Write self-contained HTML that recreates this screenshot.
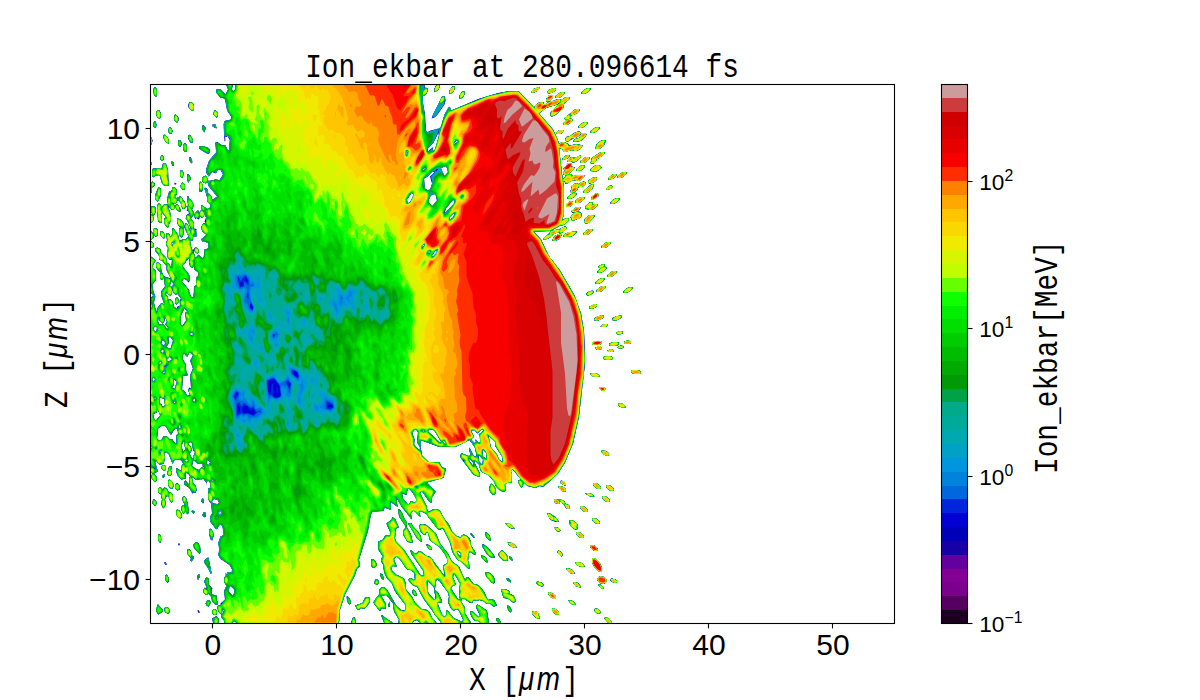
<!DOCTYPE html>
<html><head><meta charset="utf-8"><title>Ion_ekbar at 280.096614 fs</title>
<style>
html,body{margin:0;padding:0;background:#fff;overflow:hidden;}
svg{display:block;}
.tl{font-family:"Liberation Sans",sans-serif;font-size:30.0px;fill:#000;}
.tl2{font-family:"Liberation Sans",sans-serif;font-size:22.6px;fill:#000;}
.mono{font-family:"Liberation Mono",monospace;font-size:27.8px;fill:#000;}
.it{font-family:"Liberation Sans",sans-serif;font-style:italic;}
</style></head>
<body>
<svg width="1200" height="700" viewBox="0 0 1200 700">
<defs><clipPath id="ax"><rect x="150.0" y="84.0" width="745.0" height="540.0"/></clipPath></defs>
<g clip-path="url(#ax)">
<g transform="scale(0.5)" fill-rule="evenodd">
<path fill="#0000d5" d="M452 169l14 0-2 10 3 3 3-3 0-10 372 0 1 2 6-2 0 6 6 1 1 5-4 8-7 4 1 14 4 20 2 34 3 3 6-3 18-4 3-4 7-24 10-16 2 8 4-1 52-22 40-12 22-4 18 0 32 34 1-5 9-7 8 0 0 4 6 0 3-3-4-2 0-4 7-9 6 0 1 3-9 10 2 1 16-6 8 2 8-6 8 0 1 3-12 10-2 4 2 4-17 15-8 4-3-3 2-8 10-8 3-7-20 6-17 13 28 32 13 29 4-4 6 0 8 4 0 4 16-4 13 3-11 11-12-2-16 4-2-6-7-1 7 59 2 2 5-7-6-2 0-4 4-4-4-2 1-2 10-11 6 0-1 7 8 2-11 13 4 0 2 4 25-1-11 11-14-2-12 8-3-1-1-5-3 3 2 8 0 56-4 10 13-3 1 5-9 9-10 2-18 10-33 1 14 16 16 34 22 28 28 48 14 38 6 36 2 64-10 72-2 34-12 54-16 38-14 22-29 27-8-2-8 4-16-4-8-8-1 9-3 2-7-10 0-4 6-2-17-21-3 3 2 24-11 1-3 3 2 12-3 3-8-2-9-9-4-10-11-13-15-7-4-14-7-7-3 1 12 24-1 7-12-4-25-33-2-6 3-5 14 6 5-1-4-10 1-6 9 18 5 0-3-18-11-15-28 14-6 0-26 0-38-14-1 7 4 24 13 13 22 0 5 11 7 1 1 3-5 17-33 9 18 18-8 12-1 11-5-3-13-19-4 0-1 3 14 26 0 8 3 3 10-6 12 2 9 17 10 12 6 14 9 9 8 2 6-6 11 7 4 8 0 8 10 16-3 3-8-6-3 1-2 16 4 16-3 1-16-16-7-3-10-16-4-18-14-28-7 3-4-2-22-30-12-6-3 3 3 9-12-12-4 0-3 5 1 12-9-14-10-10-11-20 2 19-14-10 0 16-12-5-2 7-22 2-3 5-6 34-18 56 2 14-6 4-4 14-20 38-10 30-2 26-206 0-3-3-3 3-18 0 0-4-6-6 0-6-6-6-2-10 3-3 4 0 0-3 9-8-2-18 4-6 0-6-4-4 0-6 0-4 5-4-2-2 0-4 2 4 2-4 8 0 1-6-5-9-18-12-4-7 1-12-1-14 4-12 5-2 0-14-3-7-4 0-6 9-13-16 0-10 4-6-2-20-4-4-2-10 0-16 6-2-2-10-3-3-3 1-1 10 0-8-6-7-16 2-4-6-3 3 2 8 6 6 1 8-2 7-6-1 0 4-5-12-12-8 0-6 3-2 6 7 1-1 0-12 2-2-4-6-5-1 1 11-9 2-7-6-4-10 1-7 9 5 0-8 4-6-2-4-3-3-12 0-4 8-7-19-5-5-5 3 2 10-3 11-8 2-6-8-3 1 6 20-8 4 5 6 1 8-5 3-7-9 2-8-3-3 0-10 3-1-3-5 0-28 3-5-3-5 0-84 3 1-3-3 0-188 3-1-2-20 4-4-5-7 0-72 11 9-6 8 0 8 6 4 0 18-6 8 0 4 0 10 5 12-3 12 5 19 1-7 6-8 3-3 4 3 1-2-6-16 0-8 8-10-2-16-1-1-4 4-3-3 0-12-8-10 0-8 3-3 7 5 0 10 5 13 15 5-9-16-1-10-7-9-7-3 0-8-8-10 0-4 5-2 7 4 0 6 10 10 2 10 9 10 1-16-5 1-5-7 2-18-4-4 2-10-2-14 5-1 4 7 3-4 0-12 3-1 9 13 3 13 8-4 4 2 4-6 3 1-9-20-3 4 2 6-2 8-3 3-5-5 0-14 2-2-6-8 1-11 11 7 3 10 2-7 5 3 5 14 1-6-6-14-5-6 4-9 5 1-3-2 1-4-5-2 2-2-2-6-4 5-5-1-2-10-5-8-6 9-9-1 5 1 2 4 6-4 7 11-1 5-6-2-4-8-6 6-9-7 6 20 0 10-4 4-1 8-4-1-5-7 0-10 4-2-7-9-3 5 2 14-5 1-3-5-2-30 3-4 5 2 1 11 1-7 5-5 7 1-2-12 4-14 6-2 1-7 4 0 4 5 1 10-4 4 3 3 8-4 8 11 4 10 3-2-2-18 4 0 0 4 8 8 1 8-3 6 5 9 6-7 2 0 0 5 7-7-1-9 12 8 5-3 0-6-6-6 0-10-5-17 2-1 5 4 0 6 6 6 3 9 9-7-18-22 0-6-5 2-7-4 0-8 7-4 6 11 14-3 8 1 7-11-5-9-6 0-2 5-2 2-6-3-8 9-5-8 0-6 6-18 14-16-1-20 4-1 8 6 8 1 3 8 3 2 1-2 2-18-5-9-2 2-3-1 1 8-2 2-2-34 2-7 13-3 0-6-8-12-4-22-3-3-6-1-9-10 1-6 8-1 10 10 5-9zM813 300l-1 9 1 1 3-7zM823 386l-9 13 1 7 5-1 6-12 0-6zM829 860l-5 5 5 14-1 10 11 12 1-6-6-10 2-20-3-5zM849 336l-3 3 1 2 5-4zM877 265l-10 20-11 12-1 7 10-9 2 0-2 2 2 5 3-3 8-26zM891 332l-9 5 7 15 7-7-2-10zM905 400l-13 17-3 10 19-20 2-6zM913 280l-5 7 1 2 7-6zM963 858l-8 9-6-7-7 1 6 12-6 6 7 7 3-1-1-7 6 8 3-1 0-12-3-4 11-8zM977 871l5 24 12 14 4 10 7 5-1-11-14-22 0-8zM939 916l-1 5 9 11-1-7zM915 1102l-1 3 7 9 1-7zM445 1218l-1 9 1 1 3-7zM461 1172l-3 3 0 8 7 8 3-4 0-8zM307 755l-3 4 5 5 1-7zM311 652l-3 3 0 6 5 3 1-9zM315 818l-1 7-8 4 3 11 4 0 7-9zM317 635l-1 8 3 6 4-1 2-1-6-6zM325 680l-3 7 7 6 1-8zM329 632l0 11-4 4 10 12 1-4-6-6 4-6zM343 562l-3 9 5 4 1-10zM345 484l-1 3 1 4 5-6zM379 516l-13 13 0 6 10 10 4 8 0 8-3 4-6-7-4 0-3 5 15 18-1 4 4 8 5 3 1-23 4-2 0-16 4-4 0-6-7-6-2-7-2 4-5-3-2-6zM387 430l-5 7 6 8 0 12 5 1-1 11 2 2-1 2-7 0-1 9-5-1 2 12 3 8 6-7 7 7-3 7-6-6-2 1 4 13 6-7 8 7 3-3 1-14 7-2 0-12-13-4 0-4 4-1 5-7-7-6-3-8 5-9 5 1-3-4 3-8-3-5-6 6-4-6 0 7-2 2-4-3-2 3zM423 958l-1 3 3 1 1-1zM427 998l-3 5 1 3 10 2 3-3-3-5zM439 1022l-1 7 3 1 1-7zM815 978l-2 12-9-3 2 10 9 11 4 0 2-6 4 0 4 4 3-3 0-6-4-8-9-11zM833 972l-1 3 3 1 1-3zM847 488l-3 3 1 5 5-7zM865 342l-10 11-7 4 2 20 5 3 5-1 4-12-4-14 9-8zM869 388l-7 3-4 8 0 6 7 7 9-11-2-10zM887 880l-1 3 5 6 1-4zM907 426l-7 7-1 7 7-5 4-8zM957 910l1 13 7 7 1-11zM965 898l1 15 7 5-1-13zM309 794l-1 5 3 1 1-5zM321 722l-3 3 1 5 5-5zM323 697l-1 8 5 1 1-5zM345 580l-1 9-3 3-8-8-1 5 4 4 1 8 4-3 5 5 2 10 5 5 2-5 5-2-1-8 3-6-7-9-4 2-3-3zM369 616l-7 15 0 18 3 3 7-11-2-14 4-4zM379 704l-4 9-6-5-3 1 0 10 6 10 0 14 4 6-1 2-9 0-2 28 6 4 5 9 5-3-4-10 3-4 3 2-2-26 6-14-6-16 6-10zM381 664l-1 5 5 3 1-5zM387 796l-1 7 5 1-1-7zM415 919l-1 8 3 3 3-5zM849 860l-5 1 3 3 3-1zM859 500l-3 3 1 5 3-3zM873 498l-9 13 1 3 9-9zM329 740l-3 5 1 3 3-1zM337 674l1 13-4 4 0 4 7 3 5-17-5-7zM347 758l0 13-3 4 5 3 5-15zM367 881l-3 8 0 8 3 6 4-4zM375 916l-5 5 3 3 3-1zM381 884l-5 3 6 6 2 8-3 4-3 0 7 13 5-13-4-4-2-14zM857 860l-1 3 25 23 1-3-12-20-3-3zM329 792l-2 6-7-3 0 12 4 2 1 5 5-3zM339 714l-5 5 1 5 9-5zM347 802l-1 3 5 2 1-4zM359 848l-1 7 1 2 3-2zM387 920l-3 11 5 5 10 4 4-6 4 2 1-1-3-2 0-5-10 0zM323 852l-7 5-2 20 3 3 6 0 4-8 6 0 6 6 6 0 3 7 5 3-1-17 4-4-2-10-4 0-7 12-2 0-10-17zM321 900l-3 3 1 3 3-3zM872 171l8-2 0 4-5 9-6 2-1-5zM904 173l5-1 1 5-5 9-6 2-1-5zM308 175l3-1 3 5-1 15-5-3-2-10zM1067 178l12-4 1 3-13 9-5-1zM1104 177l7-1 1 5-15 7-3-5zM1172 177l9-1 1 3-11 9-8 0-1-3zM924 183l5-1 1 5-5 9-6 2-1-5zM1120 185l9-1 1 3-11 9-8 0-1-3zM884 193l6 0 1 8-2 8-14 20-6 6-6 2zM378 205l5-1 5 5 0 10-3 3-7-5-2-6zM1150 219l9-1 1 3-7 7-11 3-2 6 5 1 1 3-7 7-12 2-1-3 6-6-4-4zM314 221l5 0 3 6 0 8-3 3-7-7zM428 221l3-1 5 7 0 6-3 3-6-7zM350 229l6 4 2 6-3 6-6-4-1-10zM308 243l4 0 1 8-2 5-5-3zM1166 245l9-1 1 3-11 9-8 0-1-3zM425 249l6 0 2 8-8-4zM405 251l2-1 5 5-3 10-5-6zM338 255l3-1 4 7-2 7-4 0-3-5zM1190 255l9-1 1 3-11 9-8 0-1-3zM1118 261l9-1 1 3-7 5-8 0-1-3zM1147 266l12-4 4 6 8-2 3 3-9 11-10 4-9-1 3-5 11-3-1-5-24 14-5-3 0-4 5-5 6 0zM328 269l10 10-1 9-9-9zM379 269l7 10-1 7-4-1-5-8 0-6zM301 273l4 8-2 8-2 1zM356 281l6 0 2 8-3 5-5-3zM1202 281l10 0-4 10-9 7-8 0 1-9zM368 287l3-1 3 5-1 13-4 0-3-5zM398 293l17 1 5 5 0 6-3 3-6-2-13-9zM1200 305l9-1 1 3-16 12-7 9-4 0-3-3 4-4-2-4zM322 311l3-1 3 3 0 6-3 3-5-3zM1132 311l8 0-3 5-12 4-1-3zM1151 316l11-5 0 4-11 9-6 2-2-4-9 1 7-9zM378 315l3-1 3 5 1 6-2 2-5-6zM1170 315l9-1 1 3-11 9-8 0-1-3zM301 323l3 4-3 6zM342 323l6 2-1 7-3-1zM326 327l6 0 4 12 1 33-8 0-5-5-5-17-6 0-6 5-3-2 0-14 3-3 16 2zM1162 331l7-1 1 5-9 7-8 0-1-3zM1190 331l9-1 5 5-11 9-12-2-1-3zM360 341l5 0 3 6-3 9-5-3zM1244 345l9-1 1 3-11 9-8 0-1-3zM374 349l3-1 5 7-5 11-3-5zM1224 349l10 0-5 7-12 4-1-3zM1186 355l7-1 1 5-5 5-10 4-3-3 0-4zM305 363l5 4 0 4-6 4 0 10-3 1 1-21zM400 363l6 6 0 12-3 3-5-1 0-16zM1166 363l5 1 1 3-7 7-8 0-3 7-6 4 5 1 1 3-11 9-8 0-1-3 10-8-4-4 4-6-2-4 9-7 6 2zM349 365l4 2-1 2-3 0zM364 365l6 4-1 11-4 0-5-7zM1182 369l6 0-2 8-11 9-8 0-1-3zM1217 372l9 1-5 5-9 1zM316 375l6 2 0 14-7 13-5-7 0-6zM1184 393l11-7 3 3-2 4-11 7-3-3zM1152 399l17-5 1 3-11 9-8 0zM1230 397l9-1 1 3-11 9-8 0-1-3zM1140 403l6 0 0 6-7 5-6 0-1-5zM1179 405l6-1 0 6 10-2 1 3-11 9-14-2-1-5zM302 413l7 0 3 4-1 8-5 8 2 6-5 7-2-2 0-14 3-1zM1152 415l10 0-3 5-7 3 5-1 7 5-2 8-17 7-3-3 2-2-4-2 10-10-5 1-3-3zM1178 431l11-1 1 3-13 13-6 1-3-2 2-8zM1119 458l12-6 3 5-12 10 1 4-4 7-8 4-7-1 5-9 11-5-3-3-10 4-12 10-9 1 17-17zM306 459l7-3 3 3-1 12-4 3-2-3-3 6-5 3 0-20 6 8zM1176 459l9-1 1 3-11 9-8 0-1-3zM320 463l5-1 3 3 2 6-1 6-7-4zM1129 468l24-6 1 3-11 9-17-1zM301 483l2-1 5 5 0 6-3 3-4 0zM1212 485l9-1 1 3-11 9-8 0-1-3zM1196 533l13-5-1 5 5 1 1 3-11 9-8 0-1-3 6-6zM1224 543l9-1 1 3-11 9-8 0-1-3zM1200 557l9-1 1 3-11 9-8 0-1-3zM1202 573l9-1 1 3-11 9-8 0-1-3zM1256 575l9-1 1 3-11 9-8 0-1-3zM1185 581l3 2-3 5-10 4-3-3 3-5zM352 595l3 0 4 6-6 9-3-5zM1178 613l15-5 1 5-9 5-6 0zM1191 634l16-3 1 4-13 7-6-1-1-4zM1227 634l16-3 1 4-13 7-6-1-1-4zM1206 649l9-1 1 3-3 3-13-1zM1232 665l13-3 1 5-11 3zM1248 683l13-1 1 5-13 1zM1184 685l19-3 1 5-5 3-14 0zM1218 687l19-3 1 5-5 3-14 0zM1241 691l6 1 1 3-7 3-7-3zM1190 695l11-3 3 5-3 3-8-1zM1214 701l11-3 3 5-11 1zM1208 713l15-1 3 5-3 3-14 0-3-3zM1262 741l15-1 5 3 0 4-15 1-5-3zM1180 747l13-1 7 7-13 1zM1198 775l9-1 5 5-7 3zM1236 807l11 1 5 7-13-1zM1204 901l9 1 5 5 0 4-9-1-7-7zM324 931l5-1 3 3 0 6-3 3-7-5zM338 933l6 0-2 8 2 6-3 5-4 0-3-5zM324 953l5-5 1 3-3 5zM338 959l8 6 1 8-2 5-4 0-5-7 0-10zM1122 961l10 6-1 5-9-5-2-4zM352 967l3-1 5 5 0 8-5 2-5-4zM982 967l10 10 0 10-3 3-4 0-7-9 0-6zM1186 967l7-1 9 7 0 4-7 1-9-7zM1212 971l7-1 9 7 0 4-7 1-9-7zM1116 973l11 1 5 5 0 4-9-1zM318 975l3-1 4 4 4-3 4 1 6 9 2-1 5 5 0 14-3 3-5-7-1-7-5 1-2 6 2 10-5 8-5-8 2-10-2-10-6-4zM1170 987l11-1 8 7-8 1zM366 993l3-1 3 3 4 12 2 18-3 4-4-5-4 4-5-9 2-8 6 0-6-12zM1204 993l7-1 9 7 0 4-7 1-9-7zM404 997l3 0 0 10-5-4zM306 999l3-1 5 7-3 7-7-5zM1108 999l17 1 5 3 1 5 4 0 5 5 0 4-5 1-4-2-3-7-9-7 1 5-7 1-5-5zM1160 1013l7-1 9 7 0 4-7 1-9-7zM354 1019l5 2 5 8 0 6-3 3-9-9 0-8zM796 1019l3-1 5 7 4 12 6 8 0 10 8 14 3 17-10-2-9-15 0-8 4-4 0-6-12-18zM384 1021l6 2-3 5-4-5zM407 1025l4 0 1 8-3 2-5-4zM1094 1027l5-1 12 8 7 9-7 1-10-4zM784 1035l6 2 8 18-6 2-2 20 2 6 16 16 33 51 7 1-2-10-24-34-1-7 10 8 6-6 4 0 12 10 8 2 28 38-3-21 8-4 0-10-4-8-11-15-19-13-4-16-3-1-1 5-3 1-7-5-4-14 3-3 6 0 6 2 19 17 8 20 16 20 8 16 14 10 10 24 3 3 1-5 5-1 10 14 10 2 11 13 6 14 3 3 6-2 6 2 5 11-7 3-6-6-8 0-6-6-8-2-6 2-6-2-2 6-4 0-12-8-6 0-1 5 8 12 0 12 12 18-60 0-34-46-14-26-7-1-9-9-1-4 2-3 4 0 4 4 3-1-2-14-7-5-6 0-15-21-5-5-4 0-3 5 6 14-9-1-3 3 2 6 9 9 15 7 4 10 0 12 12 14 6 12 13 13 12 2 5 5 6 14 8 6-34 0-7-5-6 2-1 3-30 0 2-6-10-16-2-16-13-17-11 1 10 16 0 8-1 3-8-2-1 5-3 1-13-17 12-16 0-10 7-5 4 0 5 5 19 33 8 8 9 1 0-12-20-26-6-16-10-10-6-12-2-16-4-6 0-6 4-4-10-14 0-16 9-3 6-10 9 1 0-8-7-16 10-7zM855 1162l1 23 11 13 4 0-3-23zM873 1158l-3 21 6 6 8 16-1 5-7-1 0 4 8 20 5 5 3-3 0-10 3-1 12 16 18 8 1-5-8-18-5-3-6 4-5-5-6-12 2-12-2-8-16-22zM907 1148l-1 7 6 14-7 3-3 5 15 23 3-3-2-6 2-24-10-18zM1184 1037l7-1 9 7 0 4-7 1-9-7zM1138 1041l7-1 11 9-2 4 2 4-3 3-6-2-7-7zM816 1047l7-1 3 7 10 10 6 10 1 11-9-7zM1010 1047l11 1 9 9-5 1-8-4zM1109 1055l6-1 7 7-5 3-7-5zM421 1057l7 10-3 14-4-2-3-10 0-10zM970 1065l3-1 7 7 1 11-9-7zM1152 1065l7-1 9 7 0 4-7 1-9-7zM940 1067l3-1 7 9-3 1zM316 1069l3-1 3 3 1 8-2 7-5-5zM386 1089l9-5 5 7 2 12-3 5-11-11zM1015 1085l10 1 9 9-11-1zM356 1087l4 0-1 4-2 0zM852 1089l3-1 6 4 3 7-5 1zM964 1089l3-1 9 7 14 18-1 3-6 0-9-7-10-16zM1180 1091l7-1 9 7 0 4-7 1-9-7zM374 1099l5-1 3 3 2 10 3 2 1 4-5 6-3-2 2-4-8-10zM996 1107l9-7 11 13-1 9-8 0-9-9zM1116 1101l5 1 5 7-3 5-8-9zM962 1111l7 1 5 5 1 9-11-9zM1018 1113l6 2 1 7-7-5zM408 1121l9-6 6 32-2 0-3-8-10-14zM1184 1117l5-1 11 11 4 8-1 9-4 0-11-11-4-8zM742 1119l5-1 7 9 0 4-5 5-4 0-3-5zM328 1125l3-1 3 5-3 1zM1150 1125l11-1 9 9-11 1zM1132 1137l5-1 8 4 5 7-11-1zM970 1145l7-1 9 7 4 8 0 6-3 3-15-15zM760 1147l6 2 1 11-5-3zM332 1149l6 8 0 6-3 3-5-7zM396 1149l3 0 1 2-3 9-3-3zM1198 1153l11 1 5 9-5 5-10-2-5-7zM412 1155l6 2 0 12 7 8-3 4 2 8 9 2 2 19-4 0-7-7-2-10-5-5-6 2-5-7 3-8 5 2-6-14zM1012 1157l5-1 5 5 0 4-7-3zM1222 1157l7 1 6 5-2 3-6 0-7-5zM750 1159l5-1 3 5-3 7-7-3zM1074 1163l11 3 3 5-3 3-10-4-3-5zM1146 1165l7-1 7 5 2 6-11-3zM1196 1169l5-1 7 9-5 1zM827 1179l5 4 1 9-7-3-2-6zM1002 1179l9-1 8 4-1 5 10 4 4 12-5 3-10-8-10-2zM1096 1185l9 1 7 7 0 4-9-1-7-7zM693 1193l2-1 5 5 2 10-3 2-5-6zM730 1195l10 0 0 10-11 13-8-2-2 4-4 0-5-9 15-5zM414 1201l5-1 3 5-5 9-6-7zM1136 1201l7-1 9 9-7 1zM776 1213l4-10-1 11zM315 1209l2 0 3 6 6 4 0 4-9 6-5-6zM955 1209l19 12 4 24-18 0-3-3-8 0-5-7-4-8 1-5 4 0 12 12 3-3-8-16zM1014 1211l6 2 4 8-3 4-5-4zM330 1215l5-1 3 3 2 6-3 5-7-3-2-6zM1104 1217l7 1 7 7 0 4-5 1-6-4zM1190 1217l7 1 5 7-3 3-6-2-5-5zM426 1219l5-1 3 3-1 9-6 0-3-3zM395 1221l2-1 3 5-3 1zM1064 1223l11 1 5 13-9-1-7-9zM762 1231l3-1 8 8 13 7-18 0zM424 1237l9-5 5 5 0 8-12 0zM706 1235l4 0 2 10-10 0zM1210 1235l7 1 7 9-8 0-8-8zM992 1237l5-1 5 9-6 0-4-4z"/>
<path fill="#0025dd" d="M453 169l12 0-2 10 4 4 3-4 1-10 370 0 2 3 6-3 0 8 6 0 1 4-4 8-7 4 0 14 4 20 2 34 4 4 24-8 4-4 6-24 8-14 4 0 0 6 4-1 52-22 40-12 22-4 18 0 32 34 1-5 9-7 8 0 0 4 6 0 4-5 12-1 6-4 8 2 8-6 8 0 1 3-12 10-2 4 2 4-17 15-8 3-3-2 2-8 10-8 8-10-1-1-6 6-22 6-13 11 28 32 13 29 4-4 6 0 8 4 0 4 16-4 13 3-11 11-12-2-16 4-2-6-7-1 7 59 2 2 6-7-6-2-1-4 5-4-5-2 11-13 6 0-1 7 8 2-12 12 1 1 4 0 2 4 25-1-11 11-14-2-12 8-2-1-2-5-3 3 2 8 0 56-4 10 3 1 4-4 6 0 1 5-9 8-10 3-18 10-34 1 15 16 16 34 22 28 28 48 14 38 6 36 2 64-12 106-12 54-16 38-14 22-29 26-8-1-8 4-16-4-8-8-1 9-3 2-2-1-5-11 1-3 5-1-17-21-3 3 1 24-10 1-3 3 2 12-3 2-8-1-9-9-4-10-11-13-15-7-4-14-7-7-3 1 12 24-1 6-12-4-18-24 0-3-7-5-2-6 3-4 14 5 5-1-3-10 0-6 9 18 6 0-4-18-11-15-28 14-6 0-26 0-38-14-1 7 4 24 13 13 22 1 5 10 7 2 0 2-4 16-33 10 17 18-7 12-1 10-5-2-13-19-4 0-1 3 17 37 10-6 12 2 9 17 10 12 6 14 9 9 8 3 6-6 11 6 4 8 0 8 10 16-3 3-8-6-3 1-2 16 4 16-3 1-16-16-4 0-11-15-6-22-14-28-7 2-4-1-22-30-12-6-3 3 3 9-12-12-4 0-3 5 1 12-9-14-10-10-11-20-1 4 3 14-14-10 0 16-12-4-2 6-22 2-4 6-6 34-17 56 1 14-5 4-5 14-19 38-10 30-2 26-206 0-3-3-3 3-18 0 0-4-5-6 0-6-6-6-2-10 2-3 4 1 9-12-1-18 4-10-4-6 0-10 6-10 9 0 1-6-6-10-18-12-4-6 2-12-2-14 4-12 6-2 0-14-2-6-4-2-4 2-2 6-4 0-10-14 0-10 4-6-2-20-7-10 1-20 5-2-3-12-4-2-2 5-6-8-16 1-4-5-3 3 2 10 5 4 2 10-2 4-8-2-6-10-8-4 0-6 2-2 6 7 2-1-1-12 3-2-5-6-5-2 0 12-8 2-6-6-4-10 0-7 8 6 1-1 1-8 4-6-3-4-3-3-12 0-4 7-7-18-5-5-5 3 2 10-3 10-8 2-6-7-3 1 5 20-8 4 6 6 1 8-5 3-7-9 3-8-4-3 0-10 4-1-4-5 0-28 3-5-3-5 0-83 3 0-3-3 0-187 3-2-2-18 5-6-6-7 0-71 10 8-5 10 0 6 5 4 1 20-6 6-1 4 1 10 4 12-3 12 6 20 2-8 6-8 4-3 2 4 1-3-6-22 8-12-1-16-2-2-4 5-3-3 1-12-8-10-1-8 3-3 6 5 1 10 5 14 14 6 1-2-7-14-2-12-8-9-7-3 0-8-8-10 1-4 4-2 7 4 0 6 10 10 2 10 9 10 1-16-5 0-4-6 1-18-4-4 2-10-1-14 4 0 4 6 3-4 1-12 2 0 9 12 3 13 8-4 4 2 4-5 3 0-9-20 1-8 3-1 8 17 1-2-5-18-5-6 1-6 7-2-2-6-3-2-1-8 2-2-1-18 2 0 0 4 9 8 1 8-3 6 5 10 6-8 2 0 0 5 7-7-1-9 12 8 6-3 0-6-6-6-1-10-5-16 2-1 4 3 0 6 7 6 3 10 10-8-18-22 0-6-10 1-3-9 7-6 6 12 14-4 8 2 8-12-6-10-6 0-2 6-8-2-8 10-4-14 6-18 14-16-2-20 4 0 8 6 8 0 4 10 2 1 2-3 1-22-5-6-6 2-1-24 1-7 14-3 0-6-8-12-4-22-4-4-6 0-8-10 0-6 8 0 10 10 6-10zM473 784l-2 3 2 4 3-4zM485 564l-6 2 2 7 4-2zM489 811l-5 8 3 7 10 0 10 4 3-3-3-11-6 6-6-9zM491 554l0 5 4 7 0-6zM501 607l-1 8 5 4 0-8zM549 759l-14 2 0 20 4 6 2-1 2-17 4-3 0 26 4 3 8-1 2-5-3-18zM577 765l0 6 2 3 2-5zM587 743l2 8 6 4 0-9-4-4zM655 809l0 7 10-2 0-4zM813 300l-1 9 1 2 3-8zM823 386l-9 13 1 8 5-2 6-12 0-6zM829 860l-5 5 5 14-1 10 11 12 2-6-6-10 1-20-3-5zM851 335l-6 4 2 2 5-4zM877 264l-10 21-12 12 0 7 10-8 2 7 3-4 8-26zM891 331l-10 6 8 15 7-7-1-10zM905 400l-14 17-3 8 1 2 19-20 2-6zM913 280l-5 7 1 2 7-6zM963 858l-8 9-6-7-7 1 6 12-6 6 7 7 3-1-1-6 6 7 3-1 0-12-2-4 10-8zM977 870l-1 3 6 22 12 14 4 10 7 6-1-12-14-22 0-8zM939 916l-1 5 9 12-1-8zM915 1102l-1 3 7 10 1-8zM445 1218l-1 9 1 1 3-7zM461 1171l-4 4 0 8 8 8 3-4 1-8zM307 755l-3 4 5 5 1-7zM311 652l-3 3 0 6 5 3 1-9zM315 818l-2 7-4 0-3 4 3 11 4 0 8-9zM329 632l0 9-2 5-7-3-3-8-1 8 3 6 8 0 8 10 1-4-5-6 3-6zM343 561l-4 10 6 4 2-10zM345 484l-1 3 1 4 5-6zM379 515l-7 6-1 4-5 4 0 4 13 20 0 8-2 2-6-5-4 0-3 5 12 14 6 16 5 3 2-23 3-2 1-16 4-4 0-6-8-6-2-8-2 4-4-2zM387 429l-6 8 7 8 0 12 4 4 1 10 0 2-4-2-3 2-1 8-5 0 2 12 9 23 6-6 8 7 4-4 0-14 8-2 0-12-12-2-2-4 10-10-8-6-3-8 5-9 5 1 1-12-4-6-6 6-4-6 0 6-8 1zM423 957l-1 4 3 1 2-1zM427 997l-3 6 1 4 10 2 4-4-4-6zM441 1020l-4 3 2 8 4-2zM475 810l-2 17 2 4 5-10-1-8zM815 978l-2 12-8-4-1 1 2 10 9 11 4 0 2-6 4 0 4 4 3-3 0-6-8-14-5-5zM833 972l-1 3 3 1 1-3zM847 488l-3 3 1 6 5-8zM865 341l-10 12-7 4 1 20 6 4 6-2 4-12-4-14 8-8zM869 387l-8 4-4 8 0 6 8 7 9-11-2-10zM873 337l-2 2 2 4 3-4zM887 880l-1 3 5 6 1-4zM907 426l-7 7-1 8 7-6 4-8zM957 909l1 14 7 7 1-11zM965 898l1 15 7 6-1-14zM309 794l-1 5 3 1 1-5zM313 894l-3 3 1 1 3-1zM321 722l-3 3 1 6 5-6zM325 679l-3 8 7 6 1-8zM333 728l-5 5 1 2 7-6zM345 579l-4 13-8-8-1 5 3 4 2 8 4-3 4 5 3 10 5 5 8-7-1-8 2-6-7-10-4 2-3-2zM369 616l-7 15 0 18 3 3 7-11-1-16 4 0zM379 704l-4 9-6-6-4 2 1 10 5 10 1 14 3 6 0 2-9 0-2 28 5 4 6 9 5-3-4-10 7-2-2-26 5-14-5-16 5-10zM381 664l-1 5 5 3 1-5zM387 795l-2 8 6 1 2-3zM415 918l-2 9 4 3 4-5zM849 860l-6 1 4 3 3-1zM859 500l-3 3 1 5 3-3zM873 498l-9 13 1 4 9-10zM323 697l-1 8 5 1 1-5zM329 739l-4 6 2 3 3-1zM341 674l-6 1 2 12-3 4 0 4 7 3 5-17zM347 758l1 11-4 6 5 3 5-15zM367 881l-3 8 0 8 3 6 4-4zM375 915l-6 6 4 3 3-1zM381 884l-5 3 5 6 2 8-2 4-3 0 7 14 5-14-5-10-1-8zM857 860l-1 3 25 23 1-3-12-20-3-3zM329 791l-2 6-6-4-1 2 0 12 3 2 2 5 5-3zM339 713l-5 6 1 6 9-6zM347 802l-1 3 5 2 1-4zM359 847l-2 8 2 2 4-2zM387 919l-3 12 5 5 8 5 6-7 4 3 2-2-4-8-10 0zM323 852l-7 5-2 20 3 3 6 0 4-7 6-1 6 6 6 1 3 6 5 3 0-17 4-4-2-10-4-1-10 13-10-17zM349 841l-1 6 1 2 1-4zM321 900l-3 3 1 4 3-4zM872 171l7-2 1 4-5 9-6 1-1-4zM905 173l4 0 1 4-5 9-6 1-1-4zM308 175l3 0 3 4-1 14-4-2-2-10zM1067 178l12-4 1 3-13 9-5-1zM1097 180l14-4 1 5-15 7-3-3zM1173 177l8-1 0 3-10 8-8 1 1-5zM925 183l4 0 1 4-5 9-6 1-1-4zM1120 185l9-1 1 3-11 9-8 0-1-3zM1098 191l7-1 1 5-7 7-6 2-1-5zM885 193l4 0 2 8-2 7-16 23-8 5 0-5zM379 205l4-1 5 5 0 10-3 3-7-5-1-6zM1150 219l9-1 1 3-7 6-11 4-3 6 6 1 1 3-11 9-8 0-1-3 7-6-5-4zM314 221l5 0 3 6-1 8-2 3-7-7zM429 221l2 0 5 6 0 6-3 2-6-6zM351 229l5 4 1 6-2 6-6-4-1-10zM309 243l2 0 2 8-2 4-5-2zM1166 245l9-1 1 3-11 9-8 0-1-3zM425 249l6 0 2 8-7-4zM405 251l6 4-2 10-4-6zM338 255l3-1 4 7-2 7-4-1-2-4zM1191 255l8-1 0 3-10 8-8 1 1-5zM1118 261l9-1 1 3-7 5-8 0-1-3zM1147 267l12-5 3 5-7 7-12 3-8 6-5-2 0-4 5-5 6 0zM1164 267l7-1 2 3-8 11-10 4-9-1 3-4 10-3zM328 269l10 10-1 9-9-9-2-6zM376 271l5 0 4 8 0 7-4-1-3-4zM301 273l4 8-2 8-2 1zM357 281l4 0 2 6-2 6-4-2zM1203 281l9 0-4 10-9 7-8 0 2-9zM368 287l3 0 3 4-1 12-4 0-2-4zM399 293l16 2 4 4 0 6-2 2-6-2-12-8zM1200 305l9-1 1 3-17 12-4 7-6 2-3-3 4-4-1-4zM322 311l5 2 1 6-3 3-4-3zM1132 311l7 0-2 5-12 4-1-3zM1151 316l11-5 0 4-11 9-6 1-2-3-9 1 7-9zM379 315l2 0 2 4 0 8-4-6zM1170 315l9-1 1 3-11 9-8 0-1-3zM301 323l3 4-3 6 0-2zM343 323l4 2 0 6-2 0zM326 327l5 0 5 12 1 32-8 1-5-5-5-17-6 0-6 4-2-1 0-14 2-2 16 1zM1162 331l7-1 0 5-8 7-8 0-1-3zM1190 331l9-1 4 5-10 8-12-1-1-3zM361 341l4 0 2 6-2 9-5-3zM1244 345l9-1 1 3-11 9-8 0-1-3zM375 349l2 0 4 6-4 10-2-4zM1225 349l9 0-5 7-12 3-1-2zM1186 355l7-1 1 5-5 5-10 3-3-2 1-4zM305 363l5 4 0 4-6 4-1 10-2 1 1-21zM401 363l5 8-1 10-4 2-2 0-1-10zM1167 363l5 4-7 7-8 0-3 7-6 4 6 2-2 4-9 6-8 1 1-5 9-6-5-4 4-6-2-4 9-7 6 2zM365 365l5 4-1 11-4 0-4-7zM1182 369l6 0-4 10-9 7-8 0 1-5zM1222 371l4 2-5 5-9 1 5-7zM317 375l5 2 0 14-7 12-5-6 0-6zM344 375l5-1 4 5 0 10-3 4 3 4 8-4 8 10 3 10-3 5-4-1-3-10-7-8-4 9-9-1 5 2 2 3 6-4 6 11 0 4-6-1-4-9-6 7-8-9-1 2 5 14 1 12-7 16-6-8 0-10 3-2-7-10-3 6 1 14-4 0-3-4-2-30 3-4 5 2 1 12 1-8 5-5 7 1-1-12 4-14 5-2zM1184 393l11-7 3 3-2 4-11 7-3-3zM1152 399l17-5 1 3-11 9-8 0zM1231 397l8-1 0 3-10 8-8 1 1-5zM1140 403l6 0 0 6-7 5-6 0-1-5zM1179 405l6-1 0 6 10-2 1 3-11 9-14-2-1-5zM303 413l6 0 3 4-2 12-4 2 1 8-4 6-2-1 0-14 4-1zM1152 415l10 0-10 8 5 0 7 4-2 8-17 7-3-3 2-2-3-2 9-10-8-2zM1178 431l11-1 0 3-12 13-6 1-3-2 2-8zM354 437l7 1 7 9 1 8-3 4 1 8-4 8-5-4 1-14 2-2-6-8zM1119 458l12-6 3 5-13 10 2 4-4 7-8 4-7-1 5-8 12-6-4-3-10 4-12 10-9 1 17-17zM308 457l7 2 0 12-4 2-2-3-3 7-5 3 0-19 6 7-1-9zM1176 459l9-1 1 3-11 9-8 0-1-3zM321 463l4 0 4 6 1 6-3 3-7-9zM1129 468l24-6 0 3-10 8-17 0zM301 483l6 4 1 6-3 3-4 0zM1212 485l9-1 1 3-11 9-8 0-1-3zM388 501l5-6 5 6-3 7zM1197 533l12-5-1 5 5 1 0 3-10 8-8 1 0-3 6-6zM1224 543l9-1 1 3-11 9-8 0-1-3zM1201 557l8-1 0 3-10 8-8 1 1-5zM1202 573l9-1 1 3-11 9-8 0-1-3zM1257 575l8-1 0 3-10 8-8 1 1-5zM1172 587l13-6 3 4-13 6zM353 595l2 0 3 6-5 8-3-4zM1179 613l14-5 1 5-9 5-6 0zM1191 635l16-4 1 4-13 7-6-1-1-4zM1227 635l15-4 2 4-13 6-6-1zM1206 649l9-1 1 3-5 3-10-1zM1232 665l13-3 1 5-11 3zM1248 683l13-1 1 5-13 1zM1184 685l19-3 1 5-5 3-14 0zM1218 687l19-2 1 4-5 3-14-1zM1241 691l6 1 1 3-7 3-6-3zM1191 695l10-3 3 5-3 3-8-1zM1215 701l10-3 3 5-11 1zM1208 713l15 0 3 4-3 3-14-1-3-2zM1262 741l15 0 4 2 1 4-15 0-4-2zM1180 747l13-1 7 7-13 1zM553 785l0-12 3 4-1 10zM1198 775l9-1 5 5-7 3zM1236 807l11 1 4 7-12-2zM1204 901l9 1 5 5 0 4-9-1-7-7zM324 931l5-1 3 3 0 6-3 3-6-5zM339 933l4 0-1 8 2 6-3 5-4 0-3-5zM327 949l2 0 0 4-4 2zM339 959l7 6 1 8-2 4-4 0-5-6 0-10zM1123 961l9 6-1 5-9-5-2-4zM352 967l3-1 5 5-1 8-4 2-5-4zM983 967l9 10 0 10-3 2-4 0-6-8-1-6zM1186 967l7-1 8 7 1 4-7 1-8-7zM1212 971l7-1 8 7 1 4-7 1-8-7zM1117 973l10 1 5 5-1 4-8-1zM318 975l3-1 4 5 4-4 4 2 5 8 3-1 4 5 1 14-3 2-6-13-5 1-2 6 1 10-4 8-4-8 1-10-2-10-6-4zM1170 987l11-1 8 7-8 0zM366 993l6 2 3 12 3 18-3 4-4-6-4 5-4-9 1-8 6 0-5-12zM1204 993l7-1 8 7 1 4-7 1-8-7zM405 997l2 2 0 7-2 1-2-6zM307 999l2 0 5 6-3 7-6-5zM1108 999l17 1 6 8 4 0 5 5 0 4-9-2-3-6-9-7 1 5-7 1-5-5zM1160 1013l7-1 8 7 1 4-7 1-8-7zM355 1019l4 2 5 8-3 9-9-9 0-8zM797 1019l2 0 5 6 4 12 6 8 0 10 8 14 3 16-10-1-9-15 0-8 4-4 0-6-12-18zM385 1021l4 2-2 4-4-4zM407 1025l4 0 0 8-2 1-4-3zM1094 1027l5 0 12 7 7 9-17-4zM784 1035l6 2 7 18-6 2-1 20 2 6 16 16 33 51 7 1-2-10-24-34-1-7 10 8 6-5 4-1 12 10 8 2 28 39 1-4-4-18 8-4 0-10-4-8-11-15-19-13-4-16-3-1-4 6-7-5-4-14 3-3 6 0 6 2 19 17 8 20 16 20 8 16 14 10 10 24 3 4 1-6 5 0 10 13 10 2 11 13 6 14 3 3 6-2 6 3 4 10-6 2-6-5-8 0-6-6-8-2-6 2-6-2-2 5-4 1-12-8-6 0-1 5 8 12 0 12 12 18-60 0-34-46-14-26-7-1-9-9-1-4 2-3 4 0 4 4 3-1-2-14-7-5-6 0-15-21-5-5-4 0-3 5 5 14-8-1-3 3 2 6 9 9 15 7 4 10 0 12 12 14 6 12 13 13 12 2 11 19 7 6-22-2-11 2-7-5-6 2-1 3-29 0 1-6-10-16-2-16-13-17-11 1 9 16 1 8-3 3-6-2-2 5-2 0-12-16 11-16 1-10 6-5 4 1 5 4 19 33 12 10 5-1 0-12-20-26-6-16-10-10-5-12-3-16-3-6 0-6 3-4-9-14 0-16 8-3 6-9 9 0 0-8-7-16 11-8zM855 1161l1 24 11 13 4 0 1-5-4-10 1-8zM873 1158l-4 21 7 6 8 16-1 4-7 0 0 4 8 20 5 5 3-3 1-10 2 0 12 15 18 8 1-5-8-18-5-3-6 4-5-5-6-12 2-12-2-8-16-22zM907 1147l-1 8 6 14-7 3-3 5 15 23 3-3-2-6 2-24-10-18zM1184 1037l7-1 8 7 1 4-7 1-8-7zM1138 1041l7-1 11 9-2 4 2 4-3 3-13-9zM817 1047l6 0 3 6 10 10 6 10 1 10-9-6zM1011 1047l10 1 8 9-4 1-8-4zM1109 1055l6-1 6 7-2 3-6-2zM421 1057l7 12-5 12-5-14 0-8zM971 1065l9 6 1 10-9-6zM1152 1065l7-1 8 7 1 4-7 1-8-7zM941 1067l2 0 6 8-2 0zM316 1069l5 2 0 15-5-5zM387 1089l8-4 4 6 2 12-2 4-10-10zM1015 1085l10 1 9 9-11-1zM852 1089l9 3 2 7-4 1zM965 1089l10 6 11 12 3 9-6 0-9-7-9-16zM1180 1091l7-1 8 7 1 4-7 1-8-7zM375 1099l4-1 2 3 3 10 3 2 0 4-4 6-2-2 1-4-8-10zM996 1107l9-7 11 13-1 8-8 1-9-9zM1116 1101l5 2 5 6-3 4-8-8zM962 1111l7 1 5 5 1 8-11-8zM1019 1113l5 2 1 6-7-4zM409 1121l8-6 6 32-2 0-2-8-10-14zM1184 1117l5-1 11 11 4 8-1 9-4 0-11-11-4-8zM743 1119l4 0 6 8 0 4-4 4-4 0-2-4zM329 1125l2 0 2 4-2 0zM1150 1125l11-1 9 9-11 0zM1132 1137l5-1 8 4 5 7-11-1zM971 1145l6-1 9 7 3 8-2 8-15-14zM761 1147l4 2 2 10-4-2zM333 1149l5 8-3 8-5-6 0-8zM395 1151l4-2 0 6-4 4zM1199 1153l10 1 5 9-5 4-10-1-5-7zM413 1155l4 2 1 12 5 8 1 12 9 2 2 18-4 0-6-6-3-10-5-6-6 3-5-7 3-7 4 2 1-1-5-14zM1013 1157l4 0 4 4 0 4zM1223 1157l10 3 1 5-11-2-3-4zM751 1159l4 0 3 4-3 7-6-3zM1075 1163l10 3 3 5-3 2-10-4-3-4zM1146 1165l7-1 6 5 2 6-10-3zM1197 1169l4 0 7 8-5 1zM827 1179l7 8-1 5-4 0-5-7zM1002 1179l9-1 8 4-1 5 9 4 5 12-5 3-10-8-10-3zM1096 1185l9 1 7 7 0 4-9-1-6-7zM694 1193l5 4 2 6-2 6-5-6zM731 1195l8 0 0 10-10 13-8-2-2 3-4 1-4-9 14-5zM415 1201l4 0 2 4-4 8-6-6zM1137 1201l6-1 9 9-7 1zM779 1203l1 10-3 0 0-4zM315 1209l10 10 0 4-8 6-4-6zM955 1209l19 12 4 24-18 0-3-3-8-1-5-6-4-8 1-4 4-1 12 12 3-3-8-16zM1015 1211l4 2 4 8-2 4-4-4zM330 1215l5-1 3 3 1 6-2 4-6-2-3-6zM1104 1217l7 1 7 7 0 4-5 1-6-4zM1190 1217l7 1 5 7-3 3-6-2-5-5zM426 1219l5-1 2 3 0 8-6 1-2-3zM395 1221l2 0 2 4-2 0zM1064 1223l11 1 5 13-9-2-7-8zM763 1231l2 0 8 7 12 7-17 0zM431 1233l6 4 1 8-12 0-1-8 2 1zM706 1235l3 0 3 10-10 0zM1210 1235l7 1 7 9-8 0-7-8zM993 1237l4 0 5 8-6 0-3-4z"/>
<path fill="#0067dd" d="M453 169l12 0-2 10 4 4 4-4 0-10 370 0 2 3 5-3 0 8 7 0 1 2-5 10-6 4 6 68 4 4 20-8 3 2-11 26-12 12 0 8 10-9 2 7 3-4 11-38-4-4 6-4 6-24 10-15 2 7 4-1 70-28 44-10 18 0 32 34 1-5 9-6 8-1 0 4 6 0 4-5 12-1 6-4 8 2 8-5 8-1 1 3-12 10-2 4 1 4-16 15-8 3-3-2 2-8 10-8 8-10-1-1-6 5-22 7-13 11 28 32 13 29 4-4 6 0 8 5 0 3 16-4 13 3-11 10-12-1-16 4-2-6-7-1 7 59 2 2 6-7-6-2-1-4 5-4-5-2 11-13 6 0-1 7 8 2-12 12 1 1 4 0 2 4 25-1-11 11-14-2-12 8-4-6-3 3 2 8 0 56-4 10 3 1 4-4 6 0 1 5-9 8-10 3-18 10-34 1 15 16 16 34 22 28 28 48 14 38 6 36 2 64-12 106-12 54-16 38-14 22-29 26-8-1-8 3-16-3-8-8-1 9-3 2-2-1-5-11 6-4-17-21-3 3 1 24-10 1-3 3 2 12-3 2-8-1-9-9-4-10-11-13-15-7-4-14-7-7-3 1 12 24-1 6-12-4-18-24 0-4-6-4-2-6 2-4 14 5 5-1-3-10 0-6 9 18 6 0-4-18-11-16-28 15-6 0-26 0-38-14-1 7 4 24 13 13 22 1 5 10 7 2 0 2-4 16-34 10 18 18-7 12-1 10-4-2-14-19-4 0-1 3 17 37 10-5 12 2 9 16 10 12 6 14 9 9 8 3 6-6 10 6 4 8 1 8 10 16-3 2-8-5-3 1-2 16 3 16-2 0-16-15-4 0-11-15-6-22-14-28-7 2-4-1-22-30-12-6-3 3 3 8-12-11-4 0-3 5 1 12-9-14-9-10-12-20-1 4 3 14-14-10 0 16-12-4-2 6-22 2-4 6-6 34-17 56 1 14-5 4-5 14-19 38-10 30-2 26-205 0-4-3-4 3-17 0 0-4-5-6 0-6-6-6-2-10 2-3 4 1 10-12-2-16 4-12-4-6 0-10 6-10 9 0 1-6-6-10-18-12-4-6 2-12-2-14 4-11 6-3 0-14-2-6-4-2-4 2-2 6-4 0-10-14 0-10 4-6-2-20-7-10 1-20 5-2-2-12-5-2-2 4-6-8-16 2-4-5-3 3 2 10 5 4 2 10-2 4-8-2-6-10-8-4 0-6 2-2 6 8 2-2 0-12 2-2-4-6-6-2 0 12-8 2-6-6-4-10 0-7 8 6 1-1 1-8 4-6-2-4-4-4-12 1-4 7-7-18-5-5-5 3 2 10-3 10-8 2-6-7-4 1 6 20-8 4 6 6 0 8-4 3-6-9 2-8-4-3 0-10 4-1-4-5 0-28 3-5-3-5 0-83 4 0-4-4 0-186 3-2-1-18 4-6-6-7 0-71 10 8-5 10 0 6 5 4 0 20-6 6 0 4 1 10 4 12-3 12 6 20 2-8 7-10 6 2 0-6-5-12 0-8 7-10-1-16-2-2-4 4-3-2 1-12-8-10-1-8 3-3 6 5 1 10 5 14 14 6 1-2-7-14-2-12-8-9-6-3-1-8-8-10 1-4 4-2 6 4 1 6 10 10 2 10 9 10 1-16-5 0-4-6 1-18-3-4 1-10-1-14 4 0 4 6 3-4 1-12 2 0 8 12 4 14 8-4 4 1 4-5 3 0-9-20 1-8 3-1 8 17 1-2-5-18-5-6 1-6 7-2-6-14 3-4-2-18 2 0 0 4 9 8 1 8-3 6 5 10 6-8 2 5 7-7-1-8 12 8 6-4 0-6-6-6-1-10-5-16 2-1 4 3 0 6 7 6 3 10 10-8-18-22 0-6-10 1-3-9 7-6 6 12 14-4 8 2 8-12-6-10-6 0-2 6-8-2-8 9-4-7 0-6 6-18 14-16-2-20 4 0 8 6 8 0 4 10 2 1 2-3 1-22-5-6-6 1-1-23 1-6 14-4 0-6-8-12-4-22-4-4-6 0-8-10 0-6 8 0 10 10 6-10zM473 782l-6 11 4 7 7-11-1-4zM491 550l-10 12-4-9-2 1 4 21 8-2 2-10 8 8 0-11zM501 604l-2 11 6 6 2-8zM545 756l-11 5 1 22 4 8 4-1 6 6 10-1 3-4-2-20-11-14zM547 668l-2 3 2 4 4-6zM575 760l-3 5 7 16 3-14zM585 739l-2 2 1 6 11 10 3-4-3-9zM653 802l0 15 8 2 6-4-2-7zM813 300l-1 9 1 2 3-8zM823 385l-9 14 1 8 5-2 6-12 0-6zM829 860l-5 5 5 14-1 10 11 12 2-6-6-10 1-20-3-5zM851 335l-6 4 2 2 6-4zM865 341l-8 10-10 6 2 20 6 4 6-2 4-12-3-14 8-10zM873 337l-2 4 2 2 4-4zM891 331l-10 6 8 16 8-8-2-10zM905 399l-14 18-4 8 2 3 19-21 2-6zM913 280l-5 7 1 2 7-6zM963 858l-8 9-6-7-7 1 6 12-6 6 7 7 3-1-1-6 6 7 3-1 0-12-2-4 10-8zM977 870l-1 3 6 22 12 14 4 10 7 6-1-12-14-22 0-8zM939 916l-1 5 9 12-1-8zM915 1102l-1 3 7 10 1-8zM445 1217l-1 10 1 2 4-8zM461 1171l-4 4 0 8 8 9 3-5 1-8zM307 755l-3 4 5 5 1-7zM311 652l-3 3 0 6 5 3 1-9zM315 818l-2 7-4 0-3 4 3 11 4 0 8-9zM329 632l-2 14-7-3-3-8-1 8 3 6 8 0 8 10 1-4-5-6 3-6zM343 561l-4 10 6 4 2-10zM345 484l-1 3 1 4 1-4 4-2zM379 515l-7 6-1 4-5 4 0 4 13 20 0 8-2 1-6-4-4 0-4 5 12 14 6 16 6 3 2-23 3-2 1-16 4-4 0-6-8-6-2-8-2 4-4-2zM387 429l-6 8 7 8-1 12 5 4 1 10 0 2-4-2-3 2-1 8-5 0 2 12 9 24 6-7 8 7 4-4 0-14 8-2 0-12-12-2-2-4 10-10-8-6-2-8 4-9 5 1 1-12-4-6-4 6-6-6 0 6-8 1zM423 957l-1 4 3 1 2-1zM427 997l-4 8 2 2 10 2 4-4-4-6zM441 1020l-4 3 2 8 4-2zM473 807l0 26 10-7 4 3 6-2 14 5 10-9 4 2 1-2-3-2-6 3-6-10-6 2-14-11-4 9-4-9zM495 585l-2 9 4 4 0-10zM815 978l-2 11-8-3-1 1 2 10 9 11 4 0 2-5 4 0 4 3 3-3 0-6-8-14-5-5zM833 972l-1 3 3 1 1-3zM847 488l-3 3 1 6 5-8zM869 387l-8 4-4 8 0 6 8 7 10-11-3-10zM887 880l-1 3 5 6 1-4zM907 426l-7 7-1 8 7-6 4-8zM957 909l-2 4 3 10 7 7 1-11zM965 898l1 15 7 6-1-14zM309 794l-1 5 3 1 1-5zM307 934l-1 1 3 4 2-2zM313 894l-3 3 1 1 3-1zM321 722l-3 3 1 6 5-6zM325 679l-3 8 7 6 2-8zM333 728l-5 5 1 2 7-6zM335 675l2 12-4 4 0 4 8 3 6-17-6-7zM345 579l-4 13-8-8-1 5 3 4 2 9 4-4 4 5 2 10 6 6 8-8-1-8 3-6-8-10-4 2-3-2zM369 615l-7 16-1 18 4 3 8-11-2-16 5 0zM379 704l-4 9-6-6-4 2 0 10 6 10 0 14 4 6-1 2-9 0-1 28 5 4 6 9 5-3-4-10 7-2-2-26 5-14-5-16 6-10zM381 664l-2 5 6 4 2-6zM387 795l-2 8 6 1 2-3zM415 918l-2 9 4 4 4-6zM849 860l-6 1 4 3 3-1zM859 500l-3 3 1 5 3-3zM873 498l-9 13 1 4 9-10zM323 697l-1 8 5 2 1-6zM329 739l-4 6 2 3 3-1zM339 713l-5 6 1 6 10-6zM347 757l1 12-5 6 6 4 5-16zM367 881l-3 8 0 8 3 6 4-4zM375 915l-6 6 4 3 3-1zM381 883l-6 4 8 12-2 6-4 0 8 14 5-14-5-10 0-8zM857 860l-1 3 25 23 1-3-12-20-3-3zM329 791l-2 6-6-4-1 2 0 12 3 2 2 5 5-3zM347 802l-1 3 5 2 1-4zM387 919l-3 12 5 5 8 5 6-7 4 3 2-2-4-8-10 0zM323 852l-7 5-2 20 3 3 6 0 4-7 6-1 6 6 6 1 2 6 6 3 0-17 4-4-2-10-4-1-10 13-10-18zM349 841l-1 6 1 2 2-4zM359 847l-2 8 2 2 4-2zM321 900l-3 3 1 4 3-4zM873 171l6-2 1 4-5 8-6 2-1-4zM905 173l4 0 1 4-5 9-6 1-1-4zM308 175l3 0 2 4 0 14-4-2-2-10zM1067 178l12-4 1 3-13 9-5-1zM1097 180l14-4 1 5-15 6-3-2zM1173 177l8-1 0 3-10 8-8 1 1-5zM925 183l4 0 1 4-5 8-6 2-1-4zM1121 185l8-1 1 3-11 8-8 1-1-3zM1098 191l7-1 1 5-7 7-6 1-1-4zM885 193l4 0 0 14-16 24-8 5 2-9zM379 205l4-1 4 5 1 10-3 3-7-5-1-6zM1150 219l9-1 1 3-7 6-11 4-3 6 6 1 1 3-11 9-8 0-1-3 7-6-5-4zM314 221l5 0 3 6-1 8-2 3-6-7zM429 221l2 0 5 6 0 6-3 2-6-6zM351 229l5 4 1 6-2 6-7-6 0-8zM309 243l2 0 2 8-2 4-4-2zM1167 245l8-1 0 3-10 8-8 1 1-5zM425 249l6 0 2 8-7-4zM405 251l6 4-2 10-4-6zM338 255l3-1 4 7-2 7-4-1-2-4zM1191 255l8-1 0 3-10 8-8 1 1-5zM1118 261l9-1 1 3-7 5-8 0-1-3zM1147 267l12-5 3 5-7 7-12 3-8 6-5-2 0-4 5-4 6-1zM1164 267l7-1 2 3-8 10-10 5-9-1 3-4 10-3zM328 269l10 10-1 9-9-9-2-6zM377 271l4 0 4 8 0 6-4 0-3-4zM301 273l4 8-4 8zM357 281l4 0 2 6-2 6-4-2zM1203 281l9 0-4 10-9 7-8 0 2-9zM369 287l2 0 2 4 0 12-4 0-2-4zM399 293l16 2 4 4 0 6-2 2-6-2-12-8zM1200 305l9-1 1 3-17 12-4 7-6 2-2-3 3-4-1-4zM322 311l5 2-2 9-4-3zM1132 311l7 0-2 5-12 4-1-3zM1151 316l11-5 0 4-11 9-6 1-2-3-9 1 7-8zM379 315l2 0 2 4 0 7-4-5zM1170 315l9-1 1 3-11 9-8 0-1-3zM301 323l3 4-3 5 0-1zM343 323l4 2 0 6-2 0zM326 327l5 0 5 12 1 32-8 0-4-4-6-17-14 3 0-14 2-2 16 1zM1162 331l7-1 0 5-8 7-8 0-1-3zM1191 331l8-1 4 5-10 8-12-1 1-5zM361 341l4 1 2 5-2 8-5-2zM1244 345l9-1 1 3-11 9-8 0-1-3zM375 349l2 0 4 6-4 9-2-3zM1225 349l9 0-5 7-12 3-1-2zM1187 355l6-1 1 5-5 5-10 3-3-2 1-4zM305 363l4 4 0 4-5 4-1 10-2 1 1-21zM401 363l5 8-1 10-4 2-2 0-1-10zM1167 363l5 4-7 7-8 0-3 7-6 4 6 2-2 4-9 6-8 1 1-5 9-6-5-4 4-6-2-4 9-7 6 2zM365 365l5 4-1 10-4 1-4-7zM1182 369l6 0-4 10-9 6-8 1 1-5zM1222 371l4 2-5 5-9 1 5-7zM317 375l4 2 1 14-7 12-5-6 0-6zM345 375l4-1 4 5 0 10-3 4 3 4 8-4 8 10 3 10-3 5-4-1-3-10-7-8-4 9-4-2-5 1 5 2 2 3 6-3 6 10 0 4-6-2-4-8-6 7-8-9-1 2 5 14 1 12-7 16-6-8 0-10 3-2-7-10-3 6 1 14-4 0-3-4-2-30 3-4 5 2 1 12 2-8 4-4 7 0-1-12 4-14 5-2zM1192 387l6 2-2 4-11 7-3-3 2-4zM1152 399l17-5 1 3-11 9-8 0zM1231 397l8-1 0 3-10 8-8 1 1-5zM1140 403l6 0 0 6-7 5-6 0-1-5zM1179 405l6-1 0 6 8-2 3 3-11 9-14-2-1-5zM303 413l6 0 3 4-2 12-4 2 1 8-4 6-2-1 0-14 4-1zM1152 415l10 0-10 8 5 0 6 4-1 8-17 7-3-3 2-2-3-2 9-10-8-2zM1178 431l11-1 0 3-12 13-6 1-3-2 2-8zM354 437l7 2 6 8 2 8-3 4 1 8-4 8-4-4 0-14 2-2-6-8zM1121 458l10-5 3 4-13 10 2 4-4 7-8 4-7-1 5-8 12-6-4-3-10 4-12 10-9 1 17-17zM308 457l7 2 0 12-4 2-2-3-4 7-4 3 0-19 6 8-1-10zM1176 459l9-1 1 3-11 9-8 0-1-3zM321 463l4 0 4 6 1 6-3 3-7-9zM1129 468l24-5 0 2-10 8-17 0zM301 483l6 4 1 6-3 3-4-1zM1212 485l9-1 1 3-11 9-8 0-1-3zM388 501l5-6 5 6-3 7zM1197 533l12-5-1 5 5 1 0 3-10 8-8 1 0-3 6-6zM1224 543l9-1 1 3-11 9-8 0-1-3zM1201 557l8-1 0 3-10 8-8 1 1-5zM1202 573l9-1 1 3-11 9-8 0-1-3zM1257 575l8-1 0 3-10 8-8 1 1-5zM1173 587l12-6 3 4-13 6zM353 595l5 6-5 8-3-4zM1179 613l14-5 1 5-9 5-6-1zM1191 635l16-4 1 4-13 7-6-1zM1227 635l15-4 1 4-12 6-6-1zM1206 649l9-1 1 3-5 3-10-1zM1232 665l13-3 0 5-10 3zM1249 683l12-1 1 5-13 1zM1184 685l19-3 1 5-5 3-14 0zM1218 687l19-2 1 4-5 3-14-1zM1241 691l6 1 0 3-6 3-6-3zM1191 695l10-3 3 5-3 2-8 0zM1215 701l10-3 3 5-11 1zM1208 713l15 0 3 4-3 3-14-1-3-2zM1262 741l15 0 4 2 1 4-15 0-4-2zM1180 747l13-1 7 7-13 1zM1198 775l9-1 5 5-7 3zM1236 807l11 1 4 7-12-2zM1204 901l9 2 5 4 0 4-9-1-7-7zM324 931l5-1 3 3 0 6-3 3-6-5zM339 933l4 0-1 8 2 6-3 5-4 0-2-5zM327 949l2 0 0 4-4 2zM339 959l7 6 1 8-2 4-4 0-4-6-1-10zM1123 961l9 6-1 5-9-5-2-4zM353 967l7 4-1 8-4 2-5-4zM983 967l9 10-1 10-2 2-4 0-6-8 0-6zM1186 967l7-1 8 7 1 4-7 1-8-7zM1212 971l7-1 8 7 1 4-7 1-8-7zM1117 973l10 1 5 5-1 4-8-1zM318 975l3-1 4 5 4-4 4 2 5 8 3-1 4 5 1 14-3 2-6-13-6 1-1 6 1 10-4 8-4-8 1-10-2-10-6-4zM1170 987l11 0 8 6-8 0zM366 993l6 2 3 12 2 18-2 3-4-5-4 5-4-9 1-8 6 0-5-12zM1204 993l7-1 8 7 1 4-7 1-8-7zM405 997l2 2 0 7-2 0-2-5zM307 999l2 0 4 6-2 7-6-5zM1108 999l17 1 6 8 4 0 5 5 0 4-9-2-3-6-9-8 1 6-7 1-5-5zM1160 1013l7-1 8 7 1 4-7 1-8-7zM355 1019l4 2 4 8-2 9-9-9 0-8zM797 1019l2 0 4 6 5 12 5 8 1 10 8 14 3 16-10-1-8-15 0-8 3-4 0-6-11-18zM385 1021l4 2-2 4-4-4zM407 1025l4 0 0 8-2 1-4-3zM1094 1027l5 0 12 7 6 9-16-4zM785 1035l4 2 8 18-6 2-1 20 2 6 15 16 34 51 7 1-2-10-23-34-2-7 10 8 6-5 4 0 12 9 8 2 28 39 1-4-4-18 8-4 0-10-4-8-11-15-19-13-4-16-3-1-4 6-7-5-4-14 9-3 6 2 19 17 8 20 16 20 8 16 14 10 10 24 3 4 1-6 5 0 10 13 10 2 11 13 6 14 3 3 6-2 6 3 4 10-6 2-6-5-8-1-6-5-8-2-6 2-6-2-2 5-4 1-12-8-6 0-1 5 8 12 0 12 11 18-59 0-34-46-14-26-7-2-8-8-2-4 2-2 4 0 4 3 3-1-2-14-7-5-6-1-15-20-5-5-4 0-3 5 5 14-8-1-3 3 2 6 9 9 14 7 4 10 1 12 11 14 7 12 13 13 12 3 11 18 7 6-22-2-11 2-7-5-6 2-1 3-29 0 1-6-9-16-3-16-13-17-11 1 9 16 1 8-3 3-6-2-2 5-2 0-12-16 11-16 1-10 6-5 4 1 4 4 20 33 12 10 5-1 0-12-19-26-7-16-9-10-6-12-3-16-3-6 0-6 3-4-9-14 0-16 8-3 6-9 9 0 0-8-7-16 11-8zM855 1161l1 24 11 13 4 0 1-5-3-10 0-8zM873 1158l-4 21 6 6 8 16 0 4-7 0 0 4 8 20 5 5 3-3 1-10 2 0 12 15 18 8 1-5-8-18-5-3-6 3-5-4-5-12 1-12-2-8-16-22zM907 1147l-1 8 5 14-6 3-3 5 15 23 3-3-2-6 2-24-10-18zM1184 1037l7-1 8 7 1 4-7 1-8-7zM1139 1041l6 0 11 8-3 4 2 4-2 3-13-9zM817 1047l6 0 3 6 10 10 6 10 1 10-9-6zM1011 1047l10 1 8 9-4 1-8-4zM1109 1055l6-1 6 7-2 3-6-2zM419 1059l2-2 2 2 4 8 0 6-4 8-4-12zM971 1065l8 6 2 10-8-6zM1152 1065l7-1 8 7 1 4-7 1-8-7zM941 1067l2 0 6 8-2 0zM317 1069l4 2 0 14-5-4zM391 1085l4 0 4 6 2 12-2 4-10-10-2-8zM1015 1085l10 1 9 9-11-1zM852 1089l9 3 2 7-4 1zM965 1089l10 6 10 12 4 8-6 0-8-6-10-16zM1180 1091l7-1 8 7 1 4-7 1-8-7zM375 1099l6 2 3 10 3 2 0 4-4 6-2-2 2-4-8-10zM997 1107l8-6 11 12-1 8-8 0-8-8zM1117 1101l4 2 4 6-2 4-8-8zM963 1111l6 2 4 4 2 8-11-8zM1019 1113l4 2 2 6-7-4zM409 1121l8-6 6 32-2 0-2-8-10-14zM1184 1117l5-1 11 11 4 8-1 9-4 0-11-11-4-8zM743 1119l4 0 6 8 0 4-4 4-4 0-2-4zM329 1125l2 0 2 4-2 0zM1150 1125l11 0 9 8-11 0zM1133 1137l4-1 8 4 5 7-11-1zM971 1145l6 0 8 6 4 8-2 8-14-14zM761 1147l4 2 2 10-4-2zM333 1149l4 8-2 8-5-6 1-8zM397 1149l2 0 0 6-4 4zM1199 1153l10 1 5 9-5 4-10-1-5-7zM413 1155l4 2 1 12 4 8 1 12 10 2 2 18-4 0-6-6-2-10-6-6-6 3-5-7 3-7 4 3 2-2-6-14zM1013 1157l4 0 4 4 0 4zM1223 1157l10 3 1 5-11-2-3-4zM751 1159l4 0 2 4-2 6-6-2zM1075 1163l10 3 3 5-3 2-10-4-3-4zM1146 1165l7-1 6 5 2 6-10-3zM1197 1169l4 0 7 8-5 1zM827 1179l6 8 0 5-4-1-4-6zM1002 1179l9-1 8 5-1 4 9 4 4 12-4 2-10-7-10-3zM1096 1185l9 1 7 7 0 4-9-1-6-7zM694 1193l5 4 2 6-2 6-4-6zM731 1195l8 0 0 10-10 12-8-1-2 3-4 0-4-8 14-5zM415 1201l4 0 2 4-4 8-6-6zM1137 1201l10 2 5 6-7 1zM779 1203l1 10-3 0 0-4zM315 1209l10 10 0 4-8 6-4-6zM955 1209l18 12 5 24-18 0-3-3-8-1-5-6-3-12 4 0 12 11 3-3-7-16zM1015 1211l4 2 4 8-2 4-4-4zM330 1215l5-1 3 3 1 6-2 4-6-2-2-6zM1104 1217l7 1 7 7 0 4-5 1-6-5zM1190 1217l7 1 5 7-3 3-6-2-5-5zM426 1219l5 0 2 2 0 8-6 1-2-3zM1065 1223l10 1 5 13-9-2-7-8zM763 1231l2 0 8 7 12 7-17 0zM431 1233l6 4 1 8-11 0-2-8 2 1zM706 1235l3 0 3 10-9 0zM1210 1235l7 1 7 9-8 0-7-8zM993 1237l4 0 5 8-6 0-3-4z"/>
<path fill="#0082dd" d="M453 169l12 0-2 10 4 4 4-4 0-10 370 0 2 3 4-3 1 8 7 0 1 2-5 10-6 4 6 68 4 4 15-6 7 0-10 26-12 12 0 8 10-8 2 6 3-4 8-26 1-16 4-4 6-24 10-15 2 7 4-1 70-27 44-10 18 0 32 33 1-5 9-6 8 0 0 3 6 0 8-6 8 0 6-4 8 2 8-5 8-1 0 3-11 10-2 4 1 4-16 15-8 3-3-2 2-8 10-8 8-10-1-1-6 5-22 7-13 11 28 32 13 29 4-4 6 0 8 5 0 3 16-4 13 3-11 10-12-1-16 4-2-6-7-1 7 59 2 2 6-7-6-2-1-4 5-4-5-2 11-13 6 0-1 7 7 2-11 12 1 1 4 0 2 4 25-1-11 11-14-2-12 7-4-5-3 3 2 8 0 56-4 10 3 1 4-3 6-1 1 5-9 8-10 3-18 10-34 1 15 16 16 34 22 28 28 48 14 38 6 36 2 64-12 106-12 54-16 38-14 22-29 26-8-1-8 3-16-4-8-7-2 9-2 2-2-2-5-10 6-4-17-21-3 3 1 24-10 1-3 3 2 12-3 2-8-2-9-8-4-10-11-13-15-7-4-14-7-7-3 1 11 24 0 6-12-4-18-24 0-4-6-4-2-6 2-4 14 5 5-1-3-10 0-6 9 18 6 0-4-18-11-16-28 14-6 1-26-1-38-13 0 18-6-13 1-20-3-6-4 0-6 6 6 14-1 10 9 12 4-2 3 12 13 13 22 1 5 10 7 2-4 18-34 10 18 18-7 12-1 10-4-2-14-19-5 1 13 28 1 8 5 3 8-5 12 2 9 16 9 12 7 14 9 9 8 3 6-6 10 6 4 8 1 8 9 14 0 4-10-5-3 1-2 16 4 14-3 2-16-15-4 0-10-15-7-22-14-28-1-1-6 3-4-2-22-30-12-5-3 3 3 8-12-11-4 0-3 5 1 12-18-24-12-20-1 4 3 14-14-10 0 16-12-4-2 6-22 2-4 6-6 34-17 56 1 14-5 4-5 14-19 38-10 30-2 26-205 0-4-4-4 4-17 0 1-4-6-6 0-6-6-6-2-10 2-3 4 1 10-12-2-16 4-12-4-6 0-10 7-10 8 0 1-6-6-10-18-12-4-6 2-12-2-14 4-11 6-3 0-14-2-6-4-2-4 2-2 6-4 0-10-14 0-10 4-6-2-20-4-4-3-10 1-16 5-2-2-12-5-2-2 4-6-8-16 2-4-5-3 3 2 10 5 4 2 10-2 4-8-2-6-10-8-4 0-6 2-2 6 8 2-2 0-12 2-2-4-6-6-2 0 12-8 2-6-6-4-10 0-7 8 6 1-1 1-8 4-6-2-4-4-4-12 1-4 7-7-18-5-5-5 3 2 10-3 10-8 2-6-7-4 1 6 20-8 4 6 6 0 8-4 2-6-8 2-8-4-3 0-9 4-2-4-5 0-28 4-5-4-6 0-82 4 0-4-4 0-186 4-2-2-18 4-6-6-7 0-71 10 8-6 10 1 6 5 4 0 20-6 6 0 4 0 10 5 12-3 12 6 20 2-8 7-10 6 2 1-6-6-12 0-6 8-12-2-16-2-2-4 4-2-2 0-12-8-10-1-8 3-2 6 4 0 10 6 14 14 6 1-2-7-14-2-12-8-9-6-3-1-8-7-10 0-4 4-2 6 4 1 6 10 10 2 10 9 10 2-16-2-2-4 2-4-6 1-18-3-4 2-10-2-14 4 0 4 6 3-4 1-12 2 0 8 12 4 14 8-4 4 1 4-5 3 0-9-20 2-8 2 0 8 16 2-6-11-20 1-6 7-2-6-14 3-4-2-18 10 12 1 8-2 6 5 10 6-8 2 6 7-8-1-8 12 8 6-4 0-6-6-6-1-10-5-16 6 2 0 6 6 6 4 10 10-8-18-22 0-6-10 0-3-8 7-6 6 12 14-4 8 2 8-12-6-10-6 0-2 6-8-2-8 9-4-7 0-6 6-18 14-16-1-20 11 6 8 0 6 11 2-3 1-22-5-6-6 1-1-23 1-6 14-4 0-6-8-12-4-22-4-4-6 0-8-10 0-6 8 0 10 10 6-10zM471 781l-6 12 5 10 3 32 2 1 6-7 6 3 6-3 6 7 16-4 8-5 0-10-12 1-4-15-2 0 2 6-6 4-12-11-12-1 2-16zM489 549l-4 4-8-2-4 2 2 14 4 11 12-5 3 4 1 4-7 20 8 8 3 10 6 4 3-8-8-16-2-18 3-10-2-12-6-9zM505 567l-4 4 4 2 2-2zM554 665l-10 4 3 8 8-7zM585 737l-4 2 2 10 10 8 4 1 2-5-3-10zM651 799l-2 16 4 4 8 2 7-6-1-7-2-4zM683 593l-2 2 2 3 2-3zM813 300l-1 9 1 2 3-8zM823 385l-10 14 2 8 5-2 6-12 1-6zM851 334l-6 5 2 3 6-5zM873 337l-26 20 2 20 6 4 4 0 4-6 2-12-3-10 9-11 5-1 1-2zM891 331l-10 6 8 16 8-10-2-8zM913 280l-5 7 1 2 8-6zM963 858l-8 8-6-6-7 1 6 12-6 6 7 8 4-2-2-6 6 7 3-1 0-12-2-4 10-8zM977 870l-1 3 6 22 12 14 4 10 7 6-1-12-13-22-1-8zM939 916l-1 5 9 12 0-8zM833 972l-2 3 4 1 1-3zM915 1102l-1 3 7 10 1-8zM445 1217l-1 10 1 2 4-8zM461 1171l-4 4 0 8 8 9 4-5 0-8zM307 755l-3 4 5 6 2-8zM311 652l-4 3 1 6 5 3 2-9zM315 817l-2 8-4 0-3 4 3 11 4 1 8-10zM329 631l-2 15-7-3-3-8-2 8 4 6 8 0 8 10 2-4-6-6 3-6zM343 561l-4 10 6 4 2-10zM345 484l-1 3 1 5 1-5 4-2zM379 515l-7 6-1 4-5 4-1 4 14 20 0 8-2 1-6-5-4 0-4 6 12 14 6 16 6 4 2-24 3-2 1-16 4-4 0-6-8-6-2-8-2 4-4-2zM387 429l-6 8 6 8 0 12 5 4 1 10-2 2-4-2-2 10-5 0 2 12 9 24 6-7 8 7 4-4 0-14 8-2 0-12-12-2-2-4 10-10-8-6-2-8 4-8 4 2 1-2 1-12-4-6-4 6-6-6-1 6-7 1zM423 957l-2 4 6 2 0-2zM441 1020l-4 3 2 8 4-2zM545 755l-12 6 4 38 4-5 12 4 10-5-2-16 2-6 10 1 2 11 4 4 2-2 2-18-6-10-18 11-10-12zM815 978l-2 11-8-4-2 2 3 10 9 11 4 0 2-5 4 0 4 3 3-3 0-6-8-14-5-5zM847 488l-3 3 1 6 5-8zM869 387l-8 4-4 8 0 6 8 8 10-12-2-10zM887 880l-2 3 6 6 1-4zM909 399l-6 2-12 16-4 8 2 3 20-21 1-4zM957 909l-2 4 3 10 7 7 1-11zM965 898l1 15 7 6-1-14zM309 793l-1 6 3 2 2-6zM307 933l-2 2 4 4 2-2zM313 893l-3 4 1 1 3-1zM321 722l-4 3 2 6 5-6zM325 679l-3 8 7 6 2-8zM335 675l2 12-4 4 0 4 8 4 6-18-6-7zM345 579l-4 13-8-9-2 6 4 4 2 9 2-3 5 2 3 12 6 6 8-8 2-14-8-10-4 2-3-2zM369 615l-8 16 0 18 4 4 8-12-2-16 5 0zM379 703l-4 10-6-6-4 2 0 10 6 10 0 14 4 6-1 2-9 0-2 28 6 4 6 10 5-4-3-10 6-2-2-26 6-14-6-16 6-10zM381 663l-2 6 6 4 2-6zM387 795l-2 8 6 1 2-3zM415 918l-2 9 4 4 4-6zM427 997l-4 8 2 2 10 2 4-4-4-6zM849 859l-6 2 4 3 3-1zM859 500l-3 3 1 6 3-4zM873 498l-9 13 1 4 9-10zM907 426l-7 7-1 8 7-6 4-8zM323 697l-2 8 6 2 2-6zM333 728l-5 5 1 2 8-6zM339 713l-5 6 1 6 10-6zM347 757l0 12-4 6 6 4 6-16zM367 881l-4 8 0 8 4 7 4-5zM375 915l-6 6 4 4 4-2zM381 883l-6 4 8 12-2 6-4 0 8 14 5-14-5-10 0-8zM857 859l-1 4 25 23 2-3-13-20-3-3zM329 739l-4 6 2 4 4-2zM347 802l-2 3 6 2 2-4zM365 916l-2 1 4 4 2-2zM387 919l-4 12 6 6 8 4 6-6 4 2 2-2-4-8-10 0zM329 791l-2 6-6-4-2 2 1 12 3 2 2 6 5-4zM349 841l-1 6 1 2 2-4zM359 847l-2 8 2 2 4-2zM323 851l-8 6-1 20 3 4 6-1 4-7 6 0 6 6 6 0 2 6 6 4 0-18 4-4-2-10-4-2-10 14-10-18zM321 900l-3 3 1 4 3-4zM873 171l6-2 1 4-5 8-6 2zM905 173l4 0 1 4-5 8-6 2-1-4zM309 175l2 0 2 4 0 14-4-2-2-10zM1067 178l12-4 1 3-13 9-5-1zM1097 180l14-4 0 5-14 6-3-2zM1173 177l8 0 0 2-10 8-8 0 1-4zM925 183l4 0 0 4-4 8-6 2 0-4zM1121 185l8-1 0 3-10 8-8 1 1-5zM1098 191l7-1 1 5-7 7-6 1-1-4zM885 193l4 0-1 16-16 22-7 5 2-9zM379 205l4-1 4 5 1 10-3 3-6-5-2-6zM1151 219l8-1 0 3-6 6-12 4-2 6 6 1 1 3-11 9-8 0-1-3 7-6-4-4zM314 221l5 0 2 6 0 8-2 3-6-7zM429 221l2 0 5 6-1 6-2 2-6-6zM351 229l4 4 2 6-2 6-7-6 1-8zM309 243l2 0 2 8-2 4-4-2zM1167 245l8 0 0 2-10 8-8 0 1-4zM426 249l5 0 2 7-7-3zM405 251l6 4-2 9-4-5zM338 255l3-1 4 7-2 7-4-1-2-4zM1191 255l8 0 0 2-10 8-8 0 1-4zM1118 261l9-1 1 3-7 5-8 0-1-3zM1157 263l5 4-7 7-12 3-8 6-5-2 1-4 4-4 6-1 6-5zM1164 267l7-1 2 3-8 10-10 5-8-1 2-4 10-3zM329 269l8 10 0 8-6-4-4-8zM377 271l4 0 4 8 0 6-4 0-2-4zM301 273l4 8-4 8zM357 281l4 0 2 6-2 6-4-2zM1203 281l8 0-3 10-9 7-8 0 2-9zM369 287l2 0 2 4 0 12-4 0-2-4zM399 293l16 2 4 4 0 6-2 2-6-2-12-8zM1201 305l8-1 0 3-16 12-4 7-6 2-2-3 3-4-1-4zM322 311l5 2-2 9-4-3zM1132 311l7 0-2 4-12 5-1-3zM1151 316l11-5 0 4-11 9-6 1-2-3-9 1 7-8zM379 315l4 4 0 7-4-5zM1171 315l8-1 0 3-10 8-8 1 0-3zM301 323l2 4-2 5 0-1zM343 323l4 2 0 6-2 0zM327 327l4 0 4 12 2 32-8 0-4-4-6-17-14 3 0-14 2-2 16 1zM1163 331l6-1 0 5-8 6-8 1-1-3zM1191 331l8 0 4 4-10 8-12-2 1-4zM361 341l4 1 2 5-2 8-4-2zM1245 345l8-1 0 3-10 8-8 1 0-3zM375 349l6 6-4 9-2-3zM1225 349l9 0-5 7-12 3-1-2zM1187 355l6-1 1 5-9 7-8 0 0-5zM305 363l4 4 0 4-5 4-1 10-2 1 2-21zM401 363l5 8-1 10-4 2-2 0-1-10zM1167 363l4 4-6 7-8 0-3 7-6 4 5 2-1 4-9 6-8 0 1-4 9-6-5-4 4-6-2-4 9-6 6 2zM365 365l5 4-1 10-4 1-4-7zM1183 369l5 0-4 10-9 6-8 1 1-5zM1223 371l3 2-5 5-9 1 5-7zM317 375l4 2 1 14-7 12-5-6 0-6zM345 375l4-1 5 7-1 8-4 4 4 4 8-4 2 1 9 19-3 4-4 0-3-10-7-8-4 9-4-2-5 1 5 2 2 4 6-4 6 10 0 4-6-2-4-8-6 7-8-9-1 2 5 14 1 12-7 16-6-8 0-10 3-2-7-10-3 6 1 14-4 0-3-4-1-30 2-4 5 2 1 12 2-8 4-4 7 0-1-12 4-14 5-2zM1192 387l6 2-2 4-11 7-3-3 2-4zM1152 399l17-5 0 3-10 8-8 1zM1231 397l8 0 0 2-10 8-8 0 1-4zM1140 403l6 0 0 6-7 5-6 0-1-5zM1179 405l6-1 0 6 8-2 2 3-10 8-14-1 0-5zM303 413l6 0 3 4-2 12-4 2 1 8-4 6-2-1 0-14 4-1zM1152 415l10 0-10 8 5 0 6 4-1 8-17 7-2-3 1-2-3-2 9-10-8-2zM1178 431l11 0 0 2-12 13-6 1-3-2 2-8zM355 437l6 2 6 8 2 8-3 4 1 8-4 8-4-4 0-14 2-2-6-8zM1121 458l10-5 3 4-13 10 2 4-4 7-8 4-6-1 4-8 12-6-4-3-10 4-8 8-13 3 17-17zM308 457l7 2 0 12-4 2-2-3-4 7-4 3 0-19 6 8-1-10zM1177 459l8-1 0 3-10 8-8 1 0-3zM321 463l4 0 4 6 1 6-3 2-6-8zM1129 468l24-5 0 2-10 8-17 0zM301 483l6 4-2 9-4-1zM1213 485l8-1 0 3-10 8-8 1 0-3zM391 495l2 0 5 6-3 6-7-6zM1197 533l12-5-1 5 5 2 0 2-10 8-8 0 6-8zM1225 543l8-1 0 3-10 8-8 1 0-3zM1201 557l8 0 0 2-10 8-8 0 1-4zM1203 573l8-1 0 3-10 8-8 1 0-3zM1257 575l8 0 0 2-10 8-8 0 1-4zM1173 587l12-6 2 4-12 6zM353 595l5 6-5 8-3-6zM1179 613l14-5 0 5-8 5-6-1zM1191 635l15-4 2 4-13 6-6 0zM1227 635l15-4 1 4-12 6-6-1zM1206 649l9-1 1 3-5 3-10-1zM1232 665l13-2 0 4-10 3zM1249 683l12-1 0 5-12 1zM1184 685l19-3 1 5-5 3-14 0zM1219 687l18-2 0 4-4 2-14 0zM1241 691l6 2 0 2-6 3-6-3zM1191 695l10-3 3 5-3 2-8 0zM1215 701l10-3 3 5-11 1zM1209 713l14 0 3 4-3 2-14 0-3-2zM1262 741l15 0 4 2 1 4-15 0-4-2zM1180 747l13-1 7 7-13 1zM1198 775l9-1 5 5-7 3zM1236 807l11 1 4 7-12-2zM1204 901l9 2 5 4 0 4-9-1-6-7zM324 931l5-1 3 3 0 6-3 2-6-4zM339 933l4 0-1 8 2 6-3 4-4 0-2-4zM327 949l2 0 0 4-4 2zM339 959l7 6 1 8-2 4-4 0-4-6-1-10zM1123 961l9 6-1 5-9-5-2-4zM353 967l6 4 0 8-4 2-4-4zM983 967l8 10 0 10-2 2-4 0-6-8 0-6zM1186 967l7-1 8 7 1 4-7 1-8-7zM1212 971l7-1 8 7 1 4-7 1-8-7zM1117 973l10 1 5 5-1 4-8-1zM318 975l7 4 4-4 4 2 5 8 3 0 4 4 1 14-3 2-6-14-6 2-1 6 1 10-4 7-4-7 1-10-2-10-5-4zM1171 987l10 0 8 6-8 0zM366 993l6 2 3 12 2 18-2 3-4-5-4 5-4-9 1-8 7 0-6-12zM1204 993l7-1 8 7 1 4-7 1-8-7zM405 997l2 4-2 5-2-5zM307 999l2 0 4 6-2 6-6-4zM1108 999l17 1 6 8 4 0 5 5 0 4-9-2-3-6-9-8 1 6-7 1-5-5zM1160 1013l7-1 8 7 1 4-7 1-8-7zM355 1019l4 2 4 8-2 8-9-8 1-8zM797 1019l2 0 4 6 5 12 5 8 1 10 7 14 4 16-10-2-8-14 0-8 3-4 0-6-11-18zM385 1021l4 2-2 4-4-4zM407 1025l4 1 0 7-2 1-4-3zM1095 1027l4 0 12 7 6 9-16-4zM785 1035l4 2 8 18-6 2-1 20 2 6 15 16 34 51 7 1-2-10-23-34-2-6 10 7 6-5 4 0 12 9 8 3 28 38 1-4-3-18 7-4 0-10-4-8-11-15-19-13-4-16-3-1-4 6-6-5-4-14 6-3 8 3 18 16 9 20 15 20 9 16 13 10 11 24 3 4 2-6 4 0 10 13 10 3 10 12 7 14 3 3 6-1 6 2 4 10-6 2-6-5-8-1-6-5-8-2-6 2-6-2-2 5-4 0-12-7-6 0-1 5 7 12 1 12 11 18-59 0-33-46-15-26-7-2-8-8-2-4 2-2 4 0 4 3 3-1-2-14-7-5-6-1-15-20-5-5-4 0-3 5 5 14-8-1-3 3 2 6 9 9 14 7 4 10 1 12 11 14 7 12 13 13 12 3 11 18 7 6-22-2-11 2-7-5-6 2-1 3-29 0 1-6-9-16-2-16-14-17-12 1 10 16 0 8-2 2-6-1-2 5-2 0-12-16 12-16 0-10 6-4 4 0 4 4 20 33 12 10 5-1 0-12-19-26-7-16-9-10-6-12-3-16-3-6 0-6 3-4-9-14 0-16 8-3 6-9 9 0 0-8-7-16 11-8zM855 1161l1 24 11 13 4 0 1-5-3-10 0-8zM873 1158l-4 21 6 6 8 16 0 4-7 0 0 4 8 20 5 5 3-3 1-10 2 0 12 15 18 8 1-5-8-18-5-3-6 3-4-4-6-12 1-12-2-8-16-22zM907 1147l-1 8 5 14-6 3-3 5 15 23 3-3-2-6 2-24-10-18zM1184 1037l7-1 8 7 1 4-7 1-8-7zM1139 1041l6 0 10 8-2 4 2 4-2 2-12-8zM817 1047l6 0 3 6 9 10 6 10 2 10-8-6zM1011 1047l10 2 8 8-12-3zM1110 1055l5 0 6 6-2 3-6-2zM419 1059l4 0 4 8 0 6-4 8-4-12zM971 1065l8 6 2 10-8-6zM1152 1065l7-1 8 7 1 4-7 1-8-7zM941 1067l2 0 6 8-2 0zM317 1069l4 2 0 14-4-4zM391 1085l4 0 4 6 2 12-2 4-10-10-2-8zM1015 1085l10 1 9 9-11-1zM853 1089l8 4 2 6-4 0zM965 1089l10 6 10 12 4 8-6 0-8-6-10-16zM1180 1091l7-1 8 7 1 4-7 1-8-7zM375 1099l6 2 3 10 3 2 0 4-4 5-2-1 2-4-8-10zM997 1107l8-6 10 12 0 8-8 0-8-8zM1117 1101l4 2 4 6-2 4-8-8zM963 1111l6 2 4 4 2 8-10-8zM1019 1113l4 2 2 6-6-4zM415 1115l2 1 6 30-2 1-2-8-10-14 0-4zM1184 1117l5-1 11 11 4 8-1 9-4 0-11-11-4-8zM743 1119l4 0 6 8 0 4-4 4-4 0-2-4zM329 1125l2 0 2 4-2 0zM1150 1125l11 0 8 8-10 0zM1133 1137l4-1 8 4 5 7-11-1zM971 1145l6 0 8 6 4 8-2 8-14-14zM761 1147l4 2 2 10-4-2zM333 1149l4 8-2 8-4-6 0-8zM397 1149l2 0 0 6-4 4zM1199 1153l10 1 5 9-7 5-8-2-5-7zM413 1155l4 2 0 12 5 8 1 12 10 2 2 18-4 0-6-6-2-10-6-6-6 3-5-7 3-7 4 3 2-2-6-14zM1013 1157l4 0 4 4 0 4zM1223 1157l10 3 1 5-11-2-3-4zM751 1159l4 0 2 4-2 6-6-2zM1075 1163l10 3 3 5-3 2-10-4-3-4zM1146 1165l7 0 6 4 2 6-10-3zM1197 1169l4 0 7 8-5 1zM1002 1179l9 0 8 4-2 4 10 4 4 12-4 2-10-7-10-3zM825 1181l2-2 4 4 2 8-6-2zM1096 1185l9 2 7 6 0 4-9-2-6-6zM694 1193l5 4 2 6-2 6-4-6zM731 1195l8 0 0 10-10 12-8-1-2 3-4 0-4-8 14-5zM415 1201l4 0 2 4-4 8-6-6zM1137 1201l10 2 5 6-7 1zM779 1203l0 10-2 0 0-4zM955 1209l18 12 4 24-17 0-3-3-8-1-4-6-4-12 4 0 12 11 3-3-7-16zM313 1223l4-14 2 6 6 4 0 4-8 6zM1015 1211l4 2 4 8-2 4-4-4zM330 1215l5-1 2 3 2 6-2 4-6-2-2-6zM1104 1217l7 1 7 7 0 4-5 1-6-5zM1191 1217l6 1 5 7-3 3-6-2-5-5zM426 1219l7 2 0 8-6 0-2-2zM1065 1223l10 1 5 13-9-2-7-8zM763 1231l2 0 8 7 12 7-17 0zM431 1233l6 4 0 8-10 0-2-8 2 1zM707 1235l2 0 3 10-9 0zM1210 1235l7 1 7 9-8 0-7-8zM993 1237l4 0 5 8-6 0-3-4z"/>
<path fill="#0095dd" d="M453 169l12 0-2 10 4 4 4-4 0-10 370 0 2 4 4-3 1 7 7 0 0 2-4 10-7 4 7 68 4 4 22-6-10 25-12 13-2 4 2 4 10-7 2 5 3-4 8-26 1-16 4-4 6-23 6-13 4-3 2 7 4-1 70-27 44-10 18 0 32 33 1-5 9-6 8 0 0 3 6 0 8-5 8-1 6-4 8 2 8-5 8 0-1 4-10 8-2 4 1 4-16 15-8 3-3-2 2-8 10-8 9-10-2-1-6 5-22 7-13 11 27 32 10 20 1 6 3 3 4-3 6-1 8 5 0 3 16-4 12 3-4 7-8 4-10-2-16 4-2-6-7-1 7 60 2 1 6-7-6-2-1-4 5-4-5-2 11-13 6 0-1 7 7 2-11 12 1 1 4 0 2 4 25-1-11 10-14-1-12 7-4-5-3 3 2 8 0 56-4 10 3 1 4-3 6-1 0 5-8 8-10 3-18 9-34 2 14 16 17 34 21 28 28 48 14 38 6 36 2 64-12 106-12 54-16 38-14 22-28 26-8-1-8 3-16-4-8-7-2 9-4 0-4-12 5-2-17-21-3 3 1 24-10 1-3 3 1 12-2 2-8-2-8-8-5-10-11-13-14-7-4-14-8-7-4 1 12 24 0 6-12-4-18-24 0-4-6-4-2-6 2-4 14 6 5-2-3-10 0-5 9 17 6 0-4-18-11-16-28 14-6 1-26-1-38-13 0 16-6-11 2-20-4-6-4 0-6 6 6 14-2 10 10 12 4-1 3 11 13 13 22 1 5 10 7 2-4 18-34 10 18 18-7 12-1 10-4-2-14-20-5 2 13 28 1 8 5 3 8-5 12 2 25 42 9 9 8 3 6-6 10 6 4 8 1 8 9 14 0 4-10-5-3 1-2 16 4 12-1 4-2 0-16-15-4 0-10-15-7-22-13-28-2-1-6 3-4-2-22-30-12-5-3 3 3 8-12-11-4 0-3 5 1 11-18-23-12-20-2 4 4 14-14-10 0 16-12-5-2 7-22 2-4 6-6 34-18 56 2 14-6 4-4 14-20 38-9 30-2 26-205 0-4-4-4 4-16 0 0-4-6-6 0-6-6-6-2-10 2-3 4 1 10-12-2-16 4-12-4-6 0-10 7-10 8 0 1-6-6-10-18-12-4-6 2-12-2-13 4-12 6-3 0-14-2-6-4-2-4 2-2 6-4 0-10-14 0-10 4-6-2-20-4-4-3-12 1-14 5-2-1-12-6-2-2 3-6-7-16 2-4-6-3 4 2 10 5 4 2 10-2 4-8-2-6-10-8-4 0-6 2-2 6 8 2-2 0-12 2-2-4-6-6-2-2 4 2 8-8 2-6-6-4-10 0-6 8 6 1-2 1-8 4-6-2-4-4-4-12 0-4 8-6-18-6-6-5 4 2 10-3 10-8 2-6-8-4 2 6 20-8 4 6 6 0 8-4 2-6-8 2-8-4-3 0-9 4-2-4-6 0-26 4-6-4-6 0-82 4 0-4-4 0-186 4-2-2-18 4-6-6-8 0-70 10 8-6 10 1 6 5 4 0 20-6 6 0 4 0 10 5 12-3 12 6 20 2-8 8-10 4 3 2-3-6-20 0-4 8-10-2-18 12 4 1-2-7-14-2-12-8-10-6-2-1-8-7-10 0-4 4-2 6 4 0 6 10 10 3 10 9 10 2-16-2-2-4 2-4-6 1-18-3-4 2-10-2-14 4 0 4 6 3-4 1-12 2 0 8 12 4 14 8-4 4 1 4-5 3 0-8-20 1-8 2 0 8 17 2-7-11-20 1-6 8-2-7-14 3-4-2-18 10 12 1 8-3 6 6 10 6-7 2 5 7-8-1-8 12 8 6-4 0-6-6-6 0-10-6-16 6 2 0 6 6 6 4 10 10-8-18-22 0-8 14-4 8 2 6-6 2-8-6-8-6 0-3 6-7-2-8 9-4-7 0-6 6-18 14-16-1-20 11 6 7 0 3 8 4 3 1-1 2-24-5-6-6 0-1-22 1-6 14-4 0-6-8-12-4-22-4-4-6 0-8-10 0-6 8 0 10 10 6-10zM489 546l-4 4-14 1-2 4 4 16 6 9 10-4 3 3-5 24 11 18 7 3 3-9-7-18-1-16 2-6 6-2 1-4-4-6-4 3-1-11zM555 662l-10 3-2 4 0 6 4 4 8-4 3-6zM573 624l2 5 2-1 0-3zM605 762l-5 7 2 10-6 22 3 6 0-16 7-10 1-10zM631 810l-2 5 4 7 4-7zM653 795l-4 1-2 14-6 1-1 4 21 9 8-7-1-8-3-9-6 0zM669 602l-3 5 7 18 2 1-2-17zM679 588l0 21 4 3 4-15-2-5zM699 582l-3 9-4 4 5 9 2-1-2-9 6-1 1-4-1-5zM813 300l-1 9 1 2 3-8zM823 385l-10 14 2 8 5-2 6-12 1-6zM851 334l-6 5 2 3 6-5zM875 337l-6 4-4 0-8 10-10 6 2 20 6 4 4 0 4-6 2-10-2-12 14-14zM891 331l-10 6 8 16 8-10-2-8zM913 279l-6 8 2 2 8-6zM925 391l-4 2 2 2 4-2zM963 858l-8 8-6-6-7 1 6 12-7 6 8 8 4-2-2-6 6 8 4-2-1-12-2-4 10-8zM977 870l-1 3 6 22 11 14 5 10 7 6-1-12-13-22-1-8zM937 917l3 8 7 8 2-2-4-10-6-6zM833 971l-2 4 4 1 2-3zM915 1102l-1 3 7 10 1-8zM445 1217l-2 10 2 2 4-8zM461 1171l-4 4 0 8 8 9 4-5 0-8zM307 755l-4 4 6 6 2-8zM311 651l-4 4 1 6 5 3 2-9zM315 817l-2 8-4 0-4 4 4 12 4 0 8-10zM329 631l-2 14-6-2-4-8-2 8 4 7 8-1 8 10 2-4-6-6 3-6zM343 561l-4 10 6 4 2-4 0-6zM345 484l-2 3 2 5 2-5 3-2zM379 515l-8 6 0 4-6 4 0 4 14 20 0 8-12-4-4 6 12 14 6 16 6 4 2-24 3-2 1-16 4-4 0-6-8-6-2-8-2 4-4-2zM387 429l-6 8 6 8 0 12 5 4 1 10-2 2-4-2-2 10-5 0 1 12 10 24 6-7 8 7 4-4 0-14 8-2 0-12-12-2-2-4 10-10-8-6-2-8 4-8 4 2 1-2 1-12-4-6-4 6-6-6-1 6-7 1zM423 957l-2 4 7 2-1-2zM441 1020l-4 3 2 8 4-2zM471 779l-8 12 5 14 2 26 3 6 4 1 5-7 5 4 6-4 6 12 4-7 12 0 12-11-2-8-4-3-8 3-2-2-2-12-6-6 0 12-4 0-12-16 2-10-6 4-4-5zM503 674l-2 3 2 6 1-4zM505 658l-1 3 3 7 1-5zM547 752l-15 7 1 20 4 25 6-9 10 5 11-5-1-21 4 4 5-1 1 14 4 3 5-5 2-22-9-15-4 8-12 6zM551 688l-1 3 3 1 1-3zM577 634l-2 7 2 3 2-5zM815 978l-2 11-8-4-2 2 2 10 10 11 4 0 2-5 4 0 4 3 3-3 0-6-7-14-6-6zM847 488l-3 3 1 6 5-8zM861 383l-2 2 2 3 3-3zM869 387l-8 4-4 8 0 6 8 8 10-12-2-10zM887 880l-2 3 6 6 1-4zM909 399l-6 2-12 16-4 8 2 3 20-21 2-4zM957 909l-2 4 3 10 7 7 1-11zM965 898l-1 9 1 6 8 6-1-14zM309 793l-1 6 3 2 2-6zM307 933l-2 2 4 4 2-2zM313 893l-4 4 2 2 4-2zM321 721l-4 4 2 6 5-6zM325 679l-3 8 7 6 2-8zM335 675l2 12-4 4 0 4 8 4 6-18-6-8zM345 579l-4 12-8-8-2 6 4 4 2 9 2-3 5 2 3 12 6 6 8-8 2-14-8-10-4 2-2-2zM369 615l-8 16 0 18 4 4 8-12-2-16 5 0zM379 703l-4 9-2 1-4-6-4 2 0 10 6 10 0 14 4 6-10 2-2 28 6 4 6 10 5-4-3-10 6-2-2-26 6-14-6-16 6-10zM381 663l-2 6 6 4 2-6zM387 795l-2 8 6 1 2-3zM415 918l-2 9 4 4 4-6zM427 997l-4 8 2 2 10 2 4-4-4-6zM487 838l-2 5 4 2 2-2zM575 842l-1 3 1 4 2-2zM579 736l4 16 14 10 4-9-5-12-11-5zM849 859l-6 2 4 4 4-2zM859 500l-4 3 2 6 4-4zM873 498l-10 13 2 4 9-10zM907 425l-7 8-1 8 8-6 4-8zM323 697l-2 8 6 2 2-6zM333 728l-5 5 1 3 8-7zM339 713l-6 6 2 6 10-6zM347 757l0 12-4 6 6 4 6-16zM367 881l-4 8 0 8 4 7 4-5zM375 915l-6 6 4 4 4-2zM381 883l-6 4 8 12-2 6-4 0 8 14 5-14-5-10 0-8zM857 859l-2 4 26 23 2-3-13-20-3-4zM329 739l-4 6 2 4 4-2zM347 801l-2 4 6 2 2-4zM357 830l0 3 2 3 2-5zM365 916l-2 1 4 4 2-2zM387 919l-4 12 6 6 8 4 6-6 4 2 2-2-4-8-10 0zM329 791l-2 6-6-4-2 2 0 12 6 8 6-4zM349 841l-1 6 1 2 2-4zM359 847l-2 8 2 2 4-2zM323 851l-8 6-2 20 4 4 6 0 4-8 6 0 6 6 6 0 2 6 6 4 0-18 4-4-2-10-4-2-10 14-10-18zM321 899l-4 4 2 4 3-4zM873 171l6-2 0 4-4 8-6 2zM905 173l4 0 1 4-5 8-6 2-1-4zM309 175l2 0 2 4 0 14-4-2-2-10zM1067 178l12-4 1 3-13 9-5-1zM1097 180l14-4 0 5-14 6-3-2zM1173 177l8 0 0 2-10 8-8 0 1-4zM925 183l4 0 0 4-4 8-6 2 0-4zM1121 185l8 0 0 2-10 8-8 0 1-4zM1098 191l7-1 1 5-7 7-6 1-1-4zM885 193l4 0 0 2-2 14-15 22-7 4zM379 205l4 0 4 4 1 10-3 2-6-4-2-6zM1151 219l8-1 0 3-6 6-12 4-2 6 6 1 0 3-10 8-8 1 0-3 6-6-4-4zM314 221l4 0 3 6 0 8-2 2-6-6zM429 221l7 6-3 8-6-6zM351 229l4 4 2 6-4 6-4-6 0-8zM309 243l2 0 2 8-2 4-4-2zM1167 245l8 0 0 2-10 8-8 0 1-4zM426 249l5 1 2 6-6-3zM406 251l5 4-2 9-4-5zM339 255l2 0 4 6-2 6-4 0-2-4zM1191 255l8 0 0 2-10 8-8 0 1-4zM1118 261l9-1 1 3-7 5-8 0-1-3zM1157 263l5 4-7 7-12 3-8 6-5-2 1-4 4-4 6-1 6-5zM1164 267l7-1 2 3-8 10-10 4-8 0 2-4 10-3zM329 269l8 10 0 8-6-4-4-8zM377 271l4 0 4 8 0 6-4 0-2-4zM301 273l4 8-4 8zM357 281l4 0 2 6-2 6-4-2zM1203 281l8 0-3 10-9 7-8-1 2-8zM369 287l4 4 0 12-4 0-2-4zM399 293l16 2 4 4 0 6-4 2-14-8zM1201 305l8-1 0 3-16 12-4 7-6 1-2-2 3-4-1-4zM323 311l4 2-2 8-4-2zM1132 311l7 0-2 4-12 5-1-3zM1151 316l10-5 1 4-11 8-6 2-2-3-9 1 7-8zM379 315l4 4 0 7-4-5zM1171 315l8-1 0 3-10 8-8 1 1-5zM301 323l2 4-2 5 0-1zM343 323l4 2 0 6-2 0zM327 327l4 0 4 12 2 32-8 0-4-4-6-17-14 3 0-14 2-2 16 2zM1163 331l6 0 0 4-8 6-8 1-1-3zM1191 331l8 0 4 4-10 8-12-2 1-4zM361 341l4 1 2 5-2 8-4-2zM1245 345l8-1 0 3-10 8-8 1 1-5zM375 349l6 6 0 4-4 5-2-3zM1225 349l8 0-4 6-12 4 0-2zM407 353l6 0 4 10-6 4-4-2-3-6zM1187 355l6 0 1 4-9 7-8 0 0-5zM401 363l5 10-1 8-4 2-2 0-1-10zM1167 363l4 2-1 4-5 4-8 1-4 7-6 4 6 2-1 4-9 6-8 0 1-4 9-6-4-4 3-6-2-4 9-6 6 2zM303 365l4 0 2 6-6 4 0 10-2 1zM365 365l4 4 0 10-4 0-4-6zM1183 369l5 0-4 10-9 6-8 0 1-4zM1223 371l2 2-4 5-9 1 5-6zM317 375l4 2 1 14-7 12-4-6 0-6zM345 375l4 0 4 6 0 8-4 4 4 4 8-4 2 1 9 19-3 4-4 0-3-10-7-8-4 8-4-1-5 1 5 2 2 4 6-4 6 10 0 4-6-2-4-8-6 7-8-9-2 2 6 14 1 12-7 16-6-8 0-10 4-2-8-10-3 6 1 14-4 0-2-4-2-30 2-4 4 2 2 12 2-8 4-4 6 2 1-2-1-12 4-14 5-2zM1192 387l6 2-2 4-11 7-3-3 2-4zM1161 395l8-1 0 3-10 8-8 1 1-7zM1231 397l8 0 0 2-10 8-8 0 1-4zM1140 403l6 0 0 6-7 5-6 0-1-5zM1179 405l6 0 0 5 8-2 2 3-10 8-14-2 0-4zM303 413l6 0 2 4-2 12-3 2 1 8-4 6-2-1 0-14 4-1zM1152 415l10 0-10 8 5 0 6 4-1 8-17 7-2-3 1-2-3-2 9-10-8-2zM1178 431l11 0 0 2-12 13-6 1-3-2 2-8zM355 437l6 2 6 8 1 8-2 4 1 8-4 8-4-4 0-14 2-2-6-8zM1121 458l10-5 3 4-13 10 2 4-4 7-8 4-6-1 4-8 12-6-4-3-10 4-8 8-12 3 16-17zM309 457l6 2 0 12-4 2-2-3-4 7-4 3 0-19 6 8-1-10zM1177 459l8-1 0 3-10 8-8 1 1-5zM321 463l4 0 4 6 0 6-2 2-6-8zM1133 466l20-3 0 2-10 8-17 0zM301 483l6 4-2 8-4 0zM1213 485l8-1 0 3-10 8-8 1 1-5zM391 495l2 0 4 6-2 6-7-6zM315 525l6 4 2 16 6 10-4 4-4-2 0-12-8-10-1-8zM1203 529l6-1-1 5 5 2 0 2-10 8-8 0 6-8-4-4zM1225 543l8-1 0 3-10 8-8 1 1-5zM1201 557l8 0 0 2-10 8-8 0 1-4zM1203 573l8-1 0 3-10 8-8 1 1-5zM1257 575l8 0 0 2-10 8-8 0 1-4zM1173 587l12-6 2 4-12 6zM353 595l5 6-5 8-3-6zM1179 613l14-5 0 5-8 5-6-1zM1191 635l15-4 1 4-12 6-6-1zM1227 635l15-4 1 4-12 6-6-1zM1206 649l9-1 1 3-5 3-10-1zM1232 665l13-2 0 4-10 2zM1249 683l12-1 0 5-12 1zM1184 685l19-3 1 5-5 3-14 0zM1219 687l18-2 0 4-4 2-14 0zM1191 695l10-3 3 5-3 2-8 0zM1235 695l8-4 4 4-8 2zM1215 701l10-3 2 5-10 1zM1209 713l14 0 3 4-3 2-14 0-3-2zM1262 741l15 0 4 2 1 4-15 0-4-2zM1181 747l12-1 6 7-12 1zM1198 775l9-1 5 5-7 3zM481 797l2-8 4 6-2 5zM1236 807l11 1 4 7-12-2zM1204 901l9 2 5 4 0 4-9-1-6-7zM324 931l5-1 3 3 0 6-3 2-6-4zM339 933l4 0-1 8 1 6-2 4-4 0-2-4zM327 949l2 0 0 4-4 2zM339 959l6 6 2 6-2 6-4 0-4-6 0-10zM1123 961l9 6-1 4-9-4-2-4zM353 967l6 4 0 8-4 1-4-3zM983 967l8 10 0 10-2 2-4 0-6-8 0-6zM1186 967l7-1 8 7 1 4-7 1-8-7zM1212 971l7-1 8 7 1 4-7 1-8-7zM1117 973l10 1 5 5-1 4-8-1zM319 975l6 4 4-3 4 1 5 8 3 0 4 4 0 14-2 2-6-14-6 2-1 6 1 10-4 7-4-7 2-10-3-10-5-4zM1171 987l10 0 8 6-8 0zM367 993l5 2 3 12 2 18-2 3-4-5-4 4-4-8 2-8 6 0-6-12zM1204 993l7-1 8 7 1 4-7 1-8-7zM405 997l2 4-2 5-2-5zM307 999l2 0 4 6-2 6-6-4zM1108 999l17 1 6 8 4 1 4 4 1 4-9-2-3-6-9-8 1 6-7 0-5-4zM1160 1013l7-1 8 7 1 4-7 1-8-7zM355 1019l4 2 4 8-2 8-8-8 0-8zM797 1019l2 0 4 6 4 12 6 8 0 10 8 14 4 16-10-2-8-14 0-8 3-4 1-6-12-18zM385 1021l4 2-2 4-4-4zM408 1025l3 2-2 7-4-3zM1095 1027l4 0 12 8 6 8-16-4zM785 1035l4 2 8 18-6 2-1 20 2 6 15 16 34 51 7 1-2-10-23-34-2-6 10 7 6-5 4 0 12 9 8 3 28 38 1-4-3-18 7-4 0-10-4-8-11-15-18-13-5-16-3-1-4 6-6-5-4-14 6-3 8 3 18 16 9 20 15 20 9 16 13 10 11 24 3 4 2-6 4 0 10 13 10 3 10 12 7 14 3 3 6-1 6 2 4 10-6 2-6-5-8-1-6-5-8-2-6 2-6-2-2 5-4 0-12-7-6 0-1 5 7 12 1 12 11 18-59 0-33-46-15-26-7-2-8-8-2-4 2-2 4 0 4 3 3-1-2-14-7-5-6-1-15-20-5-5-4 0-3 5 5 14-8-1-3 3 2 6 9 9 14 7 4 10 1 12 11 14 7 12 13 13 12 3 11 18 7 6-22-2-11 2-7-5-6 2-1 3-29 0 1-6-9-16-2-16-14-17-12 1 10 16 0 8-2 2-6-2-2 6-2 0-12-16 12-16 0-10 6-4 4 0 4 4 20 34 12 9 5-1 0-12-19-26-7-16-9-10-6-12-2-16-4-6 0-6 3-4-9-14 0-16 8-2 6-10 9 0 1-8-8-16 12-8zM855 1161l1 24 11 13 4 0 1-5-3-10 0-8zM873 1158l-4 21 6 6 8 16 0 4-7 0 0 4 8 20 5 5 3-3 1-10 2 0 12 15 18 8 1-5-8-18-5-3-6 3-4-4-6-12 1-12-2-8-15-22zM907 1147l-1 8 5 14-6 3-3 5 15 23 4-3-3-6 2-24-10-18zM1184 1037l7 0 8 6 1 4-7 0-8-6zM1139 1041l6 0 10 8-2 4 2 4-2 2-12-8zM817 1047l6 0 3 6 9 10 6 10 2 10-8-6zM1011 1047l10 2 8 8-12-3zM1110 1055l5 0 6 6-2 2-6-2zM419 1059l4 0 4 8 0 6-4 7-4-11zM971 1065l8 6 2 10-8-6zM1152 1065l7-1 8 7 1 4-7 1-8-7zM941 1067l2 0 6 8-6-4zM317 1069l4 2 0 14-4-4zM391 1085l4 0 4 6 2 12-2 4-10-10-2-8zM1015 1085l10 2 8 8-10-2zM853 1089l8 4 2 6-4 0zM965 1089l10 6 14 20-6 0-8-6-10-16zM1180 1091l7-1 8 7 1 4-7 1-8-7zM375 1099l6 2 3 10 3 2-4 9-2-1 2-4-8-10zM997 1107l8-6 10 12 0 8-8 0-8-8zM1117 1101l8 8-2 4-8-8zM963 1111l6 2 4 4 2 8-10-8zM1019 1113l4 2 2 6-6-4zM415 1115l2 1 6 30-2 0-2-7-10-14 0-4zM1184 1117l5-1 11 11 4 8-1 9-4 0-11-11-4-8zM743 1119l4 0 6 8 0 4-4 4-4 0-2-4zM1151 1125l10 0 8 8-10 0zM1133 1137l4-1 8 4 4 7-10-1zM971 1145l6 0 8 6 4 8-2 8-14-14zM761 1147l4 2 2 10-4-2zM333 1149l4 8-2 8-4-6 0-8zM395 1151l4-1 0 5-4 4zM1199 1153l10 1 5 9-7 5-8-2-5-7zM413 1155l4 2 0 12 5 8 1 12 10 2 2 18-4 0-6-6-2-10-6-6-6 2-4-6 2-7 4 3 2-2-6-14zM1013 1157l4 0 4 4 0 4zM1223 1157l10 3 1 5-11-2-3-4zM751 1159l4 0 2 4-2 6-6-2zM1075 1163l10 4 3 4-3 2-10-4-2-4zM1146 1165l7 0 6 4 2 6-10-3zM1197 1169l4 0 7 8-5 1zM1003 1179l8 0 8 4-2 4 10 4 4 12-4 2-10-7-10-3zM825 1181l2-2 4 4 2 8-6-2zM1096 1185l9 2 7 6 0 4-9-2-6-6zM694 1193l5 4 2 6-2 6-4-6zM731 1195l8 0 0 10-10 12-8-1-2 3-4 0-4-8 14-5zM415 1201l4 0 2 4-4 8-4-2-1-4zM1137 1201l10 2 5 6-7 0zM779 1203l0 10-2 0 0-4zM315 1211l2-2 2 6 6 4 0 4-8 5-4-5zM953 1211l2-2 4 2 14 10 4 24-17 0-3-3-8-1-8-14 0-4 4 0 12 11 3-3zM1015 1211l4 2 4 8-2 4-4-4zM331 1215l6 2 2 6-2 4-6-2-2-6zM1104 1217l7 1 7 7 0 4-5 1-6-5zM1191 1217l6 1 4 7-2 2-6-1-4-5zM426 1219l7 2 0 8-6 0-2-2zM1065 1223l10 1 5 13-9-2-7-8zM763 1231l2 0 8 8 12 6-16 0zM431 1233l6 4 0 8-10 0-2-8 2 1zM707 1235l2 0 3 10-9 0zM1210 1235l7 1 7 9-8 0-7-8zM993 1237l4 0 4 8-4 0-4-4z"/>
<path fill="#00a0c7" d="M453 169l12 0-2 10 4 4 4-4 0-10 370 0 2 4 4-2 0 6 8 0 0 2-4 10-7 4 7 68 4 4 17-6 5 2-10 23-12 13-2 4 2 4 10-6 2 4 4-4 7-26 2-16 17-42 3 0 1 6 4 0 70-28 44-10 18 0 32 34 1-6 9-6 8 0 0 3 6 0 8-5 8-1 6-4 8 2 8-5 8 0-1 4-10 8-2 10-15 12-8 4-3-2 3-8 9-8 9-10-2-1-6 5-22 7-14 11 28 32 10 20 1 6 3 3 4-3 6-1 8 5 0 3 16-4 12 3-4 7-8 4-10-2-16 4-2-6-7-1 7 60 2 1 6-7-6-2-1-4 5-4-5-2 11-13 6 0-1 7 7 2-11 12 1 1 4 1 2 3 25-1-11 10-14-1-12 7-4-5-3 3 2 8 0 56-4 10 3 1 4-3 6-1 0 5-8 8-10 2-18 10-34 2 14 16 17 34 21 28 28 48 14 38 6 36 2 64-12 106-12 54-16 38-14 22-28 26-8-2-8 4-16-4-8-7-2 9-4 0-4-12 5-2-17-21-3 3 1 24-10 1-3 3 1 12-2 2-8-2-8-8-5-10-11-13-14-7-4-14-8-8-4 2 12 24 0 6-12-4-18-24 1-4-7-4-2-6 2-4 14 6 6-2-4-10 0-4 8 16 7 0-4-18-11-16-28 14-6 1-26-1-38-14 0 17-6-11 2-20-4-6-4 0-6 6 5 14-1 10 10 12 4-1 2 11 14 13 22 1 4 10 8 2-4 18-34 10 18 18-8 12 0 10-4-2-14-20-6 2 14 28 0 8 6 3 8-5 12 2 25 42 9 9 8 3 6-6 10 6 4 8 1 8 9 14 0 4-10-6-3 2-2 16 3 12 0 4-2 0-16-15-4-1-10-14-7-22-13-28-2-1-6 3-4-2-22-30-12-6-4 4 4 8-12-12-4 1-4 5 2 11-18-23-12-21-2 5 4 14-14-10 0 16-12-5-2 7-22 2-4 6-6 34-18 56 2 14-6 4-4 14-20 38-9 30-3 26-204 0-4-4-4 4-16 0 0-4-6-6 0-6-6-6-2-10 2-3 4 1 10-12-2-16 4-12-4-6 0-10 7-10 8 0 1-6-6-10-18-12-4-7 2-11-2-13 4-11 6-4-2-20-6-2-4 8-4 0-10-14 0-10 4-6-2-19 12 1 4-4-4-6-6-2-8 8-4-8 0-19 5-3-1-12 7 0-5-6-2 6-6-2-2 3-6-7-16 2-4-6-3 4 2 10 5 4 1 10-1 4-8-2-8-12-6-2 0-6 2-1 6 7 2-2 0-12 2-2-4-6-6-2-2 4 2 8-8 1-6-5-4-10 0-6 8 6 2-2 0-8 4-6-2-4-4-4-12 0-4 8-6-18-6-6-5 4 2 10-3 10-8 2-6-8-4 2 6 20-8 4 6 6 0 8-4 2-6-8 2-8-4-4 0-8 4-2-4-6 0-26 4-6-4-6 0-82 4 0-4-4 0-186 4-2-2-18 4-6-6-8 2-12-2-58 10 8-6 10 0 6 6 4 0 20-6 6 0 4 0 10 5 12-3 12 6 20 2-8 8-10 5 2 1-6-6-12 0-6 8-12-2-18 12 4 2-2-8-14-2-12-8-10-6-2-1-8-7-10 0-4 4-2 6 4 0 6 10 10 3 10 9 10 2-16-2-2-4 2-4-6 1-18-3-4 2-10-2-14 4 0 4 7 4-5 0-12 2 0 8 12 4 14 8-4 4 1 4-5 4 0-9-20 1-8 2 0 8 17 2-7-11-20 1-6 8-2-7-14 3-4-2-18 10 12 1 8-3 6 6 10 6-7 2 5 8-8-2-8 12 8 6-4 0-6-6-6 0-10-6-16 6 2 0 6 6 6 4 10 10-8-18-22 0-7 2-3 4 2 9-4 7 2 6-6 2-8-6-8-6 0-3 6-7-2-8 8-4-12 6-18 14-16-1-20 11 6 7 0 3 8 4 4 2-2 1-24-5-6-6 0-1-22 1-6 14-4 0-6-8-12-4-22-4-4-5 0-9-10 1-6 7 0 10 10 6-10zM477 532l0 5 5 2 0-6zM487 542l-4 6-16 2-1 25 5 4 4-2 6 7 4-5 5 0-4 24 9 20 10 3 4-9-7-20 0-18 11-5 6 2 2-7-4-16-2 6 2 8-6 1-10-16zM537 626l0 5 4 4 2-4zM553 657l-9 8-3 8 3 6 5 4 2 12 6-4 0-5-5-3 8-14zM573 620l-3 5 4 8-1 10 6 6-1-18 3-6zM609 639l-2 2 2 5 2-3zM623 754l-2 7 6 4 1-6zM641 595l-2 2 2 4 4-4zM649 787l-3 2-1 16-8 5-8-4-3 11 7 7 8-4 4 5 4-3 8 0 6 4 7-9-3-17-10-4zM673 575l3 30-1 2-8-9-5 9 6 6 5 17 4-3 0-14 6 2 4-8 4 5 3-1-4-8 1-3 5 7 7 2 2 8 4 2 0-6-4-6 1-16 1-4 5-2-1-4-14-2-2 8-6 7-8-9-4-10zM733 609l-2 4 0 3 3-3zM813 300l-2 9 2 2 4-8zM823 385l-10 14 2 8 5-2 6-12 1-6zM851 334l-6 5 2 3 6-5zM873 337l-26 20 2 20 6 4 4 0 4-6 3-10-2-12 14-14zM891 331l-10 6 8 16 8-10-2-8zM913 279l-6 8 2 2 8-6zM925 391l-4 2 2 2 4-2zM963 858l-8 8-6-6-7 1 5 12-6 6 8 8 4-2-2-6 6 8 4-2-1-12-2-4 10-8zM977 870l-1 3 6 22 11 14 5 10 7 6 1-6-2-6-13-22 0-8zM937 917l2 8 8 8 2-2-4-10-6-6zM831 973l2 4 4-2-2-4zM915 1102l-1 3 7 10 1-8zM445 1217l-2 10 2 2 4-8zM461 1171l-4 4 0 8 8 9 4-5 0-8zM307 755l-4 4 6 6 2-8zM311 651l-4 4 0 6 6 4 2-10zM315 817l-2 8-4 0-4 4 4 12 4 0 8-10zM329 631l-2 14-6-2-4-9-2 9 4 7 8-1 8 10 2-4-6-6 3-6zM343 561l-4 10 6 5 3-5-1-6zM345 483l-2 4 2 5 2-5 3-2zM379 515l-8 6 0 4-6 4 0 4 12 16 2 12-12-4-4 6 12 14 6 16 6 4 2-24 4-2 0-16 4-4 0-6-8-7-2-7-2 4-4-2zM387 429l-6 8 6 8 0 12 4 4 2 10-2 2-4-2-2 10-5 0 1 12 10 24 6-7 8 7 4-4 0-13 8-3 0-12-11-2-3-4 10-10-8-7-2-7 4-8 4 2 2-2 0-12-4-6-4 6-6-6-1 6-7 1zM439 1021l-2 8 4 2 2-10zM455 575l0 4 4 2-1-4zM461 588l-1 5 3 6 0-6zM473 777l-8 6-3 6 10 48 3 4 6 0 2-7-2 7 6 5 8-2 6 1 4-7 10 4 10-13 6-2-6-12-11-4-3-8-10-11-2 13-4-3-5-9 0-12-7 1zM503 655l-5 8-1 12 8 13 1-15 4-8-3-9zM519 593l-1 6 3 3 3-3zM549 749l-18 10 2 38 5 26 0-14 5-12 10 6 6-5 6 2 2-16 10 13 6-6 3-24-8-16-5-1-4 10-12 3zM577 733l5 20 9 6 7 10 1 8-4 14 0 12 4 8 5-6-1-16 8-14 2-11-6-4-12-21zM625 789l-1 6 1 2 2-6zM641 784l-2 5 2 4 3-4zM815 977l-2 12-8-4-2 2 2 10 10 12 4-1 2-5 4 0 4 3 4-3 0-6-8-14-6-6zM847 487l-3 4 1 6 5-8zM861 383l-1 4 3 2-4 4-2 12 8 8 10-12 0-4-4-8-2-2-4 2zM887 879l-2 4 6 6 2-4zM909 399l-6 2-12 16-4 8 2 3 20-21 2-4zM957 909l-2 4 2 10 8 7 2-11zM965 898l-1 9 1 6 8 6-1-14zM309 793l-1 6 3 2 2-6zM307 933l-2 2 4 4 2-2zM313 893l-4 4 2 2 4-2zM321 721l-4 4 2 6 5-6zM325 679l-4 8 8 6 2-8zM335 674l2 13-4 4 0 4 8 4 6-18-6-8zM345 579l-4 12-8-8-2 6 4 4 2 9 4-3 4 4 2 10 8 5 6-7 2-14-8-10-4 2-2-2zM369 615l-8 16 0 18 4 4 8-12-2-16 5 0zM379 703l-4 9-2 1-4-6-4 2 0 10 6 10 0 14 4 6-10 2-2 28 6 4 6 10 5-4-3-10 6-2-2-26 6-14-6-16 6-10zM381 663l-2 6 6 4 2-6zM387 795l-2 8 6 2 2-4zM415 918l-2 9 4 4 4-6zM473 866l0 5 4 5 1-5zM481 885l-4 4 4 5 1-5zM509 718l0 12 4 5 1-12zM521 693l-2 5 4 1 1-4zM575 839l-2 6 4 10 1-10zM577 819l0 4 2 3 0-6zM849 859l-6 2 4 4 4-2zM859 499l-4 4 0 4 2 2 4-4zM873 498l-10 13 2 4 9-10zM909 425l-9 8-2 4 1 4 8-6 4-8zM323 696l-2 9 6 2 2-6zM333 728l-5 5 1 3 8-7zM339 713l-6 6 2 6 10-6zM347 757l0 12-4 6 6 4 6-16zM367 881l-4 8 0 8 4 7 5-5zM375 915l-6 6 4 4 4-2zM381 883l-6 4 8 12-2 6-4 0 8 14 6-14-6-10 0-8zM857 859l-2 4 26 24 2-4-12-20-4-4zM329 739l-4 6 2 4 4-2zM345 801l0 4 6 3 0-7zM361 831l-5 0 3 5zM365 916l-2 1 4 4 2-2zM387 919l-4 12 6 6 8 4 6-6 4 2 2-2-4-8-10 0zM859 879l0 2 2 3 2-5zM329 791l-2 6-6-4-2 2 0 12 6 8 6-4zM349 841l-2 6 2 2 2-4zM359 847l-2 8 2 2 4-2zM323 851l-8 6-2 20 4 4 6 0 4-8 6 0 6 6 6 0 2 6 6 4 2-8-2-10 4-4-2-10-4-2-10 13-10-17zM321 899l-4 4 2 4 3-4zM873 171l6-2 0 4-4 8-6 2zM905 173l4 0 0 4-4 8-6 2 0-4zM309 175l2 0 2 4 0 14-4-2-2-10zM1067 178l12-4 1 3-9 7-9 1zM1097 181l14-5 0 5-14 6-3-2zM1173 177l8 0 0 2-10 8-8 0 2-4zM925 183l4 0 0 4-4 8-6 2 0-4zM1121 185l8 0 0 2-10 8-8 0 1-4zM1098 191l7-1 1 5-7 7-6 1-1-4zM885 193l4 2-2 14-20 25 0-6zM379 205l4 0 4 4 0 10-2 2-6-4zM1151 219l8 0 0 2-6 6-12 4-2 6 6 1 0 3-10 8-8 1 0-3 6-6-4-4zM315 221l3 0 3 6-2 10-6-6zM429 221l6 6-2 8-6-7zM351 229l4 4 2 6-4 6-4-6 0-8zM309 243l2 0 2 8-2 4-4-2zM1167 245l8 0 0 2-10 8-8 0 1-4zM426 249l5 1 2 6-6-3zM406 251l5 4-2 9-4-5zM339 255l4 2 2 6-2 4-4 0-2-4zM1191 255l8 0 0 2-10 8-8 0 2-4zM1118 261l9-1 1 3-7 5-8 0-1-3zM1158 263l4 4-7 7-12 3-8 6-5-2 1-4 4-4 6-1 6-5zM1164 267l7-1 2 3-8 10-10 4-8 0 2-4 10-3zM329 269l8 10 0 8-6-4-4-8zM377 271l4 0 4 8 0 6-4 0-2-4zM301 273l3 8-3 8zM357 281l4 0 2 6-2 6-4-2zM1203 281l8 0-3 10-9 7-8-1 2-8zM369 287l4 4 0 12-4 0-2-4zM399 293l16 2 4 4 0 6-4 2-14-8zM1201 305l8 0 0 2-16 12-4 7-6 1-2-2 3-4-1-4zM323 311l4 2-2 8-4-2zM1133 311l6 0-2 4-12 4 0-2zM1151 316l10-5 0 4-10 8-6 2-2-3-8 1 6-8zM379 315l4 4 0 7-4-5zM1171 315l8 0 0 2-10 8-8 0 1-4zM301 323l2 4-2 5 0-1zM343 323l4 2 0 6-2 0zM327 327l4 0 4 12 2 32-8 0-4-4-6-17-14 3 0-14 2-2 16 2zM1163 331l6 0 0 4-8 6-8 0 0-2zM1191 331l8 0 4 4-10 8-12-2 1-4zM361 341l4 1 2 5-2 8-4-2zM1245 345l8 0 0 2-10 8-8 0 1-4zM375 349l6 6 0 4-4 5-2-3zM1225 349l8 0-4 6-12 4zM407 353l6 0 4 10-6 3-4-1-2-6zM1187 355l6 0 1 4-9 7-8 0 0-5zM401 363l5 10-1 8-4 2-2 0-1-12zM1167 363l4 2-1 4-5 4-8 0-4 8-6 4 6 2-2 4-8 6-8 0 2-4 8-6-4-4 3-6-2-4 9-6 6 2zM303 365l4 0 2 6-6 4 0 10-2 0zM365 365l4 4 0 10-4 0-4-6zM1183 369l4 0-3 10-9 6-8 0 1-4zM1223 371l2 2-4 5-9 1 5-6zM317 375l4 2 0 14-6 12-4-6 0-6zM345 375l4 0 4 6 0 8-4 4 4 4 8-4 2 1 9 19-3 4-4 0-3-10-7-9-4 9-4-2-6 2 6 2 2 4 6-4 6 10 0 4-6-2-4-8-6 7-8-9-2 2 6 14 1 12-7 16-6-8 0-10 4-2-8-10-3 6 1 14-4 0-2-4-2-30 3-4 3 2 2 12 2-8 4-4 6 2 2-2-2-12 4-14 5-2zM1192 387l6 2-2 4-11 7-3-3 2-4zM1161 395l8 0 0 2-10 8-8 0 1-6zM1231 397l8 0 0 2-10 8-8 0 2-4zM1140 403l5 0 1 6-7 5-6 0-1-5zM1179 405l6 0 0 5 8-2 2 3-10 8-14-2 0-4zM303 413l6 0 2 4-2 12-3 2 1 8-4 6-2-1 0-13 4-2zM1153 415l9 0-10 8 5 0 6 4-1 8-17 6-2-2 1-2-3-2 9-10-7-2zM1178 431l11 0 0 2-12 13-6 1-3-2 2-8zM355 437l6 2 6 8 1 8-3 4 2 8-4 8-4-4 0-14 2-2-6-8zM1129 453l5 4-13 10 2 4-4 7-8 4-6-1 4-8 12-6-4-3-10 4-8 8-12 3 16-17 18-4zM309 457l6 2 0 11-4 3-2-3-4 7-4 2 0-18 6 8 0-10zM1177 459l8 0 0 2-10 8-8 0 1-4zM321 463l4 0 4 6 0 6-2 2-6-8zM1133 466l20-3 0 2-10 8-16 0zM301 483l6 4-2 8-4 0zM1213 485l8 0 0 2-10 8-8 0 1-4zM391 495l2 0 4 6-2 6-7-6zM315 525l6 4 1 16 5 8-2 6-4-2 0-12-8-10 0-8zM1203 529l6 0-1 4 5 2 0 2-10 8-8 0 6-8-4-4zM1225 543l8 0 0 2-10 8-8 0 1-4zM1201 557l8 0 0 2-10 8-8 0 2-4zM1203 573l8 0 0 2-10 8-8 0 1-4zM1257 575l8 0 0 2-10 8-8 0 2-4zM1173 587l12-6 2 4-12 6zM353 595l5 6-5 8-3-6zM1179 613l14-5 0 5-8 4-6 0zM1191 635l15-4 1 4-12 6-6-1zM1227 635l15-4 1 4-12 6-6-1zM1206 649l9-1 1 3-5 3-10-1zM1233 665l12-2 0 4-10 2zM1249 683l12-1 0 5-12 1zM1184 685l19-2 1 4-5 3-14-1zM1219 687l18-2 0 4-4 2-14 0zM1191 695l10-3 3 5-3 2-7 0zM1235 695l8-4 4 4-8 2zM1215 701l10-3 2 5-10 1zM1209 713l14 0 3 4-3 2-14 0-2-2zM1263 741l14 0 4 2 0 4-14 0-4-2zM1181 747l12 0 6 6-12 0zM1198 775l9-1 5 5-7 3zM1237 807l10 1 4 7-12-2zM490 835l3-2 1 4-3 1zM1205 901l8 2 5 4 0 4-9-1-6-7zM325 931l4 0 2 2 0 6-2 2-6-4zM339 933l4 0-1 8 1 4-4 7-4-5zM327 949l2 0 0 4-4 2zM339 959l6 6 0 12-4 0-4-6 0-10zM1123 961l9 6-1 4-9-4-2-4zM353 967l6 4 0 8-4 1-4-3zM1186 967l7-1 8 7 1 4-7 1-8-7zM981 969l4 0 6 8 0 10-2 2-4 0-6-8zM1212 971l7 0 8 6 1 4-7 0-8-6zM1117 973l10 1 5 5-1 4-8-1zM319 975l6 4 4-3 4 1 5 8 3 0 4 4 0 14-2 2-6-14-6 2-2 6 2 10-4 7-4-7 2-10-2-10-6-4zM1171 987l10 0 8 6-8 0zM367 993l4 2 4 12 2 16-2 5-4-5-4 4-4-8 2-8 4 2 2-2-6-12zM1204 993l7 0 8 6 1 4-7 0-8-6zM405 997l2 4-2 5-2-5zM307 999l6 6-2 6-6-4zM1108 999l17 1 6 8 4 1 4 4 1 4-9-2-2-6-10-8 1 6-7 0-5-4zM1160 1013l7-1 8 7 1 4-7 1-8-7zM797 1019l6 6 4 12 6 8 0 10 8 14 4 16-10-2-8-14 0-8 4-4 0-6-12-18zM353 1021l2-2 6 6 2 8-2 4-6-4zM385 1021l4 2-2 4-3-4zM408 1025l3 2-2 7-4-3zM1095 1027l4 0 12 8 6 8-16-4zM785 1035l4 2 8 18-6 2-2 20 2 6 16 16 34 52 4 2 3-2-1-10-24-34-2-6 10 7 6-5 4 0 12 9 8 3 28 38 2-4-4-18 7-4 0-10-4-8-11-16-18-12-5-16-3-1-4 5-6-4-4-14 6-2 8 2 18 16 8 20 16 20 9 16 13 10 10 24 4 4 2-6 4 0 10 13 10 3 10 12 6 14 4 3 6-1 6 2 4 10-6 2-6-6-8 0-6-5-8-3-6 2-6-1-2 5-4 0-12-8-6 0-2 6 8 12 0 12 12 18-59 0-33-46-14-26-8-2-8-8 0-6 4 0 4 4 4-2-2-14-8-6-6 0-14-20-6-6-4 0-4 6 6 14-8-2-4 4 2 6 10 10 14 6 4 10 0 12 12 14 6 12 14 14 12 2 10 18 8 6-22-2-10 2-8-6-6 2-2 4-28 0 2-6-10-16-2-16-14-18-12 2 10 16 0 8-2 2-6-2-2 6-2 0-12-16 12-16 0-10 6-4 4 0 4 4 20 34 12 10 5-2 1-12-20-26-6-16-10-10-6-12-2-16-4-6 0-6 4-4-10-14 0-16 8-2 6-10 10 0 0-8-8-16 12-8zM873 1158l-4 19-12-16-4 2 4 26 10 10 6-2-4-14 0-6 14 24 0 4-7 0-1 4 8 20 6 5 4-3 0-10 2 0 12 16 18 8 2-6-8-18-6-3-6 3-4-4-6-12 2-12-2-8-16-22zM907 1147l-2 8 6 14-6 2-4 6 16 23 4-3-2-6 2-24-11-18zM1184 1037l7 0 6 4 3 6-7 0-6-4zM1139 1041l6 0 10 8-2 4 2 4-2 2-12-8zM817 1047l6 0 2 6 10 10 6 10 2 10-8-6zM1011 1047l10 2 8 8-12-4zM1110 1055l5 0 6 6-2 2-6-2zM419 1059l4 0 4 8 0 6-4 7-4-11zM971 1065l8 6 2 10-8-6zM1152 1065l7-1 8 7 1 4-7 1-8-7zM941 1067l2 0 6 8-6-4zM317 1069l4 2 0 14-4-4zM391 1085l4 0 4 6 2 12-2 4-10-10-2-8zM1015 1085l10 2 8 8-10-2-6-4zM853 1089l8 4 2 6-4 0zM965 1089l10 6 14 20-6 0-8-6-10-16zM1180 1091l7-1 8 7 1 4-7 1-8-7zM375 1099l6 2 2 10 4 3-4 8-2-1 2-4-8-10zM997 1107l8-6 10 12 0 8-8 0-8-8zM1117 1101l8 8-2 4-8-9zM963 1111l10 6 2 8-10-8zM1019 1113l4 2 2 6-6-4zM409 1121l6-6 2 2 6 29-2 0-12-21zM1184 1117l5-1 11 11 4 8-1 9-4 0-11-11-4-8zM743 1119l4 0 6 8 0 4-4 4-4 0-2-4zM1151 1125l10 0 8 8-10 0zM1133 1137l12 4 4 6-10-1zM971 1145l6 0 8 6 4 8-2 8-14-14zM761 1147l4 2 2 10-4-2zM333 1149l4 8-2 8-4-6 0-8zM397 1149l2 4-2 6-2-6zM1199 1153l10 1 5 9-7 5-8-2-5-7zM413 1155l4 2 0 12 5 8 1 12 10 3 2 17-4 0-6-6-2-10-6-6-6 2-4-6 2-7 4 3 2-2-6-14zM1013 1157l4 0 4 4 0 4zM1223 1157l10 4 1 4-11-2-3-4zM751 1159l4 0 2 4-2 6-6-2zM1075 1163l10 4 2 4-2 2-10-4-2-4zM1146 1165l7 0 6 4 2 6-10-3zM1197 1169l4 0 7 8-5 1zM1003 1179l8 0 8 4-2 4 10 4 4 12-4 2-10-8-10-2zM825 1181l2-2 4 4 2 8-6-2zM1096 1185l9 2 7 6 0 4-9-2-6-6zM694 1193l5 4 2 6-2 6-4-6zM731 1195l8 0 0 10-10 12-8-2-2 4-4 0-4-8 14-4zM415 1201l4 0 2 4-4 8-4-2-1-4zM1137 1201l10 2 4 6-6 0zM779 1203l0 10-2 0 0-4zM315 1211l2-1 2 5 6 4 0 4-8 5-4-5zM953 1211l6 0 14 10 4 24-16 0-4-3-8-1-8-14 0-4 4 0 12 11 4-3zM1015 1211l4 2 4 8-2 3-4-3zM331 1215l6 2 2 6-2 4-6-2-2-6zM1104 1217l7 1 7 7 0 4-5 0-6-4zM1191 1217l6 2 4 6-2 2-6-1-4-5zM427 1219l6 2 0 8-6 0-2-2zM1065 1223l10 1 4 13-8-2-7-8zM763 1231l10 8 12 6-16 0zM431 1233l6 4 0 8-10 0-2-6zM707 1235l2 0 2 10-8 0zM1211 1235l6 2 7 8-8 0-7-8zM993 1237l4 0 4 8-4 0-4-4z"/>
<path fill="#00a8af" d="M453 169l12 0-2 10 4 4 4-4 0-10 370 0 2 4 5 0-5 12 2 1 3-7 3-2 4 2-4 10-7 4 7 68 4 4 20-6 1 2-9 22-11 12-3 6 2 4 8-5 4 3 4-4 8-26 1-16 17-42 3 0 1 7 4-1 70-28 44-10 18 0 32 34 1-6 9-6 8 0 0 3 6 0 8-5 8-1 6-3 8 1 8-5 8 0-1 4-10 8-2 10-15 12-8 4-2-2 2-8 9-8 9-10-2-1-6 5-22 7-14 11 28 32 10 20 1 6 3 3 4-3 6-1 8 5 0 3 16-4 12 3-4 7-8 4-10-2-16 4-2-6-8-1 8 60 2 1 6-7-6-2 0-4 4-4-5-2 11-13 6 0-1 7 7 2-11 12 1 1 4 1 2 4 24-2-10 10-14-1-12 7-4-5-4 3 2 8 0 56-3 10 3 1 4-3 6 0 0 4-8 8-10 2-18 10-34 2 14 16 17 34 21 28 28 48 14 38 6 36 2 64-12 106-12 54-16 38-14 22-28 26-8-2-8 4-16-4-8-8-2 10-4 0-4-12 6-2-18-21-3 3 1 24-10 1-4 3 2 12-2 2-8-2-8-8-4-10-12-13-14-7-4-14-8-8-4 2 12 24 0 6-12-4-18-24 1-4-7-4-2-6 2-4 18 6 0-12 8 14 6-2-4-18-12-16-28 14-6 1-26-1-38-14 0 16-6-10 2-20-4-6-4 0-6 6 5 14-1 10 10 12 4 0 2 10 14 14 22 0 4 10 8 2-4 18-34 10 18 18-8 12 0 10-4-2-14-20-6 2 14 28 0 8 6 4 8-6 12 2 24 42 10 10 8 2 6-6 10 6 4 8 0 8 10 14 0 4-10-6-4 2-2 16 4 12 0 4-2 0-16-16-4 0-10-14-6-22-14-28-12 0-22-30-12-6-4 4 4 8-12-12-4 0-4 6 2 11-18-23-12-21-2 5 4 14-14-10 0 16-12-5-2 7-22 2-4 6-6 34-18 56 2 14-6 4-4 14-20 38-10 30-2 26-204 0-4-4-4 4-16 0 0-4-6-6 0-6-6-6-2-10 2-3 4 1 10-12-2-16 4-12-4-6 0-10 8-10 8 0 0-6-4-8-20-15-4-7 2-10-2-12 4-12 6-4-2-20-6-2-4 7-4 1-10-15 0-8 4-7-2-18 6-2 6 2 4-4-4-6-6-2-8 8-4-8 0-19 6-3-2-12 7 0-5-6-2 6-6-2-2 2-6-6-16 2-4-6-4 4 10 22-2 6-7-2-9-12-6-2 2-7 6 7 2-2 0-12 2-2-4-6-6-2-2 4 2 8-8 1-6-5-4-10 0-6 8 6 2-2 0-8 4-6-2-4-4-4-12 0-4 8-6-18-6-6-5 4 1 10-2 10-8 2-6-8-4 2 6 20-8 4 6 7 0 7-4 2-6-8 2-8-4-4 0-8 4-2-4-6 0-26 4-6-4-6 0-82 4 0-4-4 0-186 4-2-2-18 4-6-6-8 2-12-2-58 10 8-6 10 0 6 6 4 0 20-6 6 0 4 0 10 5 12-3 12 6 20 2-8 8-10 5 2 1-6-6-12 0-6 8-12-2-17 4-1 8 4 2-2-8-14-2-12-8-10-6-2 0-8-8-10 0-4 4-2 6 4 0 6 10 10 2 10 10 11 2-17-2-2-4 2-4-6 2-18-4-4 2-10-2-14 4 0 4 7 4-5 0-12 2 0 8 12 4 14 8-4 4 2 4-6 4 0-9-20 1-8 2 0 8 18 2-8-11-20 1-6 8-2-7-14 3-4-2-18 10 12 1 8-3 6 6 10 6-7 2 5 8-8-2-8 12 8 6-4 0-6-6-6 0-10-6-16 6 2 0 6 6 6 4 10 10-8-17-22-1-7 2-3 4 2 10-4 6 2 6-6 2-8-4-7-8-1-3 6-7-2-8 8-4-12 6-17 14-17-2-14 2-6 10 6 7 0 5 10 4 0 2-24-6-6-6-1 0-23 0-4 12-2 2-8-8-12-4-22-4-4-5 0-9-10 1-6 7 0 10 10 6-10zM477 528l-3 3 2 8 7 3 1 3-15 2-6-10 2 32-4 7-8-4-1 5 6 8 1 10 4 8 2-4-2-20 12 1 10 7 0 14 8 23 12 4 4-4 1-7-7-20 2-17 3 1 1 8 6 4 3 12 7 2 2-4-5-12 3-8-4-6 2-8-3-12 3-14-2-4-4 8-4-2 1 18-3 2-8-16-8-1-13-17zM537 621l-1 8 5 12 5-8zM551 655l-8 10-3 10 1 8 6 2 4 13 7-5-1-14 5-10-5-12zM559 643l-1 4 3 8 6 2-2-8zM571 612l-3 11 5 10-1 10 5 12-1 8 5 3-1-33 3-8-4-8-2 1zM609 637l-8 4 0 4 2 5 6 2 3-9zM615 584l-3 7 3 4 2-6zM627 654l-2 3 2 3 2-3zM631 745l2 13-4 0-6-7-4 8 4 8 12 7 2-25zM639 593l-2 6 4 5 6-11zM671 573l0 18 4 5 0 5-2 0-2-6-4-3-8 11 2 9 6 4 6 22 9-19 5-5 8 1 6-4 3 8 5 4 1-8-3-22 2-4 6-2-4-9-12-3-10 16-8-8-3-10zM723 568l-1 3 3 2 0-4zM729 591l2 5 2-1 0-4zM765 627l-3 4 1 6 5-6zM813 299l-2 10 2 2 4-8zM823 385l-10 14 2 8 5-2 7-12 0-6zM851 334l-6 5 2 3 6-5zM873 336l-26 21 2 20 6 4 4 0 4-6 3-10-1-12 13-14zM885 333l-5 6 9 14 8-8 0-4-6-10zM913 279l-6 8 2 3 8-7zM925 390l-4 3 2 3 4-3zM963 858l-8 8-6-7-8 2 6 12-6 6 8 8 4-2-2-6 6 8 4-2 0-12-3-4 11-8zM977 870l-2 3 7 22 11 14 5 10 7 6 1-6-1-6-14-22 0-8zM937 917l2 8 8 8 2-2-4-10-6-6zM831 973l2 4 4-2-2-4zM915 1102l-2 3 8 10 2-8zM445 1217l-2 10 2 2 4-8zM461 1171l-4 12 8 9 4-5 0-8-4-6zM307 754l-4 5 6 6 2-8zM311 651l-4 4 0 6 6 4 2-10zM315 817l-2 8-4 0-4 4 4 12 4 0 8-10zM329 631l-2 14-6-2-4-9-2 9 4 7 8-1 8 11 2-5-6-6 4-6zM343 561l-4 10 6 5 3-5-1-6zM345 483l-2 4 2 5 2-5 3-2zM379 515l-8 6 0 4-6 4 0 4 10 12 4 8 0 7-2 2-10-5-4 6 12 14 6 16 6 4 2-23 4-3 0-16 4-4 0-6-8-7-2-7-2 4-4-2zM409 426l-4 9-6-6-2 7-6 0-4-7-6 6 6 10 0 12 4 4 2 10-2 2-4-2-2 10-6 0 5 20 7 16 6-7 8 7 4-4 0-13 8-3 0-12-11-2-3-4 10-10-8-7-2-5 2-8 8-2 0-12zM439 1021l-2 8 4 2 2-10zM471 690l-2 5 4 3 1-5zM477 722l0 3 4 3 1-3zM491 658l-5 5-7 2 2 4 6 1 5-3 2-4zM505 649l-10 14 0 14 12 17 3-3-3-14 4-12zM521 691l-5 6 3 7 8-3-2-7zM547 711l-4 8 6 4 1-4zM615 677l-1 4 5 3 0-5zM617 647l-2 4 4 4 2-2zM627 782l-5 11 3 7 6-13zM641 781l-3 4-1 6 8 8-8 9-8-5-2 1-2 15 8 7 6-3 6 7 12-6 6 6 8-13-3-18-11-6-8-10-4 1zM733 603l-5 12 3 6 4-3 1-5zM815 977l-2 12-8-4-2 2 2 10 10 12 4 0 2-6 4 0 4 4 4-4 0-6-8-14-6-6zM843 861l4 4 4-2-2-4zM847 487l-4 4 2 6 5-8zM861 383l-2 2 3 4-5 10 0 6 8 8 10-12 0-4-4-8-6-1zM887 879l-2 4 6 7 2-5zM909 398l-6 3-12 16-4 8 2 3 20-21 2-4zM957 909l-2 4 2 10 8 7 2-11zM965 898l-2 9 2 6 8 6 1-6-2-8zM309 793l-1 6 3 2 2-6zM313 893l-4 4 2 2 4-2zM321 721l-4 4 2 6 6-6zM325 679l-4 8 8 7 2-9zM335 674l2 13-4 4 0 4 8 4 6-18-6-8zM345 579l-4 12-8-8-2 6 4 4 2 9 4-3 4 4 2 10 8 5 6-7 2-14-8-10-4 2-2-2zM369 615l-4 4-4 12 0 18 4 4 8-12-2-15 5-1zM379 703l-4 9-2 1-4-6-4 2 0 10 6 10 0 14 3 6-9 2-2 28 6 4 6 10 6-4-4-10 6-2-2-26 6-14-6-14 6-12zM381 663l-2 6 6 4 2-6zM387 795l-2 8 6 2 2-4zM415 917l-2 10 4 4 4-6zM487 750l-1 5 3 3 2-4zM507 717l0 16 8 6 2-4-1-14-5-5zM575 730l3 15-6 4-5 10-12 1-2-8 2-1 4 4 2-2-4-8-10 3-4 4-12 1 1 44 3 12-2 15-36-40-3 1 4 10-1 5-2 0-4-9 2-8-4-6-4 3-10-6-10 7-4 10 6 22 2 22 6 8 12 5 10-1 10 11 2-9-4-4 0-5 4 2 2 4 6-1 8-13 6 0 2-6 9-1-2-14 3-12 10 6 8-6 4 6 4-13 8 11 7-8 0-18 3-8-2-11 5 1 8 14-5 18 2 16 4 6 4-2 6 3 1-7-6-10 1-8 6-6 4-14 0-20-2-4-2 1 0 11-2 1-12-19zM633 843l-1 4 1 3 2-5zM859 499l-5 8 3 2 4-4zM873 497l-10 14 2 4 9-10 1-6zM909 425l-10 8-1 4 1 4 8-6 4-8zM307 933l-2 2 4 4 2-2zM323 696l-2 9 6 2 2-6zM339 713l-6 6 2 8-7 6 1 4 8-8-2-4 10-6zM347 757l0 12-4 6 6 4 6-16zM367 880l-4 9 0 8 4 7 5-5zM375 915l-6 6 4 4 4-2zM381 883l-6 4 8 12-2 5-4 1 8 14-2 12 6 6 10 4 4-6 4 2 2-2-4-8-10 0-4-6-6-2 6-14-6-10 0-8zM471 853l2 28 3 12 5 5 2-2 2-25-6-2zM575 837l-2 11 4 9 3-4-3-14zM577 811l-2 10 4 9 2-6zM857 859l-2 4 26 24 2-4-12-20-4-4zM329 739l-4 6 2 4 4-2zM345 801l0 4 6 3 2-5zM361 831l-5 0 3 5zM365 915l-2 2 4 4 2-2zM859 878l0 3 2 3 2-5zM329 791l-2 6-6-4-2 2 0 12 6 8 6-4zM349 841l-2 6 2 2 2-4zM359 847l-2 8 2 3 4-3zM323 851l-8 6-2 20 4 4 6 0 5-8 5 0 6 6 6 0 2 6 6 4 2-8-2-10 4-4-2-10-4-2-10 13-10-17zM321 899l-4 4 2 4 3-4zM873 171l6-2 0 4-4 8-6 2zM905 173l4 0 0 4-4 8-6 2 0-4zM309 175l4 4 0 14-4-2-2-10zM1067 178l12-3 1 2-9 7-8 1zM1097 181l14-5 0 5-14 6-3-2zM1173 177l8 0 0 2-10 8-8 0 2-4zM925 183l4 0 0 4-4 8-6 2 0-4zM1121 185l8 0 0 2-10 8-8 0 1-4zM1098 191l7-1 0 5-6 7-6 1-1-4zM885 193l4 2-2 13-8 13-4 2-4 8-4 3 0-5 12-20 0-6zM379 205l4 0 4 4 0 10-2 2-6-4zM1151 219l8 0 0 2-6 6-12 4-2 6 6 2 0 2-10 8-8 0 0-2 6-6-4-4zM315 221l3 0 3 6-2 10-6-6zM429 221l6 6-2 8-6-7zM351 229l4 4 2 6-4 6-4-6 0-8zM309 243l2 0 2 8-2 4-4-2zM1167 245l8 0 0 2-10 8-8 0 2-4zM427 249l4 1 2 5-6-2zM405 259l2-8 4 4-2 9zM339 255l4 2 2 6-2 4-4 0-2-5zM1191 255l8 0 0 2-10 8-8 0 2-4zM1118 261l9-1 1 3-7 5-8 0-1-3zM1158 263l4 4-7 7-12 3-8 6-5-2 1-4 4-4 6-1 6-5zM1164 267l7-1 2 3-8 10-10 4-8 0 2-4 10-3zM329 269l8 10 0 8-6-4-4-8zM377 271l4 0 4 8 0 6-6-4zM301 273l3 8-3 8zM357 281l4 0 2 6-2 6-4-2zM1203 281l8 0-3 10-9 6-8 0 2-8zM369 287l4 4 0 12-4 0-2-4zM400 293l15 2 4 4 0 6-4 2-14-8zM1201 305l8 0 0 2-16 12-4 7-6 1-2-2 3-4-1-4zM323 311l4 2-2 8-4-2zM1133 311l6 0-2 4-12 4 0-2zM1151 316l10-5 0 4-10 8-6 2-2-3-8 1 6-8zM379 315l4 4 0 7-4-5zM1171 315l8 0 0 2-10 8-8 0 1-4zM301 323l2 4-2 5 0-1zM343 323l4 2 0 6-2 0zM327 327l4 0 4 12 2 32-8 0-4-4-6-18-14 4 0-14 10-2 8 2zM1163 331l6 0 0 4-8 6-8 0 0-2zM1191 331l8 0 4 4-10 8-12-2 2-4zM361 341l4 1 2 5-2 8-4-2zM1245 345l8 0 0 2-10 8-8 0 1-4zM376 349l5 6 0 4-4 5-2-3zM1225 349l8 0-4 6-12 4zM407 353l6 0 2 4 1 6-5 3-6-3zM1187 355l6 0 1 4-9 7-8 0 0-5zM401 363l4 10 0 8-4 2-2-1 0-11zM1167 363l4 2-1 4-5 4-8 0-4 8-6 4 6 2-2 4-8 6-8 0 2-4 8-6-4-4 4-6-2-4 8-6 6 2zM303 365l4 0 2 6-6 4 0 10-2 0zM365 365l4 4 0 10-4 0-4-6zM1183 369l4 0-3 10-9 6-8 0 1-4zM1223 371l2 2-4 5-9 1 5-6zM317 375l4 2 0 14-4 4 0 6-2 2-4-6 0-6zM345 375l4 0 4 6 0 8-4 4 4 4 8-4 2 2 9 18-3 4-4 0-3-10-7-9-4 9-4-2-6 2 6 2 2 4 6-4 6 14-6-2-4-8-6 6-8-8-2 2 6 14 1 12-7 16-6-8 0-10 4-2-8-10-3 6 1 14-4 0-2-4-2-30 3-4 3 2 2 12 2-8 4-4 6 2 2-2-2-12 4-14 6-2zM1192 387l6 2-2 4-11 7-2-3 1-4zM1161 395l8 0 0 2-10 8-8 0 1-6zM1231 397l8 0 0 2-10 8-8 0 2-4zM1140 403l5 0 1 6-7 5-6 0-1-5zM1179 405l6 0 0 5 8-2 2 3-10 8-14-2 0-4zM303 413l6 0 2 4-2 12-4 2 2 8-4 6-2-2 0-12 4-2zM1153 415l8 0-9 8 5 0 6 4-2 8-16 6-2-2 1-2-3-2 10-10-8-2zM1178 431l11 0 0 2-12 12-8 1 2-9zM355 437l6 2 6 8 1 8-3 4 2 8-4 8-4-4 0-14 2-2-6-8zM1129 453l4 4-12 10 1 4-3 6-8 5-6-1 4-8 12-6-4-3-10 4-8 8-12 3 16-17 18-4zM309 457l6 2 0 11-2 3-4-3-4 7-4 2 0-18 6 8 0-10zM1177 459l8 0 0 2-10 8-8 0 1-4zM321 463l4 0 4 6 0 6-2 2-6-8zM1133 466l20-3 0 2-10 8-16 0zM301 483l6 4-2 8-4 0zM1213 485l8 0 0 2-10 8-8 0 1-4zM391 495l6 6-2 6-6-6zM315 525l6 4 2 14-2 2 6 8-2 6-4-2 0-12-8-10 0-8zM1203 529l6 0-2 4 6 2 0 2-10 8-8 0 6-8-4-4zM1225 543l8 0 0 2-10 8-8 0 1-4zM1201 557l8 0 0 2-10 8-8 0 2-4zM1203 573l8 0 0 2-10 8-8 0 1-4zM1257 575l8 0 0 2-10 8-8 0 2-4zM1173 587l12-5 2 3-12 6zM353 595l5 6-5 8-3-6zM1179 613l14-4 0 4-8 4-6 0zM1191 635l15-4 1 4-12 6-6-1zM1227 635l15-4 1 4-12 6-6-1zM1206 649l9 0 0 2-4 3-10-1zM1233 665l12-2 0 4-10 2zM1255 681l6 1 0 5-12 1 0-5zM1184 685l19-2 1 4-5 3-14-1zM1219 687l18-2 0 4-4 2-14 0zM1191 695l10-3 3 5-3 2-7 0zM1235 695l8-4 4 4-8 2zM1215 701l10-2 2 4-10 1zM1209 713l14 0 2 4-2 2-14 0-2-2zM1263 741l14 0 4 2 0 4-14 0-4-2zM1181 747l12 0 6 6-12 0zM1198 775l9 0 5 4-7 2zM1237 807l10 1 4 7-12-2zM1205 901l8 2 4 4 0 4-8-1-6-7zM325 931l6 2-2 8-6-4zM339 933l4 0-2 8 2 4-4 6-4-4zM327 949l2 4-4 2 0-4zM339 959l6 6 0 12-4 0-4-6 0-10zM1121 963l2-2 4 1 5 5-1 4-6-2zM353 967l6 4 0 8-4 1-4-3zM1186 967l7 0 8 6 1 4-7 0-8-6zM981 969l4 0 6 8 0 10-2 2-4 0-6-8zM1212 971l7 0 6 4 3 6-7 0-6-4zM1117 973l10 1 5 5-1 4-8-1zM319 975l6 4 4-3 4 1 5 8 3 0 4 4 0 14-2 2-6-14-6 2-2 6 2 10-4 7-4-7 2-10-2-10-6-4zM1171 987l10 0 7 6-7 0zM367 993l4 2 4 12 2 16-2 5-4-5-4 4-4-8 2-8 4 2 2-2-6-12zM1204 993l7 0 6 4 3 6-7 0-6-4zM307 999l6 6-2 6-6-4zM403 999l4 0-1 6-3-3zM1108 999l17 1 6 8 4 1 4 4 1 4-9-2-2-6-10-8 1 6-7 0-5-4zM1160 1013l7 0 8 6 1 4-7 0-8-6zM797 1019l6 6 10 20 0 10 8 14 4 16-10-2-8-14 0-8 4-4 0-6-12-18zM353 1021l2-2 6 6 2 8-2 4-6-4zM385 1021l4 2-2 4-2-1zM409 1025l2 2-2 7-4-3zM1095 1027l4 0 12 8 6 8-16-4zM785 1035l4 2 8 18-6 2-2 20 2 6 16 16 34 52 4 2 4-2-2-10-24-34-2-6 10 8 6-6 4 0 12 10 8 2 28 38 2-4-4-18 8-4 0-10-4-8-12-16-18-12-4-16-4-1-4 5-6-4-4-14 6-2 8 2 18 16 8 20 16 20 8 16 14 10 10 24 4 4 2-6 4 0 10 14 10 2 10 12 6 14 4 4 6-2 6 2 4 10-6 2-6-6-8 0-6-6-8-2-6 2-6-2-2 6-4 0-12-8-6 0-2 6 8 12 0 12 12 18-58 0-34-46-14-26-8-2-8-8 0-6 4 0 4 4 4-2-2-14-8-6-6 0-14-20-6-6-4 0-4 6 6 14-8-2-4 4 2 6 10 10 14 6 4 10 0 12 12 14 6 12 14 14 12 2 10 18 8 6-18 0-4-2-2 2-8 0-8-6-6 2-2 4-28 0 2-6-10-16-2-16-14-18-12 2 10 16 0 8-2 2-6-2-2 6-2 0-12-16 12-16 0-10 6-4 4 0 4 4 20 34 12 10 6-2 0-12-20-26-6-16-10-10-6-12-2-16-4-8 4-8-10-14 0-16 8-2 6-10 10 0 0-8-7-16 11-8zM873 1157l-4 19-12-15-4 2 4 26 10 10 4 0 2-6-4-10 0-5 14 23 0 4-8 0 0 4 8 20 6 6 4-4 0-10 2 0 12 16 18 8 2-6-8-18-6-4-6 4-4-4-6-12 2-12-2-8-16-22zM907 1147l-2 8 6 14-6 2-4 6 16 24 4-4-2-6 2-24-10-18zM1185 1037l6 0 6 4 2 6-6 0-6-4zM1139 1041l6 0 10 8-2 10-12-8zM817 1047l6 0 2 6 10 10 6 10 2 10-8-6zM1011 1047l10 2 8 8-12-4zM1110 1055l5 0 6 6-2 2-6-2zM419 1059l4 0 4 8 0 6-4 7-4-11zM971 1065l8 6 2 10-8-6zM1152 1065l7 0 8 6 1 4-7 0-8-6zM941 1067l4 2 3 6-7-6zM317 1069l4 2 0 14-4-4zM391 1085l4 0 4 6 2 12-2 4-10-10-2-8zM1016 1085l9 2 8 8-10-2-6-4zM853 1089l8 4 2 6-4 0zM965 1089l10 6 14 20-6 0-8-6-10-16zM1180 1091l7-1 8 7 1 4-7 1-8-7zM375 1099l6 2 2 10 4 3-4 8-2-1 1-6-7-8zM1003 1101l4 2 8 10 0 8-8 0-8-8-2-6zM1117 1101l8 8-2 4-7-6-1-4zM963 1111l10 6 2 8-10-8zM1019 1113l4 2 2 6-6-4zM409 1121l8-3 6 26-2 2-12-21zM1184 1117l5 0 10 10 5 8-1 9-4-1-10-10-5-8zM743 1119l4 0 6 8 0 4-4 4-4 0-2-4zM1151 1125l10 0 8 8-10 0zM1133 1137l12 4 4 6-10-1zM971 1145l6 0 8 6 4 8-2 8-14-14zM761 1147l4 2 2 10-4-2zM333 1149l4 8-2 8-4-6 0-8zM395 1151l4-1-2 9-2-1zM1199 1153l10 2 5 8-7 5-8-3-5-6zM413 1155l4 2 0 12 5 8 1 12 10 3 2 17-4 0-6-6-2-10-6-6-6 2-4-6 2-7 4 3 2-2-6-14zM1013 1157l4 0 4 4 0 4zM1223 1157l10 4 1 4-11-2-2-4zM751 1159l4 0 2 4-2 6-6-2zM1075 1163l10 4 2 4-2 2-10-4-2-4zM1146 1165l7 0 6 4 2 6-10-3zM1197 1169l4 0 6 8-4 0zM1003 1179l8 0 8 4-2 4 10 4 4 12-4 2-10-8-10-2zM825 1181l2-1 4 3 2 8-6-2zM1096 1185l9 2 7 6 0 4-9-2-6-6zM694 1193l7 10-2 5-4-5zM731 1195l8 0 0 10-10 12-8-2-2 4-4 0-4-8 14-4zM415 1201l4 0 2 4-4 8-4-2-1-4zM1137 1201l10 2 4 6-6 0zM779 1203l0 10-2 0 0-4zM315 1211l2-1 8 9 0 4-8 5-4-5zM953 1211l6 0 8 8 6 2 4 24-16 0-4-4-8 0-8-14 0-4 4 0 12 12 4-4zM1015 1211l4 2 4 8-2 3-4-3zM331 1215l6 2 2 6-2 4-6-2-2-6zM1105 1217l6 1 7 7 0 4-5 0-6-4zM1191 1217l6 2 4 6-2 2-6-2-4-4zM427 1219l6 2 0 8-6 0-2-2zM1065 1223l10 1 4 13-8-2-7-8zM764 1231l9 8 12 6-16 0zM431 1233l6 4 0 8-10 0-2-6zM707 1235l2 0 2 10-8 0zM1211 1235l6 2 7 8-8 0-7-8zM993 1237l4 0 4 8-4 0-4-4z"/>
<path fill="#00aa9b" d="M453 169l12 0-2 10 4 4 4-4 0-10 370 0 2 5 4-1-5 14 7 41 1 33 5 5 20-5-6 10-2 12-12 12-2 6 2 4 8-4 4 2 4-4 14-57 12-27 3 0 1 7 74-29 44-10 18 0 32 34 2-6 8-6 8 0 0 4 6-1 8-5 8-1 6-3 8 2 8-6 8 0-2 4-9 8-2 10-15 12-8 4-2-2 2-8 9-8 9-10-2-1-6 5-22 7-14 11 28 32 10 20 0 6 4 3 4-3 6 0 8 4 0 3 16-3 12 2-4 6-8 5-10-2-16 4-2-6-8-1 8 60 2 2 6-8-6-2 0-4 4-4-5-2 11-13 6 0-1 7 7 2-11 12 1 2 4 0 2 4 24-2-10 10-14-1-12 7-4-5-4 3 2 8 0 56-4 10 4 1 4-3 6 0 0 4-8 8-10 2-18 10-34 2 14 16 16 34 22 28 28 48 14 38 6 36 2 62-12 108-12 54-16 38-14 22-28 26-8-2-8 4-16-4-8-8-2 10-4 0-4-12 6-2-18-21-4 3 2 24-10 0-4 4 2 12-2 2-8-2-8-8-4-10-12-14-14-6-4-14-8-8-4 2 12 24 0 6-12-4-18-24 1-4-7-4-2-6 2-4 18 6 2-4-2-2 0-5 8 13 6-2-4-18-12-16-28 14-6 0-26 0-38-14-2 6 2 10-6-10 2-20-4-6-4 0-6 6 5 14-1 10 10 12 4 0 2 10 14 14 22 0 4 10 8 3-4 17-34 10 17 18-7 12 0 10-4-2-14-20-6 2 14 28 0 8 6 4 8-6 12 2 24 42 10 10 8 2 6-6 10 6 4 8 0 8 10 14 0 4-10-6-4 2-2 16 4 12 0 4-2 0-16-16-4 0-10-14-6-22-14-28-12 0-22-30-12-6-4 4 4 8-12-12-4 0-4 6 2 11-18-23-12-21-2 5 4 14-14-11-2 5 2 12-12-5-2 7-22 2-4 6-6 34-18 56 2 14-6 4-4 14-20 38-10 30-2 26-204 0-4-4-4 4-16 0 0-4-6-8 6-12-4-4-2 2 0 10-6-6-2-10 6-2 10-12-2-16 4-12-4-6 0-10 8-10 8 0 0-6-6-10-18-13-4-7 2-10-2-12 5-12 5-6-2-18-6-2-4 7-3 1-11-16 0-7 4-7-1-18 11 0 4-4-4-6-6-2-8 7-4-7 0-18 6-4-2-11 8-1-6-6-2 5-6-1-2 2-6-6-16 2-4-6-2 1-2 3 3 10 5 5 1 7-1 6-7-2-9-12-6-2 2-7 6 7 2-2 0-12 2-2-4-6-6-3-2 5 2 7-8 2-6-5-4-10 0-6 8 6 2-2 0-8 4-6-2-4-4-4-12 0-4 8-6-18-6-6-6 4 2 8-2 12-8 2-6-8-4 2 6 20-8 4 6 7 0 7-4 2-6-8 2-8-4-4 0-8 4-2-4-6 0-26 4-6-4-6 0-82 4 0-4-4 0-186 4-2-2-18 4-6-6-8 2-12-2-4 0-54 10 8-6 10 0 6 6 4 0 20-6 6 0 4 0 10 4 12-2 12 6 20 2-8 8-10 5 2-5-24 8-12-2-17 4-1 8 4 2-2-8-14-2-12-8-10-6-2 0-8-8-10 0-4 4-1 6 3 0 6 10 10 2 10 6 4 4 7 2-17-2-2-4 2-4-6 2-18-4-4 2-10-2-14 4 0 4 7 4-5 0-12 2 0 8 12 4 14 8-4 4 2 2-4 6-2-9-20 1-8 2 0 8 18 2-8-11-20 1-6 8-2-7-14 3-4-2-17 10 11 1 8-3 6 6 10 6-6 2 4 8-8-2-8 12 8 6-4 0-6-6-6 0-10-5-16 4 2 1 6 6 6 4 11 10-9-17-22-1-6 2-3 22-2 4-5 1-10-3-5-8-1-4 6-6-2-8 8-4-12 6-17 14-17-2-16 2-4 10 6 6 0 6 11 4-1 2-24-4-5-8-3 0-22 1-4 13-4 0-6-8-13-4-21-4-4-5 0-9-10 1-6 6 0 11 10 6-10zM475 525l-3 20-3-1-4-10-4 3-2 8 5 16-1 8-4 3-8-3-1 2 1 8 5 8 1 18 12 3-4-25 2-2 8 1 8 9 8 34 12 7 6-4 2-7 0-8-6-14 2-5 10 15 6 2 4 5 2 1 5-6-7-18 0-12-4-6 3-6-4-10 5-3 1-5-3 0-1-12-5-4-2 8-10-6-4 8-8 1-14-19zM535 567l0 6 6 2 0-5zM551 545l-4 5-4-2-2 3 6 10 7-10zM569 609l-4 10 7 16-3 11-10-6-3 1 2 12-9-2-10 20 0 12 2 3 5 1 3 12 4 3 7-11-1-14 5-6 0-10 7 0 10 7 2-1-1-32 4-4-3-19-6 1zM589 680l-6 6 0 5 8-6zM599 568l-3 7 3 3 5-5zM607 635l-8 6 0 10-6-10 0 13 4 2 8-3 4 3 4-4 6 6 4-1 14 13 0-12-6 1-4-7-4-1-4-6-4 0-4-8zM615 580l-7 17 3 6 7-10zM633 559l-2 4 4 3 1-3zM639 590l-3 9 5 8 9-14-3-3zM667 569l2 15-2 3-3-10-5 0-1 6 4 8-6 12 7 22 4 2 4 12 4 2 2-6 10-8 2-11 10-1 10 13 2-23 6-14-3-12-15-7-8 13-4 2-5-6-3-10zM723 566l-2 5 4 6 3-6zM735 589l-6-2-2 4 3 10-4 18 3 6 6-1 4 3zM745 589l0 6 6 6-2-9zM763 581l-3 2 3 3 2-3zM765 624l-5 7 3 9 8-9zM813 299l-2 10 2 2 4-8zM823 385l-10 14 2 8 6-2 6-12 0-6zM843 861l4 4 4-2-2-4zM851 334l-6 5 2 3 6-5zM885 333l-6 4-6-1-10 6-16 15 0 10 4 12 6 2 4-2 5-14-1-10 14-15 10 13 8-8-4-12zM913 279l-6 8 2 3 8-7zM925 390l-4 3 2 3 4-3zM963 857l-8 9-6-7-8 2 6 12-6 6 8 8 2 0 2-5 4 5 4-2-3-16 11-8zM977 870l-2 3 6 22 12 14 4 10 8 6 2-6-2-6-14-22 0-8zM937 916l2 9 8 8 2-2-4-10-6-6zM831 973l2 4 4-2-2-4zM915 1101l-2 4 8 10 2-8zM459 1172l-2 11 8 10 4-6 0-8-4-6zM307 754l-4 5 6 6 2-8zM311 651l-4 4 0 6 6 4 2-10zM315 817l-2 8-4 0-4 4 4 12 4 0 8-10zM329 631l-2 14-6-2-4-9-2 9 4 7 8-1 8 11 2-5-6-6 4-6zM343 561l-4 10 6 6 3-6zM345 483l-2 4 2 5 2-5 4-2zM351 553l-2 4 2 2 2-4zM379 515l-8 6 0 4-6 4 0 4 10 12 4 8 0 7-2 2-10-5-4 6 12 14 6 16 6 4 2-23 4-3 0-15 4-5 0-6-8-7-2-7-2 4-4-2zM409 425l-4 10-6-6-2 6-6 1-4-7-6 6 6 10 0 12 4 4 1 10-5 0-2 9-6 1 5 20 7 16 6-7 8 7 4-4 0-12 8-4 0-12-10-2-4-4 10-10-10-12 2-8 8-2 0-12zM441 1019l-4 10 4 2 3-8zM453 599l-2 16 2 4 4-14zM469 689l-2 4 4 7 6 5 6-1 0-3-6-5-3-7zM501 645l-6 12-4-2-8 6-9-4 1 8 12 9 6-1 0 8 8 7 4 9 6-1 7 9 7 1 6 10 4 2 1-5-7-8-4-16-8 0-4 4-4-10 3-22-7-17zM537 617l-3 12 3 10 4 5 4-1 4 5 5-7-1-4zM543 708l-3 19 5-3 6 2-2-14-2-4zM575 709l-5 14 6 20-9 13-3-1-1-6-6-7-6 1-8 8-8 1-6-8-3 1 4 14 0 38 4 12-3 10-38-40-4-10-4 9-10-8-12 10-3 7 0 8 6 18 3 24 6 8 10 5 10-2 14 13 2-10 10-3 4-13 6 1 6-6 4 8 3-1 1-13 4 1 0-2-4 0-3-6 1-15 2-1 4 7 4 0 8-7 6 9 2-11 2-2 3 12 1 24-3 12 3 13 4 0 2-5-2-12 4-14-4-22 2-4 6-2-2-22 6-11 6 7-6 18 1 12 5 11 8 0 4 10 3-17-6-8 0-8 3-3 4 1 3-16 3-5 2 0 2 5-2 26 3 22 7 7 8-2 6 8 12-8 8 12 2-13 5-6-3-21-12-7-8-11-10-3-1-28-6-8-2-8-5-3 2 15-8 5-6-8-6 5-4-1-6-9-22-10-1-4 3-10zM605 671l-1 8 7 13 2-7 6 2 2-6-8-10zM611 659l0 7 2 1 0-4zM675 834l-3 5 1 3 2-1zM815 977l-2 12-8-4-2 2 2 10 10 12 4 0 2-6 4 0 4 4 4-4 0-6-8-14-6-6zM847 487l-4 4 2 6 5-8zM861 383l-4 22 8 8 10-12 0-4-4-8-6-1zM887 879l-2 4 6 7 2-5zM909 398l-6 3-12 16-4 8 2 4 20-22 2-4zM957 909l-2 4 2 10 8 8 2-12zM965 897l-2 10 2 6 8 6 2-6-2-8zM309 793l-2 6 4 2 2-6zM313 893l-4 4 2 2 4-2zM321 721l-4 4 2 6 6-6zM325 679l-4 8 8 7 2-9zM335 674l2 13-4 4 0 4 8 4 6-18-6-8zM345 578l-4 13-8-8-2 6 4 4 2 10 4-4 4 4 2 10 8 6 6-8 2-14-8-10-4 2-2-2zM369 615l-4 4-4 12 0 18 4 4 8-12-2-15 5-1zM379 703l-4 9-2 0-4-5-4 2 0 10 6 10 0 14 3 6-9 2-2 28 6 4 6 10 6-4-4-10 6-2-2-26 6-14-5-14 5-12zM381 663l-2 6 6 4 2-6zM387 795l-2 8 6 2 2-4zM387 521l-2 2 2 5 2-3zM415 917l-2 10 4 4 4-6zM473 717l-2 2 2 6 10 8 2-10zM505 701l-1 2 3 8-6 27-6-6-9 1-2 4 1 8-3 6 5 10 4 0 3-4-6-12 5-7 10 6 6-7 11 6-3-22-4-7-5-3zM525 767l-2 2 2 5 3-3zM469 851l5 40 3 6 6 3 3-31-1-3-6 0-4-12-4-5zM515 860l0 3 4 3-2-5zM589 852l0 4 4 0 0-4zM603 843l4 10 4 0 0-7zM631 838l-1 9 3 5 7-11zM859 499l-5 8 3 2 4-4 0-4zM873 497l-10 14 2 4 10-10 0-6zM909 425l-10 8-2 4 2 4 8-6 4-8zM307 933l-2 2 4 4 2-2zM323 696l-2 9 6 2 2-6zM339 713l-6 6 2 8-8 6 2 6-4 6 2 4 4-2-2-10 8-8-2-4 10-6zM347 757l0 12-4 6 6 4 6-16zM367 880l-4 9 0 8 4 7 5-5zM375 915l-6 6 4 4 4-2zM381 883l-6 4 6 6 2 6-2 5-4 1 8 15-2 11 14 11 6-7 4 2 2-2-4-8-10 0-9-8 1-8 4-2 0-4-4-4-2-14zM857 859l-2 4 26 24 2-4-12-20-4-4zM329 791l-2 6-6-4-2 2 0 12 6 8 6-4zM345 800l0 5 6 3 2-5zM361 831l-5 0 3 5zM365 915l-2 2 4 4 2-2zM863 879l-5 0 3 5zM323 851l-8 6-2 20 4 4 6 0 5-8 5 0 6 6 5 0 3 6 6 4 2-8-2-10 4-4-2-10-4-2-10 13-10-17zM349 841l-2 6 2 2 2-4zM359 847l-2 8 2 3 4-3zM321 899l-4 6 4 2 2-6zM873 171l6-2 0 4-4 8-6 2zM905 173l4 0 0 4-4 8-6 2 0-4zM309 175l4 4 0 14-4-2-2-10zM1067 178l12-3 0 2-8 7-8 1zM851 177l4 0 0 4-4 8-6 2-2-4zM1097 181l14-4 0 4-14 6-2-2zM1173 177l8 0 0 2-10 8-8 0 2-4zM925 183l4 0 0 4-4 8-6 2 0-4zM1121 185l8 0 0 2-10 8-8 0 2-4zM1098 191l7-1 0 5-6 7-6 1-1-4zM886 193l3 0 0 8-7 14-5 5 2-17zM379 205l4 0 4 4 0 10-2 2-6-4zM1151 219l8 0 0 2-6 6-12 4-2 6 6 2 0 2-10 8-8 0 6-8-4-4zM315 221l3 0 3 6-2 10-6-6zM429 221l6 6-2 8-6-7zM871 225l1 4-5 4 0-3zM351 229l4 4 2 6-4 6-4-6 0-8zM309 243l2 0 0 12-4-2zM1167 245l8 0 0 2-10 8-8 0 2-4zM428 249l3 2 2 4-6-2zM405 259l2-8 4 5-2 7zM339 255l4 2 2 6-2 4-4 0-2-5zM1191 255l8 0 0 2-10 8-8 0 2-4zM1119 261l8 0 0 2-6 4-8 0 0-2zM1158 263l3 4-6 7-12 3-8 6-4-2 0-4 4-4 6-1 6-5zM1164 267l7-1 2 3-8 10-10 4-8 0 2-4 10-3zM327 271l2-2 6 6 2 12-6-4zM377 271l4 0 4 8 0 6-6-4zM301 273l3 8-3 8zM357 281l4 0 2 6-3 6-3-2zM1203 281l8 0-4 10-8 6-8 0 2-8zM369 287l4 4 0 12-4 0-2-4zM400 293l15 2 4 5-1 5-3 1-14-7zM1201 305l8 0 0 2-16 12-4 7-6 1-2-2 3-4-1-4zM323 311l4 2-2 8-4-3zM1133 311l6 0-2 4-12 4 0-2zM1151 316l10-5 0 4-10 8-6 2-2-3-8 1 6-8zM379 315l4 4 0 7-4-5zM1171 315l8 0 0 2-10 8-8 0 1-4zM301 323l2 4-2 5 0-1zM343 323l4 2 0 6-4-4zM327 327l4 0 4 12 2 32-8 0-4-4-6-18-14 4 0-14 10-2 8 2zM1163 331l6 0 0 4-8 6-8 0 0-2zM1191 331l8 0 4 4-10 8-12-2 2-4zM361 341l4 1 2 5-2 8-4-2zM1245 345l8 0 0 2-10 8-8 0 1-4zM376 349l5 8-4 6-2-4zM1225 349l8 0-4 6-12 4zM407 353l6 0 2 4 1 6-5 3-6-3zM1187 355l6 0 0 4-8 6-8 1 0-5zM401 363l4 10-1 8-3 2-2-1 0-11zM1167 363l4 2-1 4-5 4-8 0-4 8-6 4 6 2-2 4-8 6-8 0 2-4 8-6-4-4 4-6-2-4 1-2 7-4 6 2zM303 365l4 0 2 6-6 4 0 10-2 0zM365 365l4 4 0 10-4 0-4-6zM1183 369l4 0-4 10-8 6-8 0 2-4zM1223 371l2 2-4 4-9 2 5-6zM317 375l4 2 0 14-4 4-2 8-4-6 0-6zM345 375l4 0 4 6 0 8-4 4 4 4 8-4 2 2 8 18-2 4-4 0-2-10-8-9-4 9-4-2-6 2 6 2 2 4 6-4 6 14-6-2-4-8-6 6-8-8-2 2 6 14 0 12-6 16-6-8 0-10 4-2-8-10-4 6 2 14-4 0-2-4-2-30 3-4 3 2 2 12 2-8 4-4 6 2 2-2-2-12 4-14 6-2zM1192 387l5 2-1 4-11 7-2-3 1-4zM1161 395l8 0 0 2-10 8-8 0 2-6zM1231 397l8 0 0 2-10 8-8 0 2-4zM1141 403l4 0 0 6-6 5-6-1-1-4zM1180 405l5 0 0 5 8-2 2 3-10 8-14-2 0-4zM303 413l6 1 2 3-2 12-4 2 2 8-4 6-2-2 0-12 4-2-2-4zM1153 415l8 0-9 8 11 4-2 8-16 6-2-2 1-2-3-2 10-10-8-2zM1179 431l10 0 0 2-12 12-8 0 2-8zM355 437l6 2 6 8 1 8-3 4 2 8-4 8-4-4 0-14 2-2-6-8zM1129 453l4 4-12 10 1 4-3 6-8 4-6 0 4-8 12-6-4-3-10 4-8 7-12 4 16-17 18-4zM309 457l6 2 0 11-2 3-4-3-4 7-4 2 0-18 6 8 0-10zM1177 459l8 0 0 2-10 8-8 0 1-4zM322 463l3 0 4 6-2 8-6-8zM1133 466l20-3 0 2-10 8-16 0zM301 483l6 4-2 8-4 0zM1213 485l8 0 0 2-10 8-8 0 1-4zM391 495l6 6-2 6-6-6zM315 525l6 4 2 14-2 2-8-10 0-8zM1203 529l6 0-2 4 6 2 0 2-10 8-8 0 6-8-4-4zM1225 543l8 0 0 2-10 8-8 0 1-4zM321 547l2-1 2 3 0 10-4-2zM507 555l2-9 2 3 0 13zM1201 557l8 0 0 2-10 8-8 0 2-4zM1203 573l8 0 0 2-10 8-8 0 1-4zM1257 575l8 0 0 2-10 8-8 0 2-4zM1173 587l12-5 2 3-12 6zM353 595l5 6-5 8-2-6zM1179 613l14-4 0 4-8 4-6 0zM1191 635l15-4 1 4-12 6-6-1zM1227 635l15-4 1 4-12 6-6-1zM569 649l4 2 0 5-2-1zM1207 649l8 0 0 2-4 3-10-1zM1233 665l12-2 0 4-10 2zM1255 681l6 1 0 5-12 0 0-4zM1185 685l18-2 0 4-4 2-14 0zM1219 687l18-2 0 4-4 2-14 0zM1191 695l10-2 3 4-10 2zM1235 695l8-3 4 3-8 2zM1215 701l10-2 2 4-10 1zM1209 713l14 0 2 4-2 2-14 0-2-2zM1263 741l14 0 4 2 0 4-14 0-4-2zM1181 747l12 0 6 6-12 0zM1199 775l8 0 5 4-7 2zM633 779l2-2 3 2-3 5zM630 797l5-7 5 9-3 7zM1237 807l10 2 4 6-12-2zM1205 901l8 2 4 4 0 4-8-1-6-7zM325 931l6 2-2 8-6-4zM339 933l4 0-2 8 2 4-4 6-4-4zM327 949l2 2-2 4-2-2zM339 959l6 6 0 12-4 0-4-6 0-10zM1121 963l6-1 5 5-1 4-6-2zM353 967l6 4 0 8-4 1-4-3zM1187 967l6 0 8 6 0 4-6 0-8-6zM981 969l4 0 6 8 0 10-2 2-4 0-6-8zM1213 971l6 0 6 4 2 6-6 0-6-4zM1117 973l10 1 4 5 0 4-8-2zM319 975l6 4 4-3 4 1 5 8 3 0 4 4 0 14-2 2-6-14-6 2-2 6 2 9-4 8-4-7 2-10-2-10-6-4zM1171 987l10 0 7 6-7 0zM367 993l4 2 4 12 2 16-2 5-4-5-4 4-4-8 2-8 4 2 2-2-6-13zM1205 993l6 0 6 4 2 6-6 0-6-4zM307 999l6 6-2 6-6-4zM403 999l4 0-2 6-2-3zM1108 999l17 2 6 7 4 1 4 4 0 4-8-2-2-6-10-8 0 6-6 0-4-4zM1161 1013l6 0 8 6 0 4-6 0-8-6zM797 1019l6 6 10 20 0 10 8 14 4 16-10-2-8-14 0-8 4-4 0-6-12-18zM353 1021l2-2 6 6 2 8-2 4-6-4zM385 1021l4 2-2 4-2-1zM406 1031l3-6 2 2-2 6zM1095 1027l4 0 12 8 6 8-16-4zM785 1035l4 2 8 18-6 2-2 20 2 6 16 16 34 52 4 2 4-2-2-10-24-34-2-6 10 8 6-6 4 0 12 10 8 2 28 38 2-4-4-18 8-4 0-10-4-8-12-16-18-12-4-16-4-2-4 6-6-4-4-14 6-2 8 2 18 16 8 20 16 20 8 16 14 10 10 24 4 4 2-6 4 0 10 14 10 2 10 12 6 14 4 4 6-2 6 2 4 10-6 2-6-6-8 0-6-6-8-2-6 2-6-2-2 6-4 0-12-8-6 0-2 6 8 12 0 12 12 18-58 0-34-46-14-26-8-2-8-8 0-6 4 0 4 4 4-2-2-14-8-6-6 0-14-20-6-6-4 0-4 6 6 14-8-2-4 4 2 6 10 10 14 6 4 10 0 12 12 14 6 12 14 14 12 2 10 18 8 6-18 0-4-2-2 2-8 0-8-6-6 2-2 4-28 0 2-6-10-16-2-16-14-18-12 2 10 16 0 8-2 2-6-2-4 6-12-16 12-16 0-10 4-4 4 0 6 4 18 32 10 10 4 2 6-2 0-12-20-26-6-16-10-10-6-12-2-16-4-8 4-8-10-14 0-16 8-2 6-10 10 0 0-8-7-16 11-8zM873 1157l-4 19-12-15-4 2 4 26 10 10 4 0 2-6-2-2-2-8 0-4 6 6 8 16 0 4-8 0 0 4 8 20 6 6 4-4 0-10 2 0 12 16 18 8 2-6-8-18-6-4-6 4-4-4-6-12 2-12-2-8-16-22zM907 1147l-2 8 6 14-6 2-4 6 16 24 4-4-2-6 2-24-10-18zM1185 1037l6 0 6 4 2 6-6 0-6-4zM1139 1041l6 0 10 8-2 10-12-8zM817 1047l6 0 2 6 10 10 6 10 2 10-8-6zM1011 1047l10 2 8 8-12-4zM1110 1055l5 0 6 6-2 2-6-2zM419 1059l4 0 4 9 0 5-4 6-4-10zM972 1065l7 6 2 10-8-6zM1153 1065l6 0 8 6 0 4-6 0-8-6zM942 1067l3 2 2 6-6-6zM317 1069l4 2 0 14-4-4zM391 1085l4 0 4 6 2 12-2 4-10-10-2-8zM1016 1085l9 2 8 8-10-2-6-4zM853 1089l8 4 2 6-4 0zM965 1089l10 6 14 20-6 0-8-6-10-16zM1180 1091l7-1 8 7 1 4-7 1-8-7zM375 1099l4 0 4 6 0 6 4 4-2 6-4 0 2-6-8-8zM1003 1101l4 2 8 10 0 8-8 0-8-8-2-6zM1117 1101l8 8-2 4-7-6-1-4zM963 1111l10 6 2 8-10-8zM1019 1113l4 2 2 6-6-4zM415 1117l8 28-2 1-12-22zM1184 1117l5 0 10 10 5 8-1 9-4-1-10-10-5-8zM743 1119l4 0 6 8 0 4-4 4-4 0-2-4zM1151 1125l10 0 8 8-10 0zM1133 1137l12 4 4 6-10-2zM971 1145l6 0 8 6 4 8-2 8-14-14zM761 1147l6 6 0 6-4-2zM331 1151l2-2 2 2 2 6-2 8-4-6zM395 1151l4-1-2 8-2-1zM1199 1153l10 2 4 8-6 4-8-2-5-6zM411 1157l4-2 2 2 0 12 4 6 2 14 10 3 2 17-4 0-6-6-2-10-6-6-6 2-4-6 2-7 4 3 2-2-6-14zM1013 1157l4 0 4 7-6-3zM1223 1157l10 4 0 4-10-2-2-4zM751 1159l4 0 2 4-2 6-6-2zM1075 1163l10 4 2 4-2 2-10-4-2-4zM1146 1165l7 0 6 4 2 6-10-4zM1197 1169l4 0 6 8-4 0zM1003 1179l8 0 8 4-2 4 10 4 4 12-4 2-10-8-10-2zM825 1181l2-1 4 3 2 8-6-2zM1097 1185l8 2 6 6 1 4-9-2-6-6zM695 1193l6 10-2 5-4-5zM731 1195l8 0 0 10-10 12-8-2-2 4-4 0-4-8 14-4zM415 1201l4 0 2 4-4 8-4-2-1-4zM1137 1201l10 2 4 6-6 0zM779 1205l0 8-2 0 0-4zM315 1211l2-1 8 9 0 4-8 5-4-5zM953 1211l6 0 8 8 6 2 4 24-16 0-4-4-8 0-8-14 0-4 4 0 12 12 4-4zM1016 1211l7 10-2 3-4-3zM331 1215l6 2 2 6-2 4-6-2-2-6zM1105 1217l6 1 7 7 0 4-5 0-6-4zM1191 1217l6 2 4 6-2 2-6-2-4-4zM427 1219l6 2 0 8-6 0-2-2zM1065 1223l10 1 4 13-8-2-7-8zM431 1233l6 4 0 8-10 0-1-6zM769 1245l-4-14 8 8 12 6zM707 1235l2 0 2 10-8 0zM1211 1235l6 2 7 8-7 0-8-8zM993 1237l4 0 4 8-4 0-4-4z"/>
<path fill="#00aa8b" d="M453 169l12 0-2 10 4 4 4-4 0-10 370 0 4 8-3 10 4 34 3 7 1 33 5 5 18-5-5 10-3 14-10 10-2 8 4 2 6-4 4 2 4-4 14-56 13-28 3 7 74-29 44-10 18 0 32 34 2-6 8-6 8 0 0 4 6-1 8-5 8-1 6-3 8 2 8-6 8 0-2 4-9 8-2 10-19 14-6 0 2-8 10-8 8-10-2-1-6 5-22 7-14 11 28 32 10 20 0 6 4 3 4-3 6 0 8 4 0 3 16-3 12 2-4 6-8 4-10-1-16 3-2-5-6-3-2 2 8 60 2 2 6-8-6-2 0-4 4-4-5-2 11-12 6-1-1 7 7 2-11 12 1 2 4 0 2 4 24-2-10 10-14-1-12 7-4-5-4 3 2 8 0 56-4 10 4 1 4-3 6 0 0 4-8 8-10 2-18 10-34 2 14 16 16 34 22 28 28 48 14 38 6 36 2 62-12 108-12 54-16 38-14 22-28 26-8-2-8 4-16-4-8-8-2 10-4 0-4-12 6-2-18-22-4 4 2 24-10 0-4 4 2 12-2 2-8-2-8-8-4-10-12-14-14-6-4-14-8-8-4 2 12 24 0 6-12-4-18-24 1-4-5-2-4-6 4-6 4 4 12 2 2-4-2-2 0-5 8 13 6-2-4-18-8-12 8 4 2-5 7 5 1-14-3-4 11-8-4-4-10 9-6-7-6 0-2 4 6 10-6 6 2 4-6-5-8 7-22 8-28 0-38-14-2 6 2 9-6-9 2-20-4-6-4 0-6 6 5 14-1 10 10 12 4 1 2 9 14 14 22 0 4 10 8 3-4 17-34 10 1 4 16 14-7 12 0 9-4-1-14-20-6 2 14 28 0 8 4 4 10-6 12 2 24 42 10 10 8 2 6-6 10 6 4 8 0 8 10 14 0 4-10-6-4 2-2 16 4 12 0 4-2 0-16-16-4 0-10-14-6-22-14-28-12 0-22-30-12-6-4 4 4 8-12-12-4 0-4 6 2 10-18-22-12-21-2 5 4 13-14-10-2 5 2 11-12-4-2 7-22 2-3 4-7 35-18 57 2 14-6 4-4 14-20 38-10 30-2 26-204 0-4-4-4 4-16 0 0-4-6-8 6-12-4-4-2 2 0 10-6-7-2-9 6-2 10-12-2-16 4-12-4-6 0-10 8-10 6 2 2-6-5-12-19-13-3-7 2-10-2-12 4-12 6-6-3-18-6-3-7 9-11-16 0-6 4-8-1-18 11 0 4-4-3-6-7-3-8 8-4-7 0-18 6-4-2-11 4-1 4 2 0-2-6-6-2 5-6-2-2 2-6-5-5 2-5-3-6 3-4-6-2 1-2 3 3 10 5 5 1 7-1 6-7-2-9-12-6-3 2-6 6 7 2-2 0-12 2-2-4-6-6-3-2 5 2 7-8 2-6-5-4-10 0-6 8 6 2-2 0-8 4-6-2-4-4-4-12 0-4 7-6-17-6-6-6 4 2 8-2 12-8 2-6-8-4 2 6 20-8 4 6 7 0 7-4 2-6-8 2-8-4-4 0-8 4-2-4-6 0-26 4-6-4-6 0-82 4 0-4-4 0-186 4-2-2-18 4-6-6-8 2-12-2-4 0-54 10 8-6 10 0 6 6 4 0 20-6 6 0 4 4 22-2 12 6 21 2-9 8-10 4 3 2-1-6-24 8-12-2-16 3-2 9 5 2-3-8-14-2-12-8-10-6-2 0-8-8-10 0-4 4-1 6 3 0 6 10 10 2 10 6 4 4 7 2-17-2-2-4 2-4-6 2-18-4-4 2-10-2-14 4 0 4 7 4-5 0-12 2 0 8 12 4 14 8-4 4 2 2-4 6-2-9-20 1-8 2 0 8 18 2-8-11-20 1-6 8-2-6-14 2-4-2-17 10 11 1 8-3 6 6 10 6-6 2 4 8-8-2-8 12 8 5-2 1-8-6-6-2-17 2-1 6 6 4 11 10-9-17-22 0-6 7-4 16-1 4-5 2-10-4-5-6-1-6 6-6-2-8 7-4-11 6-16 14-18 0-20 10 6 6 0 8 13 3-3 1-24-4-5-8-3 0-24 12-4 2-8-8-14-3-18-19-16 2-6 5 0 11 10 6-10zM475 509l-2 2 2 10-5 12-9 0-4 10 6 22-4 4-8-2-2 2 0 10 5 8-5 28 4 14 8-20 10 1-4-25 8 0 7 6 4 24 7 17 6-1 4 6-5 4-1 9-6 2-6 7-10-5-3 5 3 10 9 6 13 18 3 0 0 10 5 8-1 14-5 8-10-4-4-11-8-4-7 1 1 13 6 4 3 9-1 10 3 10-3 8-6-4-4 8-4 0-7 16 1 10 8 22 3 22-3 11-6-1-1 4 7 7 6 29 8 9 4-5 2-22 5-24 5 0 10 13 8 4 4 8 4 1-1-12-7-10 1-4 3 0 9 14 5 0 3-8-1-5-10 5-2-2 3-18 7 1 4-4 4 6 4-1 1-8 5-2 3-4-4-8 4-2 2-6 5-4 10 12 1 34 5 10 8-8 4 6 4 0 2-4-2-8-8 5-5-7 4-18-3-18 2-4 8 1 6 10 8 2 5 21-3 3-4-2-2 3 6 14 7-2-1-14 4-10 4 9 4-4 2 2 1 9 5 7 6-4 4-10 8 2 2-9 4-4 6 12 4 0 8 5 4-11-6-10-3-30-13-7-8-10-9-3-2-8 5-6-1-8-9-12-2-8-8-10-2 4 4 14-6 3-8-4-4 3-22-14-8-3 1-17-5-2-4 12 4 24-4 1-10-5-8 1-10 9-2-3-4 4-8-13 0-12 0 12-4 2 0-8-12-22-1-8 7 6 8 2 14 24 6-5 6 2 2-5-4-20 6-1 7-15-1-13 5 1-3 8 2 4 4 3 3-3-6-14 1-8 4-1 12 5 1-2 3-20-2-11 5 5-1 12 6 6 3 0 5-6 4 2 1 8-5 5-2 7 8 20 6-8 9-4-8-16 1-9 6 1 14 18 6-6-1-10-5-8-6 0-4-13-4 5-14-13-12 7-2-2-10-14 0-10 3-6-1-3-12 4-10-10 0 13-8-1-6 5-2-4 2-6 4 1 4-9-6-4-6 0-4 6 2 20-2 2-2-2-10-22 2-6-5-18 3-2 10 6 4 8 6 0 0-24 5-10-1-6-6-6-2 4-8 4 0 8 5 4 1 10-10-8-6 4-2-4 3-14-5-13-8-5-4 6-6-5-4 9-8 3-8-8zM599 565l-8 5-3 5 3 4 8 2 6-3 2-5zM615 573l-5 2-6 20 7 14 8-14-2-20zM629 556l2 10 6 2-1-9zM661 564l-6 13 5 16-6 4-3 12-3-6 4-12-5-4-8 1-6-7 2 20 7 10 2 8 7 2 8-3 4 13 10 12 15-14 3-11 8 2 8 9 4 1 2-20 6 0-2-29 4-4 7 6-2 10 2 10-8 26 9 2 6-5 6 5 1-8-3-8-2-22 2-3 12 15 2-6-2-13-6-1-8-7-4 2-5-13-5-3-4 7-6 4-16-5-4 10-6 3-4-3-4-11zM761 579l-2 4 4 6 4-6zM773 611l-2 12-6-2-6 6 2 18 8-9 6-1 3-4-1-11zM813 299l-2 10 2 2 4-8zM823 385l-10 14 2 9 6-3 6-12 0-6zM843 860l4 5 4-2-2-4zM851 333l-6 6 2 4 6-6zM885 332l-6 4-8 0-24 21-1 10 5 12 6 2 4-2 6-14-1-10 11-11 2-2 4 3 6 8 8-8-4-13zM913 279l-6 8 2 3 8-7zM925 390l-4 3 2 3 4-3zM977 870l-2 3 6 22 12 14 4 10 8 6 2-6-2-6-14-22 0-8zM937 916l2 9 8 9 2-3-4-10-6-6zM957 909l-2 4 2 10 8 8 2-12zM965 897l-2 10 2 6 8 6 2-6-2-8zM831 972l2 5 4-2-2-4zM915 1101l-2 4 8 10 2-8zM459 1172l-2 11 8 10 4-6 0-8-4-6zM433 1032l-2 3 2 2 2-2zM307 754l-4 5 6 6 2-8zM311 651l-4 4 0 6 6 4 2-10zM315 817l-2 8-4 0-4 4 4 12 4 0 8-10zM329 631l-2 14-6-2-4-9-2 9 4 7 8-1 8 11 2-5-5-6 3-6zM343 561l-4 10 6 6 3-6zM345 483l-2 4 2 5 2-5 4-2zM351 552l0 7-4 2 2 2 4-6zM379 515l-8 6 0 4-6 4 0 4 10 12 4 15-2 1-10-4-4 6 12 14 6 16 6 4 2-23 4-3 0-14 4-6 0-6-8-8-2-7-2 5-4-3zM409 424l-4 11-6-6-2 6-6 1-4-7-6 6 6 10 0 12 4 4 1 10-5 0-2 9-6 1 5 20 7 16 6-6 6 6 4-2 2-14 6-2 2-4 0-10-10-2-3-4 9-10-10-12 2-8 8-2 0-10zM441 1019l-4 4 2 8 5-2 0-8zM475 686l-10 3 1 6 11 16 2-1 6-4 1-5zM471 736l-1 3 3 3 0-5zM461 893l0 4 2 3 2-7zM587 678l-8 11 0 6 4 5 4-10 6-3-1-8zM595 689l0 6 4 4 0-6zM601 722l-3 5 3 4 1-4zM653 771l-1 4 3 0 1-4zM749 612l-2 5 1 14 5 8 0-20zM815 977l-2 12-8-4-2 2 2 10 10 12 4 0 2-6 4 0 4 4 4-4 0-6-8-14-6-6zM847 487l-4 4 2 6 6-8zM861 383l-5 20 9 10 10-12 0-4-4-8zM887 879l-2 4 6 7 2-5zM909 398l-6 3-12 16-4 8 2 4 20-22 2-4zM309 793l-2 6 4 2 2-6zM313 893l-4 4 2 2 4-2zM321 721l-4 4 2 7 6-7zM323 674l-2 3 4 2-4 8 8 7 2-9zM335 674l2 12-4 9 8 4 6-18-6-8zM345 577l-4 14-8-8-2 6 4 4 2 10 4-4 4 4 2 10 8 6 6-8 2-14-7-10-5 2-4-4zM369 615l-4 4-4 12 0 18 4 4 8-14-2-13 5-1zM379 703l-4 8-6-4-4 2 0 10 6 10 3 20-9 2-2 28 12 14 6-4-4-10 6-2-2-25 6-15-5-14 5-12zM381 663l-2 6 6 4 2-6zM387 795l-2 8 6 2 2-4zM387 521l-2 2 2 5 2-3zM415 917l-2 10 4 4 3-2 1-4zM463 739l-2 6 4 4 2-8zM587 714l0 5 2 3 0-5zM859 499l-5 8 3 2 4-4 1-4zM873 497l-10 14 2 4 10-10 0-6zM909 424l-10 9-2 4 2 4 8-6 4-8zM307 933l-2 2 4 4 2-2zM323 696l-2 9 6 2 2-6zM339 712l-4 5-3-2 2 12-7 6 2 6-4 6 2 4 4-2-2-10 8-8-1-4 9-6zM347 757l0 12-4 6 6 4 6-16zM357 735l-2 4 4 2 0-4zM367 880l-4 9 0 8 4 7 5-5zM381 883l-6 4 6 6 2 6-2 5-4-1 8 17-2 11 14 11 6-7 4 3 2-3-4-8-9 0-10-8 1-8 4-2 0-4-4-5-2-13zM857 859l-2 4 26 24 2-4-12-20-4-4zM329 791l-2 6-6-4-2 2 0 12 6 8 6-4zM339 754l-1 3 1 5 1-5zM345 800l0 5 6 3 2-5zM361 831l-5 0 3 6zM363 915l2 4 8 6 4-2-2-8-6 6zM863 879l-5 0 3 6zM321 853l-6 4-2 20 4 4 6 0 5-8 5 0 6 6 5 0 9 10 2-8-2-9 4-5-2-10-4-2-10 12-10-16zM347 835l-2 4 4 2 0 8 2-6zM359 847l-2 8 2 3 4-3zM321 899l-4 6 4 3 2-7zM873 171l6-2 0 4-4 8-6 2zM905 173l4 0 0 4-4 8-6 2 0-4zM309 175l4 4 0 14-4-2-2-10zM1067 179l12-4 0 2-8 7-8 1zM852 177l3 0 0 4-4 8-6 2-1-4zM1097 181l14-4 0 4-14 6-2-2zM1173 177l8 0 0 2-10 8-8 0 2-4zM926 183l3 0 0 4-4 8-6 2 0-4zM1121 185l8 0 0 2-10 8-8 0 2-4zM1099 191l6-1 0 5-6 7-6 1-1-4zM886 193l3 1-1 7-9 15 2-7-2-6zM379 205l4 0 4 4 0 10-2 2-6-4zM1151 219l8 0 0 2-6 6-12 4-2 6 6 2 0 2-10 8-8 0 6-8-4-4zM315 221l3 0 3 6-2 10-6-6zM429 221l6 6-2 8-6-7zM349 231l2-2 4 4 1 6-3 6-4-5zM309 243l2 0 1 8-3 4-2-4zM1167 245l8 0 0 2-10 8-8 0 2-4zM426 251l3-2 3 6-2 0zM405 259l2-7 4 4-2 7zM339 255l4 2 2 6-2 4-4 0-2-5zM1191 255l8 0 0 2-10 8-8 0 2-4zM1119 261l8 0 0 2-6 4-8 0 0-2zM1158 263l3 4-6 6-12 3-8 7-4-2 0-4 4-4 6 0 6-6zM1165 267l6 0 2 2-8 10-10 4-8 0 2-4 10-3zM327 271l2-2 6 6 2 12-6-4zM377 271l4 0 4 8 0 6-6-4zM301 273l3 8-3 8zM357 281l4 0 2 6-3 6-3-2zM1203 281l8 0-4 10-8 6-8 0 2-8zM369 287l4 4 0 12-4 0-2-4zM400 293l10 0 5 3 4 5-1 4-6 0-10-6-3-3zM1201 305l8 0 0 2-16 12-4 6-6 2-2-2 4-4 0-6zM323 311l4 2-2 8-4-3zM1133 311l6 0-2 4-12 4 0-2zM1151 316l10-5 0 4-10 8-6 2-2-3-8 1 6-8zM379 315l4 4 0 7-4-5zM1171 315l8 0 0 2-10 8-8 0 2-4zM344 323l3 2 0 6-4-4zM327 327l4 1 4 11 2 32-8 0-4-4-6-18-14 4 0-14 4-2 2 2 4-2 8 2zM1163 331l6 0 0 4-8 6-8 0 2-4zM1191 331l8 0 4 4-10 8-12-2 2-4zM362 341l3 1 2 5-2 8-4-2zM1245 345l8 0 0 2-10 8-8 0 2-4zM377 349l4 8-4 6-2-4zM1225 349l8 0-4 6-12 4zM407 353l6 0 2 4 1 6-3 2-6 0-2-3zM1187 355l6 0 0 4-8 6-8 0 0-4zM303 365l4 0 2 6-6 4 0 10-2 0zM365 365l4 4 0 10-6-2-2-6zM399 381l2-18 4 6 0 10-4 4zM1157 369l10-6 4 4-6 6-10 2-2 6-6 4 6 2-4 6-6 4-8 0 2-4 8-6-4-4 4-6-2-4 8-6zM1183 369l4 0-4 10-8 6-8 0 2-4zM1223 371l2 2-4 4-8 2 4-6zM318 375l3 2 0 14-4 4-2 8-4-6 0-6zM345 375l4 0 4 6 0 8-4 4 4 4 8-4 2 2 8 18-2 4-4 0-2-10-8-10-4 10-4-2-6 2 6 2 2 4 6-4 6 13-6-1-4-8-6 6-8-8-2 2 5 14 1 12-6 16-6-8 0-10 4-2-8-10-4 6 2 14-3 0-3-4-2-30 3-4 3 2 2 12 2-8 4-4 6 2 2-2-2-12 4-13 6-3zM410 377l4 2-1 5-3-5zM1192 387l5 2-1 4-11 7-2-3 1-4zM1161 395l8 0 0 2-10 8-8 0 2-6zM1231 397l8 0 0 2-10 8-8 0 2-4zM1141 403l4 0 0 6-6 4-6 0-1-4zM1180 405l5 0 0 5 8-2 2 3-10 8-14-2 0-4zM304 413l5 1 2 3-2 12-4 2 2 8-4 6-2-2 0-12 4-2-2-6zM1153 415l8 0-9 8 11 4-2 8-16 6-2-2 1-2-3-2 10-10-8-2zM1179 431l10 0 0 2-12 12-8 0 2-8zM355 437l6 2 6 8 1 8-3 4 2 8-4 7-4-3 0-14 2-2-6-9zM1129 453l4 4-12 10 1 4-3 6-8 4-6 0 4-8 12-6-4-3-10 4-8 7-12 4 16-17 18-4zM309 457l6 2 0 10-2 4-4-3-4 7-4 2 0-17 6 7 0-10zM1177 459l8 0 0 2-10 8-8 0 2-4zM322 463l3 0 4 6-2 8-6-8zM1133 466l20-3 0 2-10 8-16 0zM301 483l6 4-2 8-4 0zM1213 485l8 0 0 2-10 8-8 0 2-4zM391 495l6 6-2 6-6-6zM315 525l6 4 2 14-2 2-8-10 0-8zM1203 529l6 0-2 4 6 2 0 2-10 8-8 0 6-8-4-4zM1225 543l8 0 0 2-10 8-8 0 2-4zM321 547l2-1 2 3 0 10-4-2zM1201 557l8 0 0 2-10 8-8 0 2-4zM1203 573l8 0 0 2-10 8-8 0 2-4zM1257 575l8 0 0 2-10 8-8 0 2-4zM1173 587l12-5 2 3-12 6zM351 597l2-2 4 4 0 6-4 4-2-2zM511 607l7 8 3 13 2-11 6 4 4-5-1 13 3 10 11 10 0 8-8 10 0 16 3 6 4 0 2 8-8 14-8-6-6-25-4 7-6-6 1-20-5-5-7-19 7-6 2-18zM525 664l-2 5 4 4 2-4zM1179 613l14-4 0 4-8 4-6 0zM552 627l3-1 4 6 4-6 2 0 5 9-1 5-12-3zM1191 635l15-4 1 4-12 6-6-1zM1227 635l15-4 1 4-12 6-6-1zM1207 649l8 0 0 2-4 2-10 0zM1233 665l12-2 0 4-10 2zM1255 681l6 2 0 4-12 0 0-4zM1185 685l18-2 0 4-4 2-14 0zM1219 687l18-2 0 4-4 2-14 0zM1191 695l10-2 2 4-9 2zM1235 695l8-3 4 3-8 2zM1215 701l10-2 2 4-10 0zM1209 713l14 0 2 4-2 2-14 0-2-2zM508 741l3-1 12 9 6 10 0 8-6-3-2 9 2 3 6 1 1 4-1 12-5 0 7 12 0 11-18-20-6-3-13-18-1-12 4-4 6 5zM1263 741l14 0 4 2 0 4-14 0-4-2zM1181 747l12 0 6 6-12 0zM592 769l3 1 1 5-5 4-2 12-3-4 0-8zM618 775l3-1-2 26-8 1-3-8 7-2zM1199 775l8 0 4 4-6 2zM632 795l3-1 2 8-2-1zM619 803l2 2 1 6-2 6-5 4-2-6zM1237 807l10 2 4 6-12-2zM543 811l2-1 3 5-3 3zM620 825l3 0 3 4-6 0zM668 827l3 2-2 8-2-4zM632 831l8-2 1 6-2 2-7-2zM473 847l6 1 8 7-1 6-5 4zM1205 901l8 2 4 4 0 4-8-2-6-6zM325 931l6 2-2 8-6-5zM339 933l4 1-2 7 2 4-4 6-4-4zM325 951l2-2 2 4-2 2zM337 961l2-2 6 6 0 12-4 0-4-6zM1121 963l6 0 4 4 0 4-6-2zM353 967l6 4 0 8-4 1-4-3zM1187 967l6 0 6 4 2 6-6 0-6-4zM981 969l4 0 6 8 0 10-2 2-4 0-6-8zM1213 971l6 0 6 4 2 6-6 0-6-4zM1117 973l10 2 4 4 0 4-8-2zM319 975l6 5 4-4 4 1 5 8 3 0 4 4 0 14-2 2-6-14-6 2-2 6 2 9-4 8-4-7 2-10-2-10-6-4zM1171 987l10 0 7 6-6 0zM367 993l4 2 4 12 2 14-2 7-4-5-4 4-4-8 2-8 4 2 2-2-6-13zM1205 993l6 0 6 4 2 6-6 0-6-4zM307 999l6 6-2 6-6-4zM1108 999l17 2 6 7 4 1 4 4 0 4-8-2-2-6-10-8 0 6-6 0-4-4zM1161 1013l6 0 6 4 2 6-6 0-6-4zM797 1019l6 6 10 20 0 10 8 14 4 16-10-2-8-14 0-8 4-4 0-6-12-18zM353 1021l5 0 3 4 2 8-2 4-6-4zM384 1023l3-2 1 4-3 1zM407 1027l4 0-2 6-3-2zM1095 1027l16 8 6 8-16-4zM785 1035l4 2 8 18-6 2-2 20 2 6 16 16 34 52 4 2 4-2-2-10-24-34-2-6 10 8 6-6 4 0 12 10 8 2 28 38 2-4-4-18 8-4 0-10-4-8-12-16-18-12-4-16-4-2-4 6-6-4-4-14 6-2 8 2 18 16 8 20 16 20 8 16 14 10 10 24 4 4 2-6 4 0 10 14 10 2 10 12 6 14 4 4 6-2 6 2 4 10-6 2-6-6-8 0-6-6-8-2-6 2-6-2-2 6-4 0-12-8-6 0-2 6 8 12 0 12 12 18-58 0-34-46-14-26-8-2-8-8 0-6 4 0 4 4 4-2-2-14-8-6-6 0-14-20-6-6-4 0-4 6 6 13-8-1-4 4 2 6 10 10 14 6 4 10 0 12 12 14 6 12 14 14 12 2 10 18 8 6-18 0-4-2-2 2-8 0-8-6-6 2-2 4-28 0 2-6-10-16-2-16-14-18-12 2 10 16 0 8-2 2-6-2-4 6-12-16 12-16 0-10 4-4 4 0 6 4 18 32 10 10 4 2 6-2 0-12-20-26-6-16-10-10-6-12-2-16-4-8 4-8-10-14 0-16 8-2 6-10 10 0 0-8-7-16 11-8zM873 1157l-4 18-12-14-4 2 4 26 10 10 4 0 2-6-4-14 6 6 8 18-1 2-7 0 0 6 8 18 6 6 4-4 0-10 2 0 12 16 18 8 2-6-8-18-6-4-6 4-4-4-6-12 2-12-2-8-16-22zM907 1147l-2 8 6 14-6 2-4 6 16 24 4-4-2-6 2-24-10-18zM1185 1037l6 0 6 4 2 6-6 0-6-4zM1139 1041l6 0 10 8-2 10-12-8 0-6zM817 1047l6 0 2 6 10 10 6 10 2 10-8-6zM1011 1047l10 2 8 8-12-4zM1110 1055l5 0 6 6-2 2-6-2zM419 1059l4 0 4 9 0 5-4 4-4-8zM972 1065l7 6 2 10-8-6-2-4zM1153 1065l6 0 6 4 2 6-6 0-6-4zM942 1067l3 2 0 4-4-4zM317 1069l4 2 0 14-4-4zM391 1085l4 0 4 7 2 11-2 3-10-9-2-8zM1016 1085l9 2 8 8-10-2-6-4zM853 1089l8 4 2 6-6-2zM966 1089l9 6 14 20-6 0-8-6-10-16zM1180 1091l7 0 8 6 1 4-7 0-8-6zM375 1099l6 2 2 10 4 4-4 7-2-3 2-4-8-8zM1003 1101l12 12 0 8-8 0-8-8-2-6zM1117 1101l8 8-2 4-6-6-2-4zM963 1111l10 6 1 8-9-8zM1019 1113l4 2 1 6-5-4zM1184 1117l5 0 10 10 5 8-1 9-4-1-10-10-5-8zM412 1119l4 0 3 20-10-16zM743 1119l4 0 6 8 0 4-4 4-4 0-2-4zM1151 1125l10 0 8 8-10 0zM1133 1137l12 4 4 6-10-2zM971 1145l6 0 8 6 4 8-2 8-14-14zM761 1147l6 6 0 6-4-2zM331 1151l4 0 2 6-2 8-4-6zM396 1151l3 0-2 7-2-1zM1199 1153l10 2 4 8-6 4-8-2-4-6zM411 1157l4-2 2 3 0 11 4 6 2 14 10 4 2 16-4 0-6-6-2-10-6-6-6 2-4-6 2-6 4 2 2-2-6-14zM1013 1157l4 0 4 7-6-3zM751 1159l4 0 2 4-2 6-6-2zM1221 1159l2-2 6 2 4 2 0 4-6 0zM1075 1163l10 4 2 4-2 2-10-4-2-4zM1147 1165l6 0 6 4 2 6-10-4zM1197 1169l6 2 4 6-4 0zM1003 1179l8 0 8 4-2 4 10 4 4 12-4 2-10-8-10-2zM825 1181l2-1 4 3 2 8-6-2zM1097 1185l8 2 6 6 1 4-9-2-6-6zM695 1193l6 10-2 5-4-5zM731 1195l8 0 0 10-10 12-8-2-2 4-4 0-4-8 14-4zM415 1201l3 0 3 4-4 8-4-2-1-4zM1137 1201l10 2 4 6-6 0zM779 1207l0 6-2 0 0-4zM315 1211l2-1 8 9 0 4-8 5-4-5zM953 1211l6 0 8 8 6 2 4 24-16 0-4-4-8 0-8-14 0-4 4 0 12 12 4-4zM1016 1211l7 10-2 3-4-3zM331 1215l6 2 2 6-2 4-6-2-2-6zM1105 1217l6 1 7 7-1 4-4 0-6-4zM1191 1217l6 2 4 6-2 2-6-2-4-4zM427 1219l6 2 0 8-6 0-2-2zM1065 1223l10 2 4 12-8-2-6-8zM769 1245l-4-13 20 13zM426 1239l7-6 4 4 0 8-10 0zM707 1235l2 0 2 10-8 0zM1211 1235l6 2 7 8-7 0-8-8zM993 1237l4 0 4 8-4 0-4-4z"/>
<path fill="#00a248" d="M453 169l12 0-2 10 4 4 4-4 0-10 370 0 2 8-1 10 3 34 4 8 0 32 8 7 14-5-5 8-1 12-10 12-2 8 4 2 6-3 4 2 4-5 14-56 13-28 3 7 74-29 44-10 18 0 32 34 2-6 8-6 8 0 0 4 6-1 8-5 8-1 6-3 8 2 8-6 8 0-2 4-10 8-1 10-19 14-6 0 2-8 10-8 8-10-2-2-6 6-22 7-14 11 28 32 10 20 0 6 4 3 4-3 6 0 8 4 0 3 16-3 12 2-4 6-8 4-10-1-16 3-2-6-6-2-2 2 8 60 2 2 6-8-6-2 0-4 4-4-4-2 10-12 6-1-1 7 7 2-12 12 2 2 4 0 2 4 24-2-10 10-14-1-12 7-4-5-4 3 2 8 0 56-4 10 4 2 4-4 6 0 0 4-8 8-10 2-18 10-34 2 14 16 16 34 22 28 28 48 14 38 6 36 2 62-12 108-12 54-16 38-14 22-28 26-8-2-8 4-16-4-8-8-2 10-4 0-4-12 6-2-18-22-4 4 2 24-10 0-4 4 2 10-2 4-8-2-8-8-4-10-12-14-14-6-4-14-8-8-4 2 12 24 0 6-12-4-18-24 1-4-7-4-2-4 4-6 4 4 12 2 2-4-2-2 0-4 8 12 6-2-9-28 5 3 2-5 7 4 1-14-2-4 10-8-4-4-10 9-6-7-6 0-2 4 6 10-6 8-4-3-8 7-22 8-28 0-38-14-2 6 2 9-6-9 2-20-4-6-4 0-6 8 4 8 2 18 12 9 2 9 14 14 21 0 5 10 8 4-4 16-34 10 1 4 16 14-7 12 0 9-4-1-14-20-6 2 14 28 0 8 4 4 10-6 12 2 24 42 10 10 8 3 6-7 10 6 4 8 0 8 10 14 0 4-12-6-2 2-2 16 4 12 0 4-2 0-16-16-4 0-10-14-6-22-14-28-12 0-22-30-12-6-4 4 4 8-12-12-4 0-4 6 2 10-18-22-12-21-2 5 4 13-14-10-2 5 2 11-12-4-3 7-21 2-3 4-7 34-18 58 2 14-6 4-4 14-20 38-10 30-2 26-204 0-4-4-4 4-16 0 0-4-6-8 6-12-4-4-2 11-2-1-4-5-2-9 6-2 10-12-2-16 5-10-5-9 0-9 2-2 4 0 2-7 8 0 1-5-6-12-19-14-3-6 2-10-2-12 4-12 6-6-2-18-7-3-6 9-11-16-1-6 4-8 0-18 10 1 4-5-2-6-6-3-5 1-3 7-6-7 1-18 5-4-2-11 4-1 4 3 1-3-7-7-2 6-6-2-2 2-6-5-4 2-6-3-6 3-4-6-2 1-2 1 3 12 5 5 1 7-1 6-6-2-10-12-6-3 2-6 6 7 3-2-1-12 2-2-4-6-6-3-2 5 2 6-8 3-8-9-2-12 8 6 2-2 0-8 4-6-2-4-4-4-12 0-4 6-6-16-6-6-4 1-2 3 2 8-2 11-8 2-6-7-4 2 6 20-9 4 7 7 0 7-4 2-6-8 2-8-4-4 0-8 4-2-4-6 0-26 4-6-4-6 0-82 4 0-4-4 0-186 3 0 1-10-2-10 6-5-2 13 6 21 2-9 6-4 2-6 4 3 2-1-6-22 8-14-2-16 2-2 7 2 3 3 2-3-8-14-2-13-6-7-8-4 0-8-8-10 0-4 4-1 6 3 0 6 10 10 2 10 6 4 4 7 2-17-2-2-4 2-4-6 2-18-4-4 2-10-2-13 4-1 4 7 4-5 0-12 2 0 8 12 4 14 8-4 4 2 2-4 6-2-9-20 1-8 2 0 8 19 2-9-10-20 0-6 8-2-6-12 2-6-2-17 8 7 3 10-3 8 4 4 0 6-7 6 7 10 0 12 4 5 1 9-3-2-4 4 0 7-6 1 10 34 2 2 6-6 6 6 4-1 2-15 9-4-1-12-10-3-3-3 10-10-9-7-2-6 2-7 8-2 1-10-5-14-4 12-6-7-2 7-6 0-3-6 7-5 2 3 8-8-2-8 8 7 10-1 1-8-7-6-2-14 2-3 6 5 4 11 10-9-16-22-1-6 7-4 16-1 6-11-1-6-3-4-6-1-6 6-6-1-8 6-4-8 6-18 15-18-2-18 17 4 8 13 3-3 2-24-5-6-7-2-1-22 2-4 12-4 0-6-8-14-3-20-9-4-10-11 2-5 4 0 12 10 6-10zM473 506l-3 5 3 10-4 9-8-1-5 10 1 16 5 6-1 4-4 2-8-2-4 14 6 8-3 34 9 24 6 2 4-7 5 5 2 4-3 12 3 16 1 3 4-8 13 17 5 22 2 4 2-2 1 10-3 7-8-5-8-12 4-6 1-8-9-9-4-8-10 3-1 8 8 16-3 4 0 18-6 4-5 10 5 7 8-6 4 5-4 4-2 13-6 4-7 25 11 28-1 24-1 3-5-1-2 4 1 6 7 6 2 10-5 10-6 0 4 15 2 1 3-2 3-13 6 13 6 4 8-12 5 4 0-10-5-2-2-8 8-25 12 14 8 5 4 8 6 2 2-12 6 0 2-7 10 5 0-7-10-12-10 3 2-12 6 0 4-3 4 6 4 0 2-7 8-6 4 0 4 8 6 0 3 18 5 8 18-4 0-16-6 3-3-3 0-10 4-6-3-10 2-8 4 2 4 7 7 3 4 16-1 3-6-1-1 4 7 24 9-12 1-18 2 7 4 1 10 11 6-3 4-9 8 2 6-11 6 10 4-2 8 7 6-17-7-10 2-18-5-12-8-3-8-7-1-4 5-6-8-18-4-1-7-11-5-2-4-10-8-10-3 2 1 16-2 1-8-3-4 3-4-7-2-18-4 12 4 8-10-2-3-4 3-10-5-22 3-7 3 1 7 12 2 1 2-2 4 4 8-14 10-5 3-4-7-13 4-2 12 14 6-2 4 4 2-3-4-20-8-8-6-2-6-30-3 0-3 14-4 2-8-5-10 4-11-11 0-8 6 0 3-12 8-5 10 12 4-8 5-3-5-34-2-2-2 2-8 0-6-7-8 6-5 7 0 4 10 10 1 8-7 8-15 4-6-6-2-8 4-8-4-7-2 1-2 9-6 4-5-9 1-12 3-4-2-8 4-8-7-12-2-1-12 8-4 14-3-25-15-7-4 6-4-4-6 4-6-4-2 5-4 1-4-9 2-10-6-4-4-8zM579 563l-2 4 2 6 5-6-1-4zM627 551l-2 6 6 12 6 1 1-11zM661 562l-8 12 0 13-14-1-6-10-2 2 2 25 8 10 2 16 4-4 4 2 6-4 4 13 6 1 6 8 10 1 2-9 6-8 0-9 10 3 6 9 6 1 2-20 5 4-1 21 4-3 6 1 6-8 8 13 2 0 2-7 14 15 8-10 9-4 2-6-4-16 2-10-5-12-4 25-8 5-4 0-4-10 3-16-2-10-11-4-6-6-4 0-8-13-4 1-4 7-6 3-14-5-5 11-5 2-4-4-4-10zM761 576l-5 5 4 10 7-3 4 1-1-6zM813 299l-2 10 2 2 4-8zM819 333l-2 2 2 4 3-4zM843 860l4 5 4-2-2-4zM851 333l-6 6 2 4 6-6zM891 331l-20 5-23 19-2 12 4 12 10 2 7-14 0-12 10-10 6 1 6 7 6-6 2-6zM909 398l-18 19-4 8 2 4 4-2 16-20 2-6zM913 279l-6 8 2 3 8-7zM925 390l-4 3 2 3 4-3zM977 870l-2 3 6 22 12 14 4 10 8 6 2-6-2-6-14-22 0-8zM937 916l2 9 8 9 2-3-4-10zM957 909l-2 4 2 10 8 8 2-12zM965 897l-2 10 2 6 8 6 2-6-2-8zM831 972l2 5 4-2-2-4zM915 1101l-2 4 8 10 2-8zM461 1171l-5 4 0 6 9 12 4-6 1-8zM433 1032l-2 3 2 3 3-3zM307 754l-4 5 6 6 2-8zM311 651l-4 4 0 6 6 4 2-10zM315 817l-2 8-4-1-4 5 4 12 4 0 8-10zM329 631l-2 14-6-2-4-9-2 9 4 7 8-1 8 11 2-5-5-6 3-6zM343 561l-4 10 6 6-2 12-4 2-6-8-2 6 4 4 2 11 4-5 4 4 2 10 8 6 6-8 2-14-7-10-5 2-4-4-2-8 4-6-2-7zM345 483l-2 4 2 5 2-5 4-2zM351 552l-1 7-3 2 2 2 4-6zM375 517l-4 8-6 4 0 6 10 10 4 14-2 2-10-4-4 6 12 14 6 16 6 4 2-2 0-20 4-4 0-14 4-6 0-6-8-8-2-8-2 6-4-3-2-7 2-8-2-2zM387 521l-2 2 2 6 2-4zM415 917l-2 10 4 4 4-2 0-4zM441 1018l-5 5 0 6 3 3 5-3 0-8zM451 841l-2 1 0 7 4 3zM557 849l0 12 2 2 1-6zM584 585l-5-4 0 6zM683 809l-2 6 2 12 3-14zM821 387l-8 12 2 9 6-3 6-12 0-6-2-2zM849 487l-6 4 2 6 6-8zM861 382l-5 21 9 10 10-12 0-4-4-9zM887 879l-2 4 6 7 2-5zM909 424l-10 9-2 4 2 4 8-6 4-8zM309 793l-2 6 4 2 2-6zM313 893l-4 4 2 2 4-2zM321 721l-4 4 2 7 6-7zM323 674l-2 3 3 2-3 8 8 7 3-3-1-6zM335 674l2 12-4 9 8 4 6-18-6-8zM347 757l0 12-4 6 6 4 6-16zM357 735l-2 4 4 3 0-5zM367 617l-6 14 0 18 4 4 9-14-3-13 6-1-6-8zM379 703l-4 8-6-4-4 2 0 10 6 11 2 19-8 2-2 28 12 14 6-4-4-10 6-2-2-24 6-16-5-14 5-12zM381 663l-2 6 6 4 2-6zM387 795l-2 8 6 2 2-4zM449 892l0 9 2 4 1-10zM453 869l0 10 2-1 3-5-2-4zM815 977l-2 12-8-4-2 2 2 10 10 12 4 0 2-6 4 0 4 4 4-4 0-6-8-14-6-6zM859 499l-4 4 0 5 6-3 1-4zM873 497l-10 14 2 5 10-11 1-6zM307 933l-2 2 4 4 2-2zM321 793l-2 14 8 8 4-4-2-6 2-12-2-2-4 6zM323 696l-2 9 6 2 2-6zM339 712l-2 4-5-1 2 12-7 6 2 6-5 6 3 4 4-2-1-10 7-8-1-4 9-6zM345 800l0 5 6 3 2-3-2-5zM357 829l-1 2 3 6 2-6zM363 806l-2 3 2 3 2-3zM367 880l-4 9 0 8 4 8 6-6zM381 883l-6 4 6 6 2 6-2 5-4-1 8 18-2 10 14 12 6-7 5 1-1-8-2-2-8 0-10-8 0-8 4-2 0-4-4-5-2-13zM857 859l-2 4 26 24 2-4-12-20-4-4zM321 852l-6 5-2 20 4 4 6 0 6-8 4 0 6 6 5 0 9 10 2-8-2-9 4-5-2-10-4-2-10 12-10-16zM339 754l-2 3 2 6 1-6zM347 835l-2 4 4 2 0 8 2-6zM359 846l-2 9 2 3 4-3zM363 915l2 4 8 6 4-2-2-8-6 6zM863 879l-5 0 3 6zM321 899l-4 6 4 3 2-7zM873 171l6-2 0 4-4 8-6 2zM905 173l4 0 0 4-4 8-6 2 0-4zM309 175l4 4 0 14-4-2zM1067 179l12-4-4 6-12 4zM852 177l3 1 0 3-4 8-5 2-2-2 2-6zM1097 181l14-4 0 4-14 6-2-2zM1173 177l8 0 0 2-10 8-8 0zM926 183l3 1 0 3-4 8-5 2-1-4zM1121 185l8 0 0 2-10 8-8 0 2-4zM1099 191l6 0 0 4-6 7-6 1 0-4zM886 193l3 1-1 7-7 8-2-6zM379 205l4 0 4 4 0 10-2 2-6-4zM1151 219l8 0 0 2-6 6-12 4-2 6 6 2 0 2-10 8-8 0 6-8-4-4zM315 221l3 0 3 6-2 10-6-6zM428 223l3-2 4 5 0 7-2 2-6-7zM349 231l2-2 4 4 1 6-3 6-4-5zM309 243l3 8-3 4-2-6zM1167 245l8 0 0 2-10 8-8 0 2-4zM405 253l4 0 2 4-2 6-4-5zM339 255l4 2 2 6-2 4-3 0-3-5zM1191 255l8 0 0 2-10 8-8 0zM1119 261l8 0 0 2-6 4-8 0 0-2zM1158 263l3 4-6 6-12 3-8 7-4-2 0-4 4-4 6 0 6-6zM1165 267l6 0 2 2-8 10-10 4-8 0 2-4 10-2zM327 271l2-2 6 6 2 12-6-4zM377 271l4 0 2 4 2 10-6-4zM301 273l3 8-3 8zM358 281l3 1 2 5-4 6-2-2zM1203 281l8 0-4 10-8 6-8 0 2-8zM369 287l4 4 0 12-4 0-2-4zM401 293l8 0 7 4 3 4-1 4-5 0-11-6-3-4zM1201 305l8 0 0 2-17 12-3 6-6 2-2-2 4-4 0-6zM323 311l4 2-2 8-4-3zM1133 311l6 0-2 4-12 4 0-2zM1160 311l1 4-10 8-6 2-2-3-8 1 6-8 10 1zM1171 315l8 0 0 2-10 8-8 0 2-4zM379 317l3 2 1 6-4-4zM345 323l2 2-1 6-3-4zM327 327l4 1 4 11 1 32-7 0-4-4-2-12-4-6-14 4 0-14 4-2 2 3 4-3 8 2 2-2zM1163 331l6 0 0 4-8 6-8 0 2-4zM1191 331l8 0 4 4-10 8-12-2 2-4zM362 341l5 6-2 8-4-2zM1245 345l8 0 0 2-10 8-8 0 2-4zM1225 349l8 0-4 6-12 4zM375 351l2-2 4 6 0 4-4 4zM405 355l8-2 2 4 0 6-2 2-6 0-2-3zM1187 355l6 0 0 4-8 6-8 0 0-4zM303 365l4 0 2 6-6 4 0 10-2 0zM365 365l4 4 0 10-6-2-2-6zM399 381l2-18 4 6 0 9-4 5zM1157 369l10-6 4 4-6 6-10 2-2 6-6 4 6 2-4 6-6 4-8 0 10-10-4-4 4-6-2-4 8-6zM1183 369l4 0-4 10-8 6-8 0 2-4zM1223 371l2 2-4 4-8 2 4-6zM319 375l2 2 0 14-6 12-4-6 0-6zM345 375l4 0 4 5 0 9-4 4 5 6-3 8-4-2-6 2 6 2 2 4 6-4 6 12-2 2-4-2-4-8-6 6-8-8-2 2 6 24 0 6-6 12-6-10 0-8 4-2-8-10-4 6 2 14-6-4-2-30 3-4 3 2 2 13 2-9 4-4 6 2 2-2-2-11 4-14 6-3zM1193 387l4 2-1 4-11 6-2-2 1-4zM361 393l10 16-2 8-4 0-2-10-6-10-3 0zM1161 395l8 0 0 2-10 8-8 0 2-6zM1231 397l8 0 0 2-10 8-8 0zM1141 403l4 0 0 6-6 4-6 0 0-4zM1180 405l5 0 0 5 8-1 2 2-10 8-14-2 0-4zM304 413l7 2-2 14-4 0-2-4zM1153 415l8 0-10 8 12 4-2 8-16 6-2-2 2-2-4-2 10-10-8-2zM301 431l4-2 2 8-4 8-2-2zM1179 431l10 0 0 2-12 12-8 0 2-8zM355 437l6 2 6 8 0 20-4 7-4-3 0-14 2-2-6-9zM1129 453l4 4-12 10 1 4-3 6-8 4-6 0 4-8 12-6-4-4-10 5-8 7-12 4 16-16 18-5zM309 457l6 2 0 10-2 4-4-4-4 8-4 2 0-17 6 7 0-10zM1177 459l8 0 0 2-10 8-8 0 2-4zM322 463l3 0 4 6-2 8-6-8zM1133 467l20-4 0 2-10 8-16 0zM301 483l6 4-2 8-4 0zM1213 485l8 0 0 2-10 8-8 0 2-4zM391 495l6 6-2 6-6-7zM301 513l10 8-6 8 0 8 6 6 0 18-7 10 4 16-1 2-6-6 2-12-2-4zM315 525l6 4 2 14-2 1-8-9zM1203 529l6 0-2 4 6 2 0 2-10 8-8 0 6-8-4-4zM1225 543l8 0 0 2-10 8-8 0 2-4zM321 547l4 2 0 10-4-2zM1201 557l8 0 0 2-10 8-8 0zM1203 573l8 0 0 2-10 8-8 0 2-4zM1257 575l8 0 0 2-10 8-8 0zM720 581l3 0 2 4-2 9-2 1zM538 593l1-11 5 9-3 6zM1173 587l12-5 2 3-12 6zM599 585l5 0 1 5-4 1zM468 587l5-1 8 5 4 28 10 26-12 13-8-9 2-8-4-3-2-13-4-3-1 7-3 0-2 7-2 1-3-2 1-12 6-4-1-6 7 0 4-4-5-12zM738 595l3-1 7 13-5 12-3-6zM351 597l2-2 4 4 0 6-4 3-2-1zM720 599l3-2 3 6-3 7zM1179 613l14-4 0 4-8 4-6 0zM514 619l11 16 0-16 5 6 2 18 13 8 0 6-9 6 0 20 9 14-4 2-4 9-6-5-2-8-3-16 5-8-2-8-10-10-6 2-2-3-2-13 4-6zM1191 635l15-4 1 4-12 6-6-1zM1227 635l14-4 2 4-12 6-6-1zM1207 649l8 0 0 2-4 2-9 0zM599 665l6-7 2 3-7 12 1 8 4 12-2 4-10-20-7-4 1-13 4 0zM1233 665l12-2 0 4-10 2zM571 669l6 0 7 6-7 13-7-9zM1255 681l6 2 0 4-12 0 0-4zM1185 685l18-2 0 4-4 2-14 0zM1219 687l18-2 0 4-18 2zM562 693l3-1 6 7 4-5 4 7-2 4-6 2-4 8 4 26-8-4 1-8-3-6-3 12-3 2-3-2 3-10-4-18 6-1zM1191 695l10-2 2 4-9 2zM1236 695l7-3 4 3-8 2zM1215 701l10-2 2 4-10 0zM516 711l3-1 8 4 2 5-6 8zM581 711l2 0 3 8 1 6-2 2-8-4zM1209 713l13 0 3 4-2 2-13 0-3-2zM531 729l2-2 6 12 8-8 1 12-9-3-3 7-3 0zM1263 741l14 0 4 2 0 4-14 0-4-2zM510 743l10 6 8 10-1 5-6-1-4 12 8 28 4 1 2 5-2 5-8-9-2-6-6-6-4 0-8-10-5-16 0-4 3 0 8 8zM1181 747l12 0 6 6-12 0zM477 757l3 2-1 6-3-4zM640 767l3-1 2 3-2 6-2-2zM1199 775l8 0 4 4-6 2zM523 781l4-2 2 2-2 9-4-3zM616 783l3-1 1 3-1 11-2-3zM1237 807l10 2 4 5-12-1zM558 809l3-2 2 2 6 10 0 7-10 1zM618 809l3 0-4 6-1-2zM585 815l2 2-2 5-1-5zM479 851l3 4-1 4-2-4zM1205 901l8 2 4 4 0 4-8-2-6-6zM325 931l6 2-2 8-6-5zM339 933l4 1-2 7 2 4-4 6-4-4zM325 951l4-1-2 5-2-1zM337 961l2-2 6 6 0 12-4-1-4-5zM1121 963l6 0 4 4 0 4-6-2zM353 967l6 4 0 8-4 1-4-3zM1187 967l6 0 6 4 2 6-6 0-6-4zM981 969l4 0 6 8-2 12-4 0-6-8zM1213 971l6 0 6 4 2 6-6 0-6-4zM1118 973l9 2 4 4 0 4-8-2zM319 975l6 5 2-3 5 0 5 8 4 0 4 4 0 14-2 2-6-14-6 2-2 6 2 8-4 9-4-7 2-10-2-10-6-4zM1171 987l10 0 7 6-11-2zM367 993l4 2 4 13 2 13-2 6-4-5-4 5-4-8 2-8 4 2 2-2-6-14zM1205 993l6 0 6 4 2 6-6 0-6-4zM307 999l6 6-2 6-6-5zM1109 999l16 2 6 8 8 4 0 4-8-2-2-6-10-8 0 6-6 0-4-4zM1161 1013l6 0 6 4 2 6-6 0-6-4zM797 1019l6 6 10 20 0 10 8 14 4 16-10-2-8-14 4-18-12-18zM353 1021l5 0 3 4 2 8-2 4-6-4zM407 1027l3 0-1 6-3-2zM1095 1027l16 8 6 8-16-4zM785 1035l4 2 7 18-6 2-1 20 2 6 16 16 34 52 4 2 4-2-2-10-24-34-2-6 10 8 6-6 4 0 12 10 8 2 28 38 2-4-4-18 8-4 0-10-4-8-12-16-18-12-4-16-4-2-4 6-6-4-4-14 6-2 8 2 18 16 8 20 16 20 8 16 14 10 14 28 2-6 4 0 10 14 10 2 10 12 6 14 4 4 6-2 5 2 5 10-6 2-6-6-8 0-6-6-8-2-6 2-6-2-2 6-4 0-12-8-6 0-2 6 8 12 0 12 12 18-58 0-34-46-14-26-8-2-8-8 0-6 4 0 4 4 4-2-2-14-8-6-6 0-14-20-6-6-4 0-4 6 6 12-10 2-2 2 2 6 10 10 14 6 4 10 0 12 12 14 6 12 14 14 12 2 10 18 7 6-17 0-4-3-2 3-8 0-8-6-6 2-2 4-28 0 2-6-10-16-2-16-14-18-12 2 10 16 0 8-2 2-6-2-4 6-12-16 12-16 0-10 4-4 4 0 6 4 18 32 10 10 4 2 6-2 0-12-20-26-6-16-10-10-6-12-2-16-4-8 4-8-10-14 0-16 8-2 7-10 5 2 4-2 0-8-7-16 11-8zM873 1157l-4 18-12-14-4 2 4 26 10 10 4 0 2-6-4-13 6 5 8 18-8 2 0 6 8 18 6 6 4-4 0-9 2-1 12 16 18 8 2-6-8-18-6-4-6 4-4-4-6-12 2-12-2-8-16-22zM907 1147l-2 8 6 14-6 2-4 6 16 24 4-4-2-6 2-24zM1185 1037l6 0 6 4 2 6-6 0-6-4zM1139 1041l6 0 10 8-2 10-12-8 1-6zM817 1047l6 0 2 6 10 10 6 10 2 10-8-6zM1012 1047l9 2 7 8-11-4zM1110 1055l5 0 6 6-2 2-6-2zM419 1059l4 0 2 4 2 8-2 5-6-7zM973 1065l6 6 2 9-2 1-6-6-2-6zM1153 1065l6 0 6 4 2 6-6 0-6-4zM943 1067l2 2 0 3-4-3zM317 1069l4 2 0 14-4-4zM392 1085l4 2 3 6 0 13-10-10-2-7zM1016 1085l9 2 8 8-10-2-6-4zM853 1089l8 4 2 6-6-2zM967 1089l18 18 4 8-6 0-8-6-10-16zM1180 1091l7 0 8 6 1 4-7 0-8-6zM376 1099l5 2 3 12 3 2-4 6 0-6-4-2-4-6zM1003 1101l12 12 0 8-8 0-8-8-2-6zM1117 1101l8 8-2 4-6-6-2-4zM963 1111l10 6 0 8-8-8zM1019 1113l4 2 1 6-5-4zM1185 1117l4 0 10 10 4 8 0 8-4 0-10-10-4-8zM409 1123l7-4 3 8 0 11zM743 1119l4 0 6 8 0 4-4 4-3 0-3-4zM1151 1125l10 0 8 8-10 0zM1133 1137l12 4 4 6-10-2zM972 1145l5 0 8 6 4 8-2 8-14-14zM761 1147l6 6 0 6-6-6zM331 1151l4 0 2 6-2 8-4-6zM396 1151l3 1-2 5-2-2zM1199 1153l10 2 4 8-6 4-8-2-4-6zM412 1157l3-1 2 2 0 11 6 20 10 4 1 16-7-4-4-12-6-7-6 3-4-6 2-6 4 2 2-2-5-14zM1013 1157l4 0 4 6-6-2zM751 1159l4 0 2 4-2 6-6-2zM1221 1159l8 0 4 2 0 4-6 0zM1073 1165l2-2 6 2 6 6-8 0zM1147 1165l6 0 6 5 2 5-10-4zM1197 1169l6 2 4 6-4 0zM1003 1179l8 0 8 4-2 4 10 4 4 12-4 2-10-8-10-2zM825 1181l6 2 2 8-6-2zM1097 1185l8 2 6 6 0 4-8-2-6-6zM695 1193l6 10-2 5-4-5zM732 1195l7 1 0 9-10 12-8-2-2 4-4 0-3-8 13-4zM416 1201l5 4-4 7-5-5zM1137 1201l10 2 4 6-6 0zM779 1207l0 6-2 0 0-4zM315 1211l10 8 0 4-8 5-4-5zM953 1211l6 0 8 8 6 2 4 24-16 0-4-4-8 0-8-14 0-4 4 0 12 12 4-4zM1017 1211l6 10-2 3-4-3-2-6zM331 1215l6 2 2 6-2 4-6-2-2-6zM1105 1217l6 2 6 6 0 4-4 0-6-4zM1191 1217l6 2 4 6-2 2-6-2-4-4zM427 1219l6 2 0 8-6 0-2-3zM1065 1223l10 2 4 12-8-2-6-8zM765 1233l2 0 18 12-16 0zM429 1235l4-1 4 3 0 8-10 0zM707 1235l2 0 2 10-8 0zM1211 1235l6 2 6 8-6 0-8-8zM993 1237l4 0 4 8-4 0-4-4z"/>
<path fill="#009a08" d="M453 169l12 0-2 10 4 4 4-4 0-10 369 0 2 8-1 10 4 34 4 10 0 30 6 8 8-3 2 1-1 16-8 8-2 6-1 6 4 2 6-3 4 2 4-5 6-18 8-38 12-26 4 5 74-29 14-2 18-6 10 0 2-2 18 0 32 34 2-6 8-6 8 0-2 2 2 2 6-1 8-5 8-1 6-3 8 2 8-6 8 0-2 4-10 8-1 10-19 14-4 1-2-1 2-8 10-8 0-2 8-8-2-2-6 6-22 7-14 11 28 32 10 20 0 6 4 3 4-3 6 0 8 4-2 2 2 1 2-1 10 0 4-2 4 2 8 0-4 6-8 4-10-1-10 3-6 0-2-6-6-2-2 2 2 4 0 16 2 2 2 36 2 2 2 2 6-8-6-2 0-4 4-4-4-2 10-12 6-1 1 5-2 2 1 2 6 0-4 6-8 6 2 2 4 0 2 4 6-1 2-1 16 0-4 6-6 4-14-2-12 8-2 0-2-5-4 3 2 8 0 56-4 10 2 2 6-4 6 0 0 4-8 8-10 2-18 10-32 0-2 2 14 16 4 12 12 22 8 8 14 20 8 16 10 14 6 14 4 4 6 12 4 18 4 8 2 20 2 2 0 12 2 2 2 62-2 4 0 24-2 2 0 12-2 2 0 12-2 2 0 14-2 2-2 34-2 2-2 18-6 18-2 16-16 38-8 10-6 12-12 12-12 8-4 6-8-2-8 4-16-4-8-8-2 2 0 8-4 0-4-8 0-4 6-2-18-22-4 4 2 6 0 18-10 0-4 4 2 10 0 3-2 1-2-2-6 0-8-8-4-10-12-14-8-2-6-4-4-8 0-6-8-8-2-1-2 3 12 24 0 6-4 0-8-4-17-24 0-4-7-4-2-4 2-5 2-1 4 4 12 2 2-4-2-5 8 11 6-2-8-28 4 3 2-5 6 5 1-1 1-14-2-4 2 0 8-8-4-4-2 0-8 9-6-7-6 0-2 4 4 4 2 6-6 7-4-2-8 7-8 2-10 6-4 0-28 0-6-2-12-6 2-6-2-2-3 2 1 6-18-6-2 6 2 8-6-9 2-19-4-6-4 0-6 8 4 9 0 13 2 4 8 8 4 2 2 2 0 6 14 14 21 0 5 10 7 2 1 2-4 16-32 8-3 4 18 16-7 12 0 9-2 1-2-2-8-14-6-6-6 2 14 28 0 8 4 4 10-6 8 0 4 2 8 16 10 12 6 14 10 10 8 3 2-5 4-2 6 2 4 4 4 8 0 8 10 14 0 3-2 1-10-6-2 2-2 16 4 12 0 4-2 0-16-16-4 0-10-14-6-22-14-28-2-2-6 3-4-1-18-22-4-8-12-6-4 2 0 2 4 8-4-2-8-10-4 0-4 6 2 9-18-21-11-20-3-2 4 18-14-9-2 5 2 11-2 0-10-5-3 8-21 1-4 5-6 34-18 58 2 13-6 5-4 14-20 38-10 30-2 26-204 0-4-4-4 4-16 0 0-4-6-8 6-12-4-4-2 2 0 9-2-1-4-5-2-9 2-2 4 0 10-12-2-16 5-10-5-9 0-8 2-3 5 0-1-4 2-3 8 0 1-5-5-12-20-14-3-6 2-10-1-12 4-12 4-2 1-4 1-10-3-8-3-3-4-1-2 2-3 6-3 0-9-14 0-6 4-8-1-17 4-1 6 1 5-5-3-6-6-3-6 1-2 7-4-2-2-5 1-18 5-4-2-2 0-9 4-1 4 3 1-3-7-7-2 6-2 0-4-2-2 1-6-4-4 1-6-2-6 3-4-6-2 1-2 1 2 12 6 5 1 7-1 6-6-2-8-10-8-5 2-5 6 6 3-2-1-12 2-2-4-6-6-3-2 5 2 6-2 2-6 1-4-3-4-7-2-10 2-1 6 6 2-2 0-7 4-7-3-6-3-2-12 0-4 5-6-15-6-6-4 1-2 3 2 8-2 11-8 2-6-7-4 2 0 6 3 8 3 3 0 3-10 4-4-4 0-8 4-2 4 6 2-2-10-10 0-26 4-4-4-8 0-34 2-2-2-2 0-44 2 2 2-2-4-4 0-186 3 0 1-10-2-11 4-3 2 2-2 10 6 21 2-8 6-5 2-6 2 0 2 4 2-2 0-6-6-13 0-5 8-12-2-8 0-8 2-2 9 4 1 6-2 6 5 6-1 12-2 2-4-2-4-6-2 2 0 4 4 4 2 12 2-6 2 0 4 4 3 12 7 4 7-8-1-8 2-4-6-13-6 3-4-4-2-8 4-6-1-6 5-8-1-4-1-2-2 4 1 4-5 4-3-4 1-2-4-6 0-4-4-5-2-12-4-3-2-5-8-3 0-8-8-10 0-3 4-2 6 3 0 6 6 8 4 2 2 10 6 4 1 4 3 3 2-3 0-14-2-2-4 2-4-6 2-18-4-4 0-8 2-2-2-13 4-1 4 7 4-5 0-12 2 0 8 12 0 6 4 8 8-4 4 2 4-5 4 1 0-4-4-4-1-6-4-8 1-8 2 0 4 6 4 13 2-9-4-6-1-8-6-8 1-4 6 0 2-2-6-14 2-4-2-8 2-6 6 4 3 10-3 8 4 5 0 4-3 5-4 2 7 10 0 12 4 6 0 3-6 7 0 7-2 1-2-2-2 2 4 20 6 9 0 5 2 2 6-6 6 6 4-1 2-3 1-12 8-4-1-13-10-2-2-3 9-10-9-7-2-6 4-9 4 2 2-2 1-10-4-14-2 0 0 6-3 6-4-2-2-5-2 7-6 0-2-6 2-4 4-1 2 3 5-6 3 0-2-4 0-6 2 0 6 7 10-1 1-8-7-6-1-14 1-2 6 4 4 11 11-9-1-4-16-18 0-6 6-4 4 2 4-3 6 2 2-1 5-6 2-6-1-6-4-4-8-1-4 5-7 0-5 6-2-1-3-7 7-20 7-6 6-10-1-18 16 5 4 9 4 4 3-4 2-24-5-6-7-2 0-22 1-4 4 0 8-4 0-6-7-14-2-16-2-4-3-3-8-3-7-6-1-4 2-3 4-1 8 9 4 2 6-11zM477 501l-6 4-2 4-1 4 3 8-2 4-2 1-3-5-3 0-8 16 3 20 4 6-3 1-8-3-2 10-5 6 7 24-2 20 5 16-1 8 14 9 4-9 0 16 3 8-1 9-8 2-1 3 5 22 0 24-4 0-4 7-6 7 5 12 1 8 2 1 4-3 2 2-4 3-10 33 10 16 3 10-2 22-7 1-2-1-1-4 3-2 0-7-8 2-2 5 0 10 2 3 6 2 2 7-7 4 2 20-5 1-2 3 3 12 5 7 3-3-3-17 2 1 4 14 2 2 4 0 4-9 2-1 10 10 4-2 4-8 6 4 1-14-3-4-4-1-1-5 1-4 4-3 2-13 4 5 4 1 5 8 5 0 4 8 8 6 3-2 0-10 7-1 2-7 8 5 3-7-2-6-5-7-12-8 4 1 4-4 4 5 4 2 4-5 6 12 1 10 1 2 4 0 1-10-6-14-3-4 2-4 3 2 4 8 2 12 3 6 4-3 8 8 4-2 8-1 6-4 2-15 4 9-1 10 5 6 8-9 4-12 4 1 10 8 6-2 4-8 8 2 6-8 4 6 6-2 6 8 2-1 13-27 0-16-7-6-10-13-6 0-7-7-1-2 3-6-2-12-6-10-5-5-6-12-3 3-2 0-10-18-5-2-1 2-1 14-6 1-8-4 0-23 4 2 2-10 4-5 8-5 4 0 6-9 2 3-2 8 2 2 2-2 2-5 8 5 4-12 0-10 8 2 1-2 0-14 5-17 4 3 2 6 12 0 2-2 2-11 6-6 8 8 4-5 6 5 4-2 4 6 12-3 4-10 2 2 6 13 2 0 4-4 12 11 10-10 6-2 5-10-4-16 1-8 0-12-5-4-3-9-8-5-4-1-6 6-10-1-6-7-4-1-6-10-4-2-4 2-3 6-5 4-6-5-10 0-4 11-4 1-3-1-5-12-6 0-6-4-6-1-4 3-5 8-1 12-12 0-4-10 5-4 1-8 4 5 3-3-5-8-6 1-12-8-2 11 5 6 2 8-1 11-4 8-2 1-2-4-2-22-8-12-2 1-2 9-2 0-6-8-10 6-4-3-16 1-1 8 5-1 2 2 2 7-1 6-3 0-6-8-7-6-3-8 3-4-2-10-7-10-4-1-6 5-4 1-2-9-20-7-2 0-2 5-6-4-4 4-4-5-5-1-4-10-7-6zM789 587l-1 6 3 7 2-3zM815 299l-4 2 0 8 2 3 4-9zM819 333l-2 2 2 4 3-4zM849 859l-7 2 5 4 4-2zM851 333l-6 6 2 4 6-6zM891 330l-20 5-24 22-1 10 2 10 11 6-3 22 9 8 5-4 5-8 0-4-4-9-10-7 6-14 2-12 1-2 9-7 4 1 6 6 8-8-3-12zM909 398l-6 3-11 14-5 10 2 4 4-1 16-21 2-6zM913 279l-6 8 2 3 8-7 0-2zM925 390l-4 3 2 3 4-3zM977 870l-2 3 4 8 0 10 2 4 12 14 4 10 8 6 2-6-2-6-14-22 0-8zM939 915l-3 2 3 8 8 9 2-3-4-10zM957 908l-2 5 2 10 4 6 4 2 2-2 0-10-2-4zM965 897l-2 2 0 8 2 6 8 6 2-6-2-2 0-6-4-6zM835 971l-5 2 3 4 4-2zM843 968l0 2 3-1-1-1zM915 1101l-2 4 4 8 4 3 2-9zM461 1170l-5 5 0 6 4 8 5 4 5-6 0-8-3-5zM439 1018l-3 5-1 8-5 4 3 3 3-1 1-5 4 1 4-4 0-8-2-2zM307 754l-4 5 2 4 4 2 2-2 0-6zM311 651l-4 4 0 6 4 4 2 0 2-2 0-8zM315 817l-2 2 0 6-4-1-4 5 0 4 4 8 4 0 8-10zM329 631l-2 2 1 8-1 4-4 0-2-2-2-8-2-1-2 3 0 6 4 8 8-1 8 10 2-5-5-6 3-6zM351 715l2 2 2-2-2-2zM357 735l-2 4 4 3 0-5zM345 483l-2 4 2 6 2-6 4-2-2-2zM355 575l-2 2 2 2 2-2zM379 515l-5 2-3 4 0 4-6 4 0 2 0 4 10 11 4 13-2 2-6-4-4 0-4 6 12 14 6 16 6 4 3-6-1-16 4-4 1-14 3-6 0-4-1-4-7-6 0-14-2-2-2 2 2 6-2 5-4-2-2-7 2-8zM383 507l-4 2 2 2 2-2zM415 916l-2 3 0 6 1 4 3 2 4-2 1-4-3-7zM445 538l-2 5 2 9 5-11-1-2zM451 657l-2 4 4 16 3-4-1-12-1-4zM463 1016l-1 1 1 5 1-3zM595 981l-1 2 1 3 1-3zM609 714l-2 3 2 2 1-2zM665 693l0 3 2 1 1-2zM721 916l0 6 4 5 0-6zM761 968l-1 3 3 3 0-3zM821 386l-8 13 0 6 2 3 6-3 6-12 0-6-2-2zM849 487l-6 4 2 7 6-9zM859 499l-4 4-1 4 1 1 2 1 4-4 1-4zM873 497l-6 6-4 8 2 5 10-11 1-6zM887 879l-2 4 6 7 2-5-2-4zM909 424l-10 9-2 4 2 5 8-7 4-8zM309 793l-2 2 0 4 4 2 2-2 0-4zM307 918l-1 3 1 1 2-1zM313 893l-4 4 2 2 4-2zM321 721l-4 4 2 7 2-4 4-3zM323 674l-2 3 3 2-3 8 8 8 4-2-2-8zM335 673l-1 2 3 6 0 4-4 6 0 4 4 4 4 0 2-2 4-16-6-8zM357 829l-1 2 3 6 2-2 0-4zM367 616l-6 15 0 18 4 4 9-14-3-12 1-2 3 1 2-1-6-9-2-1zM379 665l1 6 5 2 2-2-1-6-5-2zM453 680l-1 3 1 3 1-1zM695 810l-1 1 0 8 1 3 2 0 1-7zM819 977l-6 2 0 10-10-4 2 12 10 12 4 0 2-6 4 0 4 4 4-4 0-6-8-14zM857 859l-2 4 24 24 2 0 2-4-4-4-8-16-4-4zM323 696l-2 3 0 6 2 2 6 0 2 5 1-5-3-2-2-6zM339 712l-2 4-2 0-2-2-1 1 2 12-7 6 1 6-1 4-4 2 4 4 4-2-1-10 7-8-1-4 9-6-1-4zM347 757l-2 2 2 10-4 6 6 4 6-12 0-4-4-5zM359 846l-2 9-2 2-4-2-8 11-2 1-10-16-8 0-4 2-4 4-2 20 4 4 6 0 6-8 4 0 4 5 6 1 6 8 4 2 2-2 0-6-2-8 4-6 0-9 6-1 0-6zM363 806l-2 3 2 3 2-3zM379 703l-4 8-2 0-4-4-2 0-2 4 0 8 6 11 2 17-8 4-2 28 12 14 6-4-4-6 0-4 4 0 3-4-1-14-2-8 6-16-5-14 5-12-4-6zM387 794l-2 3 0 6 2 2 4 0 2-2-1-4-2-4zM329 791l-2 6-2 0-4-5-2 3 0 12 4 3 2 5 6-4-2-6 2-12zM339 754l-2 3 2 6 1-6zM347 801l-3 0 1 4 6 4 2-4-2-5zM321 899l-4 6 4 3 2-7zM363 914l1 5 9 6 4-2 0-6-2-3-2 5-4 1zM365 868l-2 3 2 1 2-1zM367 879l-4 6 2 20 4-4 5 0 1-4-2 3-4-9 0-10zM381 883l-6 4 6 6 2 8-2 3-5-1 5 7 4 11-2 10 4 5 7 3 5 7 2-9 8 0-1-8-3-3-8 1-3-2-1-5-4 1-2-2 0-8 5-2-1-4-4-6-2-12zM347 835l-2 4 3 2-1 6 2 2 2-6zM873 171l5-2 1 4-4 8-5 2-1-4zM906 173l3 0 0 4-4 8-6 2 0-4zM309 175l2 0 2 4 0 14-4-2-2-10zM1075 175l4 0-4 6-8 4-4 0 4-6zM852 177l3 1 0 3-4 8-5 2-2-2 2-6zM1105 177l6 0 0 4-6 4-8 2-2-2 2-4zM1173 177l8 0 0 2-10 8-8 0 4-6zM926 183l3 1 0 3-4 8-5 2-1-4 4-8zM1121 185l8 0 0 2-10 8-8 0 2-4zM1099 191l6 0 0 4-6 6-6 2 0-4zM886 193l3 1-1 7-7 7-2-5 4-8zM379 205l4 0 4 4 0 10-2 2-6-4-1-6zM1151 219l8 0 0 2-6 6-12 4-2 6 6 2 0 2-10 8-8 0 0-2 6-6-4-4 6-6 4 0 6-8zM313 223l5-2 3 6 0 8-2 2-4-2-2-4zM428 223l3-2 4 5 0 7-2 2-6-8zM349 231l2-1 4 3 1 6-1 5-2 1-4-5zM309 243l2 1 1 7-3 4-2-2 0-4 0-4zM1167 245l8 0 0 2-10 8-8 0 2-4zM427 251l2-1 2 4-2-1zM406 253l2 0 3 4-2 5-4-5zM339 255l4 2 2 6-2 4-4-1-2-5zM1191 255l8 0 0 2-10 8-8 0 4-6zM1119 261l8 0 0 2-6 4-8 0 0-2zM1159 263l2 4-6 6-12 3-4 5-4 2-4-2 0-4 4-4 6 0 10-8zM1165 267l6 0 2 2-2 4-6 4 0 2-10 4-8 0 2-4 10-2 2-2 0-4zM327 271l2-1 6 5 2 4 0 8-6-4zM377 271l3 0 3 4 2 10-3 0-3-4zM301 273l2 2 1 6-1 7-2 1zM358 281l3 1 2 5-4 6-2-4zM1203 281l8 0-4 6 0 4-8 6-8 0 2-8zM369 287l4 4-1 12-3-1-2-3 0-10zM401 293l8 0 7 4 2 4-1 4-3 0-13-7-2-3zM1201 305l8 0 0 2-12 10-5 2 1 2-4 4-6 2-2-2 4-4-2-4 2-2zM323 311l2 0 2 3 0 5-2 2-2 0-2-3zM1133 311l6 0-2 4-8 4-4 0 2-4zM1151 317l10-6 0 4-10 8-6 2-2-4-2 2-6 0 0-2 6-6zM1171 315l8 0 0 2-10 8-8 0 2-4zM379 317l2 0 1 2 1 6-4-5zM301 323l2 4-2 5 0-1zM343 325l2-2 2 2 0 5-2 1zM327 327l4 1 4 11 0 20 2 4-1 8-7 0-4-4-2-12-4-6-6 0-4 4-4-1 0-13 2-2 4 3 2-3 12 1 0-7zM1163 331l6 0-2 6-6 4-8 0 2-4zM1191 331l8 0 4 4-6 6-4 2-12-2 2-4zM362 341l3 1 1 5-1 8-4-2zM1245 345l8 0 0 2-10 8-8 0 2-4zM1225 349l8 0-4 6-8 4-4 0 0-2zM375 351l2-1 4 5 0 4-4 3-2-2zM408 353l5 0 2 4 0 6-2 2-6 0-2-3 0-7zM1187 355l6 0 0 4-8 6-8 0 0-4zM303 365l4 0 2 2 0 4-6 4 0 10-2 0zM399 375l2-11 2 1 2 4 0 9-4 4-2-1zM1157 369l10-6 4 2 0 2-6 6-8 0-2 2-2 6-6 4 6 2-4 6-6 4-8 0 2-4 8-6-4-4 4-6-2-4 8-6zM362 371l3-6 4 4 0 10-4 0-2-2zM1183 369l4 0-4 10-8 6-8 0 2-4zM1223 371l2 2-4 4-4 2-4 0 4-6zM345 375l4 0 4 6 0 8-4 2 0 2 5 6-1 6-2 2-4-2-4 0-2 2 6 2 3 4-3 6-4 0-6-8-2 2 0 4 4 6 2 14 0 6-4 4 0 6-2 1-4-3-2-6 0-8 4-2-8-11-4 7 2 2 0 12-3 0-3-4-2-30 4-4 2 2 0 10 2 3 2-9 4-4 4 0 2 2 2-2-2-11 3-5 1-8 6-4zM315 379l4-4 2 2 0 14-4 4 0 6-2 1-4-5 0-6 4-6zM411 377l2 2 0 3-3-3zM1185 393l10-6 2 2-2 4-4 4-6 2-2-2zM357 397l4-4 2 2 2 6 4 3 2 7-2 6-4 0-2-4 0-6zM1161 395l8 0 0 2-10 8-8 0 2-6zM1231 397l8 0 0 2-10 8-8 0 4-6zM1141 403l4 0 0 6-6 4-6 0 0-4zM1180 405l5 0-2 4 2 2 8-2 2 0 0 2-10 8-8 0-2-2-4 0 0-4zM353 409l4 2 4 11-6-1-2-3-2-5zM304 413l7 2-2 14-4 0-2-4zM1153 415l8 0-3 4-7 4 2 2 4-1 6 3-2 2 0 6-16 6-2-2 2-2-4-2 2-4 8-6-8-2zM301 431l4 0 2 6-4 8-2-2zM1179 431l10 0 0 2-12 12-8 0 2-8zM355 437l6 2 6 8 1 8-3 2 2 10-2 6-2 1-4-3 0-14 2-2-6-9zM1130 453l3 2 0 2-8 8-4 2-4-4-6 4-4 1-8 7-12 4 0-2 4-4 8-4 4-6 18-5zM309 457l4 0 2 2-1 12-2 2-3-4-4 4 0 4-4 2 0-17 6 7 2-2-2-2 0-6zM1177 459l8 0 0 2-10 8-8 0 2-4zM322 463l3 0 4 6 0 6-2 2-6-8zM1145 463l8 1-4 5-6 4-16 0 2-4 4-2zM1115 469l6-2 0 8-10 6-6 0 2-6zM301 483l2 0 4 4 0 6-2 2-4 0zM1213 485l8 0 0 2-10 8-8 0 2-4zM391 495l4 2 2 4 0 4-2 2-4-2-2-5zM301 513l10 8-6 10 0 6 6 5 0 19-8 8-2-2zM315 525l6 4 2 14-2 1-4-3-4-7 0-7zM488 529l1-1 2 5-2 1zM1203 529l6 0-2 4 6 2 0 2-10 8-8 0 0-2 7-6-5-2 0-2zM1225 543l8 0 0 2-10 8-8 0 2-4zM321 547l2-1 2 3 0 10-4-2zM1201 557l8 0 0 2-10 8-8 0 4-6zM301 573l2-2 2 2 2 15-6-5zM1203 573l8 0 0 2-10 8-8 0 2-4zM559 575l2 4 0 4-4-4zM1257 575l8 0 0 2-10 8-8 0 4-6zM1179 583l6-1 2 1 0 2-6 4-6 2-2-2 0-2zM586 589l3-6 2 2 3 8-7 8-4 0-7 4-4-4-1-8 2-1 6 5 4-6zM471 587l6 2 3 4 4 26 8 20 0 4-4 2-1 8-4 4-5-8 0-18-10-14 6-8-5-14 0-6zM767 591l2 2 0 17-2 3-4-1-6 4-2-5 1-8 3-3 2-5zM351 597l4-1 2 3 0 5-4 4-2-1zM739 599l2-2 3 8-1 3-2-1zM601 605l4 1 6 7 2 1 4-3 1 2 1 10-4 10-8-2-6 1-8-7 3-6 0-10zM620 613l5-9 2 1 2 3 6 0 4 4 0 15 4 7 2 0 2-4 10-3 1 2 0 20-7 22-2 0-2-4 2-10-2-2-4 3-10-9-4-12 1-10zM1187 609l6 0 0 4-8 4-6 0 1-4zM715 617l2 4-2 8-1-4zM512 649l3-23 7 9 5 4 4 8 12 3 2 3-4 5-8 3 2 8 0 12 4 16-2 9-4-3-4-10-1-14 4-6-1-12-12-12-2-1-4 3zM1201 631l5 0 1 4-12 6-6-1 0-3 2-2zM1228 635l13-4 2 4-12 6-6-1 0-3zM1207 649l8 0 0 2-4 2-9 0zM589 663l2-1 8 7-2 12-4-8-5-2zM1237 663l8 0 0 4-10 2-2-4zM573 671l4-1 4 5 0 4-4 6-2 0-3-6zM479 675l5 6 1 11-7-7zM1255 681l6 2 0 4-12 0 0-4zM1189 683l14 0 0 4-4 2-14 0 0-4zM1223 685l14 0 0 4-4 2-14 0 0-4zM589 693l2 0 7 16-3 22-2 1-2-1 1-12-4-20zM1195 693l6 0 2 4-2 2-7 0-3-3zM1237 693l6-1 4 1 0 2-8 2-3-2zM562 695l3-1 2 2 3 7-1 7-3 3-1 11-4-8-2 0-2 6-2-1-3-10 1-2 5 0zM1215 701l10-2 2 4-10 0zM491 705l2 8 8 8-2 7-12-13zM1209 713l13 0 3 2 0 2-2 2-13 0-3-2zM581 715l2 0 2 4 0 5-2 1-4-3zM533 741l2-1 1 1-1 5-2-1zM1263 741l14 0 4 2 0 4-14 0-4-2zM1181 747l12 0 6 4 0 2-12 0-6-4zM508 765l5-18 4 2 5 6-8 18 5 18 0 4-12-7-5-9 1-8 4 4 2 8 2 0 1-4zM1199 775l8 0 4 4-2 2-4 0-4-2zM619 785l0 2 0 3-2-3zM1237 807l6 0 4 2 4 5-6 1-6-2-2-2zM559 811l4-1 4 11-4 2-2-2zM677 811l1 2 2 10-1 5-3-3-1-6zM593 833l-2-22 2 2 4 9 6 7 2 4-6 5zM566 839l3 2 0 8-2 0-3-4zM462 867l3 1 0 4-2-2zM458 879l1-2 2 2 0 4-2 1zM1205 901l8 2 4 4 0 4-8-2-6-6zM325 931l4 0 2 2 0 6-2 2-4-2-2-3zM340 933l3 1-2 7 2 6-2 4-4 0-2-6 2-2 0-7zM303 955l2-8 2 0 6 7 0 7-2 2-4-2zM326 951l3 0-2 3-2-1zM337 961l2-1 6 5 1 6-1 6-4-1-4-5zM1121 963l2-1 4 1 4 4 0 4-6-2zM353 967l6 4 0 8-4 1-4-3 0-8zM1187 967l6 0 6 4 2 6-6 0-6-4zM981 969l4 0 6 8 0 10-2 2-4 0-6-8zM1213 971l6 0 6 4 2 6-6 0-6-4zM1118 973l5 0 4 2 4 4 0 4-8-2-6-6zM317 977l4-2 4 6 3-4 4 0 5 8 2 2 2-2 4 5 0 13-2 2-4-6-2-8-6 2-2 6 2 8-2 7-2 2-2-1-2-7 2-9-2-10-6-4zM1171 987l10 0 4 2 3 4-11-2zM367 993l4 2 4 13 2 13 0 4-2 2-4-6-3 6-3-2-2-8 2-6 4 2 2-2-6-14zM1205 993l6 0 6 4 2 6-6 0-6-4zM405 999l1 2-1 2-1-2zM1109 999l4 0 6 2 2-2 4 2 4 3 2 5 4 0 4 4 0 4-4 0-4-2-2-6-10-8-1 2 1 4-6 0-4-4zM305 1007l2-8 4 2 2 6-2 4-2 0zM1161 1013l6 0 6 4 2 6-6 0-6-4zM797 1019l6 6 4 12 6 8 0 10 8 14 4 12 0 4-10-2-8-14 0-8 4-4 0-6-12-18zM353 1021l5 0 3 4 2 8-2 4-6-4-2-4zM385 1023l2-1 1 3-3 0zM408 1027l2 0-1 6-2-2zM1095 1027l3 0 9 7 4 1 6 8-4 0-11-4-5-6zM785 1035l4 2 6 12 1 6-6 2 1 10-2 10 2 6 16 16 4 8 16 20 8 18 6 6 4 2 4-2-2-10-4-8-20-26-2-6 2 0 8 8 2 0 4-6 4 0 12 10 8 2 4 4 4 10 10 10 10 14 2-4-4-10 0-8 8-4 0-10-4-8-12-16-18-12-4-10 0-6-4-2-2 6-2 0-6-4-4-8 0-6 2-2 4 0 8 2 18 16 8 20 8 12 8 8 8 16 6 6 8 4 6 12 0 4 8 12 2-2 0-4 3 0 11 14 10 2 10 12 6 14 4 4 6-2 5 2 5 10-6 2-6-6-8 0-6-6-6 0-2-2-6 2-6-2-2 6-4 0-12-8-6 0-2 2 0 4 8 12 0 12 12 18-58 0-14-16-4-10-16-20-8-12 0-4-6-10-2-2-6 0-8-8 0-6 4 0 4 4 4-2 0-10-2-4-8-6-6 0-6-6-8-14-6-6-4 0-4 6 6 12-1 2-7-2-2 2-2 2 2 6 10 10 4 0 10 6 4 10 0 12 12 14 6 12 14 14 8 0 4 2 4 4 6 14 7 6-17 0-4-3-2 3-8 0-8-6-6 2-2 4-28 0 2-6-10-16-2-6 0-10-6-10-8-8-10 0-2 2 10 16 0 9-4 1-4-2-2 6-4-2-10-14 4-4 0-4 8-8 0-10 4-4 4 0 6 4 18 32 10 10 4 2 6-2 0-12-20-26-6-16-10-10-6-12-2-16-4-8 4-8-10-15 1-15 7-2 7-10 5 2 4-2 0-8-6-10-1-6 11-8zM875 1157l-4 2 0 12-2 3-12-13-3 0-1 6 2 2 0 16 2 4 10 10 4 0 2-6-2-2-2-11 6 5 8 18-2 2-2-2-4 2 0 6 8 18 6 6 4-4 0-9 2-1 12 16 10 4 4 4 4 0 2-6-8-18-6-4-6 4-4-4-6-12 2-12-2-8-12-14-4-8zM907 1146l-2 9 4 6 2 8-2 2-4 0-4 6 16 24 4-4-2-6 2-6-2-8 2-10-6-12zM1185 1037l6 0 6 4 2 6-6 0-6-4zM1139 1041l6 0 10 8-2 4 2 4-2 2-6-2-6-6 1-6zM817 1047l6 0 2 6 10 10 6 10 2 9-2 1-6-6-6-12-12-16zM1012 1047l9 2 7 8-3 0-8-4zM1110 1055l5 0 2 2 4 4-2 2-6-2zM419 1059l4 0 2 4 2 8-2 4-4-2-2-5zM1153 1065l6 0 6 4 2 6-6 0-6-4zM971 1067l2-2 6 6 2 9-2 1-6-6zM317 1069l4 2 0 14-2 0-2-4zM941 1069l2-2 2 5-2-1zM392 1085l4 2 3 6 0 13-3-1-7-9-1-7zM1016 1085l9 2 6 4 2 4-10-2-6-4zM853 1089l8 4 2 2 0 4-4 0-2-2zM965 1091l2-2 8 6 10 12 4 8-6 0-6-4-10-14zM1181 1091l6 0 8 6 0 4-6 0-8-6zM376 1099l3 0 2 2 2 4 0 9-6-3-2-6zM1003 1101l4 2 8 10 0 8-8 0-8-8-2-6zM1117 1101l4 2 4 6-2 4-6-6-2-4zM963 1111l6 2 4 4 2 6-2 2-8-8zM1020 1113l5 6-2 2-4-4zM384 1115l3 0-4 6-1-2zM1185 1117l4 0 10 10 4 8 0 8-4 0-10-10-4-8zM414 1119l4 8 1 10-7-8-2-6zM743 1119l4 0 6 8 0 4-4 4-3 0-3-4zM1151 1125l10 0 6 4 2 4-9 0-7-4zM1133 1137l4 0 8 4 4 6-6 0-4-2-6-6zM972 1145l5 0 8 6 4 8 0 6-2 2-4-2-10-12zM761 1149l2-2 2 2 2 9-4-2zM331 1151l2-1 2 1 2 6 0 5-2 3-4-6zM396 1151l3 2-2 3-2-3zM1199 1153l10 2 4 4 0 4-6 4-8-2-4-4 0-4zM412 1157l3-1 2 3 0 10 4 8 2 12 9 4 3 12-2 4-7-6-3-10-6-7-2 3-4 0-4-6 0-4 2-2 4 2 2-2 0-4-5-10zM1013 1157l6 2 2 4-6-2zM752 1159l3 1 2 3 0 4-2 2-4 0-2-2zM1221 1159l2-2 6 2 4 2 0 4-6 0-6-4zM1073 1165l2-2 6 2 4 2 2 4-2 1-6-1zM1147 1165l6 0 6 5 2 5-10-4zM1197 1169l6 2 4 6-4 0-6-6zM1003 1179l8 0 8 4-2 4 10 5 4 7 0 4-4 2-10-8-10-3zM825 1181l2-1 4 3 2 8-4 0-2-2zM1097 1185l8 2 6 6 0 4-4 0-4-2-6-6zM695 1203l0-9 4 3 2 10-4 0zM732 1195l7 1 0 9-10 12-8-2-3 4-3 0-4-6 1-2 13-4 4-4 0-4zM416 1201l4 4-3 7-3-1-2-4zM1137 1201l6 0 4 2 4 6-6 0-6-4zM777 1209l2-2 0 6-2 0zM316 1211l9 10-2 3-6 3-4-6 0-7zM953 1211l6 0 8 8 6 2 0 8 2 2 2 14-16 0-4-4-8 0-4-6-4-8 1-4 3 0 8 10 4 2 4-4-8-16zM1015 1213l2-2 2 2 4 10-4 0-2-2zM331 1215l4 0 2 2 2 6-2 4-6-2-2-6zM1105 1217l6 2 6 6 0 4-4 0-6-4-2-4zM1191 1217l6 2 4 6-2 2-6-2-4-4zM427 1219l4 0 2 3 0 7-6 0-2-3 0-5zM1065 1223l6 0 4 2 2 2 2 10-4 0-4-2-6-8zM765 1233l2 0 6 6 12 6-16 0zM430 1235l3-1 2 1 2 3 0 7-10 0 0-6zM707 1235l2 0 2 10-8 0zM1211 1235l6 2 6 8-6 0-8-8zM993 1237l4 0 4 8-4 0-4-4z"/>
<path fill="#00aa00" d="M454 169l11 0-3 10 5 5 4-5 0-10 369 0 4 52 5 10-1 30 5 8 9 8-1 6-7 12-1 8 4 2 6-2 4 1 4-5 15-56 11-25 4 4 74-29 14-2 18-6 10 0 2-2 18 0 32 34 2-6 8-6 8 0-2 2 2 2 6-1 8-5 8 0 6-4 8 2 8-6 8 0-2 4-10 8-2 10-18 14-6 0 2-8 10-8 0-2 8-8-2-2-6 6-22 7-14 11 28 32 10 20 0 6 4 4 4-4 6 0 8 4-2 2 2 2 2-2 10 0 4-2 4 2 8 0-4 6-8 4-10-2-10 4-6 0-2-6-6-2-2 2 2 4 0 16 2 2 2 36 2 2 2 2 6-8-6-2 0-4 4-4-4-2 10-12 6 0-2 8 8 0-4 6-8 6 2 2 4 0 2 4 6-1 2-1 16 0-4 6-6 4-8 0-2-2-4 0-12 8-2 0-2-6-4 4 2 8 0 56-4 10 2 2 6-4 6 0 0 4-8 8-10 2-18 10-32 0-3 2 15 16 4 12 12 22 8 8 14 20 8 16 10 14 6 14 4 4 6 12 4 18 4 8 2 20 2 2 0 12 2 2 2 62-2 4 0 24-2 2 0 12-2 2 0 12-2 2 0 14-2 2-2 34-2 2-2 18-6 18-2 16-16 38-8 10-6 12-12 12-14 10-2 3-8-1-8 4-16-4-10-8 0 10-4 0-4-8 0-4 6 0 0-2-18-22-4 4 2 6 0 18-10 0-4 4 2 4 0 9-10-1-8-8-4-10-8-10-4-4-8-2-6-4-4-8 0-6-8-8-2-1-2 3 12 24-1 6-3 0-8-5-16-21-1-6-7-4-2-4 2-5 2-1 4 4 12 2 2-6 6 8 6-1 2 3 0 6 4 6 2 2 4-2 0-10-8-10-2-1-2 4-2-3-2-14-4-8 4 1 2-4 6 4 1-1 1-14-2-4 2 0 8-8-4-4-2 0-8 8-6-6-6 0-2 4 4 4 2 6-6 7-4-2-8 7-8 2-10 6-4 0-28 0-6-2-11-6 1-6-2-2-3 2 1 4-2 1-16-5-2 6 2 7-2-1-4-8 2-6 0-12-4-6-4 0-6 8 4 9 0 13 2 4 12 10 2 8 14 14 21 0 5 10 6 2 1 2-3 16-32 8-3 4 17 16-6 12 0 8-2 2-2-2-8-14-6-6-6 2 14 28 0 8 4 4 10-6 8 0 4 2 8 16 10 12 6 14 10 10 8 3 2-5 4-2 6 2 4 4 4 8 0 8 10 14 0 3-2 1-10-7-2 3-2 16 4 12 0 4-2 0-16-16-4 0-10-14-6-22-14-28-2-2-6 3-4-1-18-22-4-8-12-6-4 2 0 2 4 8-4-2-8-10-4 0-4 6 0 7-16-19-10-20-4-3 3 17-1 1-12-8-2 5 2 10-2 1-10-5-4 8-20 1-3 3-8 36-17 58 2 13-6 5-4 13-20 39-10 30-2 26-204 0-4-4-4 4-16 0 0-4-6-8 6-12-4-4-2 2 0 9-2-1-4-5-1-9 1-2 4 1 10-13-1-16 5-8-1-6-5-5 0-8 2-3 5 0 0-4 1-2 8 0 1-6-5-12-10-6-12-12 2-12-2-12 4-11 6-5 1-8-4-14-7-2-3 2-2 6-3 0-9-14 0-6 4-8 0-16 3-2 4 2 4-1 4-5-3-6-7-4-6 1-2 8-4-2-2-5 2-18 4-4-2-3 0-7 4-2 4 4 2-2-1-4-7-5-2 5-2 1-4-2-2 1-6-4-4 1-6-2-4 3-4-2-2-4-4 1 2 13 4 2 2 4 1 8-1 3-2 0-6-3-8-11-6-3 2-4 6 6 3-2-1-12 3-2-6-8-5-2-2 6 2 6-8 3-6-6-4-11 2-3 6 5 2-2 0-7 4-7-3-6 11 4 2-2 0-4-2-6-3 6-3 1-6-6-1 1 1 5-14-1-4 5-6-15-8-6-4 4 2 8-2 11-10 1-4-6-4 0-2-3-1 3 3 2 2 10-2 1-3-1-5-6 0-26 4-6-4-6 0-34 2-2-2-2 0-43 2 1 2-2-4-4 0-186 3 0 1-9 2-2 6 20 2-7 6-5 2-7 2 0 2 4 2-2 0-6-6-17 8-13-2-6 2-11 9 3 1 6-2 6 5 6-1 12-2 2-4-2-4-6-2 2 0 4 4 5 1 11 3-6 2 0 4 5 3 11 7 4 7-8-1-8 2-4-6-12 0-10-2-2-2 2 4 4-1 4-5 4-4-5-1-7 1-5 3-1-2-4 5-10-1-4-1-2-1 8-5 4-10-21-2-13-4-2-2-5-8-3 0-8-8-10 0-3 4-2 6 3 0 6 6 8 4 2 2 10 6 4 1 4 3 4 2-4 0-14-2-3-4 2-2-1-2-4 2-18-4-4 0-8 2-2-2-13 4-1 4 7 4-5 0-11 2-1 8 12 0 6 4 8 8-4 4 2 4-5 4 2 0-5-4-4-1-6-3-8 0-8 2 0 4 6 4 13 2-9-4-6-1-8-5-8 1-4 5 0 2-2-6-14 2-4-2-8 2-5 4 1 4 6 1 8-3 6 4 5 0 4-3 5-3 0-1 2 7 10 0 12 4 6-1 4-5 6 0 7-4-1-2 2 5 24 5 5 2 7 6-6 5 6 3 1 4-5 1-12 7-2 2-2-2-14-10-2-1-2 8-10-9-7-2-7 4-8 6 4-1-8 3-6-5-14-1-2-2 2 1 6-3 6-4-2-2-6-2 8-6 0-2-6 3-4 7 2 2-5 5-1-3-4 0-6 4 2 4 6 11-2 0-8-7-7 0-14 6 3 4 12 12-10-2-5-12-11-4-10 6-6 4 2 4-2 6 1 2-1 4-4 3-8-2-8-3-3-8 0-4 4-8 1-4 5-2-1-3-6 7-20 8-6 5-8-1-20 10 5 6 0 4 9 4 4 4-4 2-24-5-6-7-2-1-22 1-3 4 0 8-4 1-7-7-11-4-23-4-4-8-2-6-6-1-4 1-3 4 0 8 9 4 1 7-11zM475 496l-9 11 0 10-1 1-4-4-2 3-2 8-4 8-6 2-6-6-2 4 7 32-1 6-4 1 0 5 7 24-3 20 4 10 2 20-3 8 2 12-2 8 7 14 2 1 2-4 2 0 2 4 3 23-1 6-4 3-10 17 10 28-4 10-4 0-1 18 11 24 1 14-3 4-4-11-12 3 0 24 4 2 4-1 1 3-1 2-4-1-2 1-4-1-3 5 3 7 4-2 2 2 1 9-1 2-2 0-4-6-1 2 2 16-4 2-1 5 2 4 4-3 2 1 6 9 8-3 6 2 2-3 4 3 0-7 2-1 8 6 6-9 6 3 2-5 0-14-8-10 1-2 5-2 0-8 8 1 6 9 4-1 4 9 12 11-1-7 2-12 6 0 3-6 7 6 4-10-2-12 3-3 3 5-1 10 2 2 8 1 8-6 8 7 6-3 14-4 8 9 8-8 4-11 6 1 8 7 8-5 2-5 10 1 4-4 2 5 8-4 5 7 3 0 4-4 2-8 6-12 6-1 6-7 0-10-6-9-6 2-4-3-8-13-4-3-6 1-4-3-1-4 2-8-4-20-10-8-7-14-4 6-8-16-8-4-2 3-2 13-4 0-7-4-1-5 6-3 1-18 5-7 6-3 8 6 6-2 4-4 2 0 3 6 5-2 2-2-2-6 1-12 3-1 5 3 4 22 10 4 0-14 7-9 0-5 6-4-6-7 0 11-4 2-2-1-2-7 1-6 5-4 1-10 6-2 1-10 4-6 4 1 6 8 4-5 2 0 4 8 2 17 2-5-2-12 4 7 4-5 4 1 2-5 6-2 2-10 3 4 3 12 8-1 6 3 6 6 8-9 12-5 2-5 4-3-8-20 3-8-1-17-2-2-2 2-2-1-2-8-12-7-4 1-4 5-9-1-6-8-5-3-6-8-10-2-2 1 0 6-4 5-6-4-4 1-8-2-2 10-4 3-2-1-4-10-4-4-4 2-10-5-10 2-4-3-4-9-5 5-3 1-12-11-4 11-6-3-4 1-4 3-2 6-4-9-6 3-8-5-4 6-8 2-8-6-4 2-6-13-8-7-10 4-1-5-3-3-16-6-6-1-4 3-4-2-4 2-8-4-4-9-7-6-3-11zM507 492l0 3 2 2 0-4zM517 460l-2 9 4 8 2-2 1-6zM539 479l-3 16-5 2 2 7 6-1 0-4 2-8zM577 489l0 2 2 2 0-5zM789 581l-3 2 0 10 1 8 4 3 3-1 1-4zM815 299l-4 2 0 8 2 3 4-9zM819 333l-2 2 0 4 5-4zM823 385l-5 4-5 10 0 6 2 3 6-3 6-12 0-6zM849 859l-7 2 5 4 4-2zM851 333l-6 4 0 5 4 0 3-3 1-4zM891 330l-20 5-8 5-16 17-2 10 2 10 12 6 0 6-3 16 9 8 5-4 5-8-3-12-11-8 7-14 2-12 11-7 6 4 4 0 6-7-2-12zM905 399l-15 18-3 8 2 5 5-3 15-20 2-8-2-2zM913 279l-6 8 2 4 8-8 0-2zM925 390l-4 3 2 3 4-3zM977 869l-2 4 4 8 0 10 2 4 12 14 4 10 8 6 2-6-2-6-14-22 0-8zM939 915l-3 2 3 8 8 9 2-3-3-8zM965 897l-2 2 0 8 2 6 8 7 2-7-2-2 0-6-4-6zM835 971l-5 2 3 4 4-2zM843 968l-1 1 1 1 4-1zM915 1101l-2 4 4 8 4 3 2-9zM461 1170l-6 5 1 8 3 6 6 5 5-7 1-8-4-6zM439 1018l-3 3-2 8-4 6 3 4 13-10-1-10zM311 651l-4 4 0 6 4 4 2 0 2-2 0-8zM315 817l-2 2 0 5-4 0-4 5 0 4 4 8 6-2 6-8zM327 633l1 8-1 4-4 0-2-2-2-8-2-2-2 2 0 8 4 8 4-2 4 1 8 11 2-6-5-6 3-6-4-6 0-4-2-2zM337 673l-4 2 4 8-4 8-3-8-7-10-2 4 2 6-2 4 8 8 2-1 6 5 4 0 2-2 4-16-3-6zM351 714l2 3 2-2-2-2zM357 735l-2 4 4 4 0-6zM345 483l-2 4 2 6 2-6 4-2-2-2zM379 514l-2 3-3 0-4 8-5 4 0 2 0 4 10 11 4 9-1 4-1 1-6-3-4 0-4 6 12 14 6 16 6 4 3-4 0-18 3-2 0-12 5-14-2-4-6-6-1-19 0 3-4 2 2 6-2 5-4-2-2-7 2-8zM383 507l-4 2 2 2 2-2zM417 915l-5 4 0 8 3 3 6 0 1-5-2-6zM417 891l0 4 2 1 0-2zM435 624l-1 5 3 4 2-1 0-9zM455 707l0 8 6 5 0-5zM461 1012l-1 7 3 8 3-2 1-6-3-6zM491 942l-2 3 2 6 2 0 1-4zM503 925l0 10 4 5 4 1-2-12zM549 901l-7 2-1 2 8 14 4-6 0-6 0-4zM571 894l-2 1-2 11 2 0 3-9zM591 902l-1 5 1 5 3-3-1-6zM595 939l0 9 2 7 2 1 1-15zM625 939l-1 4 1 3 3-5zM645 906l-1 23-1 1-2-1-4-6-4 4 4 5 4 0 4 6 2 0 1-3-1-12 4-4zM663 920l-7 3 3 9 2 1 2-10zM693 837l-1 4 1 1 2-1zM657 700l0 5 6 0-2-2zM667 711l0 6 2 1 2-5zM677 783l0 5 2 0 0-4zM691 695l-2 2 7 16 1 10 4-8-1-14-1-2zM719 914l0 6 8 13-1-14-3-4zM759 966l0 5 8 7-4-10zM819 977l-6 2 0 9-10-3 2 12 10 12 4 0 2-6 4 0 4 4 4-4 0-6-8-14zM849 487l-6 4 2 7 6-9zM859 499l-4 4-1 4 1 2 2 0 4-4 1-4zM873 497l-6 6-4 8 2 5 10-11 1-6zM887 879l-2 4 6 8 2-6-2-4zM909 424l-10 9-2 4 2 5 8-7 4-8zM307 754l-4 5 2 4 4 2 2-2 0-6zM313 893l-4 4 4 2 2-4zM321 721l-4 8 2 4 2-5 4-3zM323 695l-2 4 0 6 8 3 2 5 1-6-5-9zM339 711l-2 5-2 0-2-2-1 1 2 12-7 6 0 9-4 3 4 4 4-2-1-10 6-6 1-6 8-6-1-4zM347 757l-2 2 2 10-4 4 1 4 5 2 6-12 0-4-4-5zM357 828l-2 3 4 6 3-2 0-4zM367 616l-6 19 0 14 4 4 9-14-3-12 2-2 4 2-5-10-3-2zM379 663l1 8 5 2 2-4-1-4zM493 1013l-1 2 3 8 3-4zM597 968l-6 10-5-1 1 7 6 12 2 0 8-13-4-6 0-8zM661 744l-1 11 7 12 4-12zM691 734l0 6 4 9 0-7zM867 859l-10 0-2 4 24 24 2 0 2-4-12-20zM307 795l0 4 4 2 2-2 0-4-2-2zM329 790l-2 7-2 0-4-5-2 3 0 12 6 8 6-4-2-6 2-12zM339 753l-2 4 2 6 1-8zM351 798l-3 3-3-1-2 1 2 4 6 4 2-4zM359 846l-3 9-7 1-6 10-2 0-10-15-8 0-4 2-4 4-2 20 4 4 6 0 6-7 4-1 4 5 6 1 6 9 4 1 2-4-2-12 4-6 0-8 7-2-2-8zM363 806l-2 3 2 3 2-3zM379 703l-4 7-2 1-3-4-3 0-3 4 1 8 6 12 1 16-7 4-2 28 12 14 4-1 2-3-4-6 0-4 7-2 0-16-2-8 5-16-4-14 4-12-3-6zM347 835l-2 4 3 2-1 8 2 1 2-7zM321 899l-4 6 4 4 2-8zM365 868l-2 3 2 2 2-2zM381 883l-6 4 6 7 1 7-1 3-4-2-1 1 5 8 3 10-1 10 4 5 7 3 5 7 2-9 8 0-1-8-3-3-10-1-2-6-2 2-4-2 0-8 5-2-1-4-4-6-3-14zM387 794l-3 3 1 6 2 3 4 0 3-5-3-5zM367 879l-4 6 2 21 4-5 6 0 0-5-2 2-4-7 0-10zM873 171l5-2 1 4-4 8-5 2-1-4zM906 173l3 1 0 3-4 8-5 2-1-4 4-8zM309 175l2 0 2 4-1 14-3-3-1-9zM1067 179l12-4 0 2-4 4-8 4-4 0zM852 177l3 1 0 3-4 8-5 2-2-2 2-6zM1105 177l6 0 0 4-6 4-8 2-2-2 2-4zM1173 177l8 1-4 5-6 4-8 0 4-6zM926 183l3 1 0 3-4 8-5 2-1-4 4-8zM1121 185l8 0 0 2-10 8-8 0 2-4zM1099 191l6 0 0 4-6 6-6 2 0-4zM887 193l2 2-1 6-7 7-2-5 4-8zM379 205l4 0 4 4 0 10-2 2-6-4-1-6zM1151 219l8 0 0 2-10 8-8 2-2 6 6 2 0 2-10 8-8 0 0-2 6-6-4-4 6-6 4 0 6-8zM313 223l5-2 3 6 0 8-2 2-4-2-2-4zM428 223l3-1 4 5 0 6-2 1-6-7zM349 231l2-1 4 3 0 11-4-1-2-4zM307 245l2-2 2 1 1 7-3 4-2-2zM1167 245l8 0 0 2-10 8-8 0 4-6zM406 253l4 4-1 5-4-5zM339 255l4 2 1 6-1 4-4-1-2-5zM1191 255l8 1-4 5-6 4-8 0 4-6zM1119 261l8 0 0 2-6 4-8 0 0-2zM1159 263l2 4-6 6-12 3-4 5-4 2-4-2 0-4 4-4 6 0 10-8zM1165 267l6 0 1 2-1 4-6 4 0 2-10 4-8 0 2-4 10-2 2-2 0-4zM327 271l4 0 4 4 2 4 0 8-6-4zM377 271l3 0 3 4 2 10-6-4zM301 273l2 2 1 6-1 7-2 1zM359 281l2 1 2 5-2 5-2 0-2-3 0-7zM1203 281l8 0-4 6 0 4-8 6-8 0 2-8zM369 287l4 4-1 12-3-1-2-4 0-9zM400 295l3-2 6 1 6 3 3 4-1 4-14-6zM1201 305l8 0 0 2-12 10-5 2 1 2-4 4-6 2-2-2 4-4-1-4 1-2zM323 311l2 0 2 3 0 5-2 2-2 0-2-4zM1133 311l6 0-2 4-8 4-4 0 2-4zM1160 311l1 4-10 8-6 2-2-4-2 2-6 0 0-2 6-6 10 2zM1171 315l8 0 0 2-10 8-8 0 2-4zM379 319l2-2 1 6-1 0zM301 323l2 4-2 4zM343 325l2-2 2 2 0 4-2 1zM327 327l4 1 4 11 0 20 2 4-1 8-7 0-4-4-2-12-4-6-6 0-4 4-4-1 0-13 4-1 2 2 4-3 10 1 0-7zM1163 331l6 0-2 6-6 4-8 0 2-4zM1191 331l8 0 3 4-5 6-5 2-11-2 4-6zM362 341l3 2 1 4-1 8-4-2 0-10zM1245 345l8 0 0 2-10 8-8 0 2-4zM1225 349l8 0-4 6-8 4-4 0 0-2zM375 351l3 0 3 5-2 5-2 1-2-2zM409 353l4 0 2 4 0 6-4 3-4-1-2-4 0-5zM1187 355l6 0 0 4-8 6-6 1-2-1 0-4zM303 365l4 0 2 6-6 4 0 9-2 1zM400 365l3 0 2 4 0 9-4 4-2-7zM1157 369l10-6 4 2 0 2-6 6-8 0-2 2-2 6-6 4 6 2-4 6-6 4-8 0 4-6 6-4-4-4 4-6-2-4 8-6zM363 367l2-2 4 4 0 10-4 0-2-2zM1183 369l4 0-4 10-8 6-8 0 2-4zM1223 371l2 2-4 4-8 2 4-6zM345 375l4 0 4 8 0 5-4 5 5 6-1 6-2 2-4-2-4 0-2 2 6 2 3 4-3 6-4 0-6-8-2-8 4-16 6-6zM317 377l2-2 2 2 0 14-4 4 0 6-2 1-4-5 0-6 2-2zM1185 393l10-6 2 2-2 4-4 4-6 2-2-2zM357 397l4-4 2 2 2 6 4 3 2 7-2 6-4 0-2-4 0-6zM1161 395l8 0 0 2-10 8-8 0 2-6zM1231 397l8 1-4 5-6 4-8 0 4-6zM1141 403l4 0 0 6-6 4-6 0 0-4zM1180 405l5 0-2 4 2 2 8-2 2 0 0 2-10 8-8 0-2-2-4 0 0-4zM319 407l2 2 0 10 2 3 2-9 6-4 4 2 0 6 4 6 2 20-4 4 0 6-2 1-4-3-2-6 0-8 4-2-8-11-4 7 2 2 0 11-3 1-3-4-2-28zM353 409l4 2 4 10-6 0-2-3-2-5zM304 413l7 2-2 14-3 0-3-4 0-10zM1153 415l8 0-3 4-7 4 12 4-2 2 0 6-16 6-2-2 2-2-4-2 2-4 8-6-8-2zM301 431l4 0 2 6-4 8-2-2zM1179 431l10 0-12 14-8 0 2-8zM355 437l6 2 6 8 0 8-3 2 2 10-1 6-2 1-4-3 0-10 0-4 5-2-5-2-4-7zM1125 455l6-2 2 4-8 8-4 2-4-4-6 4-4 0-8 8-12 4 0-2 4-4 8-4 4-6 18-5zM307 459l5-2 3 3-2 13-6-4 2-2-2-2zM1177 459l8 0 0 2-10 8-8 0 2-4zM301 463l6 8-2 6-4 2zM322 463l3 0 4 7 0 5-2 2-6-8zM1146 463l7 0-4 6-7 4-15 0 2-4 4-2zM1115 469l6-2 0 8-10 6-6 0 2-6zM301 483l2 0 4 5 0 5-2 2-4 0zM1213 485l8 0 0 2-10 8-8 0 2-4zM391 495l4 2 2 4 0 4-2 2-4-3-2-4zM301 567l0-54 4 2 6 6-6 8 0 4 0 4 6 5 0 19-8 7zM315 525l6 4 0 15-4-3-4-7 0-7zM1203 529l6 0-2 4 6 2 0 2-10 8-8 0 2-4 5-4-5-2 0-1zM1225 543l8 0 0 2-10 8-8 0 2-4zM449 553l2-10 3 2-1 14zM321 547l2 0 2 2 1 4-1 6-2 0-2-2zM1201 557l8 1-4 5-6 4-8 0 4-6zM563 559l2 0 0 11-4-5zM621 563l2 0 4 4 2 8-2 6-4 0-1-2zM637 575l6-7 6 1 0 12-11-2zM301 573l3 0 3 14-6-4zM571 573l2 0 2 4-2 3zM1203 573l8 0 0 2-10 8-8 0 2-4zM1257 575l8 1-4 5-6 4-8 0 4-6zM1179 583l6-1 2 1 0 2-6 4-8 0 0-2zM471 589l6 1 2 3 3 28 7 14 0 5-4-1-1 2 2 8-3 6-3-6 1-20-10-10 6-8-7-14-1-6zM305 595l2-1 2 5-4 6-2-4zM351 597l4-1 2 3 0 5-4 4-2-1zM765 609l-2-10 2 1 2 3 0 6zM598 609l5-2 13 12 0 8-3 4-10-2-2-2-3-8zM623 613l2-6 2 2 0 6-2 1zM1187 609l6 0 0 4-8 4-6 0 1-4zM632 611l3-1 3 5-1 5-4 3-3-4zM634 631l5-1 6 10 3-7 9-2-1 16-3 8-8-8-2 8-9-8-3-8zM1201 631l5 0 1 4-12 6-6-1 0-3 2-2zM1228 635l13-4 2 4-13 6-5-2zM517 633l9 8 5 9 6 2 4-1 2 3-4 2-4-2-4 2-4-1-11-12zM666 647l1-2 0 5zM1207 649l8 0 0 2-4 2-9 0zM456 653l3 0 8 7 4 9-2 8-10-1zM662 659l5-8 2 2 1 4-5 8 5 8 2 10-1 6-2 1-4-3-2-12 1-8zM1237 663l8 0 0 4-10 2-2-4zM594 669l3 1 0 4-2-2zM574 673l3-2 2 3 0 5-2 2-3-2zM530 677l3 1 4 11 0 13-4-1-2-4-2-18zM479 679l2-1 2 3 0 6-4-3zM1255 681l6 2 0 4-12 0 0-4zM1189 683l14 0 0 4-4 2-14 0 0-4zM1223 685l13 0 1 4-4 2-13 0-1-4zM1195 693l6 0 2 4-2 2-7 0-3-3zM1237 693l6-1 4 1 0 2-8 2-3-2zM563 697l2-1 2 2 0 8-4-3zM1215 701l10-2 2 4-10 0zM1209 713l13 0 3 2 0 2-2 2-13 0-3-2zM581 721l2-3 0 5zM1263 741l14 0 4 2 0 4-14 0-4-2zM1181 747l12 0 6 4 0 2-12 0-6-4zM516 751l3 2 1 4-9 14 1-14zM503 775l2 0 0 8-2-3zM1199 775l8 0 4 4-2 2-4 0-4-2zM513 785l2 0 2 8-4-4zM1237 807l6 0 8 7-7 1-7-4zM592 825l1-9 2 4 2 11zM600 851l2 2-1 3-2-3zM1205 901l8 2 4 4 0 4-8-2-6-6zM325 931l4 0 2 2 0 6-2 2-4-2-2-4zM341 933l2 2-2 6 2 6-2 4-4 0-2-6 2-9zM301 935l4-1 4 5 4-1 2 2-1 3-9 4-4-4zM303 953l2-6 2 1 6 7 0 6-2 2-6-4zM326 951l3 0-2 3-2-1zM337 961l2-1 3 1 3 4 1 8-2 4-4-2-3-4zM1121 963l2-1 4 1 4 4 0 4-6-2zM353 967l6 4-1 8-5 0-2-2 0-8zM1187 967l6 0 6 4 2 6-6 0-6-4zM981 969l4 0 6 8 0 10-3 2-5-2-4-7zM1213 971l6 0 6 4 2 6-6 0-6-4zM1118 973l5 0 4 2 4 4 0 4-8-2-6-6zM317 977l4-2 4 6 3-4 4 0 5 8 2 2 2-2 4 5 0 13-2 2-4-6-2-8-2 1-4-1-2 8 2 8-2 7-2 1-2 0-2-6 2-10-2-10-6-4zM1171 987l10 0 4 2 3 4-11-2zM367 993l4 2 4 14 2 12-2 6-4-6 0-4-2 9-2 1-2-2-2-8 2-6 4 2 2-2-6-14zM1205 993l6 0 6 4 2 6-6 0-6-4zM1109 999l16 2 4 3 2 5 4 0 4 4 0 4-4 0-4-2-2-6-10-8-2 2 2 4-6 0-4-4zM306 1001l3-2 2 2 2 6-2 4-2 0-3-4zM1161 1013l6 0 6 4 2 6-6 0-6-4zM353 1021l5 0 3 4 2 8-2 4-6-4-2-4zM797 1021l2-1 4 5 4 12 6 8 0 10 8 14 4 12-1 4-9-2-8-14 0-8 4-4 0-6-12-18zM385 1023l2-1 0 3-2 0zM409 1027l1 2-1 3-2-1zM1095 1027l3 0 9 7 4 1 6 8-4 0-11-4-5-6zM779 1045l8-10 2 2 6 12 1 6-6 2 1 10-2 10 2 6 16 16 4 8 16 20 8 18 6 6 4 2 4-2-2-10-4-8-20-26-2-6 2 0 8 8 2 0 5-6 3 0 12 10 8 2 4 4 4 10 10 10 10 15 2-5-4-10 0-8 8-4 0-10-4-8-12-16-18-12-4-10 0-6-4-2-2 6-2 0-6-4-4-8 0-6 2-2 4 0 8 2 18 16 8 20 8 12 8 8 8 16 6 6 8 4 6 12 0 4 7 12 3-2 0-4 3 0 11 14 10 2 10 12 6 14 4 4 6-2 5 2 4 10-4 2-7-6-8 0-6-6-6 0-2-2-6 2-6-2-4 6-10-4-4-4-6 0-2 2 0 4 8 12 0 12 12 18-58 0-14-16-4-10-16-20-8-12 0-4-6-10-2-2-6 0-8-8 0-6 4 0 4 4 4-2 0-10-2-4-8-6-6 0-6-6-8-14-6-6-4 0-4 6 5 12-1 2-6-2-4 4 2 6 10 10 4 0 10 6 4 10 0 12 12 14 6 12 14 14 8 0 4 2 4 4 6 14 7 6-17 0-4-3-2 3-8 0-8-6-6 2-2 4-28 0 2-6-10-16-2-6 0-10-6-10-8-8-10 0-2 2 10 17 0 8-2 1-6-2-2 5-4-1-9-14 4-8 7-8 1-10 3-4 4 0 4 2 6 8 14 26 10 10 4 2 6-2 0-12-20-26-6-16-10-10-6-13-2-15-4-8 4-8-10-16 1-14 7-2 7-10 5 2 4-2 0-8-6-10-1-6 2-2zM875 1157l-4 2 0 12-2 3-12-13-3 0 1 24 2 4 10 10 4 0 2-6-4-12 6 4 8 18-2 2-4-2-2 2 0 6 8 18 6 6 4-4 0-9 2-1 12 16 10 4 4 4 4 0 2-6-8-18-6-4-6 4-4-4-6-12 2-12-2-8-12-14-4-8zM907 1146l-2 9 4 6 2 8-2 2-4 0-4 6 16 24 4-4-2-6 2-6-2-8 2-10-6-12zM1185 1037l6 0 6 4 2 6-6 0-6-4zM1139 1041l6 0 10 8-2 4 2 4-2 2-6-2-6-6 1-6zM818 1047l5 1 2 5 10 10 6 10 2 9-2 1-6-6-6-12-12-16zM1012 1047l9 2 7 8-11-4zM1110 1055l5 0 2 2 3 4-1 2-6-2zM419 1059l4 0 2 4 2 8-2 4-4-3-2-4zM1153 1065l6 0 6 4 2 6-6 0-6-4zM971 1067l2-1 6 5 2 9-2 1-6-6zM318 1069l3 3 0 13-2 0-2-4zM942 1069l1-1 2 3-2 0zM1016 1085l9 2 6 4 2 4-10-2-6-4zM390 1087l3-2 4 4 2 16-3 0-6-8-2-6zM853 1089l10 6-1 4-3 0-2-2zM965 1091l2-1 8 6 10 11 4 8-6 0-6-4-10-14zM1181 1091l6 0 6 4 2 6-6 0-6-4zM376 1099l3 0 2 2 2 5 0 7-4 0-2-2-2-6zM1003 1101l6 4 6 8-1 8-7 0-8-8-2-6zM1117 1101l8 8-2 3-6-5-2-4zM963 1111l6 2 4 4 2 6-2 2-8-8zM384 1115l2 0-3 6-1-2zM1019 1115l2-2 4 6-2 2zM1185 1117l4 0 10 10 4 8 0 8-4 0-10-10-4-8zM744 1119l5 2 4 7 0 3-5 4-3-1-2-4zM411 1121l4-1 3 7-1 8-6-9zM1151 1125l10 0 6 4 2 4-9 0-7-4zM1133 1137l4 0 8 4 4 6-6 0-4-2-6-6zM972 1145l5 0 8 6 4 9 0 4-2 2-4-1-10-12zM761 1149l2-1 2 2 2 7-2 1-2-2zM331 1151l2-1 2 2 2 5 0 5-2 2-4-5zM397 1151l1 2-1 2-1-2zM1200 1153l9 2 4 5 0 3-6 4-8-2-4-5 0-3zM412 1157l3-1 2 3 0 10 4 8 2 12 9 4 3 12-2 3-7-5-3-10-6-8-2 4-4 0-4-6 0-4 2-2 4 2 2-2 0-4-5-10zM1014 1157l5 2 0 3-5-3zM752 1159l5 4 0 4-2 2-6-2zM1221 1159l2-1 6 1 4 2 0 4-6 0-6-4zM1073 1165l2-1 6 1 4 2 2 4-8 0zM1147 1165l6 0 6 5 2 5-10-4zM1198 1169l5 2 4 6-4 0-6-6zM1003 1179l8 0 8 4-2 4 10 5 4 7 0 4-4 2-10-8-10-3zM825 1181l4 0 2 2 2 8-4 0-2-2zM1097 1185l8 2 6 6 0 4-4 0-4-2-6-6zM732 1195l6 0 1 2 0 7-6 9-4 4-8-2-3 4-3 0-4-6 1-2 13-4 4-4 0-4zM697 1207l-2-12 2 1 2 2 2 9zM1138 1201l5 0 4 2 4 6-6 0-5-4zM414 1203l3-2 3 4-3 7-4-3zM777 1212l2-4 0 5zM953 1211l6 0 8 8 6 2 0 8 2 3 2 13-16 0-4-4-7 0-5-6-4-8 1-4 3 0 8 10 4 2 4-4-8-16zM314 1213l3-1 8 8-1 3-6 4-2 0-3-5zM1015 1213l2-1 2 1 4 10-4 0-2-2zM331 1215l4 0 2 2 2 6-2 4-3 0-3-3-2-5zM1105 1217l6 2 6 6 0 4-4 0-6-4-2-4zM1191 1217l6 2 4 6-2 2-6-2-4-4zM427 1219l4 0 2 3 0 7-6 0-2-3 0-5zM1065 1223l6 0 4 2 2 2 2 10-4 0-4-2-6-8zM430 1235l3-1 3 3 1 8-10 0 0-4zM707 1235l2 1 2 9-8 0zM765 1235l2-1 18 11-16 0zM1211 1235l6 2 6 8-6 0-8-8zM994 1237l5 2 2 6-4 0-4-5z"/>
<path fill="#00bc00" d="M454 169l10 0-2 10 5 5 4-5 1-10 368 0 4 52 4 10-1 30 6 10 1 6 4 6-4 10-1 8 4 5 6-3 4 1 4-5 15-56 11-24 4 4 74-30 14-2 18-6 10 0 2-2 18 0 32 34 2-6 8-6 8 0-2 2 2 2 6 0 8-6 8 0 6-4 8 2 8-6 8 0-2 4-10 8-2 10-18 14-6 0 2-8 10-8 0-2 8-8 0-2-8 6-22 7-14 11 28 32 10 20 0 6 4 4 4-4 6 0 8 4-2 2 2 2 2-2 10 0 4-2 4 2 8 0-4 6-8 4-6 0 0-2-20 4-2-6-6-2-2 2 2 4 0 16 2 2 2 36 2 2 2 2 6-8-6-2 0-4 4-4-4-2 10-12 6 0-2 8 8 0-4 6-8 6 2 2 4 0 2 4 6 0 2-2 16 0-4 6-6 4-8 0-2-2-4 0-12 8-2-1-2-5-4 4 2 8 0 56-4 10 2 2 6-4 6 0 0 4-8 8-10 2-18 10-32 0-3 2 15 16 4 12 12 22 8 8 14 20 8 16 10 14 6 14 4 4 6 12 4 18 4 8 2 20 2 2 0 12 2 2 2 62-2 4 0 24-2 2 0 12-2 2 0 12-2 2 0 14-2 2-2 34-2 2-2 18-6 18-2 16-16 38-8 10-6 12-12 12-15 10-1 3-8-1-8 4-16-4-10-9 0 11-4 0-4-11 6 0 0-3-18-22-4 4 2 6 0 17-10 1-4 4 2 4 0 8-10 0-8-8-4-10-10-12-16-8-4-8 0-6-8-8-2-1-2 3 2 8 10 16-1 6-11-5-16-21 0-6-8-4-2-4 2-5 2-1 4 4 12 2 2-6 6 8 6-1 2 3 0 6 4 6 2 2 4-2 0-10-8-10-2-1-2 3-2-2-2-14-4-8 4 1 2-3 6 3 1-1 1-14-2-4 10-8-4-4-2 0-8 8-6-6-6 0-2 4 6 10-6 7-4-2-4 5-24 10-28 0-8-2-11-6 1-6-2-2-4 2 2 4-2 1-16-5-2 2 0 10-4-8 2-6 0-12-4-6-6 1-4 7 4 10 0 12 4 6 10 8 2 8 14 14 20 0 6 10 7 4-4 16-31 8-4 4 2 4 8 4 8 8-6 12 0 8-4 0-8-14-6-6-6 2 14 28 0 8 4 4 11-6 7 0 4 2 8 16 10 12 6 14 10 10 8 3 2-5 4-1 8 3 6 11 0 7 10 17-2 1-4-4-7-2-1 12-2 2 2 12 2 2 0 6-2 0-16-16-4 0-10-14-6-22-14-28-2-2-6 3-4-1-18-22-4-8-12-6-4 2 3 8-1 2-8-10-4-2-4 2-2 9-16-17-10-20-4-3 2 18-12-9-2 4 2 12-4 0-8-4-5 8-19 0-5 6-4 26-19 66 2 12-6 6-6 17-18 35-10 30-2 26-204 0-4-4-4 4-16 0-1-6-4-6 5-12-2-4-4 0 0 11-2-1-4-5-1-9 1-2 4 1 11-13-2-16 3-5 2 1 4 10 6 5 5-5 2-10-4-6-5-3-8 1-6-8 0-6 2-4 6 2 0 3 0-11 6 1 3-1 1-8-5-10-11-6-10-10-2-4 2-10-1-12 3-10 6-6 1-14-4-8-5-3-4 1-4 8-2-1-8-13 0-7 4-7 0-16 10 0 4-6-2-6-6-4-8 0-2 8-4-2-2-4 0-11 3-1 0-6 3-2-2-12 4-2 6 7 1-9-9-6-2 6-2 0-12-5-4 2-6-3-6 3-4-5-4 1-3-3-3-6-6-2-3 6 2 6-4 2-5 0-6-10-1-8 1-1 6 5 2-2 2-11 5-1-5-8 8 4 4-2-2-12-3 8-3 0-6-5-2 5-12 0-4 5-8-17-4-4-4 0-2 4 2 8-2 11-10 1-4-6-6-3-2 3 4 4 1 8-5-1-4-5 0-26 4-6-4-6 0-34 2 0-2-4 0-43 2 1 2-2-4-4 0-185 4-1 0-8 2-3 6 21 3-10 6-4 1-6 4 4 2-2 0-6-6-16 8-14-1-8 1-9 7 1 2 2 1 4-3 8 6 6-1 12-2 2-4-2-4-6-2 2 1 6 3 3 1 11 1 1 2-7 2 0 4 5 3 11 3 4 4 1 7-9-1-8 3-4-6-12-2-12-3 2 3 6-3 5-4-1-2-3-1-7 1-4 3-2-2-4 6-10-1-4-2-3-2 9-4 4-10-21-1-13-5-2-2-6-5 0-3-2-2-12-6-6 0-3 4-2 6 3 0 6 6 8 4 2 3 12 5 2 1 6 3 2 2-2 0-16-2-3-4 2-2-1-2-5 2-17-4-5 0-6 2-3-2-12 1-2 3 1 4 6 4-5 0-10 2-1 8 12 0 5 4 9 8-5 4 2 4-5 4 2 0-5-4-4-4-16 0-6 2 0 4 6 4 14 3-10-5-6-1-8-5-8 1-4 5 0 2-2-6-14 2-4-1-8 1-5 4 1 4 6 0 11-2 1 4 10-3 6-3-1-1 3 7 10-1 12 4 6-5 10 0 6-4 0-2 2 5 24 5 5 1 7-5 6 1 6-1 5-4-2-2-6 2-9-2-4-2 4-3 0-4 8-5 4 0 6 10 12 3 10-1 3-10-3-3 2-1 4 12 14 7 18 3 2 4-1 1-21 3-2 0-11 5-13-1-6-7-6-1-16 8-9 6 6 4-1 3-4 1-12 6-1 3-3-2-14-11-2 0-2 8-10-10-8-2-6 4-8 6 5 1-1-2-8 3-8-5-14-3 1 1 7-3 6-4-2-1-8 3-4 4 0-4-4 0-6 2 0 4 4 2 5 4 0 2-3 4 2 1-2 1-8-6-4-2-3 0-10 2-2 4 1 4 12 5-2 7-8-2-6-11-10-4-10 5-6 4 3 4-3 8 1 5-5 3-8-2-8-4-4-8 0-5 4-7 1-4 5-4-4 0-4 6-18 8-5 6-9-2-18 2-1 8 4 6 1 4 9 4 4 3-1 2-6 1-22-4-6-8-4 0-20 0-2 12-4 1-8-7-12-2-10 0-8-3-6-3-3-6 0-9-9 1-4 4-1 10 11 4-2 5-10zM467 466l0 2 2 2 0-2zM477 465l-2 6 2 5 3-5zM489 477l-2 2 0 10 4-4 0-6zM499 506l0 4 2 3 1-6-1-1zM517 454l-2 3-2 14-2 0-4-6-3 2 1 32 4 4 4-2 0-10 6-4 7 8 2 12 13 3 4 9 2 1 5-7-3-12-4-1-2 2 0-1 0-20 2-6-1-4-1-2-2 6-4 3-3 13-3 1-2-1-6-14 0-10zM557 490l-1 9 1 6 2-6zM575 463l-1 4 3 3 0-2zM605 487l6 11 2-1-4-9-2-2zM663 528l0 3 2 2 0-4zM679 490l-2 1 2 4 1-2zM693 537l-2 8 0 2 2 1zM815 299l-4 2 0 8 2 3 4-9zM819 333l-2 2 0 5 5-5zM823 384l-5 5-4 8-1 8 2 3 6-3 6-12 0-6zM849 333l-5 6 1 4 2 1 6-7-1-4zM883 331l-12 3-8 6-15 15-2 4-1 10 2 8 2 3 9 3 1 6-4 16 10 8 6-4 5-8-5-15-9-5 9-24 10-8 8 5 2-1 6-8-1-10-3-5zM901 323l-2 2 2 2 1-2zM903 399l-15 22-1 6 2 4 6-4 16-24-2-6zM911 281l-4 6 2 4 8-8-2-4zM925 389l-4 4 2 4 4-4zM975 869l6 26 12 14 4 10 8 7 2-7-2-6-14-22 0-8zM939 915l-3 2 3 8 8 9 2-3-2-8zM965 897l-2 2 0 6 2 8 8 7 2-7-2-2 0-6-4-6zM835 971l-5 2 3 4 4-2zM843 967l-2 2 2 2 4-2zM915 1101l-2 4 4 8 4 3 2-9zM439 1017l-4 4-2 8-3 4 0 4 3 3 6-6 8-3 2 1 2-3-5-10zM371 930l-1 3 1 1 2-1zM311 651l-4 4 0 6 4 4 2 0 2-2 0-8zM327 632l0 13-4 0-2-2-1-8-3-2-2 2 0 8 2 6 2 2 6-2 2 1 8 11 2-4-4-8 2-6-4-10-2-2zM353 713l-3 2 5 4 0-4zM357 735l-2 4 4 4 0-8zM345 483l-2 4 2 6 2-6 4-2-2-2zM383 506l-4 3 0 3 4-3zM369 615l-3 2-5 16 0 16 4 4 10-14-4-12 2-2 4 3 1-1-6-10zM379 662l-1 7 3 4 4 0 2-2 0-6-2-1-2 1zM415 887l-3 8 1 6 6 4 0 4-3 6-4 2 0 10 5 4 6-2-2-12 6-8 1-4-9-16zM445 462l0 6 4 3-1-8zM455 441l-2 8 4 7 2-3-1-10-1-3zM459 467l-6 6 3 8-4 10 1 9 5 7 0 6-5 5-4-3-2 1-1 7-8 4-3 4 6 13 2 21-3 6-1 8 8 24-4 16-8-1-4 7 6 13 4-3 2-10 3 2 3 24-2 8 1 10-1 4-4 0 0 6 12 17 2 1 4-4 2 4 0 8-2 3-4-5-4 2 0 10 5 8-9 18 1 8 4 6 5 18-2 5-3-1-4-14-3-2-2 1-1 7 6 10 1 10-5 10-3 0-2 4 6 8 4 11 2 0 2-5 2 0 7 18-1 3-2-1-1-8-3-2-4 2-10 0-2 2 2 14-5 24 3 22-4 12 6 10 4-3 1 1 3 12 10-7 14 0 2-4 8 3 6-4 6 4 6 24-1 8 3 4 6-2 4-8-8-22 4-4 0-4-2-2-4 4-2-4-4-3-1-17-3-10 4-10 4 1 2 3 2 12 3 0 1-4 2-1 6 21 6-3 1 5 7 6 2-4 2-1 10 17 4 4 4 9 2-3-3-12 3-26-2-4-3 4-13 6-4-8-5-4 1-9 10-3 3 4 3 1 6-2 6-7 8 1 4-5 8 5 6-4 12-3 9 10 1 5 2-7 6-6 6-12 4 0 2 2 2 8 2 1 10-8 4-6 12 4 8-4 10 7 8-8 4 2 6-2 4-6 0-14 4-16-8-13-6 2-5-5-2-4 1-10-2-6-2-1-4 5-8 3-3-3 1-16 4 4 4-9 5-3-3-8-8-8-5-12 0-6-3-3-2 1 0 4 4 12-2 6-4 2-12-20-4 5-2 0-2-5 0-8-2-2-10-2-7-10 5-6 4 3 4-2 4 10 2-9 8-1 4 11-6 3 0 3 2 3 4-3 4 2 5-2-5-12 2-3 2 1 8 10 1 14 3 5 7-11 2-10 3-4 0-14 4-6 4 1 4 17 4 10-5 18 1 12 6 12 2 2 2-8-1-10 1-2 2 4 3 0-4-16 3-10 0-16-2-6-6-6-4-2-3-6 5-11 2 0 5 1 5 12 2-4-8-20-6 0-6 5-2-3-2-6 4-4 3-14 3-2 2 1 6 11 4-1 8 23 6-4 4-12 6 1 2-8 4 6 5 3 3 7-1-9 5-4 12 13 6-5 4-9 17-3 5-10-3-8 2-8-1-1-6 3-3-10 5-5 4 2 4-1 3-8-4-16-3-4-2-2-2 2-2 7-12-13-12-3-8 5-6-7-4 1-5-4-9-10-12-2-4 11-6-5-6 3-6-4-2 3 0 7-4 3-2-1-6-11-2-1-4 2-10-5-8 2-10-13-6 7-4 0-5-4-3-10 0-9 6-1 1-4-3-6-4-4-2-8-2 4 3 16-4 6 2 8-5 10-8-2-6 6-4-7-4 6-10-5-5 6-3 1-8-3-4-4-4 2-5-10-9-7-24-7-6-6-6 1-8-4-4 4-6 0-5-9-7-6-2-10-4-3-6 4-6-6-4-19zM469 476l0 3 2 4 1-4zM577 481l-2 10 2 18 2 2 3-6 1-16-2-7zM655 514l-6 5 8 12 1-14zM819 977l-6 2 0 8-2 1-9-3 3 12 10 12 4 0 2-6 4 0 4 4 4-4 0-6-10-16zM849 486l-6 5 2 7 6-9zM859 499l-6 8 2 2 4-1 2-3 1-4zM873 497l-6 6-4 8 2 5 10-11 1-6zM887 879l-2 4 6 8 2-6-2-4zM909 424l-10 9-2 4 2 5 8-7 4-8zM307 753l-4 6 2 4 4 2 2-2 0-6zM315 817l-2 7-2 1-2-1-4 5 0 4 4 8 6-1 7-9zM321 721l-4 4 0 10 2 7-1-7 7-10zM337 673l-4 2 3 8-3 7-3-7-7-10-2 4 2 5-2 3 6 9 12 5 5-2 4-14-3-8zM357 828l-2 3 4 7 3-3 0-4zM379 703l-4 7-2 0-2-3-4-1-3 5 1 8 6 12 1 16-8 4-1 28 12 14 4-1 2-3-4-6 0-4 6 0 1-2 0-16-2-8 5-16-4-15 5-11-4-6zM431 867l-5 12 0 6 3 3 1-9 4-6zM441 718l-1 3 1 3 2-1zM463 970l0 3 8 10 0-8zM471 958l-1 5 3 3 2-3zM481 927l-2 8 2 9 2-7zM491 937l-2 0-2 8 1 10 3 2 4-8zM509 979l-2 4 2 6 2-4zM515 952l-1 5 3 2 0-6zM521 985l-2 4 4 8 1-6zM529 917l-1 2 1 5 1-5zM533 1019l-4 2 0 4 4 0 1-4zM539 933l-1 6 5 6 2-4-1-6-3-3zM545 964l-6 3 1 16 3 5 1-11 7 3 7-5-3-8zM553 953l-1 4 3 3 0-4zM569 887l-6 20 0 2 6 2 6-14-4-10zM579 901l-2 2 2 4 2-2zM589 901l-1 10 3 5 4-2 1-5-3-10zM611 882l-1 3 3 6 2-2 0-4zM623 874l0 4 2 2 1-5zM629 907l0 3 2 4 1-5zM633 880l0 9 4 8 5 2 0 4-2 6 0 10-1 2-6-2-4 5 0 5 13 10-1 16 4 10 2-4-2-14 8-8 2-7 2 7-5 6 3 12 4 4 6-4 0-4-5-8 5-18 6-6 0-2-4-4-14 2-2-2-6-18-6-8-4-9zM689 935l0 5 2 2 2-5-2-3zM697 898l-6 7 2 3 6-3zM677 760l-2 1 2 3 1-1zM749 689l0 4 2 1 1-3zM755 743l-4 6 2 9 3-9zM759 963l-3 4 3 6 8 9 2 0 0-5-6-11zM775 970l2 6 4 2-1-5zM845 859l-4 2 8 4 2-4zM859 859l-4 2 0 2 24 24 2 0 2-4-12-20-4-4zM307 794l0 5 2 3 2-1 2-2 0-4-2-2zM313 893l-4 4 4 2 2-4zM323 695l-2 4 0 6 8 4 4 10 0 8-6 6 0 9-5 3 7 4 2-2 0-10 5-6 1-6 7-4 2-4-5-5-2-1-2 4-2 1-3-3 0-6-4-8zM347 756l-2 3 2 10-5 4 2 4 5 3 6-15-4-7zM359 846l-4 9-6 1-6 9-4-1-8-13-8 0-6 3-4 15 0 8 4 4 6 0 6-7 4-1 4 5 6 2 6 8 4 1 2-6-1-10 4-6-1-8 7-2 0-6-3-5zM363 805l-2 4 2 4 2-4zM385 794l-1 9 3 3 4 0 3-3-2-6-3-3zM471 999l-4 2-2 7-4-1-3 4 1 14 4 6 6-2 3-18 5 3 1-1-1-10zM483 989l-2 2 0 8 5 16-3 7-9 3-1 8 4 4 6 1 2-14 4 1 0-8 3 4 0 8 3 2 6-1 4 3 2-6-1-4-15-16-3-10zM543 1031l-1 8-4 4 3 5 4-3 4 0 2-4-4-11zM547 996l1 5 3 3-2-8zM557 1002l-1 3 5 17 2-5-3-6 0-8zM571 938l-2 7 6 9 2-3-2-10zM611 909l-6 8 0 7-2 3-4 1-3-5-4 2 2 8-2 12 4 16-6 12-5-2-1 2 2 14 5 15 6 15 2 1 0-7-3-6 1-6 6-9 8 0 1-3-3-11-6-2-3-11 2-14 2-8-3-7 4 2 6 0 4 5 4-1 6 10 2 0 3-7-2-8-3-1-4 3-8-10-1-4 1-12zM719 911l-2 3 1 5 11 19 1-3-3-16-4-6zM751 722l0 5 2 0 0-2zM329 790l-4 7-4-5-2 1 0 14 6 8 6-4-2-6 2-12zM339 753l-2 6 2 5 2-9zM346 785l-3 0-2 2 3 0zM321 899l-4 6 4 4 2-8zM365 867l-4 2 2 3 4 0zM491 1036l-4 13 0 7 2 0 1-5 5 1 1-3-1-6zM339 841l0 2 2 4 1-2zM343 797l0 4 2 4 6 4 2-4-2-8-4 4-4-2zM367 879l-4 6 1 20 1 2 2-2 2-4 6 1 6 10 3 9-1 10 4 6 6 2 6 8 2-10 8 1 1-3-2-8-3-2-10 0-2-7-1 3-3 0-2-3 0-7 5-2-4-10-2-12-5-4-6 3 0 3 6 5 1 5-1 5-3-1-3-7-2 1-4-6 0-10zM489 1065l1 6 3 0 0-5zM345 835l0 4 3 2-2 8 1 2 3-2 1-4-2-8zM873 171l5-2 1 4-4 8-5 2-1-4zM906 173l3 1 0 3-4 8-5 2-1-4 4-8zM309 175l4 5 0 12-2 1-3-12zM1067 179l12-4 0 2-4 4-8 4-4 0zM853 177l2 2 0 2-4 8-5 2-1-2 1-6zM1105 177l6 0 0 4-6 4-8 2-2-2 2-4zM1174 177l7 0-2 4-5 4-4 2-7 0 4-6zM927 183l2 2 0 2-4 8-5 2-1-4 4-8zM1121 185l8 0 0 2-10 8-8 0 4-6zM1099 191l6 0 0 4-6 6-6 2 0-4zM887 193l2 2-1 6-7 6-2-4 4-7zM380 205l3 0 4 5 0 9-2 2-6-4-1-6zM1151 219l8 0 0 2-10 8-8 2-3 6 7 2 0 2-10 8-8 0 0-2 6-6-4-4 6-6 4 0 6-8zM313 223l4-2 4 6 0 7-2 3-4-2-2-5zM427 227l2-5 4 1 2 4 0 6-2 1-4-3zM349 231l2-1 4 3 0 10-4 0-2-4zM307 245l4 0 1 6-3 3-2-1zM1167 245l8 1-4 5-6 4-8 0 4-6zM407 253l3 4-1 4-3-4zM339 255l4 2 0 10-4-1-2-5zM1192 255l7 0-2 4-5 4-4 2-7 0 4-6zM1119 261l8 0 0 2-6 4-8 0 0-2zM1151 265l8-2 2 4-9 8-9 1-4 5-6 2-2-2 0-4 4-4 6 0zM1165 267l6 0 1 2-1 4-6 6-10 4-8 0 3-4 9-2 2-2 0-4zM327 271l4 0 4 4 2 4 0 8-6-4zM378 271l2 0 3 4 2 6-1 4-5-4-2-6zM301 273l2 2 1 6-1 6-2 2zM1204 281l7 0-4 6 0 4-8 6-8 0 4-10zM357 283l2-2 3 6-1 4-2 1-2-2zM367 289l2-2 4 5 0 10-2 1-4-5zM400 295l3-1 8 1 6 4 0 5-6-1-10-6zM1201 305l8 0 0 2-12 10-5 2 1 2-4 4-6 2-2-2 4-4 0-6zM323 311l2 0 2 4-2 6-2 0-2-4zM1133 311l5 0-1 4-8 4-4 0 2-4zM1161 311l0 4-10 8-6 1-2-3-2 2-6 0 0-2 6-6 10 2zM1171 315l8 0 0 2-10 8-8 0 2-4zM301 323l2 4-2 4zM343 325l3 0 0 4-1 1zM327 327l4 1 4 11 0 20 2 4 0 6-2 2-5 0-5-4-2-12-4-6-8 1-2 3-4-1 1-13 3-1 2 3 4-4 10 1zM1163 331l6 0-2 6-6 4-8 0 2-4zM1191 331l8 0 3 4-1 2-9 6-11-2 4-6zM363 341l2 2 1 6-2 6-3-2 0-10zM1245 345l8 0 0 2-10 8-8 0 2-4zM1225 349l8 0-4 6-8 4-3 0-1-2zM375 351l3 0 3 6-4 5-2-3zM409 353l4 0 2 4 0 6-4 3-4-1-2-4 0-5zM1187 355l6 0 0 4-4 4-10 3-2-1 0-4zM303 365l4 0 2 5-6 5 0 9-2 1zM400 365l3 0 2 6 0 7-4 3-2-6zM1157 369l10-5 4 1 0 2-6 6-8 0-2 2-2 6-6 4 6 2-4 6-7 4-7 0 4-6 7-4-5-4 4-6-2-4 8-6zM363 367l2-1 4 3-1 10-3 0-2-2zM1183 369l4 0-4 10-8 6-8 0 2-4zM1223 371l2 2-4 4-8 2 4-6zM345 375l4 0 4 6 0 7-4 5 5 6-1 6-2 2-8-2-2 2 5 2 3 4 0 4-4 2-2 0-6-9-2-9 5-14 4-4zM317 377l2-1 2 2 0 13-4 4 0 6-2 1-4-5 0-6 3-2zM1185 393l10-6 2 2-2 4-4 4-6 2-2-2zM358 397l3-3 2 1 2 6 4 3 2 7-2 6-3 0-3-4 0-6zM1161 395l8 0 0 2-10 8-8 0 2-6zM1232 397l7 0-2 4-5 4-4 2-7 0 4-6zM1141 403l4 0 0 6-6 4-6 0 0-4zM1180 405l5 0-2 4 2 2 8-2 2 0 0 2-10 8-8 0-2-2-4 0 0-4zM315 411l4-4 2 2 0 10 2 3 4-11 5-2 3 3 0 5 4 6 2 10 0 10-4 4 0 6-4 0-4-7 0-8 4-3-8-11-4 7 2 2 0 11-2 1-4-4-2-24zM353 409l4 2 4 10-6 0-2-3-1-5zM305 413l6 3-2 13-3 0-3-5 0-9zM1153 415l8 0-3 4-7 4 12 4-2 8-16 6-2-2 2-2-3-2 1-4 8-6-8-2zM392 425l6 2-2 8-5 0-2-6zM301 431l4 1 2 5-2 6-2 1-2-1zM1179 431l10 0-2 4-10 10-8 0 2-8zM355 437l8 4 4 6 0 8-3 2 2 10-3 7-4-4 0-11 2-3 3-1-7-5-2-5zM1125 455l6-2 2 4-9 8-3 1-2-3-2 0-6 4-4 0-8 8-12 4 0-2 4-4 8-4 4-6 18-4zM307 459l5-2 3 3-2 13-5-4 1-2-2-2zM1177 459l8 0 0 2-10 8-8 0 2-4zM301 463l6 8-2 6-4 2zM323 463l4 3 2 4 0 5-2 2-6-8zM1146 463l7 0-2 4-5 4-5 2-14 0 2-4 4-2zM1115 469l6-2 0 8-10 6-6 0 2-6zM301 483l2 0 4 5 0 5-2 2-4 0zM509 485l2 0 1 2-1 1zM1213 485l8 0 0 2-10 8-8 0 2-4zM458 495l1-1 2 3-2 4zM390 497l1-2 4 2 2 6-2 4-4-3zM301 567l0-53 4 2 5 5-5 8 0 6 6 8 0 17-8 8zM315 525l6 5 0 13-8-9 0-7zM1203 529l6 0-2 4 6 2 0 2-11 8-7 0 2-4 5-4-5-3zM1225 543l8 0 0 2-10 8-8 0 2-4zM321 547l4 2 1 4-1 5-2 1-2-2zM451 547l2 2-2 3 0-3zM1202 557l7 0-2 4-5 4-4 2-7 0 4-6zM623 567l4 7 0 3-2 1-2-3zM301 573l2 0 1 2 1 11-4-3zM643 573l0-2 4 0 0 6zM1203 573l8 0 0 2-10 8-8 0 2-4zM1258 575l7 0-2 4-5 4-4 2-7 0 4-6zM1179 583l6-1 2 1 0 2-6 4-8 0 0-2zM473 602l-2-11 6 2 1 8-1 5zM306 595l2 4-3 5-2-5zM352 597l3 0 2 3-1 5-3 3-2-1zM1187 609l6 0 0 4-8 4-6 0 1-4zM599 611l4-2 10 10 2 4-2 5-10-3zM635 613l1 2-1 3-2-3zM475 617l4 1 0 4-4-1zM1201 631l4 0 2 4-12 6-6-1 0-3 2-2zM1231 633l10-2 2 3-6 5-8 2-4-2 0-2zM636 633l3 0 2 6 0 9-2 1-4-3-2-5zM649 635l4-2 2 2 0 10-4 5-4-5zM735 635l2 0 0 5-2-1zM519 641l2-1 4 2 3 9zM482 647l1-1 1 3-1 3zM1207 649l8 0 0 2-4 2-9 0zM461 659l4 3 4 5 0 6-2 2-8-4-1-6zM1237 663l8 0 0 4-10 2-2-4zM665 673l2 0 1 2 2 8-1 4-2-2zM575 675l2-2 0 5-1-1zM1255 681l6 2 0 4-12 0 0-4zM1189 683l14 0 0 4-4 2-14 0 0-4zM1223 685l13 0 1 4-4 2-13 0-1-4zM533 687l3 4-1 7-3-5zM659 691l1 2-1 3-1-3zM1195 693l6 0 2 4-2 2-7 0-3-2zM1237 693l6-1 4 1 0 2-8 2-3-2zM1219 699l6 0 2 4-10 0-2-2zM613 713l2-2 3 4 0 12-3 3-2-5zM1209 713l13 0 3 2 0 2-2 2-13 0-3-2zM1263 741l13 0 5 2 0 4-13 0-5-2zM1181 747l12 0 6 4 0 2-12 0-6-4zM1199 775l8 0 4 4-2 2-4 0-4-2zM1237 807l6 0 8 7-7 1-7-4zM551 861l0-8 2 1 0 7zM1205 901l10 4 2 2 0 4-8-2-6-6zM325 931l4 0 2 2 0 6-2 2-4-2-2-4zM301 935l4 0 4 4 4-1 2 3-1 2-3 0-4 3-4-1-2-2zM338 935l3-2 2 2-2 6 2 6-2 4-4 0-2-4zM303 953l4-5 6 7 0 5-2 3-6-4zM380 955l1-1 2 2 2 11 6 6 0 11-7-3-8-10 4-4zM337 961l5 0 3 4 1 8-2 4-7-6zM1121 963l6 0 4 4 0 4-6-2zM370 965l1-2 5 6-5 0zM1187 967l6 0 6 4 2 6-6 0-6-4zM351 969l4-2 4 4-1 8-5 0-2-2zM981 969l4 0 6 8 0 9-4 3-4-2-4-7zM1213 971l6 0 6 4 2 6-6 0-6-4zM1118 973l5 0 4 2 4 4 0 4-8-2-6-6zM317 977l4-2 4 7 3-5 4 0 5 8 2 2 2-2 4 5 0 13-2 1-4-5-2-8-2 1-4-2-2 9 1 8-1 7-2 1-2-1-1-5 1-10-2-10-6-4zM1171 987l10 0 4 2 2 4-10-2zM367 993l4 2 1 4 5 20-2 8-3-6-1-10-5-12zM1205 993l6 0 6 4 2 6-6 0-6-4zM1109 999l4 0 4 2 2 6-6 0-4-4zM306 1001l3-1 2 1 2 6-2 4-2 0-3-4zM1119 1001l2-2 7 4 3 6 4 0 4 4 0 4-4 0-3-2-3-6zM365 1011l2 0 3 4 1 6-4 6-2-2-1-6zM1161 1013l6 0 6 4 2 6-6 0-6-4zM353 1021l5 0 3 4 2 8-2 4-6-4-2-4zM798 1021l5 4 4 12 6 9 0 9 8 14 4 12-1 4-9-2-8-14 0-8 4-4 0-6-12-19-2-7zM1095 1027l6 2 6 6 4 0 6 8-15-4-5-6zM779 1045l8-9 2 1 6 13 0 5-5 2 1 10-2 10 2 6 16 16 20 29 8 17 6 6 4 2 4-2-2-10-4-8-20-27-1-3 1-2 8 8 2 0 5-6 3 0 12 10 8 2 4 4 4 10 10 10 10 15 2-5-4-10 0-8 8-4 0-10-4-8-12-16-18-12-4-10 0-6-4-2-4 6-6-4-4-8 0-6 6-2 8 2 18 16 8 20 8 12 8 8 8 16 6 6 8 4 13 28 2 0 1-6 3 0 11 14 10 2 10 12 6 14 4 4 6-2 4 2 5 10-3 2-8-6-8 0-6-6-6 0-2-2-6 2-6-2-4 6-10-4-4-4-6 0-2 2 0 4 8 12 0 12 11 18-57 0-14-16-4-10-8-8-16-24 0-4-6-10-2-2-6 0-8-8 1-6 7 4 4-2 0-10-2-4-4-4-12-4-12-18-6-6-4 0-4 6 5 12-1 2-6-2-4 4 2 6 10 10 3 0 11 6 4 11 0 11 12 14 6 12 14 14 8 0 6 4 8 16 6 6-16 0-4-3-2 3-8 0-8-6-6 2-2 4-27 0 1-6-10-17-2-15-6-10-8-8-10 0-2 2 10 17 0 7-2 2-6-2-2 4-4 0-9-14 4-8 7-8 1-10 3-3 4-1 4 2 6 8 14 26 10 10 4 2 6-2 0-12-19-26-7-16-10-10-6-13-2-15-4-8 4-8-10-16 1-14 7-2 8-10 4 2 4-2 0-8-6-11 0-5zM875 1157l-4 2 0 12-2 2-4-2-8-10-3 0 1 24 2 4 10 10 4 0 2-6-3-10 1-1 4 3 8 18-2 1-4-1-2 2 0 6 8 18 6 6 4-4 0-8 2-1 12 15 10 4 4 4 4 0 2-6-8-18-4-4-8 4-4-4-6-12 2-14-2-6-16-22zM907 1146l-2 9 4 6 2 8-6 2-4 6 16 24 4-4-2-6 2-6-2-8 2-10-6-12zM1185 1037l6 0 6 4 2 6-6 0-6-4zM1139 1041l6 0 10 8-2 4 2 4-2 2-6-2-6-6 1-6zM818 1047l5 1 2 5 10 10 6 10 2 9-2 1-6-6-6-12-12-16zM1012 1047l9 2 7 8-11-4zM1110 1055l7 2 3 4-1 2-6-2zM419 1059l3 0 3 4 2 8-2 4-4-3-2-4zM1153 1065l6 0 6 4 2 6-6 0-6-4zM971 1067l2-1 6 5 2 8-2 1-4-3zM319 1069l2 3 0 13-4-4 0-11zM1016 1085l9 2 6 4 2 4-10-2-6-4zM390 1087l3-1 4 4 2 15-2 0-7-8-2-6zM853 1089l10 6-1 4-3 0-4-4zM965 1091l2-1 8 6 10 11 3 8-4 0-7-4zM1181 1091l6 0 6 4 2 6-6 0-6-4zM376 1099l5 3 2 4 0 7-4 0-2-2-2-6zM997 1107l8-6 6 6 4 6-1 8-7 0-8-8zM1115 1103l2-2 3 2 5 8-4 0zM963 1113l2-1 6 3 2 3 0 6-8-7zM385 1115l0 2-2 4 0-2zM1019 1115l2-2 3 6-1 1-2-1zM1185 1117l4 0 10 10 4 8 0 8-4 0-10-10-4-8zM745 1119l4 2 4 7-2 5-3 2-5-5 0-9zM412 1121l3 0 2 6 0 6-4-4-2-6zM1151 1125l10 0 6 4 2 4-9 0-7-4zM1133 1137l4 0 8 4 4 6-6 0-4-2-6-6zM973 1145l8 2 4 4 4 9-2 6-4-1-10-12zM762 1149l2 0 3 6-2 3-4-7zM331 1151l4 1 2 5 0 4-2 3-4-5zM1200 1153l9 2 4 5 0 3-6 4-8-2-4-5 0-3zM413 1157l2 0 1 2 1 10 5 18-1 4-4-6-3 4-3 0-4-6 0-4 2-2 6 4-1-10-3-8zM753 1159l4 5 0 3-3 2-4-2zM1014 1159l1-2 5 4-3 0zM1221 1159l2-1 6 1 4 2 0 4-6 0zM1073 1165l8 0 4 2 2 4-8 0zM1147 1165l6 0 6 5 2 4-2 1-8-4zM1198 1169l5 2 4 6-4 0-6-6zM1003 1179l8 0 8 4 0 2-3 2 11 5 4 8 0 3-4 2-10-8-10-3zM826 1181l3 0 2 2 2 8-6-2zM1097 1185l8 2 6 6 0 4-4 0-4-2-6-7zM424 1193l3-1 5 1 2 12-1 3-7-5zM733 1195l4 0 2 6-1 4-5 8-4 4-8-2-3 4-3 0-3-6 1-2 12-4zM695 1197l2-1 2 2 1 9-3-1zM1138 1201l5 0 4 2 4 6-6 0-5-4zM414 1203l3-2 3 4-3 7-4-3zM777 1212l2-4 0 5zM953 1211l6 0 8 8 6 2 4 24-16 0-4-4-7 0-5-6-4-8 1-4 3 0 8 10 4 2 4-4-8-17zM315 1213l2-1 8 9-8 6-4-6zM1015 1213l2-1 2 2 3 9-4-2zM331 1215l4 0 2 2 1 6-2 4-5-3-2-5zM1105 1217l6 2 6 6 0 4-4 0-6-4-2-4zM1191 1217l6 2 4 6-2 2-6-2-4-4zM427 1219l4 0 2 3-1 7-5 0-2-3 0-5zM1065 1223l6 0 4 2 2 2 2 10-4 0-4-3-6-7zM430 1235l3-1 3 3 1 8-10 0zM707 1235l2 1 2 9-8 0zM765 1235l2-1 17 11-15 0zM1211 1235l6 2 6 8-6 0-8-8zM994 1237l4 2 3 6-4 0-2-2-2-4z"/>
<path fill="#00cc00" d="M455 169l9 0-3 10 6 6 5-6 0-10 367 0 4 52 5 10-1 30 4 8 0 8 4 8-2 18 4 3 6-2 4 0 4-5 16-58 10-20 4 2 74-30 14-2 18-6 10 0 3-2 17 0 32 34 2-2 0-4 9-6 7 0-2 2 2 2 6 0 8-6 8 0 6-4 8 2 8-6 8 0-2 4-10 8-2 10-18 14-6 0 2-8 10-8 0-2 8-8 0-3-8 7-22 6-14 12 28 32 10 20 0 6 4 4 4-4 4 0 9 4-1 2 2 2 2-2 10 0 4-2 4 2 8 0-4 6-8 4-6 0 0-2-14 4-6 0-2-6-6-2-2 2 2 4 0 16 2 2 2 36 2 2 2 2 7-8-7-3 0-3 5-4-5-2 10-12 6 0-2 8 8 0-4 6-10 8 8 0 0 3 4 1 6-2 16 0-4 6-6 4-8 0-2-2-16 8-2-1-2-5-4 4 2 8 0 56-4 10 2 2 6-4 6 0 0 4-9 8-9 2-18 10-32 0-3 2 15 16 4 12 12 22 8 8 14 20 8 16 10 14 6 14 4 4 6 12 4 18 4 8 2 20 2 2 0 12 2 2 2 62-2 4 0 24-2 2 0 12-2 2 0 12-2 2 0 14-2 2-2 34-2 2-2 18-6 18-2 16-16 38-8 10-6 12-10 10-17 12-1 3-8-1-9 4-15-4-10-9 0 10-4 1-4-11 7-1-11-16-8-8-4 4 2 6 0 17-10 1-4 4 2 12-9 0-9-8-4-10-10-12-16-8-4-8 0-6-8-8-2-1-2 3-8-8-4 2 10 16 2 1 4-2 2 3 6 12-2 6-10-5-16-21 0-6-7-4-2-4 1-5 2 0 4 3 10 2 0 2 4-6 6 6 6 0 6 14 2 2 4-2 0-10-3-6-5-4-2-1-2 2-1-1-6-20 1-2 2 1 2-3 6 3 2-1 0-14-2-4 10-8-4-4-2 0-8 8-6-6-6 0-2 4 6 10-6 6-4-1-4 5-24 10-15 0-3-2-10 2-7-2-11-6 0-6-2-2-4 2 0 5-16-5-4 7-1-3 1-8-1-12-3-4-6 1-4 7 4 11 0 11 3 6 11 9 2 7 14 14 20 0 6 10 7 4-3 15-4 3-16 2-26 10 2 2 6-2 12 6 7 8-7 21-14-20-6-1-2 2 14 29 0 7 4 4 11-6 6 0 5 3 8 15 10 13 6 13 10 10 8 3 4-6 10 3 6 11 0 7 10 16-2 1-10-6-1 1-1 12-2 2 4 15 0 3-2 1-16-15-4 0-10-14-6-22-14-28-2-2-6 3-6-3-22-30-12-4-2 4 2 7-10-11-4 0-4 8-4 0-16-21-6-13-4-3-2 1 4 10-1 4-3 0-8-6-2 4 1 12-11-5-3 3-1 5-22 1-3 6-4 26-19 66 2 12-7 8-5 14-18 36-10 30-2 26-203 0-5-5-5 5-15 0 0-6-5-6 6-12-3-4-4-1 0 11-2 0-4-6-1-8 1-2 4 2 11-14-1-16 2-3 5 9 7 6 4-2 2-4 2-10-4-7-8-3-4 1-1-3-5 0-2-4 0-6 2-4 4 2 2 7 1-5-1-8 10-2 1-6-5-12-11-6-11-10-1-4 2-12-2-8 3-10 10-11 2 11 2 1 2-13-2-5-4 3-7-18-9-2-4 8-2 0-8-14 0-4 5-8-1-15 2-1 8 1 5-5 0-4-3-6-8-3-6 0-2 9-4-2-2-4 0-10 4-2 0-6 3 0-3-8 0-6 4-2 6 9 2-6 2 2 2-6 8-3 6 3-1-11 1-8-6-10-7 0 0-8-5-10-8 8-2-4 6-6 4-12 2 1 7 17 9 9 4 0 2 2 3 7-2 6 0 4 8 6 1 4-2 6-4 6-1 4 7 8 2 6-2 3-6 1-1 2-1 12-6 9-14 2-5 3-5 18 2 3 4 0 6-5 4-1 4 6 5-9-3-12 4-2 2 2 0 8 3 8-2 10 1 4 2 2 14-9 4 1 0 12 7 14 1 12 9-10 0-12 3-8-4-16 12 1 5-9-1-10 3-10-3-6-4 4 0 3 0-7 2-4 4 3 6-1 5 4 3 25 8 3 2-6-1-8-6-4 3-4 1-12-1-2-4 4-2-12-6-9-3-9 3-16-3-6-6-24 3-11 2 1 3 6 5 2 6 17 4-2 5 13 0 4-3 3 0 3 1 24 3 8-1 6 2 8 0 8 6 12-11 8 0 10 4 9 6-3 4 3 1-1 1-10-3-12 2-18 1-1 2 2 6 16 2 0 3-7-4-20-3-4-6 0-3-10 0-2 3-1 4 8 2-7 2-2-3-20 0-6 2-6-2-12 4-20 5-5 7 3-1 6 2 4 2-2 1-6-3-6 2-1 12 9 2 12-2 18 2 14-2 5-6-5 1 22 5 18 5 8 3 12 4 2 4-2-6-23 6-8 4 1 6-3 4 8 2-5-2-4-2 0-2-2-4-16-6-4-2-18 4-8 2-1 4 6 4-2 4 5 10 6 1-16 1-3 3 1 3 6 1 16 5 9 8-8 8 4 7-7-4-14 1-12 2-5 2 0 2 3 2-1 0-11-4-8-5-4-5-11-1 9-4 8-3-1-3-15-7-8-3-10-2-6 3-10 8-8 4 1 6 5 8-5 12 5 6-4 12-2 4-10 1-18 4-10-1-4-10-14-6 3-4-3 0-14-4-9-4-2-2 0-8 10-1-3 1-4 5-4 1-6 2-1 4 3 4-1 2-6 4 3 0 4 2-7 4 0 4 4 6-15 4-1 3 7 0 16 3 5 1-9-3-14 6-2-3-6 1-7 3 7-1 6 8 8 2 12 2 1 1-3 0-12-10-12 2-10-3-9-2-1-6 5-2-4-2 1 2 6-2 4-5-8 5-27 6-4 4 9 2-4 0-6-4-3-8 3-2-2-11-18 1-4 2-2 2 2 6 12 8-5 1-7 8-8 2-8 7 1 2-3 4 0 8 12 2-4 0-9 5 7 7 14 10-26 4-2 6 9 2-7 2-1 6 6 0-11 7-14-2-6 3-6-2-8 4-11 5-5-1-7-2-1-2 10-4-6-2-10-6-6-2-1-4 5-8-9-8 0-6-3-6 6-2-1-6-8-8-1-2-10-4-6-2 0-1 4-3 1-10-2-4-3-2 9-6-5-2 7-2-1-5-4 2-14-3-6-3 2-1 10 0 5 3 3-3 11-6-2-4-7 1-12-3-5-1 15-3 3-7-15 2-12-6-8-5-12 2-8 2 1 4-1 4 8 2 10 6-1 4 3 2-2-4-6 4-10-1-12-9-13-2 0-1 5 5 8 0 9-7-5-7-10-2 0-4 10-4 2-6 0-2 1 5 13-1 8 5 10 0 8 3 4-4 5-8-9-6 12-4-1-2-3 0-10 6 3-2-7 1-8-7-12-6-14 0-10 2-4 8 8 3-8-1-2-4 0-4-3-4 1-8-4-4 5-6 1-5 4 7 14-3 4-6 18 1 2 6 1 3 3-4 8 3 12-2 2-2-3-3-11-5-8-2-1 0 7 5 6-1 9-2 0-4-6-6 3-4 6-6-4-12-3-4-8-15-11 7-2 4-4 6-14 2 0 10 4 8 8 4-10-1-8 2-16-9-24-8-2-2 6-4-1-2 3 4 4 6 2 2 6-2 4-4-1-6 3-6-6-4 3-2-5 3-4-2-12 2-8-5-10-2 15-4-1-4-6-2 0 1 6 4 6 1 4-8 21-2 1-6-12-1-10-4-6-2-10-1-1-2 1-2 10-2 1-5-11-3-1-1 5 2 6-2 6-1 14 2 16-1 4-5 3-2 7-2 1-6-5-2-4 2-6 7-6 0-8-5-9-4-1-2-6-10-5-2-9 2-8-3-6 4-10-5-8-2-12-2 8 3 4-1 5-6 6-4 0-6 10 2 25-8-8-3 6 5 13 4 3-4 8 4 15-4-1 0 10-2 2-2-2-2 1-2 11-8 2-1 2 1 8 8 7 1 3-1 13-3 3 2 6-2 10 10 24-3 13-4 1-2-10-2 0-5 10-1 8 4 16-6 4-1 10 2 4 5 3 3-3-2-10 3-2 3 2 5 11 1 7-1 3-4-7-2 1 2 19 6 6 6 12-2 4 0 21-2 3-5-10-5-3-1 17-2 4 1 3 2 1 1-8 5-3 3 1 1 6-5 6 7 16-6 2-3 4-1 13-4-1-6-7-4 6-1 5 2 8 3 2 2-13 8 6 2-1 0-4 2-1 2 3 1 6-9 12-1 6 8 12 4 10-3 2-4-1-4-6-1 9 4 14-5 21-6-1-6 6-2 10 3 14-1 1-8-10-4 1-2 6-2 14 6-3 3 5-3 8-3 2-1 12 6 3 8-2 4 14 8 3-6 10-2 1-6-3-2 6-2 0-12-5-4 1-6-2-6 3-4-5-4 0-3-2-3-7-6-1-3 6 2 6-8 2-5-6-3-10 1-2 8 4 0-8 4-6 3 2 1 3 2-1-7-10 3 0 4 2 4-2-2-15-1 7-3 4-2 0-6-5-2 4-12 1-4 4-7-16-5-4-4 0-2 4 2 8-2 10-10 2-4-6-6-4-2 4 4 4 1 8-5-1-4-5 0-26 3-2 1-4-4-6 0-33 3-1-3-4 0-43 4 1 1-2-5-5 0-184 4-1 2-10 4 18 2 2 2-2 2-8 5-4 1-6 4 4 2-2 0-6-5-16 1-4 7-10-2-6 1-10 6 0 3 2 1 4-3 8 6 6-1 12-2 2-4-2-4-6-2 2 0 6 4 3 1 11 1 2 2-7 4 1 3 12 7 7 4-1 6-8-2-8 3-4-6-12 0-10-3-3-1 1 2 8-3 5-4-1-3-8 1-6 4-2-2-6 5-10-7-9-1 1 4 4-1 8-4 4-12-28 1-6 3-2 4 9 4-1 1-16-3-4-4 3-2-1-2-6 2-10 0-6-4-6 2-8-2-11 2-3 6 8 4-6 0-8 2-3 8 12 4 14 8-4 4 1 2-4 4 0 2 2 0-6-4-5-4-15 0-6 2 0 4 6 4 14 3-10-5-7-1-7-5-8 2-5 5 3 0 4 7 8-1 12 4 6-5 10 0 6-4 0-2 2 5 24-5 4-1 6-5 2-3 8-5 6 1 6 8 8 4 12-1 3-6-4-4 1-3 2-2 4 11 12 7 18 5 4 5-2 0-18 4-4-1-11 3-3 3-8-1-6-7-8-1-18 7-6 6 5 4 0 3-5 1-12 8-1 2 2 4 0 6-9-2-17-2-2-2 5 1 12-3 3-2 1-2-12-10-3 7-11-11-8-1-6 1-6 2-2 6 6 2-2-2-10 3-4-4-16 3-1 2-3 4 3 2-3 1-12-3 2-4-2-2-3 0-10 2-2 4 1 4 13 11-7 2-4-5-9-8-7-4-8 1-4 3-3 4 2 4-2 6 2 2-1 6-6 2-8-1-8-5-5-8 1-12 5-4 4-2-2-1-5 3-12 3-6 9-4 3-4 2-6-1-18 8 4 6 0 3 8 5 7 2 0 4-7 1-24-5-7-7-3-1-20 13-6 1-8-8-13-1-17-3-6-4-4-6 0-8-8 0-4 5 0 9 12 2-1 8-13zM489 402l-3 5 3 5 2-5zM493 418l0 5 4 8 4 0 0-4zM505 421l-2 4 2 2 2-2zM507 325l-1 2 1 4 2-2zM517 427l-8 1 0 9 2 4 5-2 4-6 0-4zM571 442l0 7 6 5-1-9zM595 450l-2 1-1 8 3 6 2 0 2-2 1-4zM603 436l-5 5 5 6 6 3-2-9zM705 531l-5 8 1 8 2-3 6-1-1-8zM773 548l-1 3 1 2 1-2zM815 299l-4 2 0 8 2 3 4-9zM819 333l-2 2 0 5 6-5zM823 384l-6 5-4 10 0 8 2 1 6-3 6-12 0-7zM843 859l-2 2 4 3 4 1 2-2-2-4zM849 332l-6 7 2 5 4-1 5-6-1-4zM891 329l-20 4-8 6-17 18-2 12 2 8 11 8 1 6-4 14 11 9 6-1 2-8 4-4-5-14-9-8 6-12 2-8 5-6 7-3 6 4 8-7 1-4-2-8-2-4zM901 322l-3 3 3 2 2-2zM911 280l-4 7 2 4 4-2 4-6-2-4zM925 389l-4 4 2 4 4-4zM975 868l6 27 12 14 4 10 8 7 2-7-6-14-10-15 0-7zM965 897l-2 2 0 6 2 8 8 7 2-7-2-2 0-6-4-6zM835 971l-6 2 4 4 4-2zM915 1101l-2 4 4 8 4 3 2-9zM449 982l-3 7 5 7 2-1 1-8zM519 1033l-2 1-3 9 1 2 5-8zM521 1062l0 7 4 12 2 0 1-6-5-12zM533 942l2 11 2 0-2-7zM569 934l-2 15-2 4 6 14 1-2-1-6 2-2 6 2 0-4-4-20-2-2zM611 1033l-2 0 4 13 1-7zM615 950l-1 3 1 2 1-2zM631 1016l-3 5 3 9 3-7zM673 934l-1 5 3 2 1-2zM651 876l-2 3-1 6 5 4 3-2 0-6-1-4zM685 879l-2 4 6 0-1-4zM695 893l-2 4-5 4-7 1-4 13 3 12 5 3 2 11 4 5 5-5-1-4-4-9-6-2-2-7 4-5 4 8 2 1 2-10 6-6-2-12-2-3zM717 909l0 10 7 16 7 8 1-6-4-20-5-6zM743 953l-2 0 2 6 4 4 2 0-2-6zM749 686l-3 3 0 4 5 4 2-2 1-4zM759 706l-3 3-1 12-6-4 0 2 2 16-4 16 3 10 3 2 2 0 3-4 0-12-4-12 1-11 2-2 2 1 2-4zM775 768l-2 3 0 6 6 9 4 1 1-2-3-1-3-3 0-10zM783 662l-2 1 1 6 3 7 3-9zM569 532l-1 3 3 4 2-4-2-3zM429 676l2 13 6 1 1-5-4-8zM445 695l-2 2 1 2 4 0zM309 652l-3 3 0 4 5 6 4-2 0-6-2-5zM329 631l-3 2 2 8-1 4-4 0-2-2-1-8-3-2-2 2 0 8 2 7 10 1 5 8 3 2 3-2 0-4-5-6 2-6zM353 713l-4 2 6 5 1-5zM357 734l-2 5 4 5 1-1 0-8zM349 482l-6 3 2 8 2-6 4-2zM353 511l-1 2 3 2 4-2zM369 614l-5 5-4 16 0 14 5 4 3-2 7-12-3-12 1-2 4 4 1-2-5-10zM379 661l-1 8 3 4 4 1 3-3 0-4-3-4-2 2zM389 639l4 24 4 5 1-5-5-20zM407 545l0 3 2 0 0-1zM411 566l-1 5 1 3 2-3zM417 634l2 7 2 0 0-2zM433 446l0 3 4 1 0-3zM443 431l0 3 2 2 0-3zM459 309l-1 2 1 4 1-2zM815 977l-4 11-8-4-1 1 4 14 9 10 4 0 3-6 7 4 4-4 0-6-9-16-5-4zM849 486l-6 5 0 6 2 1 6-9zM859 499l-6 8 4 2 3-2 2-6zM873 497l-9 12-1 4 2 3 10-11 1-6zM901 398l-15 27 3 6 6-3 16-25 0-4-2-2zM569 996l-3 5 1 3 4-3zM575 1013l2 2 1-2-1-1zM755 963l-2 2 1 2 12 18-1 14 3 2 3-4-2-10 1-10-9-15zM759 786l0 4 6 5 0-8zM773 968l1 5 7 7 2-3-2-4zM307 753l-4 6 2 4 4 2 2-6zM315 817l-2 6-2 2-2-2-4 6 2 10 4 2 4-1 8-11-4-2zM319 722l-2 3-1 10 3 7 0-9 2-5 4-3-2-3zM335 673l-2 2 3 10-3 5-2-7-8-10-2 4 2 4-3 4 5 6 1 4-5 2 0 8 8 4 4 10 0 8-6 6 0 9-5 3 5 4 4-2 0-10 6-6 1-6 8-6 0-2-5-6-2 0-2 4-5-2 0-6-5-10 4-2 10 5 3-3 1-8 3-4 0-4-3-6-6-3zM357 827l-2 4 4 8 3-2 0-6zM361 807l0 4 2 2 2-4-2-4zM379 702l-4 7-8-3-3 5 0 8 6 12 1 16-7 4-1 28 4 4 4 8 6 2 4-2-4-12 6 1 2-3 0-8-3-16 6-16-4-14 4-12-3-6zM399 754l2 4 1-1-1-2zM409 621l-2 2-1 4 5 5 1-3zM417 734l0 3 1 2-2 10 5 4 0-6zM419 698l0 5 6 3 1-1-1-2zM857 859l-2 2 1 4 21 20 4 2 4-4 4 7 2 1 2-2-2-8-4-2-4 4-14-22-6-3zM909 424l-10 9-2 4 2 5 9-9 3-6zM309 793l-3 2 3 7 3-1 2-4-3-4zM329 789l-2 7-2 1-4-5-2 1 0 14 6 8 6-4-2-6 2-12zM339 753l-3 6 3 5 2-9zM347 756l-2 3 2 9-5 5 1 4 6 3 7-15-5-8zM359 845l-4 10-6 1-8 9-10-15-8 0-6 4-5 15 2 10 3 2 6 0 6-6 4-2 4 6 7 2 5 8 4 0 2-4-1-12 4-6-1-7 8-3-3-10-1-2zM365 867l-5 2 5 5 3-3zM387 793l-3 2 0 8 3 4 4-1 4-5-3-6zM423 787l-2 2 4 5 1-3zM343 785l-2 2 0 8 1-6 6-4zM313 893l-4 2 2 4 4-2zM321 899l-4 6 4 5 2-9zM367 878l-4 7 1 20 1 2 2-1 2-5 6 2 6 9 3 9-1 10 4 6 6 2 6 8 2-10 4 0 5 4 1-14-6-3-9 1-3-8-2 4-2 0-2-3 0-6 5-3-5-14-1-8-5-5-6 3 0 4 6 5 1 7-1 2-2 0-4-8-2 2-2-3-2-4 1-9zM343 796l2 9 6 4 2-4-1-8-5 4-3-2zM345 834l2 14-2 1-2-2-4-7-1 3 5 7 4 1 3-2 2-4-3-8zM873 171l5-2 1 4-4 8-5 2-1-4zM906 173l3 1 0 3-4 8-5 2-1-4 4-8zM1067 179l12-4 0 2-4 4-8 4-4 0zM309 189l0-14 2 1 2 4 0 12-2 1zM853 177l2 4-4 7-4 3-2-2 1-6zM1105 177l6 0 0 4-6 4-8 2-2-2 2-4zM1174 177l7 0-1 2-3 4-7 4-7 0 4-6zM927 183l2 4-4 7-4 3-2-4 4-7zM1121 185l8 1-4 5-6 4-8 0 4-6zM1099 191l6 0 0 4-6 6-5 2-1-4zM887 193l2 2-2 6-6 6-2-2 2-6zM380 205l3 0 4 5 0 9-2 2-6-4-1-6zM1151 219l8 0 0 2-10 8-8 2 2-6zM315 221l4 2 2 4 0 7-2 3-4-2-2-5 0-6zM428 223l5 0 2 4 0 6-2 1-4-3-2-4zM350 231l3 0 2 2 0 10-4 0-2-4zM1135 231l6 0 0 3-3 3 7 2 0 2-10 8-8 0 0-2 6-6-4-4zM308 245l3 0 0 8-2 1-2-2zM1168 245l7 0-2 4-5 4-4 2-7 0 4-6zM339 255l4 2 0 10-4-1-2-7zM407 259l0-5 2 2 0 4zM1192 255l7 0-1 2-3 4-7 4-7 0 4-6zM1119 261l8 0 0 2-6 4-8 0 0-2zM1151 265l8-2 2 4-9 8-9 1-4 5-6 2-2-2 2-6 8-2zM1165 267l6 0 0 6-10 8-14 2 0-2 3-2 9-2 2-2 0-4zM327 271l4 0 4 5 2 3 0 8-6-4zM378 271l5 4 2 8-2 2-4-4-2-8zM301 288l0-15 2 2 1 6-1 6zM1204 281l7 0-4 6 0 4-8 6-8 0 4-10zM357 283l2-2 2 2 1 4-1 4-2 1-2-3zM368 289l3 0 2 3 0 9-2 2-4-6zM401 295l10 0 5 4 1 4-5 0-11-6zM1201 305l8 0 0 2-12 10-5 2 1 2-4 4-6 2-2-2 4-4 0-6zM323 311l2 0 2 4-2 6-2 0-2-4zM1133 311l5 0-1 4-8 4-4 0 2-4zM1161 311l0 4-10 8-6 1-2-3-2 2-6 0 0-2 7-6 9 2 4-4zM1171 315l8 0 0 2-10 8-8 0 4-6zM301 323l2 4-2 4zM343 325l2-1 2 3-2 2zM327 327l4 2 4 11-1 11 3 14 0 4-2 2-4 0-6-4-2-12-4-6-8 0-2 4-4-2 1-12 3-1 2 3 4-4 10 2zM1163 331l6 0-2 6-6 4-8 0 4-6zM1192 331l7 0 3 4-1 2-9 6-11-2 4-6zM363 341l2 2 1 6-1 5-2 1-2-2 0-6 0-4zM1245 345l8 0 0 2-10 8-8 0 4-6zM1226 349l7 0-4 6-8 4-3 0-1-2zM376 351l5 6-4 4-2-2zM410 353l3 0 2 5-1 5-3 2-4 0-2-4 0-5zM1188 355l5 0 0 4-4 4-4 2-8 0 1-4zM303 365l4 0 2 4-6 6 0 9-2 1 0-10 2-2zM400 365l3 0 2 6 0 6-4 4-2-6zM1162 365l5-1 4 1 0 2-6 6-8 0-2 2-2 6-6 4 6 2-4 6-7 4-7 0 4-6 7-4-5-4 4-6-2-4 8-6 6 2zM363 367l2-1 4 3-1 10-5-2zM1183 369l4 0 0 2-6 10-6 4-8 0 4-6zM1217 373l6-2 2 2-7 6-5 0 0-2zM346 375l3 0 4 6 0 6-4 6 4 6 0 6-2 2-8-2-2 2 6 3 2 4 0 3-4 2-2 0-6-9-2-9 2-6 4 2-2-7 5-7zM317 377l2-1 2 3 0 12-4 4 0 6-2 1-4-5 0-6 3-2zM1185 393l10-6 2 2-2 4-4 4-6 2-2-2zM360 395l3 0 2 6 4 4 2 6-3 6-3-1-2-3 0-6-5-8zM1161 395l8 0 0 2-10 8-8 0 2-6zM1232 397l7 0-1 2-3 4-7 4-7 0 4-6zM377 399l4 1 4 5 0 10-3 2 5 10-4 6-8-18 3-4-2-8zM1141 403l4 0 0 6-6 4-6 0 0-4zM1180 405l5 0-2 4 2 2 8-2 2 0 0 2-10 8-8 0 0-2-6 0 0-4zM317 409l2-1 2 1 0 10 2 4 4-12 5-2 3 4 6 20 0 10-4 2 0 8-4 0-4-7 0-8 4-3-8-12-4 8 2 2 0 11-2 1-4-4-2-24zM353 409l4 3 3 9-4 0-3-3zM403 413l2-2 4 4 1 4-1 1-4 0zM303 415l2-2 6 3-2 13-3 0-3-5zM1153 415l8 0-10 8 11 4-1 8-16 6-2-2 2-2-3-2 1-4 8-6-8-2zM403 421l5 4-1 8-2 1-4-2-2-5zM393 425l2 0 3 4-2 6-5 0-1-4zM301 431l4 1 1 5-1 6-2 1-2-1zM1179 431l10 0-2 4-10 10-8 0 2-8zM357 449l-2-12 2 1 8 5 2 5 0 7-4-2-2 0zM462 441l4 2 3 8-1 8-5 3-2-1 0-10zM1125 455l6-2 2 4-9 8-3 1-2-4-8 5-4 0-8 8-12 4 0-2 4-4 8-4 4-6 18-4zM307 459l5-2 3 3-2 13-5-4-1-4zM360 457l3-1 2 2 1 9-3 6-4-3zM1177 459l8 0 0 2-10 8-8 0 4-6zM301 463l5 8-1 6-4 2zM323 463l4 3 2 4 0 5-2 2-6-8 0-4zM1133 467l19-4 0 2-6 6-5 2-14 0 2-4zM1115 469l6-1 0 7-10 6-5 0 1-6zM482 475l2 4-1 5-3-5zM301 483l2 0 4 6-2 6-4-1zM1213 485l8 0 0 2-10 8-8 0 4-6zM547 487l4-2 2 4 0 6-2 2-5-2zM563 498l0-11 10 8 0 8-4-7-2-1zM312 497l7 1 2 2 0 5 4 6 6 4 3 12-3 2-4-8-5 0-3-3-1-11-7-7zM390 497l1-2 4 2 2 6-2 4-4-3zM523 505l-2-10 2 2zM614 507l5-7 2 2 0 7-2 3-4 1zM517 509l6-4 4 12 1 2-3 2-6-6-6 3-7-7-1-4 8-1zM385 507l4 4 0 6-4 6 0 11-2 0-4-9 2-8-2-4zM533 513l2 1 3 5-1 5-4-1-3-4zM301 515l4 1 5 5-5 8 0 8 6 8 0 14-8 8-2-1zM313 527l4-1 4 4 0 12-4-2-4-6zM1204 529l5 0-2 4 6 2-1 2-3 4-7 4-7 0 2-4 5-4-5-3zM613 537l4 2-2 5-2-1zM656 551l5-13 1 1 1 6 4 7-6-2-4 2zM1225 543l8 0 0 2-10 8-8 0 4-6zM322 547l3 2 1 4-1 5-2 0-2-1-1-6zM1202 557l7 0-1 2-3 4-7 4-7 0 4-6zM1203 573l8 0 0 2-10 8-8 0 4-6zM301 575l2-2 1 2 1 10-4-2zM1258 575l7 0-1 2-3 4-7 4-7 0 4-6zM1179 583l6-1 2 3-6 4-8 0zM304 597l3-1 1 1-3 6zM352 597l3 0 2 4-2 6-2 1-2-2zM1187 609l6 0 0 4-8 4-6-1 1-3zM603 611l9 10-1 5-8-5-3-8zM782 613l3-2 1 2-1 4-2 1zM1192 635l13-4 2 4-12 6-6-1 0-3zM1239 631l4 3-6 5-8 2-4-2 6-6zM652 637l2 6-3 2 0-6zM693 637l4 8 0 9-3-1-4-6 0-6zM637 639l2 1 0 6-3-3zM443 647l2-2 2 4-2 4zM1207 649l8 0 0 2-4 2-9 0zM705 655l2 4 0 8-3-6zM1237 663l8 0 0 3-10 3-2-4zM460 667l5 0 2 5-6-2zM1256 681l5 2 0 4-12 0 0-4zM1189 683l14 0 0 4-4 2-14 0 0-4zM1224 685l12 0 1 4-5 2-12 0-1-4zM681 691l2-1 2 4 0 13-2 0-3-6zM1195 693l6 0 2 4-2 2-7 0-3-2zM1237 693l6-1 4 1 0 2-7 2-4-2zM1219 699l6 0 2 4-10 0-1-2zM619 703l5 4 1 3-4 0zM678 711l5-2 2 2 2 32-2 5-6-2-4-9 4-8-3-14zM1209 713l12 0 4 2 0 2-2 2-12 0-4-2zM615 724l0-8 2 3zM637 723l0 3-2 3-1-4zM645 723l3 4-1 4-3-4zM650 731l3-1 3 5 1 4-2 4-2 0-3-4zM669 735l2 5 0 5-2 0-2-4 0-4zM1263 741l13 0 5 3 0 3-13 0-5-3zM1181 747l12 0 6 4 0 2-12 0-6-4zM455 769l2 0 0 5-2-2zM1199 775l8 0 4 4-2 2-4 0-4-2zM1237 807l6 0 8 6-1 2-6 0-7-4zM623 859l1 6-3 5-2-2 0-5zM585 871l12-3 6 5 6 20 1 8-3 4-5-2-5-9-10 4-2 7-9-12-1-6 5-4 0-6zM499 873l2-2 2 1 3 15 6 4 1 14-2 1-8-1-2-2-1-6 2-6-5-10zM571 873l3 2-1 9-5-5zM611 877l2-6 1 2-1 5zM558 875l5 0 2 4 1 14-3 7-3-1-5-16 0-4zM619 875l4 12-4 15-3-7 2-8-3-8zM434 879l3 1 1 7-3 12-2-1-2-5 1-12zM533 881l8-1 4 3 5 0 1 4-6 1-4 7-8-9zM628 885l1 6 4 3 3 7-1 7-9-7 3-8zM1205 901l10 4 2 2 0 4-8-2-6-6zM599 912l-2-11 2 2 2 9zM621 903l3 2 3 8-4 0zM524 909l3 0 1 2-1 2-2 0zM617 915l2 0 3 6 4 2-1 8-4 0-4-5-2-7zM490 917l3 0 5 12 3 20 6 8-1 10 3 3 2-2 3 5-1 3-4 0-3 3-2 14-3 4-2-1-4-8-4-3-4 3-3-15-3-3-2 5 0 20-2 1-5-5 2-6-2-14 5-4 2-8 12 17 1-5 3 1 1-3 0-26-4-10-5-4-2-4zM534 917l7 0 4 6-2 3-4-1-4 10-3-8zM463 923l2-1 2 1 2 6 8 6 2 16-2 5-8-5 0-10-6-4zM473 923l2-2 2 2 0 5-2 1zM433 927l1 4-1 4-1-4zM325 931l4 0 2 2 0 6-2 2-4-2-2-4zM302 935l3 0 6 6-4 5-6-3zM338 935l3-1 1 1-1 6 2 6-2 4-4 0-2-4zM312 939l1-1 2 3-2 3zM305 949l2-1 6 7 0 5-2 3-2 0-4-4-2-6zM380 955l3 1 2 11 6 6 0 10-6-2-8-10 3-4-1-6zM542 955l3-1 1 1-1 2zM337 961l4 0 4 4 1 8-3 4-6-7zM1121 963l6 0 4 4 0 4-6-2zM370 965l3 0 0 4-3-2zM1187 967l6 0 6 4 2 6-6 0-6-4zM351 969l4-1 4 3-1 8-5 0-2-2zM981 969l4 0 6 8 0 8-4 4-4-3-4-7zM1213 971l6 0 6 4 2 6-6 0-6-4zM1118 973l9 2 4 4 0 3-8-1-6-6zM317 977l4-2 4 7 4-5 2 0 6 8 2 2 2-2 4 5 0 13-2 1-4-5-2-9-2 2-4-2-2 9 1 8-1 7-2 1-2-1-1-5 1-10-2-10-6-4zM514 989l1-8 2 2-1 8zM1171 987l9 0 5 2 2 4-10-2zM367 993l4 2 1 4 4 20-1 7-3-5 0-10-5-8-1-6zM1205 993l6 0 6 4 2 6-6 0-6-4zM1109 999l4 0 4 2 2 6-6 0-4-4zM306 1001l5 0 2 6-2 4-4-2-2-4zM493 1005l0-5 3 1-1 5zM1119 1001l2-1 7 3 3 6 4 0 4 4 0 4-4 0-3-2-3-6zM365 1011l2 0 3 6-1 8-2 2-3-8zM1161 1013l6 0 6 4 2 6-6 0-6-4zM353 1021l4 0 4 4 2 8-2 4-4-2-4-6zM797 1023l2-2 3 4 11 21 0 4-2 1-10-15zM1095 1027l6 2 6 6 4 0 4 4 1 4-14-4-5-6zM781 1043l6-7 2 2 6 12 0 5-5 2 1 10-2 10 2 6 14 14 22 31 8 17 6 6 4 2 4-2-2-10-24-35 0-4 8 7 9-6 13 10 8 2 4 4 4 10 10 10 10 15 2-5-4-11 0-6 8-5 0-10-4-8-12-16-18-12-4-10 0-6-4-2-4 6-6-4-4-8 0-5 3-3 3 0 8 2 18 16 8 20 16 20 8 16 14 10 13 28 2 0 1-5 2-1 12 14 5 0 7 4 8 11 6 13 4 4 6-2 4 2 5 10-3 1-8-5-7 0-7-6-8-2-6 2-6-2-4 6-14-8-8 2-2-8 2-6-2-8 2-10-6-12-8-9-2 9 4 7 1 7-5 2-4 6 12 20 4 4 4-2 0 4 8 13 0 11 11 18-16 0 3-2 0-4-8-18-4-4-8 3-4-3-5-12 1-14-2-6-17-24-5-4-4 2 0 11-2 3-4-2-10-11-2 7 2 3 0 15 2 4 10 10 4 0 2-4-2-13 4 4 7 15 1 2-6 0-2 2 0 6 8 18 6 6 4-4 0-8 2-1 12 15 15 8-39 0-14-17-4-9-7-8-16-24-7-14-8-3-8-8 0-3 2-2 6 4 4-2 0-10-2-4-4-4-12-4-14-20-4-4-4 0-4 6 5 12-1 2-6-2-4 4 2 6 10 10 13 6 5 11 0 11 11 14 7 12 14 14 7 0 7 4 8 16 6 6-16 0-4-3-2 3-8 0-8-6-6 2-2 4-27 0 1-6-12-23 1-9 11 12 6 4 4 0 2-2 0-12-19-26-7-16-8-8-6-12-4-18-4-8 4-8-9-16 1-14 8-3 6-9 6 2 2-2 0-8-6-16zM1185 1037l6 0 6 4 2 6-6 0-6-4zM1140 1041l4 0 11 8 0 2-3 2 2 4-1 2-5-2-7-6 1-6zM819 1047l4 1 2 5 10 10 6 10 2 8-2 1-6-5-17-28zM1012 1047l9 2 7 8-11-4zM812 1055l9 15 4 12-2 3-10-4-6-13 0-6zM1111 1055l6 2 3 4-1 2-6-2zM420 1059l5 4 1 8-1 3-4-2-2-5zM1153 1065l6 0 6 4 2 6-6 0-6-4zM971 1067l2-1 4 3 4 10-2 1-4-3zM317 1071l2-2 2 3 0 12-4-3zM1017 1085l8 2 6 4 2 4-10-2-6-4zM390 1087l5 0 2 3 2 13-2 2-7-10-1-6zM853 1091l2-1 6 3 2 5-4 1zM966 1091l1-1 6 5 10 10 5 8-1 2-10-4zM1181 1091l6 0 6 4 2 6-6 0-6-4zM377 1099l4 3 2 5 0 5-2 1-4-2-2-5zM1001 1103l4-1 6 5 4 6 0 7-2 1-6-1-7-7-2-6zM1115 1103l2-2 3 2 5 8-4 0zM964 1113l1-1 6 3 2 9-6-5zM1019 1115l2-1 3 5-3 0zM1185 1117l4 0 10 10 4 8 0 8-4 0-10-10-4-8zM413 1121l4 6-2 3-4-7zM743 1121l2-2 3 2 5 8-6 6-4-6zM1151 1125l9 0 7 4 2 4-9 0-7-4zM1134 1137l3 0 8 4 4 6-6 0-4-2-6-6zM973 1145l10 4 6 12-2 5-4-1-9-12zM762 1149l5 6-2 2-3-6zM332 1151l3 1 1 5-1 7-4-6zM1200 1153l9 2 4 5 0 3-6 4-8-2-4-5 0-3zM414 1157l2 2 0 10 4 8 1 13-4-6-3 5-3 0-4-6 0-4 2-2 6 6 1-2 0-8-5-10zM753 1159l4 6-4 4-3-4zM1221 1159l8 0 4 2 0 4-6 0zM1073 1165l8 0 4 2 2 4-8 0zM1147 1165l6 0 8 9-2 1-8-4zM1199 1169l4 2 4 6-4 0-6-6zM762 1177l5-2 4 2 9 16-1 1-6-5-10 0-2 2 10 18 0 4-2 4-6-2-4 5-10-12-1-3 4-8 7-8 0-8zM1003 1179l8 0 7 4 1 2-4 2 12 5 4 8-1 3-3 1-3-1-7-6-10-4zM826 1181l3 0 2 3 2 4-1 3-5-3-2-5zM1097 1185l8 2 6 6 0 4-4 0-4-2-4-4zM424 1193l7 0 2 14-6-4zM734 1195l5 2 0 6-8 12-4 1-6-1-4 4-2-1-3-5 1-2 12-4 4-4 2-6zM695 1201l2-5 2 3 2 6-1 2-2 0zM1138 1201l8 2 5 6-6 0-5-4zM415 1203l2-1 2 3-2 6-2 0-2-4zM954 1211l4 0 9 8 5 2 4 24-15 0-4-4-7 0-5-6-4-9 2-3 14 12 4-4-8-17zM315 1213l2 0 7 8-7 6-4-6zM1016 1213l3 2 3 8-4-2zM331 1215l4 0 2 2 1 6-3 4-4-3-1-5zM1105 1217l8 4 4 4 0 4-4 0-6-4-2-4zM425 1221l5-2 3 3-1 7-5 0-2-4zM1189 1219l2-2 6 2 4 6-2 2-6-2zM1066 1223l5 0 4 2 2 2 0 4 2 6-4 0-4-3-6-7zM431 1235l4 2 2 8-9 0zM769 1245l-2-11 17 11zM1211 1235l6 2 6 8-6 0-6-6zM704 1245l3-10 2 2 2 8zM993 1239l2-2 2 1 4 7-4 0z"/>
<path fill="#00df00" d="M455 169l9 0-3 12 6 5 5-7 0-10 367 0 0 16 2 10 2 28 4 8-1 14 0 18 4 6 3 20 0 14 4 4 10-2 4-6 16-57 10-20 4 1 75-30 44-10 17 1 32 33 2-2 0-4 9-6 7 0-2 2 2 2 6 0 8-6 8 0 6-4 8 2 9-6 7 0-4 6-7 4-3 6 2 2-2 4-18 14-6 0 2-8 10-8 0-2 8-8 0-4-9 8-21 6-14 12 28 32 10 20 2 8 2 2 4-4 7 0 6 4-1 2 2 2 16-4 4 2 8 0-4 6-8 4-6 0 0-2-14 4-6 0-2-6-6-2-2 2 2 4 0 16 2 2 2 36 2 3 2 1 7-8-7-3 0-3 5-4-5-2 10-12 6 0-2 9 8-1-2 4-12 10 8 0 0 4 4 0 6-2 16 0-4 6-6 4-8 0 0-2-2 0-16 8-4-6-4 4 2 8 0 56-4 10 2 3 7-5 5 0 0 4-9 8-9 2-19 10-31 0-3 2 15 16 10 24 28 38 30 52 12 35 2 19 2 3 0 11 2 3 2 61-2 4 0 24-2 2 0 11-2 3 0 12-2 2 0 14-2 2-2 33-2 3 0 7-8 29-2 15-16 39-14 22-10 10-17 12-1 3-8-1-10 4-16-6-16-16-4-8-8-8-4 4 2 6 0 17-2 1-8 0-4 4 2 5-1 7-8 0-9-8-4-10-6-8-6-6-12-4-6-11 0-5 6 2 2-2 0-13 6 4 2-3-2-12-6-8-4 2 2 13-2 0-6-4-2 1-7-20 5-3 6 3 2-2-1-18 9-8-4-4-2 0-8 8-6-6-6 0-2 4 6 10-6 6-4-2-4 6-4 2-22 8-11 0-4-2 1-6-2-4-4-2-4 3-13-21-7-3-7 1-1 2 1 4 21 21 4 1 4-3 5 7-9 2-7-2-11-6 0-6-2-2-4 2 0 4-16-4-4 6 0-22-4-5-6 2-5 7 5 12 0 10 3 6 11 9 3 9 13 12 20 0 6 10 6 4-2 14-4 4-16 2-24 8-2 2 2 2 6-1 6 5 6 1 7 7-7 20-14-19-6-1-2 2 14 30 0 6 4 4 12-6 4 0 6 3 24 41 10 10 8 3 4-6 10 4 6 11 0 6 10 16-2 1-10-6-1 1-1 11-2 3 4 16-2 3-16-15-4 0-10-15-6-21-14-28-2-2-6 2-6-2-8-14-6-4-8-12-12-4-2 4 2 7-8-9-6-2-5 8-2 0-16-20-6-14-5-4-2 2 3 12-1 2-4-2-6-4-2 1 0 15-10-6-3 2-2 6-3 1-4-2-14 3-4 6-4 26-18 66 1 12-6 8-5 14-17 34-11 32-2 26-203 0-5-5-5 5-15 0 0-6-5-6 6-12-3-5-4 0 0 11-2 0-4-6 0-10 4 2 11-12 1-19 4 7 8 7 5-3 4-14-3-8-10-3-4 1-2-3-4 1-2-4 0-6 4-4 3 4 1 9 3-7-1-10 8 0 2-6-6-17-10-3-12-12 2-11 3-3-3-2-2-6 4-12 6-4 1 16 8-4 2-16-3-12 1-2 3-1 3 3 1 8 6-1 4-5 4 4 2 6-1 10 4 6 1 10 2 1 4-5 4 0 1-2-4-10 6-6 1-6-2-6 3-8-1-13 6 1 2 7 6 3 8-8 0-10-4-4-4 0-1-2 4-8-1-12 2-3 3 3 4 24 7 4 1 8 7 13 2 1 4-4 4 10 6 5 15-11 1-10-4-11-4 1-1-2 1-3 4 1 1-4-4-16 1-4 6 10 9 6 0-18 3-5 8 12 1 11 5 8 4-2 2 1 8 22 2 0 4-9-5-16-5-4-3-6-2-10 3-8 6 13 7 1 3 3 2-1 2 12 4 8 3 0 1-4-1-16-3-7-5-3-2-4 1-8 4 1 1-3-5-8-4-10 1-10 4-6 7 4 4 0 10 15 4-4 4 4 4 0 2-1 4-11 10-4-2-16 4 0 2 6 6-7 4 10 2 0 3-2 1-6 4-2 5 16 0 8 9-2 0-4-5-6-2-10-5-4-6-14 2-12 7-10-3-12-8-8-1-8-5-8-2 1-5 11 3 6 4 0 1 6-9 3-3 11-3 3-8-9-4-12 0-11 6 10 4 0 0-3 0-3-4-3-4-11-3-1-1 9-2-5-8-3-6 11-2 0-1-4 1-12 2-5 4-2 4 1 8 7 8-8 8 5 6 1 4-3 4 3 6-5 5-10 3-26 3-2 1-4-6-12-8-9-6 4-2-1-2-20 2-1 4 5 4-8 4 5 4-4 8 4 4 5 4 0 4 5 1-7-5-13-1-11 1-1 6 4 1 13 7 9 1-9 5-10-2-6-12-12 0-6 3-4-5-10-4-6-6 5-2-5-1-12 1-4 4 2 6 12 2-4 0-16-9-10 4-12 3-4 4-1 4-4 2 3-1 10 3 10 6 4-1-20-3-10 2-6 3 2 5 12 4 0 4-4 8 15 3-3 5-15 2-1 2 4 2 0 1-4 3-1 2 1 3 12 3 4 2-1 4-15 1-16 7-2-3-6 5-10-2-6 0-20 4-1 6-13-8-14-6-5-4 2-6-4-4 5-4-9-4-3-6 5-10-5-3 6-3 0-4-4-2-8-6 3-3-17-7-8-2 3-2-2 0-7-6-10-2 0-3 4 4 6-2 12 2 4-1 2-14-26-3 4-1 9-10-8-6-13 3-12-3-14-6-6-4-8-6-4-2 2 3 6-1 8-2 0-6-4-7 12-3 1-9-5 1-18-2-13-2-1 0 16-2 2-6-5-6 6-5-3-3-5-2 0-4 9-10 1-2 3 0 4 5 12-1 4-2 1-1-7-3-1-8 5 0-8 5-8-1-8 2-1 4 2 2-7 8-6-14-18-3 2-1 8 2 15-4 3-4-3-3-9 4-14-1-8-3-10-7-10 0 7 3 9-9 1-2 3 2 8-2 4-3-2-3-6-4 6-4-10-4-3-2 0-3 5 1 8-6-4-4 2-1 4 4 14-3 13-2 1-5-6 0-12 3-6-2-6-4-4 2-16-7-8 0-12 6-8 0-6-3-4-4 3-2-14-8-6-2 3 5 6 2 10-5 3-1 3 6 12 0 6-3 0-6-6-2 8-2 1-2-1-4-6-1-10-5-11-2 1-2 16 1 4 5 4 5 12 1 12 4-2 3 4-3 8 2 8-2 3-4-7-4-1-2-5-2 0-2 6-6 5-4-3 2-28 4 2 0-2-8-11-4-16-6-4-2 3 2 8-4 15-3-3-3-11-6-2 6 24-4 1-6-8-2-9-2-2-2 1-3 6 6 8 3 16-2 1-10-6-2 3 2 22 6 6 4-1 4 7-2 23-6-3-3-4-2-20-3-6-7 8 1 15-2 0-1-7-9-4 5-10-5-2-6-6 0-12 4-1 4 6 2-1-2-13 4-3 4 6 3-8-1-5-4 5-4-4-3-8 5-6 3 2 5 9 2-1 1-2-4-6 0-12 15-10-1-8-3-6 1-10-5-8 4-2 4 3 9-9 2-8-1-8-4-5-10 0-16 8-2-2 3-15 3-6 4-1 6 1 4 4 3-6 3-10-6-4-1-14 13 3 6 13 0 8 4 6 0 7 2 3 1-2-3-8 3-6-1-8 5-10-2-10 1-8-4-9-8-3-1-18 1-3 11-5 2-8-9-14 0-16-5-10 7-14 2 0zM475 308l-3 7-5-4-1 6 0 10 9 6-2-12 5-6zM495 319l-2 2 0 11 8-5 6 8 3 0 1-4-2-8-2-2-4 4-2-1zM525 415l-1 2 1 3 2-1zM551 389l-1 2 1 4 1-4zM561 395l-2 2 2 4 1-2zM575 366l-2 3 2 5 2-3zM587 432l-2 5 4 2 1-6zM595 400l0 7 3 10 5 3 1-7-2-10-1-2zM605 387l-1 2 1 3 2-3zM741 539l-2 2 1 4 3 2 0-6zM769 534l-2 5 2 12 2 4 4 2 2-2 1-6-5-12zM779 519l-1 2 1 7 1-3zM809 658l-4 7 6 6 0-10zM815 299l-4 2 0 8 2 4 4-10zM819 333l-3 6 1 1 6-5zM851 331l-8 6-1 4 3 4 4-1 4-5 1-4zM881 329l-10 4-8 6-15 14-2 4-3 12 3 10 11 6-3 22 17 12 3-2 0-10 4-6-6-16-8-6 9-20 4-6 6-1 4 2 4 0 7-9-4-16zM901 322l-4 3 4 3 2-4zM913 279l-3 2-3 6 2 5 4-2 5-7-1-2zM925 389l-5 4 3 4 4-4zM975 868l-1 1 5 13 0 9 2 4 12 14 4 10 8 7 2-7-6-14-10-15 0-7zM835 971l-6 2 2 3 4 1 2-2zM915 1101l-2 4 4 8 4 3 2-9-6-6zM463 1105l-1 4 1 13 4-11zM499 1152l-1 3 1 3 2-5zM513 1058l-4 6-4-3-4 4 6 21 4 2 2-2 6 0 6 6 8-3-1-8 3-5 7-5 1-4-4-3-4 0-4-4-4 2-4-5-5 4 1 14-5-6zM579 1071l-4 0 1 2 3 2zM613 1020l0 3 2 3 1-3-1-3zM643 999l-3 2 3 6 2-2zM703 932l-1 1 1 5 1-3zM701 786l-2 3 2 5 1-3zM711 929l0 4 2 3 1-5-1-2zM713 801l-1 2 3 4 0-4zM717 904l-3 5 1 8 8 18 9 14 5 2 8 13 8 5 9 10 2 6-1 16 2 2 4 1 3-5 0-24 9 7 3-3-1-4-4-6-6-3-4 6-8-11-10-1-6-9-8-1-9-35-3-5zM731 864l-2 3 1 4 3 5 2-1 0-4zM737 726l-7 11 7 4 1-6 3-1 1-3-3-5zM747 684l-3 5-2 10 5 3 6 9 1 4-1 2-4-5-3 3 3 18-5 16 7 20-2 12 14 22 2-1 2-2 4 1 2-2-3-6 0-6-3-4-10-3-3-9 7-14-3-18 4-12 2-24-6-14-7-5zM769 702l-1 13 5 12 6-6-4-1-2-3 0-10zM771 679l-1 4 3 3 1-3zM787 682l-6 7 0 8-2 4 4 10 3-2 0-6 6-4-3-6zM795 672l0 5 4 1-1-5zM803 716l0 5 0 1 2-3 0-3zM439 399l0 4 0 4 2-2zM443 316l-1 5 3 6 1-6-1-4zM493 345l-1 2 1 3 2-3zM499 352l-2 5 2 3 2-1 2-4-2-3zM575 381l-1 4 5 14 2-2 0-3zM605 434l-10 3 0 4 8 10 8 4 0-6-4-12zM807 689l-1 2 1 1 2-3zM821 385l-9 14 0 6 3 4 6-4 6-12 0-8-2-1zM843 858l-2 3 2 2 6 2 3-2-3-4zM849 486l-6 5 0 6 2 2 6-10zM859 499l-6 8 4 3 4-3 2-6zM873 497l-10 14 2 5 10-11 1-6zM899 395l-13 30 3 7 6-3 16-26 0-4-2-2zM749 1003l0 8 6 4-2-7zM747 941l0 4 2 3 1-3zM773 765l-3 10 4 10 7 5 6-1 2-7 4 0 0-3-2-2-4 3-6 0-2-13zM783 761l-2 4 2 1 1-3zM783 746l-1 3 3 1 1-3zM795 753l-1 4 1 3 1-3zM817 977l-4 2-2 8-8-4-2 2 3 12 4 6 7 6 4 0 4-6 6 4 4-4 0-6-9-16zM909 423l-12 14 2 5 7-5 5-8 0-4zM874 171l3-2 2 4-4 7-4 3-2-4zM907 173l2 2 0 2-4 8-5 2-1-4 4-8zM1067 179l12-4 0 2-4 4-8 4-4 0zM309 177l2-1 2 5 0 10-2 1-2-3zM853 177l2 2-2 6-6 6-2-2 2-6zM1105 177l6 0 0 4-7 4-7 1-2-1 2-4zM1174 177l6 0-3 6-7 4-6 0 3-6zM437 181l4 2 6 8-1 2-3 0-8-8zM927 183l2 2-2 6-6 6-2-2 2-6zM1122 185l7 0-2 4-5 4-4 2-7 0 4-6zM1099 191l6 0 0 4-6 6-5 2-1-4zM884 195l3-2 1 4-1 4-6 6-1-4zM381 205l2 0 4 5 0 9-2 2-6-5-1-7zM1151 219l8 1-4 5-6 4-8 1 2-5zM315 221l4 2 2 5-2 9-4-2-2-6zM428 223l5 0 2 4 0 6-4 0-2-2-2-4zM350 231l3 0 2 3 0 9-3 0-3-4zM1135 231l5 0 1 3-3 3 7 2 0 2-10 8-8 0 0-2 7-6-5-4zM308 245l3 2 0 6-2 1-2-3zM1168 245l7 0-1 2-3 4-7 4-7 0 4-6zM1192 255l6 0-3 6-7 4-6 0 3-6zM338 257l3-2 2 3 0 9-4-2zM1119 261l8 0 0 2-6 4-8 0 0-2zM1151 265l8-2 2 4-9 8-9 1-4 5-6 2-2-2 2-6 8-2zM1165 267l6 0 0 6-10 8-13 2-1-2 3-2 11-4 0-4zM328 271l3 0 4 5 2 4 0 6-4-1-4-6zM379 271l4 4 2 6-2 4-4-5-1-7zM301 288l0-14 2 2 0 5 0 6zM1204 281l6 0-3 6 0 4-8 6-8 0 4-10zM358 283l2 0 2 4-1 3-2 1-2-2zM368 289l3 0 2 4 0 7-2 2-4-6zM401 295l8 0 8 6-1 2-3 0zM1201 305l8 1-4 5-13 8 1 2-4 4-6 2-1-2 3-4 0-6zM1133 311l5 0-1 4-8 4-4 0 2-4zM322 317l1-6 2 0 2 4-2 6-2 0zM1147 318l14-7 0 4-10 8-6 1 0-3-4 2-6 0 0-2 7-6 3 0zM1171 315l8 1-4 5-6 4-8 0 4-6zM301 323l2 4-2 4zM327 329l2-2 2 2 4 11-1 11 3 14-2 5-4 1-5-4-3-12-4-6-8 0-4 4-2-2 0-10 1-2 3 0 2 3 4-5 10 2zM1164 331l5 0-2 6-7 4-7 0 4-6zM1192 331l7 0 2 2 0 4-10 6-10-2 4-6zM361 343l2-2 2 2 1 4-1 7-2 1-2-3zM1245 345l8 1-4 5-6 4-8 0 4-6zM1226 349l7 0-4 6-11 4-1-2zM377 351l3 6-3 4-1-4zM410 353l3 1 2 5-2 6-2 0-3 0-3-4 0-4zM1188 355l5 0 0 2-4 6-4 2-8 0 1-4zM423 363l2-1 6 3 0 15-6-4-3-7zM304 365l2 0 3 4-4 4-2-1zM399 367l4-2 2 5 0 7-2 3-2 0-2-5zM1162 365l5-1 4 1 0 2-6 6-10 0-2 8-6 4 5 2-1 4-9 6-6 0 3-6 7-4-5-4 4-6-2-4 4-4 6-2 4 2zM363 367l4 0 2 2 0 9-1 1-5-2zM1183 369l4 0 0 2-6 10-7 4-7 0 4-6zM1217 373l6-2 2 2-7 6-5 0 0-2zM301 375l2 1 0 5-2 4zM346 375l5 2 2 5 0 5-4 6 4 6 0 4-2 4-8-2-2 2 5 2 2 4 1 4-4 2-4-4 0-6-2 2-2-2-1-8 1-6 4 4 1-2-1-4-2-2 6-8zM317 377l2-1 2 3 0 12-4 2 0 8-2 1-4-5 0-6 3-2zM1193 387l4 2-2 4-4 4-6 2-2-2 2-4zM416 391l4 0 3 5 1 7-3 4-4-2-2-4zM360 395l3 0 2 6 4 4 1 6-2 6-5-4 0-6-4-6zM1161 395l8 1-4 5-6 4-8 0 4-8zM1232 397l6 0-3 6-7 4-6 0 3-6zM379 399l6 7 0 9-3 2 4 10-3 6-7-18 2-4-2-8zM1141 403l4 0 0 6-6 4-6 0 0-4zM1181 405l4 0-2 6 8-2 4 0 0 2-10 8-8 0 0-2-6-1 2-5zM317 409l2-1 2 1 0 10 2 4 4-12 4-2 4 4 0 4 4 6 2 12 0 7-5 3 0 8-3 0-4-8 0-6 4-2 0-2-8-12-4 8 2 2 0 10-2 2-4-4-2-24zM353 417l0-8 4 3 2 9-2 0zM403 413l2-1 2 1 2 7-4-1zM303 415l2-1 5 1 1 2-3 12-3-1-2-4zM1153 415l8 0-10 8 11 4-1 8-16 6-2-2 2-2-3-2 1-4 8-6-8-2zM400 427l3-6 5 4-1 8-2 1-4-2zM393 425l5 4-2 6-4 0-2-4zM301 431l4 1 1 5-1 6-2 1-2-1zM374 431l6 2 1 6 6 7-1 11 3 8-4 8 0 6-2 1-8-12-1-7-3-6 0-7 2 0 4 6 4 13 3-10-5-7-1-7-5-6zM1179 431l9 0 0 2-11 12-8 0 2-8zM357 449l-2-11 2 0 6 3 4 7 0 7zM438 455l1-1 2 3-2 4zM553 459l4-6 0 10 5 10-1 3-7-5zM1125 455l6-1 2 3-9 8-3 1-2-4-8 5-4 0-8 8-12 4 0-2 4-4 9-4-1-2 4-4 18-4zM310 457l5 3-2 12-2 0-4-7 0-6zM359 459l4-3 2 3 1 8-3 6-4-4zM346 459l3 1 6 10 4 15 6-2 2-3 4 1 3-4 5 3 4 25-4 4-2 7-4 1-4 8-4 3-1 3 1 6 8 8 4 12 0 2-6-3-4 0-4 3-1 4 7 10 4 2 3 10 7 12 6 0 4-6-2-14 3-4-1-11 4-3 6 5 1-3-1-6-4-2 1-4-2-6-7-7 0-17 6-5 4 4 6 1 3-4 1-12 2-1 5 1 3 17 6 3 4 18-1 8 2 4-1 8 3 6 0 4-3 3-5-17-4-22-3-4-2 2 0 10-6 5-6-5 0-8-2 12 2 6 6 2 6-9 5 13 0 8-5 10-6-17-3 3-2 12 5 4 6-2 4 5 10-6 6 11 4 14-4-1-4 1-6 12-6 19-6-7-2-8-2-1-8 7-6 1-2 7 3 6 4 0 3-3 8 4 7 11 0 10-2 6 2 12 1 3 4 3 3 14-1 2-4-6-2 0-4 3-1 5 7 10 4 0 2 2 0 8 4 8-5 6 0 4 5 14 5 6-1 6-10-6-8-29-8 1-1 4-3 2 0 9 2 0 4-6 1 9 12 18-3 14-6-1-6-5-3 2 0 4 17 18 3 0 3-6 4 2 1 10 4 8-7 13-7-3 7 16-6 6 2 14-6 8-4 13-4 0-4-2-4 1-6-7-1 7 2 6-2 6 2 16 1 1 4-4 4 2 4-4 3 5-3 8-4 2-2 8-2-4-10 4-2-2-2-11-1 7-3 1-2-8 5-3-6-24-5-4-7 4 1 4 6 5 1 7-1 2-2 0-4-8-2 1-2-2-2-5 2-8-4-4-5 10 2 18 1 3 6-7 4 3-2 14-4 1-6-5-2 1 0 2-12 2-4 3-7-15-7-4-4 2 2 10-2 10-10 2-4-7-6-3-2 2 3 6 1 8-4-2-4-4 0-26 3-2 2-4-5-7 0-32 3-1-3-4 0-43 4 2 1-3-5-5 0-184 4-1 2-9 4 17 2 2 3-2 1-8 5-4 1-6 4 4 2 0 1-8-6-18 8-12-2-6 1-9 5-1 3 2 1 4-3 8 4 2 3 6-1 9-2 3-4-2-4-7-3 3 1 6 4 3-1 9 3 4 2-7 4 1 3 14 7 6 4-2 6-8-2-7 4-5-6-10-1-14-5-3-1 1 3 8-2 6-3 0-3-4 0-10 4-2-2-4 5-8 0-6-7-8-1 2 3 4 0 7-4 4-6-11-5-16 1-6 2-1 4 9 2 0 3-2 1-16-4-4-2 2-4 0-2-8 2-14-4-8 2-6-1-12 1-2 2 1 4 7 4-6zM349 482l-6 3 0 6 2 3 2-7 4-2zM359 508l0 3-4 1-2-2-1 3 3 2 4-2zM367 614l-3 5-4 16 0 14 5 5 3-3 7-12-2-4-1-8 1-1 4 4 1-3-7-13zM379 661l-2 4 1 6 3 3 4 0 3-3 0-6-3-2-2 1zM387 633l0 10 8 40 2 2 3-6-1-8 2-12 6 8 1 8 1 1 2-1-3-24-1-3-2 0-4 10-4-6-3-13-5-6zM403 571l-2 2 2 3 2-1zM407 531l-2 4 4-1 3 1-2-4zM411 797l0 8 2 2 2-4zM417 832l-2 6-2 1-2-2-1 2 9 6 2-6zM431 806l-2 5 2 4 2-2zM305 754l-2 7 3 4 3 1 3-3 0-6-3-3zM311 651l-4 2-1 4 5 9 4-2 1-3 0-6zM329 630l-4 3 2 3 0 8-4 1-2-2-1-8-3-2-2 2-1 8 3 8 10 0 4 8 4 2 3-2 0-4-5-6 2-6-4-8 0-4zM353 712l-5 3 7 5 1-5zM357 734l-3 5 5 5 2-1-1-8zM379 702l-4 6-2 0-4-4-4 2-2 5 1 8 6 12 0 14 0 2-5 2-2 2-1 28 9 12 6 3 5-3-4-8 0-4 5 1 4-5-1-8-3-14 2-10 3-6-4-14 4-12-3-6zM389 784l0 7-5 2-1 4 1 8 5 2 5-2 1-4-4-8 1-6zM393 743l-2 4 2 14 2 2 4-3 1 5-3 0 0 4 6 0 3-6 0-6-5-6-5-2zM403 698l-1 5 4 4 1 9 2 2 3-3 0-12zM307 792l0 7 2 4 2-1 3-3 0-4-3-3zM315 816l-2 7-6 2-2 6 2 8 4 3 4-1 9-12-5-2zM323 672l-2 3 2 6-4 4 6 8-5 6 0 4 2 4 7 3 4 9 0 6-2 5-4 3 0 8-4 3-3-3-1-6 2-6 4-4-2-3-4-1-3 4 0 12 7 10 6 3 3-3 0-10 5-6 2-6 6-4 2-4-8-7-2 5-2 0-2-2-1-6-4-10 3-1 8 4 4-1 5-18-2-6-7-3-4 0-2 3 2 6 0 6-2 2-2-6zM357 827l-3 4 5 8 3-2 1-6-2-3zM363 805l-3 4 3 4 3-4zM377 844l-1 3 3 5 1-7zM397 836l-2 4 6 13 2-1 3-7-3-4-4 0zM329 788l-2 8-2 0-6-6-1 3 1 16 4 2 2 5 4-2 2-3-2-6 2-10zM339 753l-2 2-1 4 3 6 2-10zM347 755l-2 4 2 8-2 4-2-1-1 3 1 4 6 4 7-16-5-8zM361 844l-5 3-1 7-6 1-8 9-10-14-8 0-6 3-3 4-2 12 2 10 3 3 6-1 10-7 4 5 6 2 4 6 4 3 4-3-1-14 3-3 2-1 6 5 4-2 4 5 4 1 1-5-11-8-8 4-2-4 1-6 5-1 2 2 0-9zM395 873l-2 0 0 2 2 0zM343 784l-3 3 0 8 5 11 6 4 3-5-2-8-1-1-4 5-5-6 0-6 7-4zM313 892l-5 3 3 4 4-2zM321 899l-3 2-1 4 4 6 3-12zM349 836l-5-1 3 6 0 7-2 0-2-1-4-8-1 4 5 8 4 1 4-3 1-4zM1177 459l8 1-4 5-6 4-8 0 4-6zM1133 467l19-4 0 2-6 6-5 2-14 0 2-4zM301 479l0-16 5 8-2 6zM321 465l2-2 4 3 2 7-2 3-4-3zM1115 469l6-1 0 7-10 6-5 0-1-2 2-3zM497 479l3 4 1 10-2 2-2-1-4 10-4-5 3-4 4-2zM301 494l0-11 2 0 4 6-2 6zM1213 485l8 1-4 5-6 4-8 0 4-6zM313 497l6 1 2 7 6 8 4 2 2 12-2 2-4-9-4 1-4-3-1-11-7-8zM391 504l0-8 4 1 2 6-2 3zM631 497l3 0 9 10 6 22-2 6-7-6-7-18-4-3zM425 509l6-5 4 5-2 10-2 2-3-2zM593 505l4-1 0 3-2 10-4 4-1 14-9 12-2 0-5-6 1-8 4-8 10-10zM664 507l3 3-2 4-3-3zM380 513l5-6 4 4 0 6-4 6 0 10-4-2-2-6 2-6zM511 509l3 2 0 4-4-2-1-2zM561 511l2-2 2 1 4 5 0 8-4 3-3-1-2-6zM301 515l5 2 4 4-5 10 1 8 4 4 1 16-8 7-2 0zM313 527l4-1 4 4-2 11-6-8zM687 527l2 2-4 29-2 0-2-5 0-16 2-7zM1204 529l5 0-2 4 5 2-1 4-9 6-6 0 1-4 5-4-5-2zM670 535l3-1 1 5-1 6-2 0-3-6zM723 543l2-1 0 6-3-1zM1225 543l8 1-4 5-6 4-8 0 4-6zM321 549l2-2 2 2 0 9-4-2zM1202 557l6 0-3 6-7 4-6 0 3-6zM1203 573l8 1-4 5-6 4-8 0 4-6zM301 575l2 0 2 8-4 0zM1258 575l6 0-3 6-7 4-6 0 3-6zM1179 583l8 0-6 6-8 0zM304 597l3 0-2 5-1-1zM352 597l3 0 2 4-2 6-2 0-2-2zM1187 609l6 0 0 3-8 5-6-1 1-3zM1192 635l13-4 2 4-13 6-5-2zM1232 633l7-2 4 2-7 6-7 2-4-2zM1207 649l8 0 0 2-4 2-9 0zM770 653l3 0 1 2-1 5-3-1zM426 661l9 3 0 8-6-3zM1237 663l7 0 1 3-6 3-4 0-2-4zM1189 683l14 0 0 4-4 2-14 0 0-4zM1250 683l7-2 4 2 0 4-12 0zM1224 685l12 0 1 3-5 3-12 0-1-3zM705 691l2-1 2 1-2 3zM1195 693l6 0 2 4-3 2-5 0-4-2zM1237 693l9 0 0 2-7 2-3-2zM435 697l4-2 2 9 8 2 0 6-10-2-4 2zM754 701l3-2-2 5zM1219 699l6 0 2 4-10 0-1-2zM1210 713l11 0 4 2 0 2-3 2-11 0-4-2zM653 739l0-5 2 3zM1263 741l13 0 5 3 0 3-13 0-5-3zM1181 747l12 0 4 2 2 4-12 0-6-4zM705 759l2 2 0 5-3-3zM1199 775l8 0 4 4-2 2-4 0-4-2zM1237 807l6 0 8 6-2 2-5 0-7-4zM594 871l3 0 4 4 1 12-1 3-4-1-6 3 0-7-3-10zM499 881l2-7 2 1 0 11-2 0zM558 879l3-1 2 4 2 11-2 3-6-13zM578 889l3-2 2 2 0 4-4 0zM506 893l3 1 1 3-1 2-4 1-1-1zM605 893l2 6-2 3-2-7zM1205 901l10 4 2 2 0 4-8-2-6-6zM378 919l-1-11 2 2 4 10-1 11 5 7 6 2 6 8 2-11 4 0 4 5 2-1 2-10 4 2 2-2 5 2 5 22-2 1-4-2-4 7-12-6-4 2-6-3-6 4-4-5-7-2-3-8-2 1-4-1-4 6 2 6-6 2-2-1-4-5-3-10 1-2 8 5 0-9 2-4 4 0 2 4 3-2-7-10 6 3 4-2zM433 909l2-1 2 3 0 3zM923 909l2-1 12 5-2 4 8 14 4 4 4-2 4 6 4 9 0 3-2 2-10-6-16-21-1-7-7-3zM940 915l5-5 4 5 6 0 2 3 0 8-8-6-2 2-2-1zM566 919l3 0 2 8-2 3-4-2-1 1 1 16-2 3-3-7zM581 923l2-1 4 4 2 9-1 10-5 6-3-2-2-16zM522 925l3 0 5 16-3 10 4 2 4 10 2 14-1 8-3 3-2 0-5-9 3-14-11-34zM325 931l4 0 2 2 0 6-2 1-4-1-1-4zM454 933l3 1 0 3-2 0zM301 936l6 1 3 4-3 5-6-3zM339 935l3 0-1 6 2 4-2 5-2 1-2 0-1-4zM313 939l1 2-1 2-1-2zM635 943l2 6-2 4-2-6zM305 949l2 0 6 6 0 4-2 3-2 1-4-5-1-5zM453 965l2-15 6 3 2 4-10 23-6-10-1 1-1 10-4 4-4 9-12 0-2 9-2 0-4-7 0-5 0-4 4 0 0-6 4-2-4-9 1-5 1-2 4 2 4 9 2-4 4 11 1 0 1-14 2-2 4 2zM497 961l2-9 2 1 4 6 1 14-3 6-3-4zM380 955l3 1 2 5 0 6 6 6 0 10-2 0-6-4-5-8 2-4-1-8zM605 955l2-1 4 8 6 1 0 4-2 2-9-2zM561 959l2-1 1 5 10 12 1 8 4-15 2 3 2 24-4-1-4 2-6-5-6-12zM337 961l4 0 4 4 1 8-3 4-6-7zM1038 961l3 0 4 4-1 8-3-1-4-7zM1121 963l6 0 4 4 0 4-8-4zM521 967l2 2 0 3-2-3zM1187 967l6 0 6 4 2 6-6 0-6-4zM351 969l4-1 3 3 1 6-2 2-4 0-2-3zM982 969l3 0 6 9 0 7-4 3-4-2-4-7zM1213 971l6 0 6 4 2 6-6 0-6-4zM1118 973l9 2 4 4 0 3-3 1-5-2-6-6zM317 977l2-2 2 1 4 7 2-1 2-5 2 0 4 4 2 6 4-1 4 5 0 11-2 2-4-5-2-10-2 2-4-1-2 9 1 10-3 6-3-6 2-10-3-8 1-6-1-1-2 3-2 0-2-3zM460 979l3 0 3 4-1 4-2 1-3-3zM499 985l2-1 1 1-1 6zM1172 987l8 0 5 2 2 4-10-2zM367 993l4 2 5 24-1 6-3-4 0-10-2-6-3-2zM1205 993l6 0 6 4 2 6-6 0-6-4zM1109 999l4 0 4 2 2 6-6 0-4-4zM307 1001l4 1 1 5-1 3-4-1zM537 1001l3 4-1 6-3-2zM1120 1001l1-1 7 3 3 6 4 0 4 4 0 4-4 0-3-2-3-6zM365 1013l2-2 3 6-1 8-2 2-2-2zM1161 1013l6 0 6 4 2 6-6 0-6-4zM541 1017l4 6-2 2-3-2zM555 1019l8 22 4 3 0 6-11-1-4-16zM354 1021l3 0 4 4 2 8-2 3-6-3-2-4zM798 1023l4 2 4 12 5 6 2 4-2 3-10-15zM429 1025l1 4-1 2-1-2zM1096 1027l5 2 6 6 4 0 4 4 1 4-14-4-5-6zM427 1031l5 18-1 2-7-12zM786 1037l3 2 6 12-1 4-5 2 2 10-2 10 2 6 14 15 22 31 12 21 6 3 4-2-2-10-19-28-5-11 8 7 8-6 8 4 6 6 10 4 6 12 20 25 2-5-4-17 8-5 0-10-4-8-12-16-18-12-4-10 0-6-4-2-4 6-5-4-5-13 2-2 4-1 8 3 16 13 10 22 20 27 4 9 14 11 12 27 2 1 1-1 3-6 12 14 4 0 8 4 16 26 2 2 6-1 3 1 5 10-4 0-6-4-6 0-8-6-8-2-6 2-6-2-4 6-14-8-8 0-2-6 2-6-2-8 2-10-6-12-8-9-2 9 4 7 1 7-5 2-4 6 12 20 4 4 4 0 4 7 4 9 0 10 11 18-15 0 2-2 0-4-8-18-4-4-8 3-3-3-6-12 1-14-2-6-17-24-5-4-4 2 0 10-2 3-4-1-10-11-2 7 2 4 0 14 2 4 8 9 6 1 2-4-2-13 4 4 6 12 1 5-5 0-2 2 0 6 8 18 6 6 4-4 0-6 2-3 12 15 14 8-38 0-14-17-4-9-23-32-7-14-8-3-8-9 0-3 2-1 6 4 4-2 0-10-3-6-14-6-14-20-5-4-4 0-4 6 4 12-6 0-4 4 3 8 7 7 15 7 5 12 0 10 19 28 13 12 6 0 8 4 8 16 6 6-16 0-4-4-2 4-8 0-8-6-6 2-2 4-27 0 1-6-8-14-4-14 2-3 10 12 6 3 4 0 2-2 0-12-19-26-7-16-9-10-5-10-4-18-3-8 3-8-9-16 1-14 8-3 6-8 6 1 2-2 0-8-6-16 6-3zM1185 1037l6 0 6 5 2 5-6 0-6-5zM453 1039l2-2 1 2-1 4zM1140 1041l4 0 9 6 2 4-3 2 2 4-1 1-5-1-7-6 1-6zM449 1047l6 2 2 5-6 1zM820 1047l19 23 4 11-2 1-5-5-18-28zM1012 1047l9 2 6 8-10-4zM1111 1055l6 2 3 4-1 2-8-4zM807 1063l6-8 8 16 4 12-2 2-9-4-7-14zM421 1059l4 4 0 11-4-3-2-5 0-5zM1153 1065l6 0 6 4 2 6-6 0-6-4zM972 1067l6 4 2 8-6-4zM317 1071l2-1 2 3 0 11-2 0-2-4zM1017 1085l8 2 6 4 2 4-10-2-6-5zM391 1087l4 0 2 5 0 11-6-6-2-6zM854 1091l7 3 2 3-4 1zM966 1091l7 4 10 11 4 8-10-4-10-15zM1181 1091l6 0 6 4 2 6-6 0-6-4zM377 1099l4 3 2 5 0 4-2 2-4-3-2-5zM1001 1103l6 0 7 10 1 6-2 2-6-1-7-7-2-6zM1115 1103l2-1 3 1 5 8-4 0zM964 1113l7 3 2 7-6-4zM1019 1115l2-1 3 5-3-1zM1185 1117l4 0 10 10 4 8 0 8-4 0-10-10-4-8zM743 1129l2-9 4 2 3 7-5 5zM1151 1125l9 0 7 4 2 4-8 0-5-2zM1134 1137l11 4 4 6-6 0-4-2-6-6zM975 1145l9 6 4 10-1 4-4-1-9-11-2-6zM332 1151l3 2 1 4-1 6-4-6zM765 1157l-2-8 3 6zM1200 1153l9 2 2 2 2 4-2 4-6 2-8-4-2-6zM413 1159l2-1 1 1-1 11-4-7zM1221 1159l8 0 4 2 0 4-6 0zM750 1167l3-8 2 2 2 4-4 4zM1073 1165l8 0 6 6-8 0zM1147 1165l6 0 8 9-2 1-8-4zM1199 1169l6 4 2 4-4 0-2-2-3-4zM417 1183l0-12 2 4 2 14zM762 1177l5-2 3 2 8 14-5-2-12 1-1-9zM407 1179l2-1 5 3 2 4-2 4-5-2zM1003 1179l7 0 8 4 1 2-5 2 13 6 4 8-1 2-6 0-9-7-8-3zM826 1181l5 3 2 5-2 2-4-4-2-4zM1097 1185l4 0 6 4 4 4 0 4-4 0-6-4-4-5zM759 1191l11 16 1 4-2 5-6-1-4 4-11-12 4-10zM425 1193l6 1 2 13-6-4zM696 1197l5 8-2 2-4-6zM731 1197l6-2 2 6-8 14-2 1-8-1-4 4-2-1-2-2 0-5 14-6zM1138 1201l5 0 6 4 2 4-6 0-6-5zM415 1203l2-1 2 3-2 6-4-4zM954 1211l4 0 14 10 4 24-15 0-4-4-6 0-5-6-5-10 2-2 14 12 4-4-8-18zM1017 1213l4 6 0 4-3-2zM314 1215l3-2 6 6 0 4-6 3-3-5zM331 1215l3 0 3 2 0 9-2 1-4-3zM1105 1217l8 4 4 4 0 4-4 0-6-4-2-4zM427 1219l3 0 3 4-1 6-4 0-3-4zM1189 1219l2-2 6 2 4 6-4 2-4-2zM1066 1223l6 0 5 4-1 4 3 6-4 0-4-3-6-7zM433 1235l3 4 0 6-8 0 2-8zM767 1235l14 8 2 2-14 0zM1211 1235l6 2 6 8-6 0-6-6zM704 1245l3-9 2 2 2 7zM994 1239l3-1 4 7-4 0z"/>
<path fill="#00ef00" d="M456 169l7 0-2 6-2 0zM473 169l366 0-1 16 3 10 1 28 5 8-2 14 0 18 7 28 0 12 5 4 10-2 3-4 17-58 10-20 4 0 75-30 33-8 26-2 26 24 8 10 2-2 0-4 9-6 6 0-1 2 2 2 6 0 8-6 8 0 6-4 5 0 0 4-5 4-8 4-12 2-9 6-9 8 27 32 11 21 2 8 2 1 4-4 6 0 7 4-1 2 2 2 16-4 4 3 8-1-4 6-8 4-6 0 0-3-14 5-6 0-2-6-6-2-2 2 2 5 0 15 2 3 2 35 2 3 2 1 7-8-7-3 0-3 5-4-5-2 10-12 6 0 0 4-3 4 8 0 0 2-13 13 8-1 0 4 8 0 2-2 16 0-4 6-6 4-8 0 0-2-2-1-16 8-4-5-4 4 2 8 0 56-4 10 2 3 7-5 5 0 0 4-9 8-7 1-21 11-31 0-3 2 15 17 10 23 28 39 30 52 12 34 2 19 2 3 0 11 2 3 2 61-2 4 0 23-4 17 0 11-2 3 0 13-2 3-2 33-12 54-16 38-16 25-9 8-17 12 0 2-8 0-10 4-16-6-14-14-6-10-8-8-4 4 2 6 0 16-2 2-8 0-4 4 2 6-1 6-7 0-8-6-6-12-8-10-4-4-13-6-5-9 0-3 6 0 2-2-1-12 7 3 2-7-2-8-6-8-4 2 2 12-2 1-6-5-2 2-6-20 4-3 6 3 2-2-1-18 9-8-2-3-4-1-8 8-6-6-6 0-2 4 6 10-4 4-2 2-4-2-8 8-19 8-5 0-12-2 0-4-2-6-4-2-4 3-13-21-7-4-6 1-3 5 23 23 4 1 4-2 4 6-8 2-10-4-7-4 0-6-3-3-3 1-1 5-2 0-14-3-4 5 1-19-5-7-6 1-5 8 5 12-1 10 3 6 12 10 3 8 13 12 20 1 6 9 6 4-2 14-4 4-31 6-12 6 3 3 6-1 6 5 6 1 6 6-6 19-9-15-5-4-6 0-2 2 0 4 14 26 1 8 5 2 12-6 8 3 24 41 8 8 10 6 4-6 10 3 6 11 0 6 9 16-11-5-2 1-2 16 4 14-2 2-16-14-4 0-10-15-6-21-14-28-2-2-8 2-3-2-3-7-4-3 2-2-1-4-5 0-4-3-6-10-14-5-2 2 0 6-6-7-6-1-6 8-16-20-6-16-6-2-4 4 4 10-5-2-1-6-7 6 0 12-9-6-4 4-2 5-2 0-3-1-11-21-2 3 2 10 2 5 4 3-10 2-5 10-4 24-18 66 2 12-6 6-5 15-19 37-9 30-2 26-202 0-6-6-5 6-14 0 0-6-5-6 5-8 0-6-3-3-4-1 0 11-2 1-4-6 0-8 0-1 5 1 10-12 3-12 8 7 4 0 4-3 4-12-2-18 3-6-5-5-2 0-2 5-2 0-4-1-1-3 0-2 7-1 3-3-5-20 4-14-4-11-2-3-4 4 0 20-6-1-11-13 1-5 6-3 0-6 2-2 4 2 4-2 4 1 2-14 4 3 2-2 1-10 5-3 3 3-1 8 4 8 2 10 7 8 0 10 4 4 1 11 8 1 1-10-3-12-7-4 1-9 4-1 2 2 1 8 5-2 4 9 2-20 4-1 10 10 2-6 4-4 0-11 10-6 4-5 1 10 3 5 2-11 12-6 2 1 4 8 8 3 2-2 1-4-8-10-1-8 2-1 2 2 3-1-1-6-8-8 2-18 6 6 6 1 4 10 2 1 12-4 4 12 1 18 1 1 2-1 4-8 4 0 4-2-7-24 1-4 2-1 7 11 3 2 5-4 1-13 2-3 2 10 2 2 2-2-2-18 4-3 4 3 1-2-6-10-1-18 6-4 11 4-1 10 3 18 1 4 4 2-2-18-4-10 0-4 3-4-1-10 2-2 6-1 4 5 5 0 1-4-5-10 5-6 2-1 6 7 8-1 3 5-4 16 3 3 2 0 4-9 8 1 0 5-4 2 0 12 2 8 4-1 0-15 2-2 6 1 3-3-7-9-5-1-1-8-8-22 2-4 7 10 5 4 3-2 3-6 4 7 8 7 6 9 10 7 8 10-2 20 6 3 4-1 2-6 1-18 7 4 4-4 0-4-4-6-6-5-4-2-4 3-6-8-8-3-2-13-8-8 1 12-5 0-2-2-3-8 0-10-6-18 5-8-1-12 5-14-6-16-3 0-1 2 0 8 2 10-4 3-1 7-3 5-2-2-5-21-5-2-1 2 1 10 6 12 2 3 4-1 5 10-3 1-6-6-4 5-2 12-4 0-2-2 0-4 4-8-4-3-3-9-6-6-5-14 12-20 1-18 4-12 0-6-6-14 1-4 3-2 7 16 6 0 10 9 2-3-2-6-4 1-8-13-8-6-2 2-2-10 2 0 2 7 6-2 4 5 4-2 2-5 9-1 3-10 7-10-9-14 0-7 4 0 4 9 5 14-1 10 2 8 7 6 9 14 4-2 6 0 0-12 2-2 16 2 3-16-9-3-4 3-1-4 3-2 2-6-4-10 6-3 4 10 4 3 2-14-2-14 1-12-6-8-3-10 7-10 0-12 3-1 3 11 7 5 2-1 2-10 5-2-1-14-3-8 1-8-2-2-4-2-4 4-6 1-2 0-1-3 6-2 0-12 5 2 2-2-1-6-4-6 1-3 4 1 1 2 0 6 4 8 7-2-7-6 0-6 4-4-1-6-4-10-2-3-2 3-1-4 1-6 6 0 2-2-2-12-2-4-6 1-8-13-8-7-4-1-4 3-1-1 0-2 3-2 0-12-2-3-4 0-3-7-7-6-4 4 0 10-4-1-4-8-1 5 1 6 6 5 4 0 3 9-3 2-12-8-3 4-1 7-8-31-10-3-8-18-4-1-10-14-4 2 0 5-2 6-1-1-3-8 1-6-1-12-5 4-4 12 3 8 0 6-8 0-1-4 2-12-2-12 0-8-5-15-2 0-1 3 4 8-1 4-2 1-6-15-6-2-8-7-6 1 0 10 4 8-6 12-6-8-4-22-2-3-5 1 0 10-1 2-2-2-2-8-5 0 0 14-3 1-15-41 1-12-2-20 4-6 0-7-4-5-4 2-6-3-4 4-5 1 0 6 4 8-1 8 3 18-1 2-4 0-8-3-5-9 0-6 3-5 4 3 3-2 0-12-4-8 3-4-3-6-1-16-2-2-4 5-4 1 1-8-3-4-7 2 0 10 1 2 8-2 3 14-5 9-1-9-5-8-1 4 4 10-3 5-4 2-8-10-5 5 2 6 1 10 7 4-2 12-3 0-2-10-8-8-5 6 7 2 4 15 6 7-2 3-4-4-4 7-4-1-2 7-6 6-2-4-1-8 5-16-6-12 2-5 4 3 1-2-3-7-10-11-1-6 1-7-5-5-5-14 0-12 2-3 6-1 2-6-2-4-2-3-2 1-4-7-6 2-10-7-4 1-8-3-8-14-4-4-3-18-3-6-2-2-6-1-2-3 0-14 12-7 2-9-8-11-2-11 2-6-6-12 6-11 2 0 4 5 4-2 4-6zM473 242l0 3 2 3 1-5zM479 263l-2 1 0 3 2 3 2 0 1-5zM507 279l-2 6 4 2 2 5 0-5zM525 324l-1 7 3 7 2-1 1-10-1-2zM539 372l-4 7 0 3 4 3 3-2zM547 326l-1 1 1 3 1-1zM619 401l0 4 4 3 0-7zM649 419l0 2 2 2 0-5zM671 450l-2 5 4 2 0-4zM741 492l-1 5 1 2 3-4-1-3zM755 504l1 13 1 3 2-2 1-5zM769 518l-1 3 1 3 1-3zM775 513l-1 2 5 21 3-13-3-9zM789 536l0 3 2 2 2-2-2-3zM815 299l-4 2 0 8 2 4 2-2 2-8zM821 333l-4 2-1 4 1 2 5-4 1-2zM849 330l-7 7 0 6 3 2 6-2 4-6-2-6zM881 327l-18 11-15 15-5 14 2 12 11 6 1 6-4 16 8 4 5 8-4 8 1 4 12-12 5-16-5-8-2-10-7-6 7-18 6-8 12 2 7-10-3-16zM901 321l-4 2 0 4 4 1 2-2 0-3zM913 278l-4 3-2 6 1 4 3 2 7-10-1-3zM925 388l-5 5 3 5 5-5zM975 868l-1 1 5 13 0 9 2 4 12 14 4 10 8 7 2-7-6-14-8-12-2-10zM833 971l-4 2 0 2 6 2 3-4zM915 1101l-2 4 4 8 4 4 2-2 0-8-6-6zM495 1169l-3 8 3 5 6-7-2-4zM505 1134l-9 19 0 6 3 5 5-9zM585 1056l-3 1 4 8-1 8 2 3 1-15zM635 1066l-1 5 3 2 0-4zM689 971l-3 4 3 5 2-3zM723 847l0 8 2 2 0-6zM803 709l-2 2-2 12 4 3 4-1 1-4 0-6zM815 977l-3 2-1 7-8-3-2 2 3 14 11 10 4 0 4-5 6 3 4-6-3-14-9-10zM741 504l-2 3 2 16 2 7 2 0 1-17zM821 384l-5 5-4 10 0 8 3 2 6-4 6-12 0-9zM849 486l-6 5 0 6 2 2 6-10zM857 500l-4 7 4 3 4-3 2-6-2-2zM871 499l-9 12 3 6 10-12 2-6-2-2zM899 393l-14 32 1 4 3 4 7-4 16-26-2-6zM477 1140l-2 3 2 6 2 2 4 0-1-8zM843 858l-3 3 3 3 6 2 3-3-3-5zM907 425l-10 12 2 6 7-6 6-10-1-3zM874 171l3-2 2 4-4 7-4 3-2-4zM907 173l2 4-4 7-4 3-2-4 4-7zM1075 175l4 0 0 2-4 4-8 4-4 0 4-6zM309 177l2 0 2 4 0 9-2 2-2-3zM1105 177l6 0 0 3-7 5-9 0 2-4zM1175 177l5 0-3 6-8 4-5 0 3-6zM850 179l3-2 1 4-3 7-4 3-1-4zM436 183l4 0 5 6 0 3-8-6zM924 185l3-2 1 4-3 7-4 3-1-4zM1122 185l7 0-1 2-3 4-7 4-7 0 4-6zM1099 191l6 0 0 4-6 6-4 2-2-4zM881 199l6-5 1 1-1 6-6 5zM1132 195l7 0-1 2-3 4-7 4-3 6 2 2-2 4-14 12-4 2-6 0 2-8 18-18 0-4zM381 205l4 2 2 4 0 8-2 1-4-1-2-3 0-9zM1152 219l7 0-2 4-5 4-4 2-7 0 4-6zM315 221l4 2 2 6-2 7-4-2-2-5zM429 223l3 0 3 4 0 5-2 2-4-3zM351 231l4 3 0 9-4-1-2-4zM1135 231l5 0 1 2-3 4 7 2 0 2-10 8-8 0 2-4 5-4-4-4zM307 250l3-5 1 6-2 2zM1168 245l6 0-3 6-7 4-6 0 3-6zM1193 255l5 0-3 6-8 4-5 0 3-6zM338 257l3-1 2 2 0 8-2 1-2-2zM1119 261l8 0 0 2-6 4-8 0 0-2zM1152 265l7-1 2 3-10 8-8 1-2 3-6 3-4-1 2-6 8-2zM1165 267l6 0 0 6-10 8-13 2-1-2 3-2 11-4 0-4zM328 271l3 0 4 5 2 10-4-2-4-5zM379 280l0-8 4 4 0 8zM301 275l2 1 0 5 0 6-2 1zM1205 281l5 0-3 10-8 6-8 0 4-10zM358 283l3 4-2 4-1-2zM369 289l2 0 2 5 0 5-2 3-2-1-2-6zM438 295l9-1 2 2 4 11-1 6 3 8 1 8 5 8 6 22 4 5 2-9-6-10 0-10 10 6 5 20 3 4 3 0-6-16-1-18-5-6 3-4 6 0 2 2 1 8 4 8-3 6 1 4 7 16 1 50-3-2-2-12-8-17-6-2-2 2-1 7 6 8-2 16 7 5 6 11-2 14-5-4 0-12-13-19-2-13-7-4-1-8-2-1-2 9-2 1-1-3-1-8 3-2-2-18-3-3-2 2-1 11-3 4-4-4-1-8 8-10 2-8-5-12 1-18-4-12zM404 297l5-1 7 5-3 1zM1202 305l7 0-4 6-14 8 2 2-4 4-6 2-1-2 3-4 0-6zM1133 311l5 0-2 4-7 4-4 0 2-4zM322 313l3-1 1 3-1 6-2-1zM1155 313l6-1 0 3-10 8-6 1 0-3-4 2-6 0 2-4 5-4 3 0 2 3zM1172 315l7 0-2 4-5 4-4 2-7 0 4-6zM425 321l2 0 2 7 6 0 6 5-14 6-5 0-3-4 2-10zM301 331l0-8 1 4zM327 329l2-1 2 1 4 12 0 8-2 2 4 14-2 5-6 0-3-3-3-12-4-6-8-2-2 5-2 1-2-3 0-9 2-2 2 0 2 4 4-6 10 2zM501 331l2 0 2 6 0 10-2 2-5-2-2-8 1-5zM1164 331l5 1-2 5-7 4-7 0 0-2 6-6zM1192 331l6 0 3 2 0 4-10 6-9-2 3-6zM361 343l4 0 1 4-1 6-2 1-2-2zM1246 345l7 0-2 4-5 4-4 2-7 0 4-6zM1226 349l7 0-4 6-11 4 1-4zM377 353l3 4-3 3-1-3zM407 355l6-1 2 7-3 4-4 0-3-7zM506 353l3 0-2 4-1-2zM1188 355l4 0 1 2-4 6-4 2-8 0 1-4zM423 363l4 0 3 2 0 4-3 4 2 5-2-1 0-4-5-4zM304 365l3 1 1 3-3 4-2-2zM401 365l2 0 2 6-2 9-2-1-2-5zM1162 365l5-1 3 1 0 2-5 6-10 0 0 4-2 4-8 5-2-1-2-2 4-6-2-4 2-2 8-4 4 3zM364 367l3 0 2 3 0 7-2 2-4-3zM1184 369l3 0 0 2-6 10-7 4-7 0 4-6zM1217 373l6-1 2 1-4 4-8 2 0-2zM301 375l2 6-2 4 0-2zM318 377l2 2 1 12-5 2 1 7-2 1-4-5 0-4 4-1 1-10zM345 377l2-2 2 1 4 7-1 4-3 2-1 6 5 4 0 5-2 3-8-3-4 7-2-2-1-10 1-3 2 0 2 6 1-7-2-4 5-8zM439 383l4-2 4 2 8 13 2 0 0 7-4-1-8 2-2-2zM507 391l0-5 1 1 1 3zM1147 387l5 0-3 6-8 4-5 0 3-6zM1193 387l4 2-2 4-4 4-6 2-2-2 2-4zM417 391l4 1 2 5 0 6-2 3-4-1-2-5zM596 393l3-1 0 3-2 0zM360 395l3 0 2 6 4 4 1 8-3 4-4-5 0-7-4-4zM573 395l2 4-2 2-1-2zM1155 397l14-2-2 4-5 4-4 2-7 0zM1233 397l5 0-3 6-8 4-5 0 3-6zM377 401l2-2 2 1 4 7 0 7-4 3 5 8-3 7-7-17 2-4zM425 407l10-6 2 8-6 12-2 0-4-6zM1141 403l4 0 0 6-6 4-6 0 0-4zM1181 405l4 0-2 6 8-2 4 0 0 2-11 8-7 0 0-3-6 0 2-5zM560 407l3 1 7 9-1 11-7-3 1-6zM317 409l4 1 0 9 2 6-2 6 2 3 0 9-2 1-4-4 0-11-2-4 0-12zM342 409l5 1 2 5-2 4-3 0-3-4zM325 415l6-6 3 2 7 22 0 9-5 3 1 6-2 2-4-3-2-6 0-4 4-2 1-3-9-14zM352 411l3-1 2 2 2 7-2 2-4-4zM403 413l4 0 2 6-4 0zM304 415l5 0 1 2-1 11-2 1-4-6zM1153 415l8 0-10 8 11 4-1 8-16 6-1-2 1-2-3-2 1-4 8-6-8-2zM416 419l3 0 4 8-1 4-3 3-3-3-2-6zM557 421l4 4-4 5-2-5zM401 423l2-1 4 3 0 8-2 1-4-2zM597 423l2-1 3 5-3 6-2-2zM391 427l2-2 4 3-2 7-4-1zM301 431l4 1 1 5-1 6-2 1-2-1zM375 431l5 2 0 6 7 7 0 8-2 3 4 8-4 6 0 7-2 1-8-12 0-6-4-6 0-6 2-1 4 6 3 13 2 0 3-10-6-8-1-8-4-4zM1179 431l9 0 0 2-11 12-8 0 2-8zM557 433l0-2 4 2 0 2zM478 437l3 0 1 2 1 12-2 3-2 0-2-3zM355 439l2-1 6 4 4 7 0 5-8-3-2-2zM414 439l3-1 6 7-4 7-2 0-4-5zM425 441l2 4-2 3-1-3zM406 449l3 0 6 9 10-2 2 5-2 6-2 1-4-1-2-4-1 4-3 0-6-4-3-6zM1125 455l6-1 2 3-9 8-3 1-2-4-4 3-8 2-8 8-12 3 4-5 9-4 0-2 3-4 18-4zM359 460l4-3 2 2 0 12-2 2-4-4zM307 459l4-2 4 4-2 11-2-1-4-7zM347 459l8 12 4 14 6-2 2-3 4 1 4-4 3 2 5 24-4 6-1 6-5 1-4 9-4 3-1 3 1 6 8 8 4 12-6-2-6 2-4 4 0 8 12 6 5 16 2 4 5 3 6-2 4 3 4-2 2 1 6-7-4-8 2-3 10 4 6 6 2 0 4-7 1 2-1 6-3 4 5 10-7 8-3 9-8-10-8 7-4 1-3-7 4-6-3-4-6 6-2 8-2-1-2 5-4 0 3 8 2 18 4 18-1 1-4-4-2 2-4-4-3 9 7 6 4-1 4-4 2 21 6 6-1 8 5 6 3 14-2 8 3 4-1 4-3 4 0 4-11-8 1-8-2-12-2-5 1-3-5-9-6-2-4 5-2 0-3-12-1-2-2 0-5 18 1 8 6 12 1 14-6 4-2 4 2 8-2 18 9 13 4 2 7-1 1 12 4 3 4 0 6-5-2-29 4 0 3 3-1 14 6 1 3 5-1 10 4 6 3 12-3 6-4 0-12-16-5 26 5 8 1 14-1 3-8 4-2 5 2 6 6 2 0 8 5 10 0 10 2 0 3-5 6 1 4-4 2 6-2 5-4 1-6 7-4 0-2-2-2 4 0-9-4-4-1 8-3 1-2-7 5-4-6-24-4-4-1-12-4 1-3-3-1-9-2 9-4-3-4 4-4 0-2-5 2-4 5 0 1 3 2-8 5 3-6-8 1-6 11 10 3 4 0 7 2-11 5 0-1-14-2-3-10 4-8 0-2-1-2-10-6-4-3 6 7 12-5 4-2 6-5 1-8 9-8-13-12 0-7 7-1 8-2 2 1 8 3 6 4 1 10-3 1-4 3-1 4 6 5 1 3 6 6 3 5-3-1-14 2-3 3 1 7 6-5 8 1 20 2 3 6-6 3 3-1 12-4 1-6-5-4 5-10 0-4 3-6-14-6-5-4 0-2 1 2 12-2 10-10 2-4-7-6-3-3 2 4 6 0 6-1 1-6-6 0-24 5-7-5-7 0-31 4-2-4-5 0-42 4 3 3-6-3 0-4-3 0-183 5-2 1-8 3 16 3 3 3-3 1-7 3-1 1 3 2-12 4 3 2 0 1-8-5-13 0-5 8-12-2-12 6-4 2 2 1 6-3 6-3 0 0 2 1 2 4-2 2 1 2 5 0 8-4 3-6-8-3 3 0 6 5 4 0 10 4 6 0-11 4 1 2 5 0 9 8 7 4-1 7-10-3-6 4-6-6-12 0-12-6-4-2-6 2-4 4 0 5-14-3-5-4-3-2 3 1 7-7-4-1 2 3 4 0 7-2 3-2 1-6-12-5-15 1-6 2-1 4 9 2 1 3-3 1-16-4-5-2 3-4-1-2-7 2-14-4-8 3-6-2-12 3 0 4 6 4-6zM349 481l-6 4 0 6 2 3 2-6 4-3zM351 503l1 10 3 3 4-2 0-10-1 7-3 1-3-3zM357 497l-1 4 1 1 1-1zM369 613l-5 4-5 18 0 14 4 5 6-3 7-12-3-4-1-8 3 0 2 3 1-1 0-6zM389 606l-1 3 3 0-1-2zM363 804l-3 5 3 5 3-5zM313 892l-6 3 4 5 4-3zM321 898l-4 3-1 4 5 6 4-12zM311 650l-5 3-1 4 6 9 4-1 1-4 0-6zM329 630l-5 3 3 4 0 7-3 1-3-3-1-7-3-3-3 3 0 8 2 8 3 1 7-1 5 8 4 3 4-3 0-4-5-6 1-6-4-8 1-4zM337 612l-5 9 2 6 7 6 0 2 0-16-2-6zM351 664l0 7 2 1 1-3zM307 752l-5 7 3 6 4 1 3-3 0-6zM321 673l1 8-1 3-2 1-2-3-5-1 5 5 2-1 5 8-4 6 0 6 9 6 4 9 0 5-6 8 0 8-4 2-2-2-1-6 1-6 4-2 0-2-2-4-4 0-3 4 0 14 9 10 4 1 3-3 0-10 6-6 1-3 2 1 1 22 3 2 2 12-2 6-4 0 0 4 4 5 6 2 2-11 3-4 0-4-5-7-3-1 2-6-7-4-2-18 8-10 3 0 3 4 1-6-3-3-6 3-8-6-2 6-2 0-5-16 1-2 8 4 4-2 2-9 3-3 2-14-7 0-6-2-4 2-1 2 3 8-2 4-1-4-6-10-3-1zM305 790l3 11 1 2 2 0 3-4 0-4-3-3zM315 816l-2 1-1 6-5 1-3 7 3 9 6 3 11-14-1-2-2 1-2-2zM329 788l-2 7-2 1-6-6-1 1 0 18 3 0 4 7 4-1 3-4-2-6 2-12zM339 752l-3 3 0 4 3 6 2-12zM355 735l0 6 2 3 4 0-1-9-1-2zM341 785l-1 8 2 8 3 6 6 3 3-5-1-8-2-1-4 4-5-7 1-4 8-4-6-2zM345 834l-2 1 4 7 0 5-2 1-2-2-4-8-2 5 6 9 4 1 5-4 1-4-4-10zM1178 459l7 0-2 4-5 4-4 2-7 0 4-6zM583 461l4 1 0 4-4-1zM1133 467l18-4 1 2-7 6-4 2-14 0 2-4zM301 479l0-15 4 4 1 3-2 6zM322 465l1-1 4 3 2 6-2 3-4-3zM1115 469l6-1 0 7-10 6-4 0-2-2 2-3zM604 471l3 0 0 4-4-1zM441 475l2 4-2 2-1-2zM301 485l2-1 2 1 2 6-2 4-4-1zM1214 485l7 0-2 4-5 4-4 2-7 0 4-6zM437 487l2 2 0 2-2-1zM313 497l7 2 0 6 11 11 2 7-2 5-4-9-4 2-4-3-1-11-6-6zM390 497l5 1 2 5-2 3-4-2zM412 503l3 2 3 12 0 8-3 4-5-4zM383 509l4-1 2 5-4 10 0 10-2 0-2-2-1-8 1-10zM429 511l2-1 0 5-2 0zM563 513l3 4-1 3-3-3zM301 515l8 6-5 8 0 4 2 6 4 4 0 14-1 3-6 5-2 0zM397 515l2 2 0 9 6 1-4 16-2 1-8-11 1-6-1-7zM586 523l2 2-1 8-8 11-2-3 0-6zM422 525l3 0 0 8-3-4zM709 525l2-2 2 10-2-2zM313 527l6 0 2 4-2 9-6-7zM1204 529l5 0-2 4 5 2-1 4-10 6-5 0 1-4 5-4-5-2 1-2zM408 535l7 4-1 6-3 2-5-4 0-6zM425 541l2-3 0 7zM1226 543l7 0-2 4-5 4-4 2-7 0 4-6zM321 549l2-1 2 2 0 7-4-1zM415 553l2 0 4 8-4 8-3-8zM1203 557l5 0-3 6-8 4-5 0 3-6zM394 561l3-1 2 1 3 6-3 8 3 6-5 5-4-3-1-4 2-6-1-8zM348 573l3 0 2 3 1 7-1 4-3 0-3-4zM1204 573l7 0-2 4-5 4-4 2-7 0 4-6zM301 575l2 0 0 8-2 0zM1259 575l5 0-3 6-8 4-5 0 3-6zM1179 583l8 0-6 6-8 0zM353 597l2 0 1 4-1 5-2 1-2-4zM1187 609l6 0 0 3-8 5-6-1 1-3zM387 625l2-8 3 6-1 5zM808 619l2 0-1 3-1-1zM1195 633l10-2 2 3-6 5-8 2-4-2 0-2zM1232 633l7-2 4 2-7 6-7 2-4-2zM399 648l0-7 2 2 0 6zM410 643l1-1 2 1 2 4 0 5-4-4zM1207 649l8 0 0 2-4 2-9 0zM1237 663l7 0 1 3-6 3-4 0-2-4zM403 665l1 4-1 2-1-2zM415 678l0-11 2 3 0 7zM803 673l4-1 2 2 2 7-2 2-6-1zM740 677l4 2-3 8-3-4zM403 684l0-5 3 2-1 4zM719 681l2-1 4 1 4 13 7 7-1 4-5 2 0 4-3 0-2 3-3-5 1-10-6-10zM1189 683l14 0 0 4-4 2-14 0 0-4zM1250 683l7-2 4 2 0 3-12 1zM765 685l2 1 0 3-2-1zM1224 685l11 0 2 3-5 3-11 0-2-3zM413 687l2-1 3 3-5 7zM769 691l7 2-1 10-5-6zM1195 693l6 0 2 4-3 2-5 0-3-2zM1237 693l9 0 0 2-7 1-2-1zM1219 699l6 0 2 3-10 1-1-2zM415 707l2 0 0 4-2-2zM740 707l5 0-2 10-3-4zM777 709l3 4-3 3-2 0 0-3zM1210 713l11 0 4 2 0 2-3 2-11 0-4-2 0-2zM743 719l4 6 0 7-2 0-4-9zM765 719l3 2-1 6-3-2zM722 721l9 4 0 4-2 4-4-3zM411 725l2-4 1 6zM423 725l2 6-2 3-1-5zM780 729l5-3 6 3 1 12-1 7-2 0-4-7zM766 735l3-1 6 8 2-6 4 19-4 7-6 0-2 6-2 1-3-2-1-4 2-3 5-1 2-8-1-4-6-6zM385 744l4-6 0 7 3 10 0 4-3 2-4-4-1-6zM1263 741l13 0 5 3 0 3-13 0-5-3zM725 745l4-4 3 4-3 3zM763 743l3 6-1 5-2-3zM427 747l4 6-2 4-2-2zM1182 747l11 0 6 5-12 1-6-4zM413 753l5 4-1 6-2-1zM414 765l5 6 0 3-11-3 1-5zM760 775l3-7 3 7-3 3zM1199 775l8 0 4 4-2 2-4 0-4-2zM378 779l3 0 6 6 0 6-4 2-2-3-3-7zM695 783l2 6-2 4-3-6zM687 785l3 6-3 6-2-6zM409 789l2 0 2 4-2 0zM418 825l-1-27 2 1 5 8 0 28 1 12-2 2-1-14zM1237 807l6 0 8 6-2 2-4 0-7-4zM409 849l2-1 4 9 7 2 0 4-3 4 0 6-2 4-11-4-3-10zM667 861l2 0 11 8-3 21-3-3 2-8-3-3-6-3-3-6zM592 875l4 0-1 5-3-1zM372 881l3 2-2 2 1 2 7 8 0 8-4-3-2-6-2 2-2-2-2-5 4-4zM559 883l2 0 2 10-2-2zM1207 901l8 4 2 2 0 4-4 0-6-4-3-4zM923 909l13 4-1 4 5 10 5 7 6-1 8 18-2 2-10-6-16-22-1-6-7-4zM378 923l-1-14 2 2 4 10-1 10 5 7 6 3 8 9-1-9 2-4 6 2 3 10 7-2-5-12 6-4 4 2 4 20-6-1 0 7-2 2-12-8-4 3-8-2-2 3-2 0-4-5-6-1-4-9-2 2-5-1-3 6 2 4-1 2-5 2-4-4-4-13 8 5 2-14 4 0 2 4 3-2-6-8 7 1zM940 915l5-5 4 5 6 1 2 3 0 7-8-7-4 1zM707 932l-2-9 3 2zM715 927l2-2 3 6 1 6-2 1-2-1zM325 931l4 0 2 2 0 6-6 0zM582 931l1-1 2 1 2 4 0 6-2 4-2 1-2-4zM339 935l2 0 0 6 2 4-4 6-3-4zM301 937l2-2 4 2 2 4-1 4-3 1-4-3zM305 949l2 0 5 6-1 7-2 0-4-4zM381 955l4 8 0 5 6 6 0 8-1 1-7-5-4-7 2-6-2-7zM499 957l2-2 2 4 0 10-2 0zM457 965l0-7 2 1zM338 961l3 0 4 5 0 9-2 1-6-7zM1039 961l6 4-1 8-3-1-4-8zM1121 963l6 0 4 4 0 4-8-4zM422 965l3-2 5 6 1 7 2 0 0 8-4-3 1-2-3 2-4-5-2-7zM624 975l3-9 0 14zM1187 967l6 0 6 4 2 6-6 0-6-4zM352 969l5 0 2 4-2 6-3 0-3-3zM982 969l3 0 6 10-2 8-4 0-5-8zM1213 971l6 0 6 5 2 5-6 0-6-5zM566 981l1-10 3 4 3 15zM1118 973l9 2 4 4 0 3-3 1-5-2-5-6zM635 975l4 2 4 14-2 4-4 3-2-1-1-16zM318 977l3-1 2 3 0 4-2 4-4-3zM323 989l6-12 4 2 4 8-2 4-4-2-1 2-2 8 2 10-3 6-3-6 2-10zM422 981l3 0 4 4 1 6-1 3-4-1-2 9-2 0-4-6 0-8 4-1zM338 989l5-2 2 4 0 11-2 1-4-5zM1172 987l8 0 5 2 2 3-10-1zM1205 993l6 0 6 5 2 5-6 0-6-5zM367 995l2-2 2 2 0 11-4-4zM1109 999l4 0 3 2 3 6-6 0-2-2-2-2zM307 1001l4 1 0 8-4-1zM1120 1001l5 0 3 2 3 6 6 2 2 6-4 0-3-2-3-6zM585 1020l0-13 5 8zM365 1013l2-1 3 5-1 7-2 2-2-2zM1161 1013l6 0 6 4 2 6-6 0-6-4zM373 1022l0-7 2 3 0 6zM354 1021l3 0 4 4 2 8-2 3-6-3-2-5zM799 1023l2 2 4 13-4-4zM1096 1027l5 2 4 5 8 3 3 6-14-4-5-6-2-4zM527 1037l3 2 1 8 6 6 0 5-3-1-5-6-3-8zM787 1037l7 14 1 2-6 4 2 6-2 14 2 6 14 15 16 23 18 29 6 3 4-2-2-10-23-36 9 4 6-6 14 10 10 4 6 12 20 26 2-6-4-16 8-6 0-2 0-8-8-14 2-1 5 5 11 18 11 8 13 28 2 2 2-2 2-5 10 12 13 5 9 12 7 14 3 2 8 0 4 4 1 6-3 0-6-4-6 0-8-6-8-2-6 2-6-2-4 6-14-8-8 0-2-6 2-8-2-6 2-10-7-14-7-8-2 2 0 8 5 14-7 3-2 5 4 10 9 12 6 2 5 8 4 8 1 12 9 16-14 0 2-6-9-20-5-2-6 3-4-5-5-10 1-14-2-6-16-24-4-3-4-1-2 2-2 13-4-2-3-5-7-6-2 6 2 6 0 14 3 6 9 8 4 0 2-2-1-12 3 2 7 16-5 0-2 2 0 6 9 20 5 4 2-1 4-11 12 14 13 8-37 0-33-46-15-26-8-3-8-9 0-2 2-1 6 3 4-2 0-10-3-6-14-6-14-20-5-4-4 0-4 6 4 12-6 0-3 2-1 2 3 8 7 7 15 7 4 12 2 12 10 12 8 14 11 11 15 5 14 22-15 0-4-4-2 4-8 0-2-3-6-3-6 2-2 4-26 0 0-6-8-15-3-13 1-3 10 12 10 3 2-2 0-12-18-26-9-18-8-8-5-11-3-17-4-8 3-8-9-16 1-13 8-4 6-8 6 1 2-2 1-8-6-16 5-3zM1185 1037l6 0 5 4 3 6-6 0-5-4zM807 1039l5 8-1 3-4-7zM1140 1041l4 0 9 6 2 4-3 2 1 5-5-1-5-4-2-3 1-5zM1013 1047l7 2 7 6 0 2-10-4zM818 1049l3-2 2 2 3 6 7 7 6 8 3 11-5-3zM845 1049l8 3 16 13 9 20 9 14 0 3-8-9-16-10-8-20-4 2-2 4-4-2-6-12 1-4zM1111 1055l6 2 2 2 0 4-8-4zM807 1063l6-7 6 11 5 16-1 1-8-2-6-11zM419 1061l2-2 4 5 0 9-4-2zM1153 1065l6 0 6 4 2 6-6 0-6-4zM973 1067l6 6 0 6-5-4zM317 1071l2-1 2 3 0 10-2 0-2-3zM446 1079l3-2-2 4zM1017 1085l8 2 6 4 1 4-9-2-6-5zM392 1087l3 1 2 5 0 6-2 1-4-4-1-5zM854 1091l7 3 2 3-2 2-2-1zM1181 1091l6 0 6 4 2 6-6 0-6-4zM977 1110l-10-19 8 6 8 9 4 7-5 0zM376 1101l1-2 4 4 2 5-2 5-4-3zM1002 1103l4 0 8 10 1 5-2 3-6-1-8-9-1-4zM1116 1103l4 0 5 8-4 0zM965 1113l6 3 1 5-5-3zM1185 1117l4 0 10 10 4 8 0 8-4 0-10-10-4-8zM744 1121l3 0 4 6 0 4-2 2-2 1-2-3zM1151 1125l9 0 4 2 3 2 1 4-7 0-5-2-3-2zM1134 1137l11 4 4 6-6 0-4-2-6-6zM973 1147l2-1 8 4 5 11-1 4-4-1-8-10zM331 1153l2-2 2 2 0 10-2-1zM1200 1153l11 4 2 4-2 4-6 2-8-4-2-6zM451 1155l2-1 3 3 0 8-3 2-2 0-2-6zM414 1159l1 0 0 9-3-5zM1221 1159l8 0 4 2 0 4-5 0zM752 1161l3 0 2 4-4 3-2-1zM460 1163l5-1 4 1 0 6-10-4zM1074 1165l7 0 6 6-8 0zM1147 1165l5 0 9 8-2 2-8-4zM1198 1171l1-2 4 2 4 6-4 0zM417 1173l2 4 0 8-2-4zM763 1177l7 0 6 8 1 6-4-2-12 0-1-8zM408 1179l1-1 5 3 2 4-3 4-4-2zM1004 1179l6 0 8 4 1 2-5 2 13 6 3 8 0 2-5 0-10-7-7-3-2-8-3-4zM827 1181l4 4 1 4-1 1-4-3zM1097 1185l4 0 6 4 4 4 0 4-4 0-6-4zM426 1193l5 2 1 8-1 3-6-9zM753 1197l6-6 11 18-1 7-6-1-4 4-10-12zM732 1197l5-1 1 5-7 13-2 2-8-1-4 3-2 0-2-6 14-6zM696 1199l1-2 3 8-1 2zM1139 1201l7 2 5 6-6 0-6-5zM416 1203l3 2-2 5-3-3zM955 1211l4 1 13 11 3 22-14 0-4-4-6 0-6-8-3-8 1-1 14 11 4-4-1-6-6-12zM315 1215l2-1 6 5 0 4-6 3-3-5zM332 1215l5 3 1 5-3 3-4-3-1-4zM1019 1217l2 3 0 3-2-2zM1105 1217l8 4 4 4 0 4-4 0-5-4-3-4zM427 1219l2 0 4 4-1 6-4 0-3-4zM1189 1219l2-1 6 1 4 6-4 2-4-2zM1066 1223l6 0 5 4-1 4 3 6-4 0-4-3-6-7zM430 1237l3-1 2 1 1 8-7 0zM706 1237l3 2 2 6-7 0zM767 1237l2 0 14 8-14 0zM1210 1237l1-2 6 2 6 8-6 0zM995 1239l2 0 3 6-2 0z"/>
<path fill="#0fff00" d="M457 169l5 0-1 4-2 1zM474 169l364 0 0 16 2 12 2 28 5 8-3 14 1 20 4 20 2 4 1 12 5 5 10-3 3-4 18-58 9-19 80-31 32-8 26-2 25 24 9 11 2-7 9-6 6 0-1 2 2 2 6 0 9-6 7 0 6-4 4 0 1 4-5 4-8 4-12 2-18 14 27 32 11 22 2 8 10-4 9 4 1 4 16-4 4 3 7-1-3 6-8 4-5 0-1-3-14 5-6 0 0-4-2-2-6-2-2 2 2 6 0 14 2 4 2 34 2 4 2 0 4-6 7-4 4 0-1 4 2 0 10-2 16 0-4 6-7 4-7 0 0-2-2-1-16 8-4-5-4 2 0 6 2 4 0 56-5 14 10-6 5 0-1 4-8 8-7 1-22 11-30 0-4 2 15 16 17 34 21 28 29 49 6 13 8 26 2 18 2 4 0 10 2 4 2 60-2 4 0 22-4 18 0 10-2 4 0 12-2 4-2 32-12 54-16 39-16 24-9 9-17 12 0 2-8 0-10 3-15-5-15-14-6-10-8-8-4 4 2 7 0 15-13 4-1 4 1 4-1 6-6-1-8-6-13-21-18-10-5-10 2-3 4 1 2-2 1-10 5 2 2-8-4-12-4-4-4 2 1 12-7-4-2 1-6-19 6-2 4 2 2-2-1-16 8-8 1-2-2-3-4-1-8 7-6-5-6-1-2 5 5 8-1 4-4 3-4-1-8 8-20 8-16-2 0-6-2-5-2-1-6 2-2-2-11-18-5-3-8-1-4 6 24 24 4 1 4-2 3 5-7 1-10-3-7-4 0-6-3-3-4 1-2 5-16-3-1-16-5-6-6 2-6 6 5 14 0 10 2 4 13 12 3 8 13 12 20 1 6 10 5 3-3 16-35 8-10 6 1 3 8 0 16 9 1 4-5 13-14-16-8 2-1 5 13 23 4 13 4 0 12-5 8 3 25 42 7 7 10 5 4-6 8 2 2 2 5 10 2 8 7 14-10-6-2 2 0 10-2 6 3 14-1 2-14-13-6-2-10-15-6-22-13-26-3-2-6 2-5-2-5-16-10-4-6-10-12-4-4 2 0 5-6-6-4-1-4 1-4 7-11-14-1-4-4-4 2-2 12 5 6-6 6 3 4-4-1-16-5-6-10-5-6 3-2 6-6-3-4 8-12 2-4-2-1-3 4-8-2-6-11-10-6 1-8-9-6-12-10-13-6-5-6-11 2-5 4 6 2 0 1-2-5-22 4-8 0-10-6-16-8-14-4-11-2 0-1 5 2 18 4 18-3 8-2 0-2-10-4-8-6 1-4 13-4 5-4-7 0-4 4 0 0-12 6-4-1-18 6-16 1-8 12 4 8 6 2-16-4-10-2 12-6-6 0-4 10-7 6 0 4-13 2-1 2 1 3 10 7 5 8 14 4 4 4-3 7 0-1-12 2-3 8-1 10 10 4-6-3-8 0-4 5-3 4 1 3-4 1-24 4-10-2-1-5 5-7 14 0-20 4 1 2-3-6-10 8-3 2-3 0-10-6-9 0-4 7 3 2-10 5-3 1-3 1-34 4-14-5-14 1-12 4-4-3-14 2-6-9-15-2-1-4 3-4-2-12-25-1 2-3 1 0-4 3-1 4-10-8-18-3-1-2-3 0-6 3 0 1-4-8-10-2-1-4 7-4 2-4-10-12-4-4-5-8 3-4 9-4 2-6-9-1 8 3 10-2 2-16-16-5-2-3-12-8-7-2 1-1 2 3 8-4 4-4-16 0-9-10-9-8-15-8-6-4 3-2-1-1-19-11-18-2 2 1 16 4 10-3 10 2 3 4-2 5 3 3 4-2 4-4 1 0 13-4 9-6-19-10-5-6 4-2-12-4-3-1 4 1 10-2 2-2-2-7-20 4-10-4-14 1-2 2 2 2 12 2 0 2-11 6 6 3-7-3-16-6-12-2 0-4 3-16-15-3 2-3 6-6-8 0-8-16-12-10 0-2 8-2-1-7-13 5-6 0-8-5-8 1-6-4-6-3 0-3 7-6 5-5 0-2-2 2-6-5-7-4 8-6 3-4-2 2-8-4-8 2-1 6 5 2-3 4 4 2-1 2-10-2-4-4 3-2-2-4-11-4-5-4 6-8 5-3 18-3 2-10-4-3-8-5-2-2-6 2-10-2-12-2-4-12 7-1-7 3-4-1-4 11-8 2-10-8-8-2-4 0-8 5-6-1-6-2 1-3-1-3-6 4-8 2-1 4 4 5-3 3-6zM491 241l2 7 2 1 0-6zM499 259l-2 2 2 6 2-2zM571 337l-2 2 2 5 2-3zM637 406l-1 3 1 3 1-3zM665 423l-1 2 1 3 1-1zM693 421l-1 4 1 3 2-1zM763 485l-1 2 1 4 2-2zM779 479l-1 2 1 3 2-3zM815 299l-4 2 0 8 2 4 3-2 2-8zM819 333l-4 6 2 2 6-6zM841 859l-1 2 1 2 6 3 6-3-4-5zM851 329l-9 6-1 6 2 5 6-1 6-6 0-6zM899 320l-6 7-6 0-6-2-10 6-10 8-15 16-4 20 4 6 9 4 1 6-4 18 7 2 5 6-6 14 1 3 4-1 10-9 6-9 4-14-8-8-5-20 7-17 4-2 6 3 4-1 7-9-1-18 4 0 3-4-1-3zM911 278l-5 9 1 4 4 4 8-12-2-4zM923 389l-3 6 3 3 4-3 1-4-1-2zM975 867l-2 2 6 14 0 8 2 4 11 14 5 10 8 7 2-7-5-12-9-14-2-10zM831 971l-2 2 2 5 4 0 3-3-1-4zM915 1101l-2 4 5 10 3 2 2-2 0-8-4-5zM713 853l-1 4 1 3 4-5-2-3zM473 234l-2 1-1 8 4 12 0 12 7 11 3-7 0-8-5-8 3-4 1-4-6-12zM823 382l-7 7-4 8 0 10 3 2 6-4 7-14 0-6zM849 486l-7 7 0 4 3 2 6-10zM875 497l-4 1-8 9 0-6-2-2-4 0-4 6 0 4 4 2 4-2 1 6 3 2 8-8 4-10zM875 370l-1 3 1 3 2-3 0-2zM901 391l-4 2-7 12-5 20 1 6 3 3 8-5 15-26-1-6-6-2zM907 424l-9 11-1 6 2 2 8-6 5-8 0-4-1-2zM874 171l3-2 1 4-3 7-4 3-1-4zM907 173l2 2-2 6-6 6-2-2 2-6zM1075 175l4 0 0 2-4 4-8 4-4 0 4-6zM1105 177l6 0 0 3-7 5-9 0 2-4zM1175 177l4 0 0 4-10 6-4 0 0-4zM309 188l0-11 2 0 2 6 0 6-2 2zM847 183l6-5 1 1-1 6-6 5zM437 185l2-2 1 2-1 1zM921 189l6-5 1 1-1 6-6 5zM1122 185l6 0-3 6-7 4-6 0 3-6zM1099 191l6 0 0 4-10 8-2-1 0-3zM885 195l3 0-1 6-6 5 0-7zM1132 195l6 0 0 2-3 4-7 4-3 6 2 2-2 4-18 14-6 0 2-8 19-18 0-4zM379 207l4-1 4 5 0 7-2 2-4-1-2-3zM1152 219l7 0-1 2-3 4-7 4-7 0 4-6zM314 223l3-2 2 2 2 8-2 5-4-2zM429 223l3 0 3 5-2 5-4-2zM1136 231l4 0 1 2-4 5-6 1 0-4zM349 237l2-6 4 4 0 7-2 1zM1138 239l7 0-2 4-5 4-4 2-7 0 4-6zM309 245l2 6-2 2-1-4zM1169 245l5 0-3 6-8 4-5 0 3-6zM1193 255l4 0 0 4-10 6-4 0 0-4zM339 257l2-1 2 3 0 7-2 0-2-2zM1119 261l8 0 0 2-6 4-8 0 0-2zM1152 265l7-1 2 3-10 8-8 0-5 6-7 0 2-6 8-2zM1165 267l6 0-1 6-9 8-12 2-1-2 2-2 11-4 0-4zM329 271l6 5 2 9-4-1-4-6zM379 273l2 0 2 4 0 6-4-4zM301 275l2 2 0 4 0 5-2 1zM1205 281l4 0-2 6 0 4-8 6-7 0 3-10zM359 283l2 4-2 3-1-3zM369 299l0-10 2 1 2 5-2 6zM445 297l2-1 2 2 2 7-2 2-2-1zM499 297l3 2 2 12-1 3-4-5zM1202 305l7 0-1 2-3 4-14 8 2 2-4 4-6 1 3-11zM1134 311l4 0-2 4-7 4-3 0 1-4zM323 313l2 0 0 7-2 0zM1155 313l6-1 0 3-11 8-5 0 0-3-4 3-6-1 7-7 3 0 2 4zM1172 315l7 0-1 2-3 4-7 4-7 0 4-6zM537 326l0-11 2 8 0 3zM521 322l0-4 3 1zM423 323l3 0 1 10-2 3-4-4zM1137 327l6 0 0 4-3 4 8 0 0 2-11 11-4 2-5-1-1-4 5-4-5-2zM327 329l2-1 2 2 4 12 0 6-2 3 3 12-1 7-4 0-4-2-6-17-10-4 1-6 3-3 6 2 5-1zM1164 331l5 2-3 4-6 4-7 0 4-6zM1193 331l5 0 3 2 0 4-10 6-9-2 3-6zM531 333l2-2 2 8-2 3zM451 335l2-1 4 4 0 5zM485 341l0-8 3 4zM538 339l3-1 4 3-2 13-4-9zM306 341l3-1 2 5-2 6-2 1-2-3zM362 343l3 1 0 3 0 6-2 1-2-3zM513 345l4 3 4-3 4 7 2-5 4-2 5 6 0 6-2 6 2 8-4 6-1 13-6-1-4-6 0-6 2-1 4 1 1-4-8-8-5-1zM1246 345l7 0-1 2-3 4-7 4-7 0 4-6zM1226 349l6 0-4 6-9 4 0-4zM377 359l0-5 2 3zM407 355l4-2 2 1 1 7-3 4-4-2-2-4zM477 355l8 16-4 5-4-2-3-5zM1180 359l12-4 1 2-4 6-4 2-8 0 0-3zM544 375l1-17 6 2 5 11-1 5-4-2-6 5zM424 363l3 0 3 4-3 5-5-5zM305 365l3 4-3 3-2-3zM401 365l2 1 2 7-2 6-2 0-2-6zM461 369l2-5 3 1-1 6-2 2zM1162 365l5-1 3 1 0 2-6 6-9-1 0 5-2 4-8 5-2-1-2-2 4-6-2-4 2-2 8-4 4 3zM364 367l5 4 0 5-2 2-4-3 0-7zM1184 369l3 0 0 2-6 10-7 4-6 0 3-6zM1218 373l6 0-3 4-8 2 0-2zM488 375l5-1 2 3-2 18-6-14zM301 385l0-10 2 6zM346 377l3-1 3 7 0 4-4 2 0 6 5 5-2 6-9-3 1-8-2-6 5-6zM556 377l4 2-1 5-3-3zM317 379l2-2 1 2 1 10-2 3-3 1 1 6-2 2-4-8 5-2-1-4zM468 387l3-10 3 6-1 5-2 1zM443 387l6 8-2 5-4-2zM1147 387l4 0 0 4-10 6-4 0 0-4zM1193 387l4 2-2 4-4 4-6 2-2-2 2-4zM613 389l2-2 5 6-2 4-3 2-3-2zM418 391l3 2 2 6-2 7-4-2-2-6zM541 391l3 0-1 5-2-1zM361 395l2 0 2 7 4 3 1 8-3 4-4-5 0-7-4-6zM1155 397l14-2-1 2-3 4-7 4-7 0zM337 397l2 0 1 2 1 6-2 5-2-2zM475 397l5 6-1 4-2 1-2-3zM1233 397l4 0 0 4-10 6-4 0 0-4zM377 401l4 0 4 7 0 5-5 2 5 10-2 6-6-14 0-3 3-1-3-5zM1141 403l4 0 0 6-6 4-6 0 0-4zM1181 405l3 0 1 2-2 4 6-2 6 0-1 2-3 4-7 4-7 0 0-3-4 1-2-2 2-4zM318 409l3 2-1 8 3 6-2 6 2 3 0 8-2 2-4-4-2-20 0-6zM345 409l3 4-1 6-4-1-1-3 0-4zM427 411l5-2 1 2-4 5zM328 411l5 0 8 22 0 8-5 4 1 4-2 4-4-4-2-6 1-4 3 0 1-4-9-14 0-5zM353 411l2-1 2 3 1 6-1 1-4-3zM577 411l7 2-3 8-2-2zM404 413l3 1 1 5-3-1zM304 415l5 0 1 2-1 10-2 1-4-6zM1153 415l8 0-10 8 0 2-8-2zM417 419l2 1 3 7 0 4-3 2-3-4zM539 419l2 0 1 4-3 7-5-5zM401 423l4 0 2 2-1 8-3 0-2-2zM1151 425l6 0 5 2-1 8-16 6-2-9zM391 427l4-1 2 3-2 6-4-2zM302 431l3 2 1 4-1 5-2 1-2 0zM375 431l4 2 1 6 5 4 2 4 0 6-2 3-6-8 0-7-5-4zM1179 431l8 0 1 2-11 12-8 0 2-8zM355 439l8 3 4 11-8-2-2-2zM415 439l5 2 1 6-2 4-2 1-4-6 0-5zM372 449l3 2 6 17 2 1 0-9 2-3 3 4 0 4-4 6 1 6-2 2-4-5 0-5-4-2 0-6-4-8zM406 449l3 0 7 10-1 7-4 0-6-6 0-7zM1125 455l6-1 2 3-9 8-3 1-2-4-4 3-11 4-5 6-10 4-2-1 4-5 9-4 0-2 3-4 13-4 3 1zM308 459l3-1 4 4-2 9-2 0-4-7zM360 459l3-2 2 3 0 10-2 2-4-5zM1178 459l7 0-1 2-3 4-7 4-7 0 4-6zM346 461l3 0 2 6 4 4 4 15 4-2 2 1 2-5 4 1 4-3 3 1 5 24-5 6-1 6-4 0-4 10-5 4 0 8 9 10 3 8-14 2 3-5 4-1 0-2-6-6-4-9-8-2-1 13-5-3-1 1 5 10-2 8-2 0-6-11-1-7-3-4 0-6 2-4 4 10 5-2 2-18-5-5-3 3-3-1-1-7 2-8-4-14 2-6-1-12 2 0 4 6 2-1 3-5zM349 480l-6 5 0 6 2 3 2-6 4-3zM357 495l-2 6 3 2-1 8-2 0-3-4 1-4-3 0 1 10 4 3 5-3 0-8zM1133 467l18-4 0 2-6 6-4 2-13 0 1-4zM301 465l5 6-2 6-3 1zM322 465l3 0 2 2 2 6-2 3-4-3zM1116 469l5-1 0 6-6 5-8 2-2-2 2-3zM301 485l4 1 0 8-4-1zM1214 485l7 0-1 2-3 4-7 4-7 0 4-6zM314 497l5 2 1 6 7 9 4 2 2 7-2 4-4-9-4 3-4-4 0-10-7-8zM391 497l4 1 2 5-2 3-4-3zM748 501l5 10 1 12-3 4-3-4zM689 507l2 0 0 4-2 0zM383 509l4 0 2 4-2 6-2 2 0 11-2 1-3-10zM413 509l2 4 0 7-2-3zM301 515l8 6-5 10 0 6 6 8 0 12-3 4-6-8zM394 517l3 0-2 7-3-3zM730 519l1-1 5 3 3 8-6-1zM762 527l1-8 2 3 0 7zM314 527l4 0 3 4-2 7-6-5zM1205 529l3 0-1 4 4 2 0 4-10 6-4 0 0-4 6-4-5-2 0-2zM395 537l2-5 2 1 0 8zM406 537l3-2 5 4-1 6-4 1-2-3zM748 547l1-11 2 1 2 4 1 8-1 3-2 0zM1226 543l7 0-1 2-3 4-7 4-7 0 4-6zM321 549l2-1 2 2 0 7-4-2zM417 564l0-8 2 5zM1203 557l4 0 0 4-10 6-4 0 0-4zM334 559l3-1 2 1 0 7-4-1zM395 561l4 1 3 5-2 6-3 3-4-6zM339 573l4 5 0 9-4 3-4-8-5 1-1 8 4 2 2 4-2 6 2 4-4 6 0-10-6-18 6-8 4 2 1-4zM349 573l4 3 1 3 0 6-3 2-4-5 0-8zM1204 573l7 0-1 2-3 4-7 4-7 0 4-6zM301 575l2 2 0 5-2 0zM368 575l5 1 2 4 2 13-4 6-5-12zM1259 575l4 0 0 4-10 6-4 0 0-4zM361 577l3 0 3 6-6 6zM1180 583l7 0-6 6-8 0zM415 591l2-1 3 3 3 12-2 1-4 9-6-7-2-1-2 2-1-2 0-4 3-4 5-2zM379 597l11 2 0 2-7 4zM351 605l2-8 2 2 0 6-2 2zM339 601l4 1 2 5-2 4-4-4zM362 605l3-5 5 5-3 7-2 0-2-3zM371 603l2-2 4 0 4 6 2-2 3 4-1 11-4-1-2-3-4 2-4-7zM323 609l2 0 4 4-2 6-2 0-3-4zM1187 609l6 0 0 3-8 5-6-2zM303 620l4-5 3 10 3 3 3-1 1-8 2 0 1 6 2 2 1 6 4 4 0 6-4 1-2-2-1-9-5-1-2 9 2 10-4-1-4 1-6-13 0-19zM359 621l2-6 2 2-5 18 0 14 5 6 7-4 6-10 1-2-4-5 0-7 6 4 2-4 1 2 1 20 3 4 0 8-3 2-2-5-4 1-8 16 8 8 4 9 5-5 0-10 3-4 2 6-4 20 4 0 4 4 0 6-4 3-8-10-4-1-4 4-2 0-1-12-4-8-1-5-2 1 1 10-3 2-4-6 1-10-4-14-7-9-2 0-2 5 0-5 8-6 0-5-2-3-4 4-6-5 1-2 7-13 4 1 2-3zM325 621l2-1 6 9 2 0 5 4 1 6-2 6 0 6-2 1-2-3 1-4-3-5-1-9-1-2-6 0zM1203 631l4 3-6 5-8 2-4-2 6-6zM1232 633l7-1 4 1-7 6-7 1-4-1zM1207 649l8 0 0 2-4 2-8 0 0-2zM323 651l4 2 6 9 10 0 4 3 1 4-3 4-6-2-6 1-2 5 2 2 0 5-4-11-6-2-4 2 3 8-3 2-2-2-5-2-2-6-1 6 0 8 2 2 8-3 2 2 2 5-4 6 1 6 7 5 4 5 2 8-2 6-4 2 0 9-4 3-2-2-1-8 1-3 5-3-3-6-5 0-3 4 0 14 6 8 6 4 5-2 1-10 8 2 0 10-5 4-1 8 4 4 2 10 6 4-8 4 0 8 5 14 5 3 5-1 0-8-3-6-2 0-2 5-2-1-2-8 6-5 4 3 2 8 4 0-2-13-5-1 1-12 4-4-4-10 6-4 3 2 1 6-2 18 5 6-1 4 2 6 4 5 0-5 2-1 8 1 0 10-3 10 7 10-2 5-8 7-8-2-6-10-6 0-1 6 6 12-1 1-4 3-6-13-8 0-1 1 3 0 2 2 1 10-3-1-4-9-13 4-12 14-1 7-2-4-8-5-2-4 0-40 4 3 4-3 4 4-2 10-2-1-2 1-3 6 0 4 3 8 8 5 4-10 6-7-2-4-2 3-2-2-3-9-2-2-1-12 2-8-2-4-2 0 3-4 0-4-3-1-2 5-4 1-3 3 5 6 1 6-3 2-4-4 0-73 2-3 0-10-2-3 0-33 2 1 1-3-2-12 3-5 6 7 5-2 1-12zM311 705l-4 6 4 9 1-9zM319 748l-4 8 0 3 4-3 4 2 0-6zM327 768l-1 1 1 7 1-3zM329 786l-2 9-4-1-4-6-1 3 0 18 1 2 2-1 4 6 4-1 3-4-2-6 2-12zM333 782l0 4 4 1 0-4-2-2zM361 804l-2 7 4 3 2-1 2-4-4-6zM305 752l-3 9 3 6 4 0 4-4 0-6-4-5zM305 769l-1 6 3 4 1-6zM1237 663l7 0 1 2-6 4-4-1-2-2zM351 683l3 2 1 4-6 12-1 8-1 2-3 0-3-8-2 1-2 10-2 1-2-4-2-12 12 1 2-9 3-2zM1189 683l14 0 0 4-4 2-14 0 0-4zM1250 683l7-2 4 2 0 3-12 1zM721 685l2-1 1 1 2 12-1 0-4-8zM1225 685l10 0 2 2-6 4-10 0-2-2zM1195 693l6 0 2 4-8 2-3-2zM1237 693l9 0 0 2-7 1-2-1zM1219 699l6 0 2 3-10 1-1-2zM394 715l3-8 3 2 4 10 1 10-4 2 5 8-3 5-4-1-4 1-3-5 3-10zM355 711l2-1 2 2 10 19-1 14-5 0-2-3 0-8 5-1-5-2-7 4 0 6 4 6-9 1-5-5-1-16 6-9 2-1 5 4 1-8zM795 711l2-2 1 2-1 6zM1211 713l9 0 5 2 0 2-4 2-9 0-5-4zM786 733l1-2 2 2 0 8zM1263 741l13 0 4 2 1 4-13 0-5-3zM384 751l3-8 5 10-1 7-5-3zM1182 747l11 0 6 4-1 2-11 0-6-4zM341 757l2-2 2 3 1 7-1 5-3-1-2-4zM787 757l2-1 6 15-4 0-1-2zM1199 775l8 0 4 4-2 2-4 0-4-2zM379 779l7 6 0 6-1 1-2 0-4-6zM401 795l6-2 3 4 0 6-3 4-5-4zM398 807l3-1 3 3 3 4 0 8-9-6zM1238 807l5 0 7 6-3 2-7-2-3-3zM388 813l5 0-2 22-2-2 1-8-3-8zM391 847l2 0 1 2-1 5-2-3zM333 849l0-2 8 4 1 2-1 3zM372 849l3 1 5 7 0 10-3 2-3-4 0-8-4-4zM345 858l0-5 2 2zM366 857l3-1 3 3 0 6-3 1-2-2-4 3-4 0-2-6 4-2 4 4zM301 859l2-1 3 3-1 5-4 0zM409 867l2-9 3 5 1 6-2 1zM674 869l3 0 0 5-2-1zM301 872l10-1 1 6 3 5 12-1 4 5-2-3 1-6 3-2 7 8 4 12 3 3 3-1 0-6 5-1 1-3 0-14 3-2 6 6-3 10 1 18 2 4 6-7 3 5-1 10-4 1-6-5-4 4-10 1-4 2-6-14-4-4-8-2 2 15-2 9-10 3-4-8-6-3-3 3 3 6 0 6-2-1-4-4 0-24 6-5 4 3 5-3-3-6-6 3-4-7-2 0zM319 899l-3 6 2 6 3 1 2-10 3-3-3-1zM370 887l3-1 8 9 0 8-4-3-2-6-2 1-2-1zM708 889l1-2 2 1 2 4 2 5-2 4-5-4zM393 910l-4-19 9 8 2 4 0 8 1 1 2-1 2-5 4 0 2 2 4-4 1 3-1 7-8 3-2 4-4 0-4-7zM1204 903l3-2 5 2 5 4 0 4-8-2zM924 909l12 4-1 6 9 14 3 2 4-1 2 3 6 12-2 3-7-3-5-5-14-19-1-6-7-5zM389 911l3 2-1 7-2 0-2-5zM944 911l5 4 6 1 2 7-2 1-6-5-4 1-4-5zM379 919l2-1 1 3-1 10 6 8 6 2 3 8-3 8-2 0-4-5-6-2-4-8-2 2-4-2-1 1-4 6 2 4-1 2-6 0-4-6-1-6 1-2 7 4 1-14 2-1 4 5 4 0-4-8 7-2zM326 931l5 3 0 4-2 2-4-2-1-5zM417 939l2-8 3 2 2 4 0 4-3 3zM737 933l2 0 2 3 0 9-2 0-3-4zM341 935l-1 4 2 6-3 6-2-1-1-5 3-9zM583 935l2 1 0 4-2 0zM301 937l2-1 4 2 0 7-4 0-2-2zM403 937l4 2 3 6-3 7-2 0-4-5-1-6zM412 951l5-3 5 3-2 2 1 5-2 2-5-3zM305 958l0-9 2 0 4 4 1 4-1 5-2 0zM714 951l9 4 6-3 8 5 8 10 14 12 2 4 1 8-4 10 3 6 4 2-4 7-14-24-6 3-2-2-3-10 3-6-4-5-2-1-1 2 1 8-15-14zM380 973l1-18 2 2 2 12 4 2 2 4 0 6-2 1zM681 959l4-3 2 3 2 4-1 2-3 1-3-3zM337 963l4-2 4 5 0 9-2 1-4-3-2-4zM1037 963l4-1 3 3-1 8zM1121 963l6 0 4 4 0 3-8-3zM422 965l3-1 4 5 1 8-3 2-4-4zM1187 967l6 0 6 5 2 5-6 0-6-5zM352 969l3 0 3 2 1 4-2 3-2 1-4-4zM983 969l3 2 4 8-1 8-4 0-4-6-1-4zM669 971l5 2 3 14 6 2 8 10 4-4 2-10 6 4 2-2 2 3 1 11 3 5 9-3 1-16 8 2 7 6 3 6 4 2 7 14-7 1-6 9-3 24-18 68 1 12-5 6-5 14-19 38-9 30-2 26-201 0-7-7-4 3-2 4-13 0 1-6-5-6 6-12-2-4-6-4 1-4 8-8 3-8 9 4 8-1 2-8 6 7 2-2-1-16-5-3-1-5 5-11 4 0 4-5 0-6-4-5-2-7 4-6 1-8 3-1 2 3 4 16-10 26 4 14 4 8 8-8 4 1 2-3-6-12 2-2 4 4 1-2-2-8 1-16 3 2-2 6 0 4 3 3 2-1 2-6 4 0-2-32-3-8 0-10 1-3 4 1 6 13 4-2 10 7 2-2 1-14-5-6-3-8 1-4 2-2 4-1 6 5 1 8-3 4 2 1 4-1 2-3 2-17 4-3 8 3 8 10 10 1 5-13-2-14 4-4-1-8 6-4 3 0 2 2 0 6 3 10-4 6-6 4 1 10 3 2 6-2 6-7 4 4 2-3-2-8 2-5 9-1 1-2-4-11 0-6 6 4 4 6 0-9 4-7 8 4 2-9 4 1 1-7 4 0 1-2-4-4 0-8-5-10 2-8-2-8 2-2 7 2 0 8 3 22 13 15 3-7-1-14-4 1-2-1-5-18 2-8-1-10zM701 1007l2 11 6 7 4 0-8-17-2-2zM633 1059l-2 10 2 6 4 4 2-4 1-6-5-10zM659 1033l-5 12 4 6 3 1 8-8 0-3zM1213 971l6 0 5 4 3 6-6 0-5-4zM1119 973l8 2 4 4 0 3-2 1-6-2-4-4zM318 977l3-1 1 3-1 7-2 0-2-3zM329 979l4 0 3 10-1 2-4-2-1 2-1 7-2 1 2 1 0 9-2 5-2-5 0-8 2-2-2-2-1-8zM422 987l1-6 3 2 4 8-1 2-5 0-1 9-2 0-4-7 0-7zM340 987l3 1 2 4 0 9-2 2-4-6-1-8zM1172 987l7 0 8 4-2 2-8-2zM637 991l2-3 1 3-1 3zM775 989l2-1 5 7-1 4-6 4 2 8-2 1-3-5 3-4zM1205 993l6 0 5 4 3 6-6 0-5-4zM367 995l2-1 2 2 0 8-4-2zM1109 999l4 0 3 2 3 6-5 0-3-2-2-2zM307 1001l4 2 0 6-4-1zM1120 1001l5 0 4 4 0 3-6-3zM1129 1009l8 2 2 6-4 0-3-2zM365 1013l2-1 2 5 0 6-2 3-2-3zM1161 1013l6 0 6 5 2 5-6 0-6-5zM645 1015l2-1 4 5-4 6-2-4zM355 1021l2 0 4 5 0 9-4 0-2-3-2-5zM799 1025l2 0 0 7 0-3zM1097 1027l8 7 8 3 2 6-8-4-4 0-6-6-2-4zM582 1035l3-1 6 12-4 2-4-3zM1185 1037l8 2 4 3 2 5-8-2-4-3zM787 1039l7 12 0 2-5 4 1 8-2 10 2 8 15 16 20 28 9 18 5 5 6 3 4-2-1-10-22-34 7 2 6-5 23 13 8 14 19 24 3-4-5-18 8-6 0-2 0-8-6-14 5 4 10 18 12 8 13 28 2 2 4-7 10 12 13 5 7 10 9 16 3 2 7 0 5 6 0 3-8-4-8 0-6-5-8-2-6 1-6-1-4 5-14-8-8 0-1-5 2-8-2-6 2-10-8-14-7-8-2 2-1 8 5 14-6 3-2 5 4 10 9 12 6 2 5 8 3 8 2 14 9 14-13 0 2-4-2-8-8-14-5-2-6 2-2-2-6-12 1-12-3-8-10-14-5-10-5-4-4 0-3 4 0 8-1 2-2 0-4-6-8-6-3 6 4 22 9 12 4 1 4-3 0-12 8 16-6 4 0 6 9 20 5 4 2-1 4-11 12 14 13 8-37 0-3-6-9-9-7-13-14-18-15-27-8-3-6-6-2-4 2-1 6 3 4-2 1-10-3-6-14-6-14-20-6-4-4 0-5 4 3 14-4-1-4 5 2 8 8 8 14 6 5 12 1 12 10 12 8 14 12 11 15 5 14 22-14 0-5-4-3 4-7 0-2-4-6-3-6 3-3 4-25 0 0-6-8-16-3-12 1-2 10 11 8 4 4-3 1-12-19-27-8-17-10-12-4-8-3-16-3-8 3-8-9-16 1-12 7-4 6-8 6 0 2-2 1-8-5-16zM1141 1041l3 0 9 6 2 4-3 2 1 5-5-1-5-4-2-4 2-2zM1013 1047l10 4 4 6-10-4zM819 1049l3 0 3 6 8 7 6 9 2 10-5-4zM840 1051l5-2 8 3 16 14 13 27-5-1-14-10-8-19-2 0-4 5-3-1-6-12zM1111 1055l6 2 2 2 0 3-8-3zM813 1057l6 11 4 16-8-2-6-12-1-7zM420 1061l3 0 2 4 0 8-4-3zM1153 1065l6 0 6 5 2 5-6 0-6-5zM975 1075l-2-7 4 3 2 8zM318 1071l3 3 0 8-2 1-2-4zM474 1083l3-1 3 5 4 20 5 0 0 5-4 5-12-16-1-12zM1017 1087l0-2 7 2 7 4 1 4-8-2zM391 1089l2-1 2 2 0 9-4-4zM1181 1091l6 0 6 4 2 6-6 0-6-4zM467 1093l2 0 3 4 1 4-2 5-4-5zM856 1093l3 0 3 4-3 1zM882 1095l3 1 1 3-3-1zM968 1095l1-2 5 4 9 10 3 6-7-2zM376 1101l3 0 2 2 2 6-2 4-4-3zM1002 1103l5 1 7 9 1 4-2 3-6-1-6-6-2-6zM1116 1103l5 1 3 7-3 0-4-4zM445 1107l10-4 1 2-1 8 3 8-1 1-4-1-10-12zM509 1113l7 14-1 5-6-5zM966 1115l1-1 4 2 0 5zM1185 1117l4 0 10 10 4 8 0 8-4 0-10-10-4-8zM745 1121l4 2 2 4 0 4-2 2-2 0-2-2zM1152 1125l7 0 5 2 3 2 1 4-7 0-5-2-3-2zM469 1131l3 6-1 5-2-7zM478 1131l2 0 2 4-4 0zM1135 1137l10 4 3 6-9-2-6-6zM973 1147l5 0 5 4 5 10-1 3-4-1-8-9zM333 1161l0-9 2 2 0 8zM1201 1153l10 4 2 4-2 4-6 2-8-4-2-6zM451 1155l2-1 3 5 0 4-3 4-2-1-1-5zM1221 1159l8 0 4 2 0 4-5 0zM752 1161l3 1 1 3-3 3-2-1zM1074 1165l7 0 5 6-6 0zM1147 1165l5 0 9 8-2 1-8-3zM1198 1171l5 0 4 6-4 0zM763 1177l4-1 4 3 4 6 0 4-14-1 0-7zM408 1179l3 0 3 2 1 4-2 4-4-3zM1005 1179l4 0 9 4 0 2-5 2 13 6 3 6 0 4-3 0-9-7-9-3-2-4 1-4-4-4zM829 1189l-2-8 2 2 2 7zM1097 1185l4 0 6 4 4 4 0 4-4 0-6-4zM758 1193l5 4 7 14-1 4-6-1-4 4-10-11 4-10zM426 1195l1-1 3 1 1 9-4-4zM732 1197l6 0 0 6-7 11-2 1-8 0-4 3-2-1-2-4 14-7zM697 1203l0-5 2 5zM1139 1201l7 2 4 6-7-2zM415 1205l2-1 1 1-1 4-2 0zM955 1211l17 12 1 10-1 6 1 6-12 0-2-3-8-2-4-5-4-11 12 10 2 1 5-4-2-8-5-8zM437 1213l2-1 3 3 1 10-2 1-2-2zM315 1217l2-1 6 5-6 4-2-4zM331 1217l2-2 4 3 0 7-4 0-2-2zM1105 1217l8 4 4 4 0 4-4 0-5-4-3-4zM1189 1219l7 0 4 6-3 1-4-1zM426 1221l3-2 2 1 2 5-2 4-4-1zM1066 1223l5 0 6 4-1 4 3 4-1 2-6-2-7-8zM431 1237l2-1 2 3 1 6-7 0zM707 1237l2 3 1 5-6 0zM1210 1237l1-2 6 2 6 8-6 0zM770 1245l-1-7 13 7z"/>
<path fill="#67ff00" d="M458 169l3 0 0 2-2 1zM475 169l363 0-1 16 3 12 2 28 4 8-3 14 1 22 8 34 5 6 10-3 3-3 6-16 4-20 10-30 7-12 10-4 70-28 44-9 16 0 32 34 2-3 0-4 9-6 6 0-1 2 4 2 13-6 7 0 6-4 4 0 1 4-5 4-8 4-12 2-19 14 28 32 9 18 4 12 10-4 8 4 2 4 16-4 4 3 7-1-3 6-8 4-5 0-1-3-14 5-6 0 0-4-2-2-8-2 6 60 4 20 0 54-5 14 1 1 10-7 3 0 1 2-2 4-8 6-6 0-22 12-30 0-4 2 16 18 10 22 28 40 34 60 8 26 6 36 2 58-2 6 0 22-8 48-2 32-14 60-14 32-15 24-10 10-17 11 0 3-8-1-10 4-14-4-16-16-7-11-7-6-4 4 2 8-1 14-12 4-2 4 2 4-1 5-8-1-6-6-5-10-8-10-17-9-5-11 1-2 4 0 2-2 2-10 4 2 2-4-2-12-3-6-3-2-4 2 0 12-8-4-5-16 5-4 4 2 3-2-1-16 8-8 0-2-2-4-4 0-8 7-6-5-6-1-2 5 5 10-3 3-7 1-8 8-19 8-6 0-9-2 0-6-5-7-6 2-2-1-10-18-4-3-8-2-6 4-4-3-6 0-4 4-8-4-4 1-6 7 4 12 1 12 1 4 14 13 2 7 12 11 22 3 6 10 5 2-2 14-5 4-34 6-8 6-8 1-3 3 1 6 6-1 4-4 8-1 8 5 6 1 5 4-5 12-2 0-6-9-6-5-6 1-5 5-1 2 6 6 10 18 2 10-2 1-10-4-5 3-1 3-4-5-4-1-4 2-4 6-9-13 1-4 8-1 4-5 6 2 5-4-1-10 2-4-6-10-10-4-10 2-7-6 3 6-1 4-5 5-12 5-3-2 4-8-4-8-11-11-8-2-7-9-4-10-7-7-4-9-5-4 4-4-2-12 3-4-3-10 2-8-1-12-14-28-7-20 1-3 2 0 7 5 3 7 8 6 2-1 0-8-8-8-2-25 4 3 4-4 6 6 2-6 4 0 12 18 4 3 4-4 7-1 0-14 7-1 8 8 4 2 4-5-1-14 3-2 6 2 7-4-4-26 3-2-2-26 4-6-4-12 2-12 6 2 1-2 0-40 3-20-5-12 1-8 4-6-2-14 1-10-13-24-4 9-2 1-3-4-1-6 2-4 1-8-8-8 1-18-6-3-1-3 1-14-4-10-2-20-6-5-6-11-3 6 3 10 0 14-2 2-10-13-3 1-5 6-2-6 3-2 0-4-3-5-3 9-7 6-4 1-4 6-6-7-2-8-3 2-3 14-4 2-2-1-2-5-1-10-3-3-6 0-8-11 2-7 5-3 1-6-1-6-4-6-1-16-4-12-5 14 1 10-11 8 5 6 0 6-6-2-3-8-2-18 3-16-2-6-2-1-1 1 0 18-1 2-6-8-4 13-2-3 3-16-3-21-2 1-1 4 1 10-2 5-4-3-6-10-2 0-12 13-5-23-7-10-6-1-6-16-6 3-4-2-6 6-2-2 0-6-6-6-1-10-14-18-3-8-6 5-3-1-10-18-1-14-6-3-4-10-4 0-1 9-3 2-2-2-3-6 1-6 2-5 5-1-1-6 2-8-4-11-5 1 2 14-1 2-4 0-2 23-4-9-8-8-5-12 0-8-5-6-6 0-4 4-2-2-2-10-5-6 1-2 4 1 0-7-2-2-4 0-6-16 1-8 6-8zM531 224l-1 3 1 5 2-3zM713 459l-2 1 0 5 2 12 2 1 2-1-1-14zM813 299l-2 2-1 8 3 5 3-3 2-8-1-3zM819 332l-4 7 2 2 4-2 3-4-1-2zM901 319l-8 6-6 1-6-2-20 14-6 6-2-1 2-10-4-6-6 4-4 5-1 7 3 4 8-2 1 2-7 8-5 24 1 3 10 1 4 4 0 7-7 19 1 2 8-4 5 4 0 4-6 10 1 8 6-2 11-10 11-18 0 22 2 5 6 0 4-4 16-27-1-6-7-4-2-5-6 3-4 8-4 2-2-4 3-12-3 1-6 8-4 0-2-13 5-8-1-5-4-3 2-7 4-2 4 3 6-2 8-10-1-16 6-6zM909 278l-3 11 5 9 7-11 1-6-4-3zM923 388l-3 3-1 4 4 4 5-4 1-4-2-3zM973 868l6 15 1 10 12 16 6 12 7 6 2-6-2-8-12-21-1-9-15-15-2-1zM763 882l0 4 6 8-2-8zM821 382l-6 7-5 10 1 8 2 2 4-1 4-3 6-12 1-10-3-2zM849 485l-7 8 0 4 3 3 6-11zM873 497l-8 6-4-4-4 0-5 6 0 4 3 3 6 1 2 3 4 0 5-5 4-10 0-4zM909 423l-11 10-1 6 2 4 8-5 5-9 1-4zM849 523l-2 2 0 3 3-3zM871 175l6-5 1 1-1 6-6 5zM904 175l3-2 1 4-3 7-4 3-1-4zM1076 175l3 2-4 4-9 4-3-1 4-5zM1106 177l5 0 0 3-7 5-9 0 3-4zM1175 177l4 0 0 2-3 4-7 4-4 0 0-3 3-3zM309 179l2-1 2 7-2 5-2-3zM851 179l3 0-1 6-6 5 0-7zM925 185l3 0-1 6-6 5 0-7zM1123 185l5 0-3 6-8 4-5 0 3-6zM1099 191l6 0 0 4-6 6-6 1 2-7zM885 195l2 0 0 5-6 5 0-5zM1133 195l5 0 0 2-3 4-8 4-2 12-18 14-5 0 3-10 17-16 1-4zM379 207l4-1 4 6 0 5-2 3-3-1-3-4zM1152 219l6 0-3 6-7 4-6 0 3-6zM315 223l2-1 2 2 0 11-4-2zM429 223l4 1 2 5-2 4-4-2zM1136 231l5 2-4 5-6 0 0-3zM350 233l3-1 2 4 0 5-2 1-2-1zM1138 239l7 0-1 2-10 8-7 0 4-6zM467 243l2 7 0 3-6-1-4-5zM1169 245l4 0 0 4-10 6-4 0 0-4zM489 271l0-20 6 14 2 8-2 3zM1193 255l4 0 0 2-3 4-7 4-4 0 0-3 3-3zM339 257l2 0 2 3 0 5-4-1zM1119 261l8 0 0 2-6 4-8 0 0-2zM1152 265l7-1 2 3-10 8-8 0-5 6-7 0 2-6 8-2zM1165 267l6 0-1 6-10 8-11 2-1-2 3-2 10-3 0-5zM328 273l3-1 4 5 2 5-1 3-5-4zM379 273l4 4 0 5-4-4zM301 275l2 6 0 4-2 2zM477 281l-2-5 2 0zM486 279l3-2 3 8-4 12-3 1-5-3-1-8 2-3 4 1zM1205 281l4 0 0 2-3 4 1 4-8 6-7 0 4-10zM369 291l2 0 0 9-2-1zM524 301l3-4 1 4-1 5zM1202 305l6 0-1 4-16 10 1 2-3 4-6 1 3-11zM1134 311l3 0-1 4-10 4 1-4zM323 313l2 0 0 6-2 0zM1156 313l5-1 0 2-11 9-5 0 0-3-4 3-5 0-1-2 8-6 2 0 2 4zM1172 315l6 0-3 6-7 4-6 0 3-6zM1137 327l6 0 0 4-3 4 7 0 0 4-10 9-9 1-1-4 5-4-5-2zM328 329l3 1 4 14-3 7 4 16-3 3-6-3-6-17-8-2-1-3 3-7 6 2 6 0zM1165 331l4 2-3 4-7 4-5 0 3-6zM1193 331l4 0 4 3-2 5-8 3-8-1 0-4zM307 341l2 0 1 4-1 5-2 1-2-4zM363 343l2 2 0 4 0 3-2 1-2-4zM1246 345l6 0-3 6-7 4-6 0 3-6zM1132 353l10-4-2 4 3 1 10-3 16 0-4 6-7 4-7 0 1-2-3-1-16 8-4-5-4 0zM1226 349l6 0-4 6-9 4 0-4zM408 355l5 0 0 8-6 0zM516 355l3-1 0 5-2-1zM1190 355l3 1 0 3-4 4-4 2-8 0 0-2 6-6zM529 359l1 2-1 6-1-6zM425 363l2 0 2 4-2 4-4-4zM547 363l2-1 2 3-2 5-2-1zM477 370l0-6 3 3-1 4zM1162 365l5-1 3 1 0 2-6 6-9-1 0 5-3 4-9 4-1-2 3-6-2-4 2-2 8-4 4 3zM304 371l1-6 2 2 0 4zM399 373l2-7 2 1 1 2-1 10-2-1zM363 369l4-1 2 4-2 6-4-3zM1185 369l2 2-6 10-8 4-5 0 3-6zM1218 373l6 0-3 4-8 2 0-2zM301 384l0-8 1 5zM346 377l3 0 2 2 0 8-3 2-2 8 5 0 2 4-2 5-9-3 1-8-1-6 1-4 3-2zM315 389l4-11 1 3-1 11zM1147 387l4 0 0 2-3 4-7 4-4 0 0-3 3-3zM1193 387l4 2-2 4-4 4-6 2-2-2 2-4zM312 393l3 0 1 6-1 2-2-2zM417 393l2-1 2 2 0 11-4-2zM361 395l2 1 1 7 5 3 0 7-2 3-4-5 1-6-4-4zM1162 395l6 0-3 6-7 4-6 0 1-6zM1233 397l4 0 0 2-3 4-7 4-4 0 0-3 3-3zM337 407l0-10 3 2-1 11zM378 401l5 3 2 7-2 3-4-2-2-5zM1141 403l4 1 0 5-6 4-6 0 0-4zM1182 405l2 2-1 5 5-3 6 0-1 4-10 6-5 0-1-3-6-1 4-6zM317 411l2-2 2 3-1 7 2 4-1 8 2 8-2 4-4-4-2-20zM329 411l4 0 1 6 5 8-1 4 3 5 0 6-6 5 0 7-4-4-1-5 1-4 3 0 0-4-7-9-2-7zM342 411l3-1 2 1 0 7-4-1zM353 411l4 2 0 7-4-4zM405 413l2 2 0 4-2-2zM305 415l4 2 0 9-2 2-4-7zM377 415l2 0 6 10-2 4zM1154 415l7 0-10 9-7-1zM417 419l5 6-1 6-2 1-3-3zM401 423l4 0 2 2 0 7-2 1-4-2zM629 425l2-1 7 15 9 8 2 12-2 3-4-11-10-8-6 0-1-12zM1152 425l5 0 4 2 0 7-16 6-2-8zM392 427l3 0 2 4-2 3-4-1zM1179 431l8 0 0 2-10 12-8 0 2-8zM301 433l2-2 2 2 0 9-2 1-2-1zM374 433l3-2 2 2 0 6-4 0zM357 439l4 7 2-3 2 3 0 7-2-3-4 1-2-3-2-7zM615 446l-2-9 2 3zM380 441l5 3 2 5-2 5-4-2-2-5zM413 445l2-5 4 1 0 9-4-1zM407 449l4 3 5 9-1 4-4 0-6-6 0-8zM371 451l2-2 2 2 2 10 2 1 0 5-2 2-2-4 1-4-3-3zM1125 455l6-1 2 1 0 2-6 6-6 2 0-6zM308 459l5 0 1 2-1 10-2 0-4-8zM361 459l2 0 2 3 0 6-2 3-4-6zM384 459l2 0 2 4-3 7-2-5zM1178 459l6 0-3 6-7 4-6 0 3-6zM347 461l2 2 0 4 4 2 2 4 4 13 4-1 2 1 2-5 5 0 3-3 4 4 3 23-4 4-1 6-4-1-4 10-5 3-1 6-10-5-6-13-4-2-4 4-3-4 0-8 3-4-1-6-4-6 2-8-2-10 1-2 2 1 3 5 3 0 4-6zM349 479l-7 6 0 6 3 4 2-6 4-2 1-6zM355 493l-1 8 3 2 1 6-3 2-2-4 1-4-3-1-1 7 5 7 4 0 1-3 0-10-2-8zM1107 461l10-2 3 2-5 4-11 4-1 2-8 6-8 0 4-4 10-4 0-4zM1149 463l2 2-6 6-6 2-11 0 2-4 7-4zM301 465l4 6-2 6-2 1zM323 465l4 2 0 8-4-3zM380 469l4 2 1 4-2 3-4-5zM1116 469l5-1 0 6-6 5-8 2-1-2 1-3zM301 485l4 1 0 8-4-1zM1214 485l6 0-3 6-7 4-6 0 3-6zM391 497l4 1 0 7-4-2zM312 499l3-2 4 2 0 8zM319 507l3 0 5 8 4 2 0 10-4-10-4 3-4-3zM384 509l3 0 1 6-1 4-3 2 1 8-2 3-2-3-1-6zM301 541l0-26 7 6-4 8 1 13zM314 527l3 0 2 2 2 4-2 4-4-2-2-4zM1205 529l3 2-5 4 2 1 6-1 0 3-6 5-8 2 1-4 5-4-5-2 1-2zM336 531l3 2 1 6-3 2-2-4zM407 537l4 0 2 3-1 5-3 0-2-3zM340 541l3 1 5 9 1 4-2 6-2 0-1-6-5-6zM306 543l3 0 0 16-4-4zM1226 543l6 0-3 6-7 4-6 0 3-6zM322 549l3 2 0 5-2 1-2-3zM1203 557l4 0 0 2-3 4-7 4-4 0 0-3 3-3zM335 559l4 1 0 5-3 0zM395 561l4 1 2 5-1 6-3 2-4-6zM1204 573l6 0-3 6-7 4-6 0 3-6zM336 575l3-1 2 1 2 4 0 7-2 3-4-1zM348 575l3 0 2 2 0 9-4-1-2-4zM1259 575l4 0 0 2-3 4-7 4-4 0 0-3 3-3zM370 577l1-2 2 2 2 4-2 4zM329 581l2 0-2 4-2 0zM1180 583l6 0-6 6-6 0zM330 593l3 0 2 3-2 5-3-2zM353 599l2 0 0 6-4-2zM340 601l3 2 0 7-4-3zM365 601l3 2 1 4-4 4-3-6zM372 603l3-1 6 6 4 1 0 10-11-4-2-4zM323 609l2 0 3 4-1 5-2 0-2-3zM1187 609l6 0 0 3-9 5-5-2zM301 621l6-2 3 8 4 4-3 17-3-3-7-15zM354 623l4 0 2 4-1 5-2 2-6-3 0-3 2 3zM318 631l1-8 3 4-1 7zM373 633l0-6 2 1 3 5-1 5zM332 631l5 0 3 4-1 9-2 0-4-5zM1196 633l7-2 4 2-7 6-7 2-4-2zM1233 633l6-1 3 1-7 6-9 0zM322 635l3 0 2 4 0 3-2 1-4-2zM344 635l3-1 3 1 0 6-3 2-5-4zM375 643l5 4-2 10-9 6-3-8zM1207 649l7 0 1 2-4 2-8 0 0-2zM382 653l3-1 1 3 0 4-3 4zM317 657l4 1 0 4-4-3zM304 663l3-1 4 6 5-1 5 10 0 6-8-4-2-7-6-1zM340 663l6 2-1 7-2 1-5-4-1-4zM1238 663l5 0 2 2-6 3-6-1zM363 675l2-3 0 5zM360 679l3-1 3 7-1 6-2 1-3-5zM368 679l3-1 3 3 2 6-3 3-4-5zM1189 683l14 0 0 4-4 2-14 0 0-4zM1250 683l7-1 4 1 0 3-12 1zM1225 685l9 0 3 2-6 4-9 0-3-2zM301 687l4 0 1 2-1 3-3 1 1 4 4 4-2 6-4-3zM318 687l3 2 1 4-3 5-4-5zM345 693l3 0-1 9-2-1zM1195 693l6 0 2 4-8 2-3-2zM1237 693l9 0 0 2-7 1-2-1zM313 697l6 6 6 14 0-2 4-1 2 3 1 10-6 4 1 8-2 3-4-2 0-7 0-2 5-4-2-6-4-2-5-6zM1219 699l5 0 3 2-1 2-9 0-1-2zM333 701l2-2 3 4-1 11-2 0-2-3zM375 703l0-4 2 1zM386 703l5-3 3 3 0 6-3 2-4-4zM396 709l3-1 2 3 0 6 3 4-1 9-3-1-2-10 2-2-4-4zM307 713l3 6-3 7-3-5 0-6zM1212 713l8 0 4 2 0 2-4 2-8 0-4-2 0-2zM348 719l5 0 2 4 0 4-4 3-4-3-1-4zM302 731l3-2 4 6 4-6 2 10-2 1-2-1-4 6-4-2-2 6 2 6-2 5zM393 737l4-8 8 7 0 5-2 3-4-2-4 1zM806 733l3-2 2 2-2 5zM362 735l3 0 3 2-1 4-4 1-2-1zM344 743l3-8 5 6 0 4-3 3zM1264 741l11 0 5 2 1 3-12 1-6-3zM332 755l3-11 3 3 0 4-2 2-2 6-1 11-2-1-4-10zM385 747l2-2 2 2 2 6 0 6-2 0-3-4zM1183 747l9 0 7 4-2 2-9 0-5-2-2-2zM357 755l4-1 2 3-3 20 4 8-1 5-4-1 0-7-4 2-3-3 1-9 5-3 0-4-3-6zM341 757l2-1 2 3 0 10-4-4zM318 765l3-1 8 21-2 9-2 1-6-8-3-18zM335 773l2 0 1 4-1 0zM1199 775l8 0 4 4-2 2-4 0-4-2zM301 801l0-24 4 6-1 4-3 4 6 7 0 5-2 1zM378 781l3-1 3 3 2 8-5-2zM349 787l3 2 0 4-4 2-1 4-2-1-1-7 1-2 2 1zM333 791l6 3 5 19-2 10 0 8-1 1-6-4-4 4-2-1-6-8-2 4-4-6-2-20 2-2 1 12 3-1 4 7 4-1 4-5-3-6 3-6zM404 793l3 1 2 3 0 6-2 3-5-5 0-6zM373 795l6 0 0 8-2 3zM362 801l3-4 5 2 1 6 4 4 3 14-3 9-6 1-6-9-4 1-3-2 0-8-2-4 3-7 2-1 2 0-3 4 3 8 5-2 1-4zM399 807l4 2 2 4 0 5-4 0-2-3zM1238 807l9 2 3 4-3 2-6-2-4-4zM301 809l4 4 4-3 3 3-1 9-4 0-4 7 2 13-3-7 1-14-2 0zM347 825l2-2 2 2 3 10 5 9-4 1-3-8-5-6zM710 827l3-2 3 4 2 18-1 2-8 3-3-5 0-8zM341 837l2-1 2 2 1 7-1 2-2-2zM306 843l4 0 1 6-6 5-4-6 0-4 4 1zM371 851l4 0 4 6 1 8-3 3-2-3 0-8zM366 857l3-1 3 3-1 7-5-3zM359 859l5 2-1 6-4 0-2-4zM839 863l8 3 6-2 24 23 4 1 4-1 2 4-8 0-14-6-1-8-3-2-4 1-2 5-16-3zM306 877l5-3 5 13 2-4 8 0 0 14-5 0-4 3-1-5-3-5-4 3-3-2zM358 875l3-1 2 5-2 18 1 8 3 5 6-7 2 4 0 10-2 1-3-1-5-5-5 5-13 0-4-8-1-4 3-4 6 3 4 5 1-2 2-6-4-4 0-4 4-4zM331 877l4 0 6 16 0 6-7-4-2-10-1-2zM371 887l2 0 2 4 4 2 2 3 0 6-4-3-2-6-2 2-2-2zM393 897l4 1 3 5 0 6-3 4-4-4-2-10zM308 901l7-1 2 11 4 2 2-10 2-2 4 12 0 3-3 3 0 4-9 3-4-8-11-3-1-12 6 3zM1204 903l3-1 5 1 5 4 0 3-8-1zM413 905l2 0 0 8-4 0-5 4-1 4-3 0-4-4 1-3 5-3 1-4 4-1 2 3zM925 909l10 4 1 8 7 12 4 3 4-1 2 2 5 12-1 3-8-4-4-5-12-16-2-8-8-6zM389 919l0-8 2 1 0 7zM941 915l4-4 4 5 6 1 1 6-7-4-4 1zM301 917l2 3 0 5-2 0zM374 929l5-4 0 5-4 2zM367 931l4 5 6-1 0-3 2 3-2 0-1 8-5-2-4 6-3-2 0-6zM325 933l2-2 3 2 1 4-1 2-5-1zM379 933l2-1 2 2 4 8 2-3 3 2 2 6-1 9-13-7-2-8zM418 933l3 0 2 9-2 0-3-3zM301 937l4 0 2 1 0 7-3 0-3-3zM739 937l1 2-1 3-1-3zM401 939l2-2 4 3 2 5-2 6-2 1-4-5zM339 941l2 1 1 3-1 4-2 1-3-3zM357 943l8 5 2 5-2 2-6-3zM414 949l3 0 3 2-1 9-4-3zM305 951l2-1 4 4 0 7-2 0-4-4zM380 957l3 1 1 11 5 4 2 4-2 4-8-8zM729 959l10 1 6 9 14 12 2 8-2 5-6 3-12-12-1-8-12-14zM720 961l3-1 4 3 0 8-7-6zM337 963l2-2 4 2 2 4-1 8-3 0-2-2zM1038 963l3-1 3 3-1 8zM1121 963l6 0 4 4 0 3-8-3zM423 965l3 0 3 6 0 6-2 1-4-4zM1187 967l6 0 5 4 3 6-6 0-5-4zM353 969l4 2 0 6-4 0-2-3zM983 969l7 10-1 6-2 2-3-2-3-6zM1213 971l8 2 4 3 2 5-8-2-4-3zM1119 973l8 2 4 4 0 3-2 1-6-2-4-4zM669 975l2-2 2 2 2 14 8 5 7 9 1 10 2 1 4-2 2 2 4 9 9 8 5 12 4-2 2-4-5-6-1-4 3-14 1-2 4 6 6 4 3-12 0-4-5-1-3-3 2-6 3-1 2 2 8 13-1 10-4 10-3 22-3 4 0 6-15 58 2 12-7 8-3 11-19 37-9 32-3 26-199 0-3-4-5-3-4 1-3 6-11 0 1-6-5-6 5-8 0-6-6-8 11-12 4 0 2 11 6 6-3-17 3 0 8 7 1-3-1-6 2 0 6 20 2-4-2-12 2-11 8 14 6-6 4 2 8-2 2-1-2-18 2-6 3 2 0 6 5 9 2-1 3-8 1-14-4-8 0-8-3-8 0-22 1-2 8 1 6 4 4 1 4 0 5-4-1-4-3-4 0-4 1-1 4 2 6-3 3-4-3-16 2-9 2-1 12 8 2 10 6 11 0-11 2-3 4 0 6-9 6 6 12-5 4 1 4-1 2-5-2-12 4-4 5 2 3 17 6 3 2-1 3-5 1-16-1-8 3-6 6 0 8 12 6-6 4 3 4-1 4 4-1-10 6-12-3-8 3-6-2-8 2-8-11-9-3-9 2-6zM725 1030l-1 7 3 1 0-7zM545 1150l-4 3 0 8 4 1 4 5 4 1-2-11-3-6zM318 977l3 0 1 2-1 7-2 0-2-5zM329 979l3 0 3 4 0 6-4-1-2 9-2 1-2-2-1-9 1-2 3-2zM422 983l3-1 3 3 1 6-1 2-4-2zM341 987l4 6 0 7-2 3-4-7 0-7zM1173 987l6 0 7 4-1 1-8-1zM417 989l2-2 4 2 0 12-4-2zM698 991l6 4-1 5-5-1zM775 998l2-6 3 3-3 5zM1205 993l8 2 4 3 2 5-8-2-4-3zM367 995l2-1 2 2-1 7-3-2zM654 1003l1-9 2 1 1 4 1 10-2 1zM1109 999l4 0 3 2 3 6-8-2-2-2zM325 1009l2-9 2 3 0 8-2 2zM1120 1001l5 0 4 4 0 2-6-2zM307 1003l2-1 2 1 0 6-4-2zM1130 1009l7 2 2 6-4 0-3-2zM366 1013l3 6-2 6-2-6zM1161 1013l6 0 5 4 3 6-6 0-5-4zM867 1021l6-1 6 3 23 40 9 9 10 5 4-6 8 2 2 2 5 10 1 8 6 10-2 1-6-3-2 2-3 16 3 15-14-12-6-2-8-13-9-26-12-24-3-2-6 2-4-2-2-10-3-6-3-3-8-1-4-8zM915 1101l-2 2 1 4 4 8 3 2 2-2 0-8-4-5zM354 1023l3-1 4 4 0 9-3 0-3-3zM663 1025l2-2 2 2 3 8-3 0zM1096 1029l1-2 4 2 6 6 0 4-2 1-5-3zM1108 1035l5 2 2 6-8-4zM1186 1037l4 0 6 4 3 4-1 2-4 0-6-4-3-4zM778 1049l9-9 6 11 0 3-6 3 2 4-1 14 2 8 15 16 20 30 9 16 5 6 6 3 4-2-1-11-19-28 0-4 4 1 6-6 2 1 10 7 11 5 8 14 19 24 3-4-4-18 7-6 1-2-3-18 11 18 11 8 14 29 4 0 2-5 10 11 12 5 16 26 4 3 6-1 4 6-14-2-6-5-8-2-6 2-6-1-4 5-14-8-8-1-1-6 2-6-2-6 2-10-6-12-5-8-4-2-2 2-1 8 5 14-6 3-3 5 3 10 5 6 7 8 4 0 4 6 5 10 0 12 10 16-11 0 1-6-1-6-8-14-4-3-7 3-3-2-6-12 1-12-2-8-5-6-10-19-6-4-5 1-2 2 0 10-3 2-6-8-6-4-2 2-1 4 2 20 3 6 10 9 4 0 3-3-1-11 7 15-6 4 0 6 2 8 7 12 4 4 4-1 3-3 1-7 10 13 14 8-36 0-2-6-10-10-6-12-14-18-16-28-8-2-6-7 0-3 6 3 5-3 0-10-3-6-4-3-10-3-14-20-6-5-4 0-5 5 3 12-4 1-5 5 2 8 9 9 14 5 4 12 3 14 13 16 3 8 13 12 14 4 9 16 5 6-13 0-5-4-3 4-6 0-3-5-6-2-7 3-2 4-24 0 0-6-9-17-2-11 10 10 8 3 5-3 0-12-23-35-4-9-8-9-6-13-2-14-4-8 4-8-9-18 1-10 6-3 6-9 6 1 3-3 2-12zM1141 1041l12 6 1 4-2 2 1 4-4 0-6-5-2-3 3-2zM1013 1047l7 2 7 7-6-1-6-4zM597 1051l2-2 4 8-2 5-2 1-2-3zM841 1051l4-1 8 2 14 13 14 26-4 0-14-9-6-17-2-2-2 0-4 5-2-1-7-12zM639 1055l2 4-2 3-1-3zM1111 1055l6 2 2 5-7-3zM809 1061l4-3 2 3 8 22-8-2-2-3-5-11zM826 1059l3 0 4 4 6 9 1 7-3-2zM421 1061l4 5 0 6-4-2zM1153 1065l6 0 5 4 3 6-6 0-5-4zM974 1071l1-2 2 2 2 6zM317 1073l2-1 2 3 0 6-2 1zM1017 1087l2-1 5 1 6 4 1 4-7-2zM1181 1091l6 0 6 4 2 6-6 0-6-4zM857 1093l4 2 1 2-4 0zM970 1097l3 0 10 10 2 6-8-4zM377 1101l2 0 2 2 0 9-4-3zM1003 1103l4 1 6 9 0 7-6-1-6-6-2-6zM1116 1103l5 1 3 7-5-2zM966 1115l5 2 0 3-4-3zM1185 1117l4 0 10 10 4 8 0 8-4 0-10-10-4-8zM745 1123l2-1 4 6-1 3-3 2-2-4zM1152 1125l7 0 5 2 3 3 0 3-10-2-4-3zM487 1139l4-7 1 3-1 6zM1135 1137l10 4 3 6-9-2-5-6zM974 1147l3 0 6 4 4 12-3 0-9-10zM333 1153l2 1 0 8-2-1zM1201 1153l10 4 2 4-2 4-6 2-8-4-2-6zM451 1155l2 0 2 4 0 4-2 3-3-3zM1221 1159l8 0 4 3 0 3-9-2zM753 1161l3 4-3 2-2-2zM1075 1165l6 0 5 6-6 0zM1147 1165l5 0 9 8-2 1-8-3zM1198 1171l5 0 3 6-5-2zM485 1179l0-7 2 2 0 7zM765 1177l5 2 5 8-14 0 0-6zM408 1179l5 2 1 4-1 3-4-2zM1007 1179l10 4 1 2-7 2 15 6 3 6 0 3-2 1-10-7-8-3-2-4 1-4-5-4zM827 1183l2 0 2 6-2-1zM1097 1185l10 4 4 4 0 4-4 0-6-4zM501 1187l3 0-1 4-2 0zM427 1195l2 0 0 6-2-3zM756 1195l3-1 3 3 7 12 0 4-6 0-4 4-9-10zM733 1197l4 0 1 6-7 10-2 2-8-1-4 4-2-1-2-4 14-6zM1141 1201l7 4 2 4-7-2-4-4zM437 1213l4 2 2 6-2 5-4-7zM955 1213l4 0 5 6 7 4-2 8 3 14-10 0-5-5-6 0-4-5-4-10 4 2 5 6 5 2 9-4 0-2zM331 1217l4 0 2 2-1 6-3 0-2-3zM1107 1217l10 8 0 4-4 0-6-5-2-3 0-4zM1190 1219l6 0 4 6-7 0zM426 1221l3-1 2 1 2 4-2 4-4-2zM1067 1223l4 0 6 4-1 4 3 4-2 2-4-2-8-8zM1210 1237l6 0 7 6 0 2-6 0zM431 1239l2-2 1 2 1 6-5 0zM705 1245l2-7 3 7zM769 1241l5 0 7 4-11 0z"/>
<path fill="#c0fd00" d="M476 169l361 0 0 20 2 8 2 28 4 8-2 14 0 24 8 32 6 7 10-4 3-3 6-16 4-20 11-30 6-11 11-5 69-27 44-10 16 1 36 37 3-1-6-4 1-6 5-4 9-2 0 2 4 3 13-7 7 0 10-4 1 4-5 4-8 4-12 2-19 14 28 32 9 18 4 13 7-5 5 0 6 4 2 4 16-4 4 3 6-1 1 2-3 4-8 4-4 0-2-3-16 5-4 0 0-4-5-2 0-2-6 0 7 58 3 22 0 54-6 20-21 11-30 0-4 3 15 16 12 26 26 36 33 58 9 30 6 36 2 58-12 108-14 60-13 31-16 25-10 10-16 10-1 4-7-1-10 4-14-5-16-15-7-11-7-6-4 6 2 6-1 14-9 2-5 4 1 6-1 4-7-1-6-6-2-7-10-12-4-3-14-7-4-8 0-4 4 0 2-2 2-9 4 1 2-2 0-6-2-10-6-6-4 2-2 10-6-2-5-16 5-4 4 3 3-3-1-16 9-10-3-4-4 0-8 6-6-5-6 0-2 1 0 4 5 10-3 3-8 1-2 5-5 3-19 7-6 1-8-2-4-12-4-1-4 2-2-2-10-17-4-4-8-2-6 3-10-2-6 3-6-3-8 4-3 5 5 13 0 11 3 6 11 10 4 8 12 11 22 3 6 10 4 3-1 13-5 4-34 5-10 7-8 2-4 6-6-2-10 1-10-9 5 10-1 4-14 8-4-2 4-6-3-6-11-12-10-5-7-9-3-11-6-3-2-4-1-4 3-2 2-4 2-1 10 4 2-3-8-9-4-8-2-2-2 1-6-9 2-9-3-16-19-44 4 0 4 9 10 6 4 0 1-9-8-14 4-6 1-8 6 2 1-6 3-1 16 22 6-5 4 2 2-2 2-6-2-8 2-2 4-1 10 10 4 0 4-5 0-14 6 2 8-2 0-16 8-6-9-22 0-12 4-6-4-14 1-7 8-1 4-10-3-18-1-18 4-20-2-7-3-3 5-3 1-3-5-22 2-16-6-6-8-19-5-5-3-10-3-2 1-8-7-16-3-14-3-8 0-24-10-8-4-10-7-11-3 7 2 8-4 12 4 8-1 3-12-14-4-1-4 2-2 6-8 5-2 0-1-11 1-2 6 5 2-1 2-4-1-6-12-8-5-6-4 4-6 2-9-8-4-12-6-6-5-20-2-4-4-3-4-15-2 0 0 2 1 12-2 6 2 24-3 3-2 0-3-5 0-24-3-4-10-2-4-12-4-4-2 0-2 8-4-9-2 1 0 9-2 1-4-2-2 6-4 2-4 6-1-12 2-8 3-2 1-12-6-6-11-19-2-2-4 1-8-7-2 1 0 6-8-7-10 3-3-4-1-6-4-6-4 1-4-3-3-18 1-14-6 4-2 6-6-1-2 2-1-1 0-8 3-7 3-1 0-4-3-4-6 2-4 4-3-2-1-8 1-18-4-8 5-12-8-15-2-2-2 5 2 20-6-6-5-8 0-6 2-6-1-4-2-2-4 2 0 20-4 8 6 6-2 3-12-5-6-8-2-9-4 6-7 1-1-6 2-8 0-14-8-8-4-8 4-8zM501 193l-5 2 3 10-2 12 8 9 1-5-1-20zM503 183l-2 2 1 4 5 1 1-5zM537 190l-3 5 0 4 7 9 3-9-4-8zM813 298l-3 3 0 8 1 4 2 1 3-1 2-10-1-3zM899 318l-8 7-4 0-4-3-3 1-23 18-4-21-2 0-9 13-3 12-5 6-1 6 2 3 2 0 4-10 7-1-5 6-7 24 3 7 10-2 6 3 0 6-4 12-11 18 1 3 4-1 10-12 4 0 2 5-7 9 1 12 8-2 18-19 2 1 4 16 4 1 6-4-1 7 3 5 9-7 6-10-1-4-4-1-10 8 2-7 11-18 1-6-7-6-3-7-6 4-6 8-1-1 0-4 5-13 0-4-8 7-6 9-3-1 0-2 4-18-1-6-4-2 0-4 3-2 3 5 2 0 8-5 7-10-2-14 6-6 1-4-2-5zM909 269l-4 8 0 12 4 10 2 1 4-4 5-13-2-4-6-4-1-6zM925 387l-7 6 1 4 4 2 4-2 2-4 0-4zM975 867l-3 2 6 14 1 10 13 16 6 12 7 6 3-6-2-8-13-23-1-7zM751 817l8 14 7 6 3 12 8 6-1-8-8-12-6-14-9-6zM817 333l-3 6 3 3 4-2 4-5-4-4zM838 481l-9 8 0 7 2-1 6-8zM849 485l-7 6-1 6 2 3 4-1 4-10zM875 496l-10 6-4-4-6 2-4 7 2 5 10 5 4-1 5-5 5-12zM761 877l0 8 8 14 4 2 0-4-3-10-5-8zM823 381l-7 6-6 10 0 8 3 4 8-3 7-13 1-11-2-2zM849 520l-5 7-1 4 2 2 7-8 0-4zM821 472l-4 6 0 5 4-4 2-4 0-3zM875 171l3 0-1 6-6 5 0-7zM901 179l6-5 1 1-1 6-6 5zM1077 175l2 2-4 4-10 4-2-2 4-4zM1106 177l5 1-4 5-4 2-8 0 3-4zM1177 177l2 2-3 4-9 4-2-1 3-5zM311 179l1 6-1 4-2-6 0-3zM851 179l2 0 0 5-6 5 0-5zM925 185l2 0 0 5-6 5 0-5zM1123 185l4 0 0 4-10 6-4 0 0-4zM1099 191l6 0 0 3-6 7-6 1 2-7zM1133 195l4 0 1 2-3 4-8 4-2 12-15 12-8 2 3-10 18-16 2-6zM883 197l4-2 0 4-2 4-4 2zM380 207l3 0 2 2 2 6-2 4-4-1-2-4zM1153 219l5 0-3 6-8 4-5 0 3-6zM315 223l2 0 2 2 0 8-2 2-2-2zM429 225l2-2 2 2 0 7-4-2zM1137 231l4 2-2 2-2 3-6 0 0-3zM351 233l2 0 2 5-2 3-2-1zM1138 239l6 0-3 6-7 4-6 0 3-6zM1169 245l4 0 0 2-3 4-7 4-4 0 0-3 3-3zM504 251l3-2 2 2 1 10-1 3-4-5zM1195 255l2 2-3 4-9 4-2-1 3-5zM1119 261l8 0 0 2-6 4-8 0 0-2zM1153 265l6-1 2 1 0 2-10 8-8 0-5 6-7 0 3-6 7-2zM1165 267l6 0-1 6-10 8-11 1 2-3 10-3 0-5zM329 273l2 0 4 4 1 6-1 2-4-4zM301 277l2 4-2 5 0-1zM1207 281l2 2-3 4 1 3-2 3-7 4-6 0 4-10zM482 289l2 2-1 2-1-2zM559 305l1 2-1 3-1-1zM1203 305l5 0-1 4-16 10 1 2-3 4-6 1 3-11zM1127 315l10-4-1 4-9 4zM1156 313l5 0-2 4-9 6-5 0 0-3-5 3-4 0-1-2 8-6 2 0 2 5zM323 315l2-1 0 4-2 0zM1173 315l5 0-3 6-8 4-5 0 3-6zM1137 327l6 0 0 4-3 4 1 1 6-1 0 2-10 11-8 1-2-4 6-4-6-2zM1193 331l4 0 4 4-2 4-8 3-8-1 0-3 3-3zM1155 337l10-6 3 2-5 6-9 2zM327 337l4-2 2 4 1 8-2 4 3 12-1 6-7-2-6-18-8-2-1-2 3-6 12 2 1-2zM362 345l3 2 0 4-2 1zM1247 345l5 0-3 6-8 4-5 0 3-6zM1227 349l5 0-1 3-6 5-6 2 0-4zM609 351l2-1 1 3 1 14-3-4zM1135 351l6-2-1 4 3 1 11-3 14 0-3 6-7 4-6 0 0-2-3-1-12 7-4 1-4-5-3 0zM410 355l3 2 0 5-2 1-2-2zM1183 357l8-2 2 4-8 6-8 0 0-2zM425 365l2 0 0 5-2-1zM1163 365l7 0-1 4-5 4-9-1 0 5-3 4-9 4-1-2 3-6-1-4 1-2 8-3 4 3zM304 367l3 2-2 2-1-2zM401 367l2 0 0 2 0 9-3-3zM621 369l4-1 2 3 0 6-2 2-5-4zM1185 369l1 2-3 8-10 6-4 0 0-4zM1218 373l6 0-3 4-8 2 0-2zM317 381l2-1 0 11-3-2zM344 385l5 2-4 9-3-5zM1149 387l2 2-3 4-9 4-2-1 3-5zM1193 387l4 2-2 4-4 4-6 2-2-2 2-4zM313 393l2 1 0 6-2-2zM1163 395l5 0-3 6-8 4-5 0 1-6zM349 397l2 2 0 6-4-2-1-4zM360 397l3-1 0 7-2 0zM1235 397l2 2-3 4-9 4-2-1 3-5zM337 399l2 0 0 9-2-2zM650 399l2 2-1 3-1-3zM1142 403l3 1 0 5-6 4-6 0 0-4zM364 405l3-1 2 3 0 7-2 2-4-7zM663 405l2-2 2 2 1 4-1 4zM687 413l0-9 2 7zM1178 407l5-2 1 2-2 4 1 1 6-3 5 0 0 2-6 6-10 2-1-4-5 0zM317 411l2 0 0 8 3 4-2 8 3 9-2 3-4-5zM330 411l3 1-1 7 9 17-2 6-4-2-1-7-7-8-1-8zM343 411l4 1 0 6-4-1zM353 413l2-2 2 3 0 5-2 0zM1154 415l6 0-9 9-7-1 3-4zM305 417l3 0 1 7-2 3-2-2zM417 421l2 0 2 4-1 6-3-2zM402 423l3 0 2 3 0 5-2 2-4-3zM1152 425l9 2 0 7-4 3-12 3-2-7zM1179 431l6 0 2 2-11 12-7 0 3-8zM301 433l2-1 2 2 0 7-2 2-2-1zM375 433l2-1 2 2-1 5-3-1zM1129 439l6-2 1 2-6 8-3 2-5 0-1-4zM331 441l3 0 1 10-4-4zM356 441l1-1 3 3 1 6-2 1-2-2zM373 451l2 1 0 7-2-2zM405 453l4-2 4 6 2 6-2 2-2 0-6-8zM1126 455l5 0 1 2-5 6-6 2 0-6zM729 457l4 8-4 7-7-7zM309 459l4 1 0 10-2 0-2-5zM385 459l2 4-2 6-2-6zM1179 459l5 0-3 6-8 4-5 0 3-6zM702 463l5-3 1 3 1 5-2 2-4 0-2-3zM1107 461l10-1 2 1-4 4-14 4 0-4zM377 463l2 0 0 3-2 1zM323 465l4 3 0 6-4-3zM1137 465l12-1 2 1-6 6-17 2 2-4zM301 478l0-12 2 1 2 4-2 6zM350 469l3 1 0 7 4 3 2 7 6 0 2-6 3 0 3 4 2-6 3 4 0 4-6 2 5 0 4 8 1 6-5 6 0 4-4 1-4 8-7 5-13-7 0-7-2-1-2 2-2-2-4 4-2-3 0-8 3-4-1-4-4-8 2-8-2-10 2 0 4 5zM355 491l-1 10-5 2 0 8 3 4 7 3 2-5-1-10-3-10zM365 488l-1 3 1 6 2-2zM349 477l-7 8 0 6 5 7 0-8 6-3 0-6zM1116 469l5 0-2 8-8 4-4-1-1-1 2-4zM1095 471l8-2 0 2-8 6-8 0zM303 485l2 2-2 6-2-2 0-4zM1215 485l5 0-3 6-8 4-5 0 3-6zM391 497l4 2 0 6-4-3zM313 499l5 0 1 6-4-2zM355 503l2 2 0 4-2 0zM385 509l2 4 0 4-2 2-2-1 0-3 0-4zM321 511l2-1 2 3 0 6-4 0-2-4zM301 517l1 0 0 6 2 2-1 10-2 2zM328 517l3 1 0 7-2-2zM381 523l2-1 2 4 0 4-2 1zM315 527l4 2 0 7-4-1zM1201 531l6-2 1 2-6 4-3 0zM1209 535l2 2-3 4-9 4-2-1 6-8zM340 543l3-1 5 9-1 9-2 0-1-5-3-2zM1227 543l5 0-3 6-8 4-5 0 3-6zM309 549l0 8 0 1-2-5zM323 551l2 2-2 2 0-2zM1205 557l2 2-3 4-9 4-2-1 3-5zM337 559l2 2 0 3-2 0zM397 561l2 2 1 6-1 4-2 1-2-1-2-6 2-5zM806 567l3 0-2 4-1-2zM1205 573l5 0-3 6-8 4-5 0 3-6zM337 575l4 0 2 5-2 8-4-1zM1261 575l2 2-3 4-9 4-2-1 3-5zM1177 585l9-2-1 2-5 4-6 0zM330 595l3-2 1 4-1 3-3-1zM339 603l4 0 0 6-2-1zM363 603l4 0 0 6-4 0zM373 603l3 0 5 6-2 6-3 0-3-4zM1187 609l5 0 1 2-4 4-6 2-4-2zM323 611l2-1 2 7-2 0zM373 629l2 0 3 4-1 4-4-5zM333 631l3 0 3 4-1 8-5-5zM1196 633l7-2 4 2-7 6-7 2-4-2zM1233 633l9 0-3 4-4 2-9 0 3-4zM345 635l4 1 0 5-4 0-2-2zM1207 649l7 0 0 2-3 2-8 0zM383 653l2 2 0 4-2 2zM370 655l1-2 1 2-1 3zM305 663l2 0 3 6-2 2-3-2zM1239 663l6 2-6 3-6-1zM338 667l3-3 4 1 0 7-5-1zM316 679l1-5 2 1 2 7zM369 679l4 2 0 8-4-6zM360 681l3-1 2 5 0 4-2 2zM1189 683l13 0 1 4-4 2-13 0-1-4zM1250 683l7-1 4 1 0 3-12 1zM1227 685l6 0 3 2-7 4-6 0-3-2zM317 693l2-5 2 3-2 5zM1195 693l6 0 2 4-8 2-3-2zM1238 693l7 0 0 2-6 1-2-1zM1217 701l7-2 3 2-1 2-9 0zM333 710l2-10 3 3-1 10-2 0zM386 703l5-2 2 2 0 7-4-1-2-2zM317 709l2-2 3 4 1 7-2 1-3-4zM397 709l2 0 2 2 0 5-2 0-2-3zM1213 713l6 0 5 2 0 2-7 2-9-2 0-2zM305 721l2-7 1 5-1 5zM329 715l2 2 1 6-1 5-2 1-2-1-2-7zM349 719l4 0 0 8-5 0zM400 719l3 0 0 10-3-2zM303 731l2-1 3 3 2 6-3 5-5-3zM321 733l4-2 2 4-2 6-4-2zM396 731l9 6-2 6-8-1-1-5zM347 737l4 4 0 4-2 2-4-4 0-4zM1264 741l11 0 6 5-12 1-6-4zM335 747l2 0 0 4-2 0zM386 747l1-1 2 2 2 9-2 1-3-3zM1184 747l7 0 7 4-2 2-7 0-6-3-1-1zM356 757l5-2 2 4-2 5-4-2zM342 757l3 3 0 8-2 0-2-5zM355 771l2 2 0 8-2 2-2-2 0-7zM1199 775l8 0 4 4-2 2-4 0-4-2zM301 779l3 4 0 4-3 3zM320 779l3-2 3 4 1 12-2 2-4-8zM379 781l4 2 2 8-6-6zM345 791l4 2-2 4-2 0zM301 801l0-9 3 1 3 6-2 5zM403 795l2-2 4 4 0 6-2 2-5-4zM331 801l4-2 3 6-3 5-4-3zM364 799l5 1 0 8-4-2zM1239 807l8 2 2 2 0 3-8-1-4-4zM399 809l2-1 2 2 2 5-1 2-3 0zM301 811l2 0 1 2-1 7-2 0zM321 811l1 10-1 5-2-1-2-8zM333 813l2-1 5 3-3 8-4-4zM357 817l2-1 2 5-2 4-3-4zM366 823l1-7 5 7-3 6zM711 829l2 0 1 2 1 14-4 3-3-1-1-8zM342 837l3 2 0 7-2-1zM356 843l1-3 2 3zM367 857l4 2 0 6-2 0-2-3zM375 863l2-7 2 3 1 6-3 3zM359 861l4 0-2 6-2-2zM841 865l14 2 6 7-4 1-4 6-13-4-1-8zM865 879l2-1 2 1 8 9 8 0 0 3-5 0-11-4-3-2zM306 883l5-4 2 6-1 6-3 1-2-3zM371 893l0-6 2 1 1 3-1 3zM353 893l3 0 1 4-2 2zM376 893l3 0 2 8-2 0-2-3zM395 897l4 6 0 6-2 3-4-3-1-10zM325 903l3 12-3 3-3-3 1-10zM1204 903l3-1 4 1 6 4 0 3-2 1-6-2zM345 907l2 1 0 2-2 0zM358 907l2 2-1 4-2-2zM405 907l4 0 2 4-8 10-4-5 2-3 4-2zM366 909l3-2 4 2-1 8-5-1zM743 909l2-1 2 1 1 6-1 3-4-4zM924 911l1-1 9 3 0 6 4 6 7 10 6 1 6 11 0 4-8-4-4-4-12-17-1-7-7-4zM942 915l3-3 4 4 6 2 0 4-6-3-4 0zM311 917l4-2 4 2 3 4 0 2-5 3-3-7zM325 933l4 0 0 6-4-2zM365 933l2-1 4 4 2-1 3 2-1 6-4-2-2 4-4 0zM419 933l2 1 2 4-2 4-2-3zM303 937l4 2 0 4-4 0-2-2zM402 939l3-1 2 2 0 10-4-1-2-3zM388 941l3 1 2 5-2 4-7 0-2-2 1-4 4 1zM337 943l4-1 0 7-4 0zM358 945l4 2 1 6-4-3zM305 951l2 0 2 2-1 4-3-1zM381 957l2 2 0 16 0-8-2-1zM338 963l3-1 4 6 0 5-2 2-4-3zM735 963l2-2 2 1 6 9 8 6 6 8-1 6-7 1-7-9-9-16zM1038 963l3 0 2 2 0 7zM1122 963l5 0 4 4 0 3-5-1zM1187 967l8 2 4 3 2 5-8-2-4-3zM983 971l2 0 4 6 0 8-2 1-6-7zM1214 971l4 0 6 4 3 4-1 2-4 0-6-4-3-4zM1119 973l8 2 4 4 0 2-8 0-4-4zM841 975l8-1 6 6 8 1 2 2-2 8-4 2-5-8-7-5-12 5-2-1-1-3zM319 977l2 2 0 6-2 0-1-2zM423 983l4 2 0 7-4-5zM326 985l3 4 0 7-2 2-2-5zM1173 987l5 0 8 4-8 0zM339 994l2-6 2 1 2 6-2 7zM418 989l3 0 2 4 0 7-2 1-2-2zM671 991l2-1 2 3 0 4-2 0zM1206 993l4 0 6 4 3 4-1 2-4 0-6-4-3-4zM368 995l3 3 0 4-2 0-2-2zM835 995l2-2 5 6 9 15 0 9-10-3-6 4-8-4-4 1-4 5-2-1-3-12 7-4 2-3 6 2 4-3zM678 997l3 2-2 2-1-2zM1109 999l4 0 3 2 3 6-8-2zM327 1001l2 2 0 6-2 3-2-3 0-6zM1121 1001l4 0 4 4-2 2-4-2zM1130 1009l7 2 2 6-4 0-2-2zM1161 1013l8 2 4 3 2 5-8-2-4-3zM365 1015l2 0 0 9-2-3zM686 1025l1-11 4 3 7 2 4 8-1 8 2 3 4-6 3 3 4 10 5 5 1 9 6 12-12 48 2 12-5 4-6 17-18 35-9 32-2 26-198 0-2-4-7-5-4 2-3 7-9 0 0-6-5-6 5-9 2-1 2 4 4 2 15-12 3-6 4 9 4 3 9-2 2-4-3-6 8-6 6 8 9-2 5-9 4-1 3-8 2-10-1-10 4-8 2-1 6 7 2 0 2 2 2 12 4-7 4 6 0-26-1-5-4-4-3-6 4-1 4 6 2-3-1-14 5-15 4 7 4 2 6 0 2-7 2 3 2 8 0 11 5-3 2-4 2-18-2-10 13-8 2-7 4-1 4 2 4 18 4-4 4-17 6 8 16 3 3-12-2-8 2-8-1-8-3-4 1-5 3 3 0 4 7 4 2 10 2 0 4-3 8-1 2-5 6-2 4 7 6 3 1-5-4-12 0-14 1-3 4 3 1-8-3-7zM695 1046l-1 9 3 12 2 1 2-1 1-4-3-14zM673 1083l-3 4 1 6 3-4zM735 1023l2-6 0 7zM869 1021l5 0 5 3 23 39 9 10 10 4 6-5 5 1 3 3 11 27-7-2-2 2-3 16 2 6-1 6-12-10-6-2-1-4 5 2 3-2-1-10-6-4-5 2 3 12-6-8-8-28-12-22-4-3-6 2-3-1-2-10-4-8-3-2-8-2-2-3-1-3zM354 1023l3-1 4 5 0 7-2 1-4-4zM719 1027l3-2-1 5zM1096 1029l1-1 5 3 4 4 0 4-5-2zM731 1031l3 0-1 11-2-2zM1108 1037l1-2 3 2 3 5-4-1zM1186 1037l10 4 3 4-1 2-10-4-3-4zM784 1043l3-1 6 11-6 3-4-2-3-5zM1141 1043l2-2 9 6 1 4-3 0 3 6-4 0-5-4-2-4 2-2zM1014 1049l1-2 5 2 7 6-6 0zM842 1051l11 2 8 9 7 5 11 24-16-10-7-18-3 0-4 4-2 0-6-12zM1111 1057l2-2 4 2 2 4-5 0zM786 1061l3 1-1 15 2 8 14 14 25 40-12-2-4-4-2-6-9-10-5-5-4 0-4 1-4 4 2 10-8 8 2 8 6 8 8 2 10 6 4 11 1 9 14 22 1 6 16 12 14 5 6 13 7 8-11 0-2-4-4-1-4 5-5 0-2-6-7-2-8 4-1 4-24 0 0-6-10-24 1-1 8 8 10 2 3-3 1-12-23-36-3-8-10-10-11-34 3-10-8-16 1-8 11-12 8-2zM819 1203l0 4 4 5 1-3zM810 1061l3-2 8 22-6 0-6-14zM1153 1065l8 2 4 3 2 5-8-2-4-3zM622 1067l3-1 2 3-2 11-3-7zM835 1071l2 0 2 3 0 3zM319 1073l2 4-2 4-1-6zM561 1083l6 0 4 6 3 10-1 6 3 8-3 5-4-4-2-7 1-10-7-4-2-4zM1017 1087l7 0 6 4 1 4-7-2zM1181 1091l6 0 6 4 2 6-6 0-6-4zM858 1095l3 0 0 2-2 0zM975 1101l7 6 1 4-5-2zM377 1108l0-7 4 3 0 7zM1116 1103l5 1 3 7-3 0-4-4zM839 1105l24 14 6 12 8 8 10 17 5-3-4-20 8-6-1-15 2 2 6 11 12 8 14 30 3 0 3-4 10 10 11 4 17 26 4 3 6 1 0 1-10 1-6-5-8-2-6 1-6-1-5 5-11-8-9 0-1-6 2-6-2-6 2-12-7-12-4-6-5-3-3 3-1 10 5 10-8 8-1 8 7 10 9 8 4 1 4 6 4 9 0 10-2 1-8-11-11 0-6-12 1-14-2-8-5-4-11-21-6-3-6 2-2 2 0 10-2 1-5-7-7-5-3 3-1 4 3 20 3 7 8 9 6-1 4-5 4 4 0 2-5 4-1 12 9 14 7 5 6-5 0-3 2 0 8 10 13 7-34 0-2-6-11-11-5-11-15-18-15-28-8-2-5-6-1-2 7 1 3-3 1-14 10 9 4 0 3-3-2-12-19-28 6-2zM1001 1105l4-2 4 4 4 6 0 6-5 0-7-6-2-4zM1185 1117l6 2 8 8 4 8 0 8-6-2-8-8-4-8zM745 1129l2-6 2 2 1 4-1 2-2 1zM1153 1125l10 2 4 3 0 3-10-2-5-4zM527 1134l6-8 2 1 3 4-3 10 0 19-5-3-1-8-4-6 0-9zM540 1133l3 0 0 5-2-3zM1134 1139l1-2 6 2 5 4 2 4-9-2zM975 1149l2-1 5 3 1 8-7-6zM1197 1155l4-2 7 2 3 2 2 6-6 4-7-2-5-6zM451 1157l2-1 2 4-2 5-2-1zM1222 1159l7 0 4 3 0 3-8-2zM753 1163l2 2-2 1-1-1zM1075 1165l8 2 2 4-8-2zM1147 1165l8 2 5 6-5 0-4-2zM1199 1171l6 2 0 4-4-2zM409 1179l4 2 0 7-4-3zM761 1183l4-5 4 1 4 6-1 2-9 0zM1004 1181l3-1 7 1 3 4-6 1zM1098 1185l9 4 4 4 0 4-4 0-6-4-4-6zM1008 1189l3-1 14 5 4 8-5 0-9-7-6-3zM734 1197l3 1 0 5-6 10-4 2-6-1-4 3-2-1-1-3 13-6zM755 1197l4-2 2 2 7 12-1 3-8 3-4-2-4-6zM1139 1203l2-1 4 1 4 6-6-2zM454 1211l1-6 4 2-2 6zM447 1211l4-3 0 7zM957 1213l2 2 2 2-2 1-2-2zM437 1215l2-1 2 2 0 9zM332 1217l3 0 2 4-2 4-4-4zM1105 1219l2-2 4 2 6 6 0 4-9-4zM1190 1219l6 0 4 6-6 0-3-2zM427 1221l4 0 0 7-4-1zM965 1223l2-2 4 2 0 2-4 2zM1067 1223l8 2 2 2-2 4 3 4-1 1-4-1-8-8zM945 1229l2-1 4 5 6 3 6-3 4 2 2 10-6 0-6-5-6-1zM927 1245l4-8 6 8zM1211 1237l5 0 7 8-6 0zM433 1239l1 6-3 0 0-5zM707 1239l2 3 1 3-5 0zM771 1245l2-4 6 4z"/>
<path fill="#d8f500" d="M482 169l9 0 7 10-1 6-6 11-4-1-8-12-2 0 0-9 2 2 2-2 2 3 3 0zM505 173l-2-4 5 0zM524 169l313 0-2 20 6 24 0 14 4 8-3 12 0 24 10 34 3 5 2 1 13-8 6-14 5-22 10-30 6-10 12-6 68-27 44-9 16 0 36 38 3-2-5-4 0-5 6-5 8-2 1 4 3 1 14-7 16-4 0 4-4 4-20 6-20 14 28 32 10 19 4 13 4-4 6-2 10 8 16-3 4 2 6-1 0 2-3 4-7 4-4 0 0-4-18 6-4 0 1-6-5 0-1-2-5-2-1 2 6 58 4 22 0 54-6 20-21 11-30 0-4 3 14 16 11 24 27 38 34 59 9 29 6 36 2 58-12 108-14 60-13 31-16 25-20 17-8 3 0 4-6-2-10 4-14-4-16-15-7-11-7-6-3 2-2 4 2 6-1 14-8 1-7 5-1 2 3 6-5 1-4-5 3-4-1-2-15-10-7-8-14-6-4-10 7-4 1-8 4 1 2-2 1-7-4-12-5-5-5 3-1 9-6-2-4-15 4-3 6 2 2-3-1-16 9-10-6-5-10 7-6-5-8 0-1 5 5 8-1 4-3 2-6-1-2 5-6 4-24 7-7-1-5-13-4-1-4 2-2-2-9-16-5-4-8-3-6 3-10-2-6 2-6-2-4 1-6 5-1 4 4 14 1 10 2 6 13 12 3 7 12 11 22 3 5 9 5 4-2 13-4 2-14 2-10 3-10 0-10 7-8 2-4 6-8-2-6 1-10-9-4-2 0 3 5 12-3 5-4 0-14-16-14-10-6-7-6-25 6 1 14 15 2-1-2-12-4-10-12-10-11-20-15-50 2-1 8 5 5 0 0-14-6-10 3-3 24 37 8 6 4 0-3-14-10-16-1-4 2-2 5 0 8 14 3 3 2-1 0-6-5-10 4-10 1-10 2-1 8 8 4 1 8-4-2-13 8 0 13 5 0-2-6-10 0-10 1-3 7-1 2-8-2-8-5-2-6-12 7-16-5-10-1-6 3-1 4 1 6-9 1-23 2-6-6-16 4-8 2-36-6-10 2-6 0-16-11-13-8-17 0-18-7-8-1-10-8-10-3-8-1-14 5-6-6-14-1-10-4-2 2 10-2 3-2-1-4-10-10-14-6 4-4 9-6-5-9 6-3 0-1-4 1-6 4 3 1-3-3-7-4 2-4 9-2 1-15-31 1-5 8 3 5-2 1-16-7-12-5 4 4 5 0 3-2 0-2-4-2 1-1 7-4 6-1 6-3-2-3-8-2-1-2 4-4-4-2 4-2-2-3-7 0-4 3-3 2 0 4 8 0-9-2-2-2 1-2-2-3-5 1-8-10-10-3 6-3 19-4-1-2 4-2 0-1-6 1-2 4 2 2-4-4-17-2 1 1 6-3 3-6-7-1 4-3 2-4-2-4 1-4-4-4-1-1 14-1 2-2-1-2-3-1-16-3-5-4 0-2-2-10-24-8-6-4 2-12-8-2 1-1 10-3 1-8-9-1-10-3-4-4 2-2 7-1-17 3-8-6-16 0-6-4 1-5-3 0-10-3-2-4 1-3-3-3-6-1-10 1-4 4 4 2 1 0-1-2-33 2-2 2 2 6 13 4-4 2 0 4 6 2 0 4-4-3-8 0-8-5-10-2 1-3 7-3 1-8-3-4-10-8-2-5 4-3 6 6 15-6 1-4 5-6-11-6-1-1-3 1-4 8 0 6 2 2-2-2-8 0-14zM575 263l-1 2 3 2 0-2zM581 273l0 6 2 4 2-4zM587 189l-1 2 3 4 1-2zM597 292l-3 3 0 10-2 6 1 2 2-6 7-6-1-4zM639 351l0 7 4 0 0-5zM643 340l-2 3 2 5 2-3zM745 412l-2 5 2 2 2-2zM811 299l-2 12 4 4 4-2 2-10-2-4zM821 331l-4 1-3 5 1 4 2 2 4-1 4-5 0-4zM855 313l-14 18-2 9-8 13 0 9 2 3 4 0 0 7-2 2-4-1-4 2-2 4-4 2-6 6-6 12 0 8 6 3 6-3 8-14 2-13 4 2 2 8 14-5 3 2 0 6-3 10-12 18 0 8 12-2 2 16 2 0 8-4 18-17 6 15 8-2 2 7 4 2 8-7 6-10-1-4-3-1-10 5 12-22 1-8-7-6-2-7-8 4-4 4-1-1 7-18 0-4-18 19-1-5 4-6 1-12 8-5 7-13-1-14 6-6 0-8-2-3-2 0-12 8-8-3-22 16-3-8 0-14zM911 264l-5 5-3 8 2 12 4 14 6-6 5-14-1-5-5-3 0-8zM923 386l-5 5-1 4 2 3 4 2 5-3 2-6-3-5zM973 866l-2 3 7 14 2 12 11 14 7 12 7 6 2-2 1-6-6-16-8-14-2-8-15-14zM759 865l-1 12 2 8 13 23 2-1 0-4-2-24-6-8zM785 890l0 3 2 1 0-3zM799 917l0 2 2 3 0-3zM557 224l0 3 0 3 1-3zM573 293l-2 2 1 2 5 4 2-2-1-4zM825 464l-6 6-6 15-9 12 1 4 6-5 11-15 5-12 0-4zM843 473l-15 14-6 22 1 2 2 0 3-10 5-6 10-18zM849 485l-8 6 0 8 2 2 5-2 3-10zM873 496l-8 5-6-3-7 3-2 6 4 8-9 8-6 14 4 0 6-5 8-17 8 3 8-7 5-12-1-2zM875 171l2 0 0 5-6 5 0-5zM518 183l3-11 4 15-4 2zM905 175l3 0-1 6-6 5 0-7zM1065 181l12-6 2 2-4 4-10 4-2-2zM1108 177l3 2-4 4-4 2-7 0 5-6zM1171 179l6-1 2 1-6 6-6 1-2-1zM849 181l4-2 0 4-2 4-4 2zM1123 185l4 0 0 2-3 4-7 4-4 0 0-3 3-3zM923 187l4-2 0 4-2 4-4 2zM1099 191l6 0 0 3-6 7-6 0 2-6zM1133 195l4 0 0 2-3 4-7 4-2 12-16 12-6 2 2-10 18-16 0-3 3-3zM884 197l3 0-2 5-4 1zM381 207l4 2 0 8-4 0-2-6zM487 207l3 2 1 8-4 9-1-3zM507 211l2-4 0 6zM1153 219l4 0 0 4-10 6-4 0 0-4zM521 223l2-2 2 7-2 1zM315 225l2 0 2 2 0 6-4-2zM429 225l4 1 0 5-4-2zM1133 233l4-2 3 2-3 4-4 1-2-1zM1139 239l5 0-3 6-8 4-5 0 3-6zM1171 245l2 2-3 4-9 4-2-1 3-5zM1189 257l6-1 2 1-6 6-6 1-2-1zM1120 261l6 0 1 2-7 4-6 0 1-4zM1153 265l6-1 1 3-9 8-8 0-6 6-5 0 2-6 7-2zM1165 267l6 0 0 5-8 5-2-6zM329 275l2-2 2 2 2 9zM1158 277l4 0 1 2-10 3-4-1zM1201 283l6-1 2 1-3 4 0 4-8 6-5 0 3-10zM1203 305l4 0 0 4-8 6-9 4 2 2-3 4-6 0 3-10zM1127 315l10-4-1 4-9 4zM1157 313l4 0-8 8-7 2 2-4zM1173 315l4 0 0 4-10 6-4 0 0-4zM1139 317l6-1 1 3-6 4-3 0-2-2zM1137 327l6 0 0 4-3 4 1 1 4-1 2 2-10 10-8 2-2-2 1-2 5-4-6-2zM1195 331l6 4-3 4-7 3-8-2 3-5zM1155 337l10-5 3 1-5 6-8 2zM315 339l2 0 4 5 4-3 4 4 6 20-2 2-4 0-2-1-5-17-9-3zM1247 345l4 0 0 4-10 6-4 0 0-4zM1227 349l4 0 0 3-6 5-6 1 0-3zM1135 351l6-1-1 3 1 1 14-3 13 0 0 2-3 4-8 4-5 0 0-2-3-1-16 7-2-3-5-1zM1179 361l10-5 4 1-2 4-7 4-7 0zM1163 365l7 0-1 4-6 4-5 0-1-2zM401 376l0-8 2 0 0 9zM1147 369l6-1 4 3-3 2 0 4-2 4-9 4 0-5 3-3-2-4zM1170 381l15-12 1 2-4 8-5 4-8 2zM1215 375l8-2-2 4-8 2zM317 385l2 0 0 5-2-1zM343 387l4 0 0 6-4 0zM1193 387l4 2-2 4-4 4-6 2-1-2 1-4zM1143 389l6-1 2 1-6 6-6 1-2-1zM1163 395l4 0 0 4-10 6-4 0 1-6zM361 397l2 0 0 5-2 0zM1229 399l6-1 2 1-6 6-6 1-2-1zM1143 403l2 2 0 4-6 4-6 0 0-4 4-4zM365 405l2 0 2 3 0 5-2 2-2-2zM1178 407l5 0-2 6 8-4 4 0 1 2-7 6-8 2 0-5-7 1 1-3zM328 413l3-1 1 1-3 12-2-2zM354 413l3 2 0 2-2 0zM856 415l3 0 1 2-3 4-2-2zM1154 415l6 0-3 4-6 5-7-1 3-4zM317 421l4 1 0 5-2 4-2-4zM417 421l3 4-1 5-2-1zM403 423l4 4-2 5-4-3 0-4zM711 425l3 2-1 4-3-2zM1153 425l7 2 1 7-4 3-12 3-2-7 1-2zM1180 431l7 2-8 10-3 2-6 0 2-8zM301 433l4 2 0 5-2 1-2 0zM715 437l5 2-1 8-2 1-4-5zM1130 439l5-1 1 1-6 8-8 2 0-4zM357 441l2 2 0 6-2-2zM1123 457l8-2 1 2-5 6-6 1zM761 459l2-1 1 3-1 4zM1179 459l4 0 0 4-10 6-4 0 0-4zM385 461l2 4-2 3 0-3zM1108 461l10 0-4 4-13 3 0-3 2-2zM1137 465l12-1 1 1-6 6-15 2 1-4zM301 467l3 4-1 5-2 1zM323 467l4 2 0 4-2 0zM1116 469l5 0 0 5-2 2-8 5-4-1 1-5zM1096 471l5-1 2 1-9 6-6 0zM345 475l0 4-3 4-1 8 7 8 1 9-2 3-4 0-4 4-2-2 0-8 3-4 0-4-5-8 0-4 2-7zM355 479l2 2 0 6 3 2 5 15 4-2 2-10 6-1 4 12-6 9-6-1-4-3-2 1-4-16-4-5zM1215 485l4 0 0 4-10 6-4 0 0-4zM349 489l4 4 0 7-4-2zM315 499l2 0 2 4-3 0zM391 499l2-1 2 2 0 4-4-3zM350 517l5 0 1 4-3 1zM1199 533l6-3 3 1-7 4zM1203 537l6-1 2 1-6 6-6 1-2-1zM341 543l2 0 2 10 2-2 0 8-2 0 0-4-4-3zM1227 543l4 0 0 4-10 6-4 0 0-4zM1199 559l6-1 2 1-6 6-6 1-2-1zM395 563l4 1-1 9-3-2zM1205 573l4 0 0 4-10 6-4 0 0-4zM1255 577l6-1 2 1-6 6-6 1-2-1zM1177 585l8-2 0 2-6 4-4 0zM331 595l2 0 0 4-2 0zM1188 609l5 2-4 4-6 2-3-2 3-4zM1196 633l7-1 4 1-7 6-7 1-4-1zM1234 633l7 0 0 2-7 4-7 0 3-4zM1208 649l5 0 1 2-3 2-8 0zM1235 665l6-2 3 2-1 2-6 1-3-1zM361 681l2 0 0 8-2-4zM1190 683l12 0 1 3-5 3-12 0-1-3zM1251 683l10 0 0 3-2 1-9 0zM1229 685l7 2-2 2-7 2-7-2 2-2zM1195 693l6 0 2 4-8 2-3-2zM1238 693l7 0 0 2-6 0-1 0zM1221 699l5 2-1 2-8 0 0-2zM335 701l2 2 0 8-2 1-2-5zM319 709l2 2 0 6-2-4zM397 711l2-2 2 6-2 0zM1209 715l8-2 6 2 0 2-8 2-6-2zM401 719l2 2 0 6-2 0zM303 733l4 0 0 10-4-3zM1265 741l10 0 6 4-2 2-10 0-6-4zM387 747l2 2 0 8-2-2zM1185 747l5 0 7 4-2 2-5 0-7-3zM1199 775l7 0 5 4-6 2-4-2zM301 779l2 4-2 5 0-1zM322 779l3 2 0 12-4-8zM379 783l4 0 2 6-4-2zM301 793l4 2 0 8-4-4zM405 795l2 0 1 4-1 4-4-2zM333 801l2 2 0 6-4-2 0-4zM751 803l2-2 4 4 4 10-8-5zM1238 809l3-1 5 1 3 4-8 0zM317 817l3 0 1 8-2-1zM357 821l2-4 0 6zM377 857l2 2 0 6-2 2zM840 867l13 0 7 6-7 7-12-3zM867 879l5 4 4 6-9-4zM371 889l2 0 0 4-2-2zM377 895l2 0 2 4-2 1zM393 899l4 0 2 6-2 6-2 0-2-4zM1205 903l6 0 6 6-2 2-6-2zM367 909l4 1 0 7-4-2zM925 911l8 2 0 8-8-7zM942 915l3-2 5 4-5 1zM318 925l-3-8 3 2 2 4zM934 921l11 15 6 1 6 12-8-2-3-4-13-18zM367 933l4 6-4 6-2-2 0-8zM389 941l2 2 0 6-2-4zM339 943l2 0 0 4-2 2-2-2zM339 963l4 2 1 6-1 2-4-2zM1039 963l4 2 0 6-4-6zM1122 963l5 0 4 4 0 3-5-1zM738 965l1-1 4 7 10 8 4 6 0 4-4 1-4-3zM1188 967l4 0 6 4 3 4-1 2-4 0-6-4-3-4zM1214 971l10 4 3 4-1 2-10-4-3-4zM1119 973l8 2 4 6-7 0-5-4zM836 979l13-4 4 7-8-5-4 4-7 2 0-2zM982 979l1-6 2 0 4 6-2 6zM854 983l7-1 2 1-2 8-3-2zM1175 987l8 2 2 2-6 0-4-2zM341 989l2 2 0 10-2-2zM419 989l4 6 0 3-2 1-2-2zM1206 993l10 4 3 4-1 2-10-4-3-4zM836 997l3-1 2 3 9 16 1 6-2 2-8-4-6 3-8-3-4 1-4 3-3-6-1-4 8-6 6 2 4-3zM1109 999l7 2 3 4-1 2-7-2zM1121 1001l3 0 4 4-1 2-4-2zM1131 1009l6 3 1 5-5-2zM1162 1013l4 0 6 4 3 4-1 2-4 0-6-4-3-4zM355 1023l4 2 2 8-4 0zM692 1023l1-1 3 1-1 6zM858 1027l15-5 5 3 7 14 8 10 9 16 9 8 10 5 6-5 4 0 4 4 10 24-2 1-4-2-3 3-3 14 2 10-2 2-15-10 6-4 0-10-7-5-5 3-1 5-2-2-4-11-3-16-12-22-5-3-6 1-2-1-6-17-4-4-6-1-3-3zM1096 1029l4 0 3 3 3 3 0 4-3 0-4-4zM1108 1037l4 0 2 4-3 0zM1186 1039l1-2 6 2 4 4 0 4-6-2zM785 1043l4 3 3 7-5 1-5-3 0-4zM1141 1043l2-1 4 1 6 5 0 2-3 1 2 4-1 2-8-6 1-4zM1014 1049l1-1 4 1 7 6-4 0zM843 1051l10 2 7 10 6 4 8 14-1 3-6-1-4-3-4-11-1-6-5-1-4 4-2-1-5-10zM708 1057l3 0 1 4-1 3-4 2zM1111 1057l2-1 3 1 3 4-4 0zM810 1063l1-2 3 2-1 10zM785 1065l2-1 1 1-1 12 2 8 14 14 22 38-9-2-2-10-17-14-8 1-5 7 1 8-7 8 7 25-6-5-5-12-7-22 3-10-7-16 1-8 9-11 9-3zM1154 1065l4 0 6 4 3 4-1 2-4 0-6-4-3-4zM717 1067l6 8 0 4-10 40 2 12-5 4-5 15-18 37-9 32-2 26-196 0 3-12 2 0 4-4 10-4 4-11 7 5 11 12 1-14 5-6 6-14 2-11 4 5 2-8-2-7 5 3 8 22 5 6 5-2 1-4-2-6 0-12-1-10 2-28-2-10 3-7 14 9 1 4-4 6 2 10 3 3 2-6 4 1 3-2-1-8 5-6 1-12 4-10 1-8 9-2 3 4-1 10 6 1 2-6 7-5 1-11 2-1 4 6 1 10 3 5 5-5 2-8 3-3 12 6 4-15-1-6 4-4 1-8 2 0 1 2-3 6 3 10 5 3 9-5 1-4 4 5 4-5 5 0-1-12 2-2 4 0 6 7 2-1zM565 1152l-4 11 4 7 3-3 2-10-1-4-2-2zM579 1163l-2 4 0 2 3-2zM607 1127l-2 2 2 3 2-1zM647 1121l0 4 2 4 2-2zM577 1181l-2 4 2 3 1-3zM814 1075l1-2 2 3 2 5-4-1zM564 1087l1-2 2 1 0 5-2-1zM1017 1087l6 0 7 4 1 3-7-1zM1181 1091l6 0 6 5 2 5-6 0-6-5zM1117 1103l2 0 4 4 0 4-2 0-4-4zM1002 1105l3-1 3 3 5 7 0 4-4 1-7-6-2-4zM838 1107l5 0 8 7 12 5 5 12 7 8 8 14-6 0-7 4-2 2-1 9-3-5-5-5-4-1-4 4-1 6 3 6 0 12 7 16-1 2-2 1-6-7-14-26-8-2-3-4 6-4 3-11 10 5 5-2 1-4-1-10-19-26 0-2zM897 1117l10 13 8 4 6 17 6 12 4 2 6-4 8 9 6 1 6 4 15 24 5 4-2 1-6-4-10-3-6 2-6-2-6 5-10-9-8 2-2-4 3-8-3-6 4-12-7-12-9-9-5 3-3 8 5 12-9 12-2-1-10-19 1-2 7-4 0-4-4-16 7-6zM1185 1117l6 2 8 9 4 7 0 8-6-2-8-9-4-7zM747 1125l2 4-2 1-1-3zM1154 1125l9 2 4 4-2 2-8-2-4-4zM1134 1139l7 0 5 4 1 4-7-2zM977 1151l2-1 2 4-2 0zM791 1155l4-1 9 5 6 22 8 14-2 10 5 14 2 2 4-10 2 0 12 9 11 3 4 4 2 10 9 8-9 0-1-4-2-2-6 1-3 5-3 0 1-2-2-4-7-3-10 4-2 5-22 0-1-8-8-18 1-2 6 6 6 2 6-1 2-3 1-14-23-34-2-8 2-3zM1197 1155l4-2 7 2 3 2 2 6-6 4-7-2-5-6zM1222 1159l7 0 4 5-4 1-4-2zM1076 1165l7 2 2 2-1 2-6-2zM1147 1165l8 2 5 6-8-2zM1199 1171l5 2 1 3-3-1zM765 1179l4 1 2 5-8 0 0-4zM409 1181l4 1 0 5-4-3zM1005 1181l8 0 4 4-6 1zM1099 1185l8 4 4 5 0 3-3 0-7-4-4-6zM902 1193l17 10 3 4 5 12-2 7-8-10-10 1-6-12zM1016 1193l3-1 6 2 2 7-2 0zM756 1197l5 2 5 10-1 2-6 3-7-7zM733 1199l3 0 0 4-6 10-8 0-1-2 9-6zM863 1205l14-8 1 2-4 4-3 8-6 2-4-4zM1140 1203l5 0 4 4-5 0zM716 1213l3-1 2 1-4 3-2-1zM871 1227l-2-9 12 14 6 4 4 0 6-6 8 9 7 2 5 4-32 0-2-7zM1105 1219l2-1 4 1 6 6 0 4-9-4zM1191 1219l4 0 4 3 0 3-5 0-3-3zM1068 1223l7 2 2 11-4-1-8-8 0-2zM471 1227l3 0 1 10-6-4-1-2zM453 1229l4 6 4-1 2 1 0 4-3 6-2 0-2-10-4-2zM949 1235l8 2 4-3 4 1 3 10-4 0-7-6-6 0zM1211 1237l8 2 4 6-5 0zM931 1241l2 0 3 4-8 0zM706 1245l1-3 2 3zM773 1243l2 0 3 2-6 0z"/>
<path fill="#f0ea00" d="M530 169l7 0 0 10-4 3-2-2zM553 171l-2-2 8 0zM559 169l277 0-2 22 6 22 0 14 4 8-3 12 0 24 13 40-13 18-3 10-8 14-7 24-11 12-4 8-1 6 1 4 3 3 4 0 6-3 12-24 2 11 15-7 3 1 0 5-2 8-13 18-2 8 1 5 2 1 6-3 4 1 2 4 0 10 2 2 12-8 14-15 2 1 4 13 2 1 8-2 4 8 4-1 7-7 6-12-3-4-10 4 2-7 11-19 9 2 6-8-1-6-5-2-6 4-4 7-7-5-2-10-1-1-6 5-1-4 5-13 0-5-10 8-3 0 0-6 4-4 7-14-1-12 6-10-1-11-2-1-2 1-10 9-10-4-22 16-1-4 0-18 4-4 7-3 3-5 7-18 2-16 10-28 6-11 12-7 14-4 53-22 45-10 16 1 36 38 5-5-5 0-2-6 6-6 7-2 1 4 4 1 14-7 16-3 0 3-4 4-20 6-21 12 29 34 10 20 4 12-1 6 4 24 0 14 6 40 0 54-7 20-2 2-18 9-32 0-3 3 15 16 11 24 27 38 34 60 8 28 7 36 2 58-12 108-15 62-12 28-16 25-20 17-9 4 1 3-6-2-10 5-13-4-17-16-6-10-8-7-5 5 2 10-1 10-16 7-6-6-12-6-8-8-13-5-4-10 5-2 2-6 6-4 2-8-6-14-4-3-5 3-1 7-5-1-4-14 3-2 6 1 3-3-1-16 8-10-2-4-4-2-10 7-6-5-8 0-1 6 5 8-2 4-8 1-4 7-21 8-7 1-6-1-6-13-8 0-12-19-12-7-6 4-10-2-6 2-6-2-4 1-7 6-1 4 5 14 0 10 2 6 14 12 3 8 12 10 22 4 9 12-1 12-4 3-24 4-10-1-24 16-6-2-6 1-10-10-6-3-1 4 7 12 0 4-4 2-4-2-12-14-14-11-6-7-3-16 1-3 14 13 6 2-3-24 2-8-2-24 1-2 14 14 2 1 1-3-5-14-2-2-4 2-4-1-6-11-20-17 6 29 13 28-3 1-4-2-6-6-12-23-6-28 0-6 4-1 5 1 1-20 16 24 18 14 0-6-6-18-6-8-2-8 2 0 7 12 7 4 3-8-5-12 2-2 6 6 2 0-6-12 0-8 2-1 10 7 12-1 1-5-4-8 3-2 18 7 3-1-10-20 1-4 8-2 4-7 1-5-2-8 0-22 4-12-5-9-1 3 1 8-2 16-4-4 1-14 4-12 7-8-2-12 5-14-5-12 0-2 6-3 5-21-5-3 0-5 5-10 4-18-3-4-4 3-3-5 0-2 5-2 1-6-1-8-5-10-3-2-4-1-7-9 0-12-3-6-4-4-4 1-2-3 4-5 0-8 6-2 3-15 7-12 3-2 1-6 10-14 2-6-6 3-18 17-10 21-6 0-2-1 4-10 8-8 7-18-1-6-4-1-7 9-11 21-6 3-2 10-2-2-2-6 2-8 4-4 1-4-6-14-1-16-6-3-4-6-2 0-4 3-4-4-2-4-2-12-9-10-5-12-4 0-2 6-2-1-6-11 0-3 4 5 2-2-4-15-2-1-1 2-1 9-8-15-4-1-4 3-4-5-8-2-6-10-4 1-5-4-3-10-6-9-2 15-1-6-5-4-2 8-4 4-4-10 6-7 4 5 1-6-2-12-3-5 0 11-2 1-4-1-6-12-2-1-2 7-4-6-7 0 3 12 0 15-11-25 1-8-2-5-2 9-6-7-8 7-8-6-1-4 4-6-1-8-4-5-2 3 0 9-2-2-4-19-4-8 3-6 0-8 1-1 4 3 3-4-1-9-4-5-2 1-6 9-4 1-3-9-3-1-4-3 0-10-2-6-2 4 4 24-5 4-1 4-3-14 1-29 2-1 4 5 6 0 6-10 10 25 6-18-6-8-12-8 0-10-7-10-9 0-4-5-2 1-2 13-8-11-4-1zM811 298l-2 3 0 10 4 5 5-3 1-10-2-5zM871 496l-6 4-8-3-7 4-1 6 2 7-6 6-9 15-1 4 2 3 6-2 6-6 8-16 10-1 6-6 5-12-1-3zM911 257l-9 22 5 24 2 2 6-6 6-16 0-4-7-6 3-12-2-3zM973 866l-2 3 6 14 1 10 13 16 6 12 8 7 3-3 1-6-16-38-16-15zM787 867l0 2 2 6 0-6zM797 910l-2 3 2 8 4 6 4 2 2-2-2-6zM847 485l-7 6 1 10 4 1 4-3 2-12zM819 330l-4 3-2 6 2 3 4 2 4-2 3-7-3-5zM799 943l-2 2 2 4 6 7 1-1-1-5zM873 173l4-2 0 4-2 4-4 2zM905 175l2 0 0 5-6 5 0-5zM1071 177l7 0-7 6-6 1 0-3zM491 179l3 0-1 5-3-1zM1102 179l7-1 2 1-8 6-7 0zM1172 179l6 0-6 6-6 0zM551 181l6 1 2-2 3 3-3 6-4 4-5-4zM850 181l3 0-2 5-4 1zM1125 185l2 2-3 4-9 4-2-1 3-5zM924 187l3 0-2 5-4 1zM1100 191l5 0 0 3-6 7-6 0 2-6zM578 193l3-2 2 4 4 8 0 5zM1135 195l2 1-1 3-11 6 2 2-2 10-16 12-6 0 2-8 9-6 3-6 8-4-2-2 3-4zM577 207l2 1 0 3-2-2zM1153 219l4 0 0 2-3 4-7 4-4 0 0-3 3-3zM563 227l2 0 3 4 3 10-4 22-5-12 2-12zM1133 233l4-1 3 1-3 4-4 1-2-1zM1139 239l4 0 0 4-10 6-4 0 0-4zM1165 247l6-1 2 1-6 6-6 1-2-1zM1190 257l6 0-6 6-6 0zM586 261l3-1 2 3 0 7-4-1-2-4zM1116 263l10-2 0 2-6 4-6 0 0-2zM1153 265l7 0-1 4-4 4-4 2-8 0-6 6-5 0 2-6 7-2zM1165 267l5 0 1 4-8 5-2-5zM570 271l4 4 1 8-5-6zM1150 281l9-4 3 2-3 2zM1202 283l6 0-3 4 2 2-1 2-9 6-4 0 4-10zM1125 285l4 1 2 4 2-1 4 4 16-3 4 2 4-1 2 2-6 6-6 2-2-1 0-4-21 7-1-3 2-3-12-4 1-4zM1203 305l4 0-1 4-11 8-7 2 3 2-3 4-5 0 4-6-2-2 2-2zM599 313l2-1 0 5-2-1zM1127 316l8-5 2 1-4 5-6 1zM1157 313l3 0-2 4-5 4-6 2 1-4zM1173 315l4 0 0 2-3 4-7 4-4 0 0-3 3-3zM1139 317l6-1 1 3-9 4-1-2zM585 319l1 2-1 2-1-2zM613 323l4-5 2 3-2 4zM1137 327l6 0 0 4-4 6 6-1 2 1-10 10-8 2-1-4 5-4-6-2zM1161 333l6 0-4 6-8 1 1-3zM1189 333l6-1 5 3 0 2-7 4-10-2zM1247 345l4 0 0 2-3 4-7 4-4 0 0-3 3-3zM1227 349l4 0 0 2-6 6-6 1 0-3zM1136 351l4 0-1 2 2 2 14-4 12 0 1 2-3 4-8 4-4 0 0-4-20 8 0-4-6 0zM1184 357l9 0-5 6-10 2 1-4zM1163 365l6 0 0 4-6 4-4 0-1-4zM703 367l2-1 2 2 0 13-2 0-2-4zM1148 369l7 0 1 2-3 2 1 4-5 6-6 1 0-4 3-3-2-4zM1182 371l4 0-4 8-5 4-6 2-2-1 1-3zM1219 373l4 0-3 4-6 2 0-2zM1193 387l3 2-1 4-4 4-6 2-1-2 1-4zM1144 389l6 0-6 6-6 0zM1154 399l13-4 0 2-3 4-7 4-4 0zM1230 399l6 0-6 6-6 0zM1137 405l6-2 2 1 0 4-6 5-5 0-1-4zM1179 407l4 0-4 6 2 1 8-5 4 0 0 2-6 6-8 2 0-5-6 1 0-2zM1155 415l4 0-4 6-4 2-7 0 3-4zM731 423l2-2 6 8-4 10-2-4zM1149 427l6-2 4 1 2 7-5 4-11 2 1-4-2-2zM1181 431l5 2-1 2-4 3-2 5-3 2-6 0 3-9zM1130 439l5 0 0 2-6 6-6 2 2-6zM1127 455l4 0-2 6-2 2-6 1 2-6zM1179 459l4 0 0 2-3 4-7 4-4 0 0-3 3-3zM1103 463l15-2-4 4-13 3zM1138 465l5 0 0 1 6-1-6 6-14 2 1-4zM1117 469l4 0 0 5-2 2-8 4-4-1 3-6zM1096 471l7 0-10 6-4 0zM1215 485l4 0 0 2-3 4-7 4-4 0 0-3 3-3zM811 521l-2-11 3 7zM1200 533l5-3 2 1-6 3zM1204 537l6 0-6 6-6 0zM1227 543l4 0 0 2-3 4-7 4-4 0 0-3 3-3zM1200 559l6 0-6 6-6 0zM839 573l4 1 2 3-6 10 2 8-2 0-4-7 0-11zM1205 573l4 0 0 2-3 4-7 4-4 0 0-3 3-3zM1256 577l6 0-6 6-6 0zM1176 587l7-4 1 2-7 4zM1181 613l8-4 4 2-4 4-8 1zM839 619l2-1 1 3 1 4-2 2zM1197 633l6-1 3 1-7 6-9 0zM1230 635l10-2 0 2-7 4-5 0zM839 639l2-2 3 2-1 10-2 1-2-3zM1204 651l8-2 2 2-3 2-7 0zM1235 665l6-1 2 1-1 2-5 0-2 0zM1190 683l12 0 1 3-5 3-12 0-1-3zM1251 683l10 0 0 2-2 2-9 0-1-2zM1222 687l7-1 6 1-1 2-7 1-6-1zM1196 693l5 1 2 1-1 2-5 2-4-2 0-2zM1239 693l5 0 0 2-6 0zM1217 701l4-2 5 2-1 2-4 0-3 0zM1210 715l11 0 1 2-11 0zM1265 741l9 0 7 4-2 2-9 0-5-2-2-2zM1183 749l6-1 8 3-6 1zM1200 775l6 0 5 4-4 2-6-2-2-2zM1238 809l7 0 4 4-7 0zM841 869l2-2 10 1 4 5-4 6-12-4zM867 881l2 0 5 6-5-2zM1205 903l6 0 6 6-7 0zM943 915l2-1 3 3-3 0zM935 923l2 3 0 2-3-3zM941 933l4 4 6 1 4 10-6-3zM1122 963l5 0 4 6-4 0zM1188 967l10 4 3 4-1 2-10-4-3-4zM1120 973l6 2 5 6-4 1-6-3-2-4zM1214 973l1-2 6 2 4 4 0 4-6-2zM745 977l2-1 4 3 3 8-3 0-2-2zM984 977l3 1 0 4-2-1zM1175 989l2-1 8 3-6 0zM1206 995l1-2 6 2 4 4 0 4-6-2zM837 999l2-1 2 2 8 17 0 4-6-3-8 3-6-3-10 1-2-2 0-4 8-5 4 1 5-2zM1109 999l7 2 2 4 0 2-7-2zM1123 1001l4 2 1 2-4 0zM1133 1015l-2-6 5 2 2 4-1 2zM1162 1013l10 4 3 4-1 2-10-4-3-4zM864 1025l7-2 6 2 7 14 9 11 8 15 10 9 8 5 4-1 4-4 6 2 5 9 4 14-7 4-3 14 1 10-11-8 3-4 0-10-8-5-8 3-4-8-1-14-8-16-7-10-11-2-3-10-4-7-4-4-8-3zM1097 1029l6 3 2 7-6-4zM1109 1037l2 0 2 4-1 0zM1186 1039l7 0 4 4 0 3-6-1zM1142 1043l4 0 7 6-4 2-2-3-2 1zM784 1045l3 0 2 2 2 4-2 2-6-2zM1015 1049l4 0 6 6-6-2zM1144 1051l1-2 3 2 3 5-4-1zM843 1053l8 0 5 4 1 4-10 2zM1112 1057l4 0 2 4-3 0zM1154 1065l10 4 3 4-1 2-10-4-3-4zM860 1067l3 1 7 13-5 0zM773 1078l12-7 4 15 14 15 9 16-5 1-10-8-6 0-4 2-5 7 2 6-7 10 0 9-9-23 5-8-6-12 2-8-3-6zM775 1114l0 2 2 2 0-2zM715 1085l3 6-1 7-2-1 0 8-3 14 2 10-5 6-6 17-17 33-9 34-2 26-174 0-1-8 2-6 3-1 2 2 4-3 4 1 6 10 4 2 2-3 0-10 6-8 1-8 1-2 4 3 2-1 2-10 2-2 8 12 1 8 3 3 5-11 5-7-2-15 4 0 6 6 4-4 6 1 0-26 6 7 6-15 8 2 1-11 5-12 2 1 2 9 4 5 3 1 3-3 3-9-3-2-4 2-5-6 1-5 6-2 8 13 4-5 8 9 2-4 0-12 8 5 3-1-1-12 6 11-1-7 1-4 10 8 4-2 4 3 2-5-1-10 2-12 3-2 4 3 6-6 6 7 4-6-2-8 10-4zM1017 1087l6 0 8 6-6 0zM1181 1091l6 0 5 4 3 6-6 0-5-4zM663 1101l4-1 4 3 5 14-1 7-5-3-7-13zM1117 1103l6 4 0 4-4-2zM1003 1105l4 2 4 6 2 4-2 1-4-1-5-6-1-4zM832 1113l7-6 4 1 8 6 10 4 17 29 0 4-11 5-8-8-1 1 2 6-7 3-2 3-2 6 7 28-1 4-7-8-11-22-8-1-2-3 7-4 1-7 10 2 6-3 2-4-2-10zM1185 1117l6 2 8 9 4 7 0 8-6-2-8-9-4-7zM896 1129l3-9 8 11 8 4 3 12-7-4-7 2-4 10 4 12-7 8-6-6-4-10 8-6 0-4-6-14 2-3zM628 1123l3 1 1 3 1 6-2 3-5-7zM1153 1127l2-2 7 2 4 4-1 1-7-1zM817 1131l2 0 2 3-2 1zM1135 1139l6 0 5 4 1 3-7-1zM1197 1155l4-1 7 1 3 2 1 6-5 3-7-1-5-6zM792 1157l3-1 8 5 4 10 2 10 6 12-2 10-19-28-1-4 1-8zM1222 1159l6 0 5 4-2 2-6-2zM927 1166l10-4 8 8 10 5 13 20 1 4-10-3-6 2-4-1-8 4-5-4-7-11 0 5-4 3-2-1 0-4 3-2-3-12zM1148 1165l7 2 4 6-7-2-4-4zM1077 1167l4 0 3 2-5 0zM1201 1173l2 0 2 2-2 0zM764 1181l3-1 2 4-4 1zM1006 1181l6 0 3 2 0 2-8-2zM1097 1187l2-2 8 4 4 5 0 3-9-4zM1021 1195l3 0 2 4-2 0zM903 1197l2-1 6 5 8 4 6 12 0 6-8-8-8 0-2-1-4-9zM756 1199l3 0 5 10-5 4-6-6zM733 1201l2-1 0 3-2 2zM868 1203l5 0-2 5-2 0-3-3zM1141 1203l3 0 4 4-3 0zM730 1207l-1 6-5-2 3-2zM817 1213l4 12 4 3 2-1 2-14 4 1 8 7 12 4 1 4-1 8-8 4-8-8-12 7-2 5-21 0-5-21 10 2 4-1zM1105 1219l6 0 6 6 0 3-6-1zM1191 1219l7 2 1 4-4 0-4-3zM1065 1225l4-2 6 2 1 2-2 4 3 4-3 0zM896 1233l3 1 4 6 8 2 5 3-30 0-1-8 6 0zM951 1237l2-1 2 1-2 1zM959 1237l4-1 2 1 0 4-6-2zM1211 1237l8 2 4 6-8-2zM861 1243l2 0 3 2-7 0zM931 1243l4 2-6 0z"/>
<path fill="#f9d700" d="M595 169l241 0 0 8-3 18 4 6 2 12 0 18 4 4-3 38 3 6 2 12 7 20-12 18-12 22-7 24-15 22-4 12 1 3 4-3 4 2 6-1 6-3 6-11 6 2 16-9 1 2-1 8-16 22-1 12 1 4 8-4 4 0 2 4 0 10 5 8-23 23-2-1 3-8 1-10-6-5-2 0-9 11-5 15-5 3-7-18 2-24-10-10-8 3-4-3-4-16-4-1-2-5 0-10-6-19-2-2-6 5-1-2 0-14-3-7-4 1-16-14-8 8-6-3-4 7-4-12-4-7-8-3-12-25-2-1-4 2-8-11-6 0-6-13-11-2 2-14-5-4-6 3-3-3 0-16 3-3 4 3 1-4-5-18 0-10-4-4 2-24-2-2-6 2-2-5-4-1-2 10-2 1-4-3-4 3-4-15zM785 393l-1 4 3 3 0-5zM795 389l0 4 2 1 4-3 0-3-2-1zM809 298l0 15 2 3 4 1 4-4 1-12-5-4zM821 328l-6 4-3 7 3 4 4 2 4-1 4-7-2-6zM874 173l3 0-2 5-4 1zM903 177l4-2 0 4-2 4-4 2zM1071 177l7 0-7 6-7 0zM1102 179l8 0-4 4-9 2 0-2zM1173 179l4 0-6 6-4 0zM1009 187l14-2 12 1 24 22 44 52 10 20 3 11 5 64 4 20 0 54-6 18-3 4-17 8-32 0-3 4 15 17 11 25 27 37 28 48 10 24 6 25 6 54 0 30-2 6 0 22-8 48-2 32-12 54-14 35-12 19-7 10-19 14-22 9-12-3-18-16-7-12-7-6-6 6 2 10-2 10-14 5-5-5-11-6-8-7-14-5-3-6 0-4 4-2 3-6 5-4 1-8-6-16-4-2-4 1-2 7-4 2-3-6-1-8 2-1 6 1 4-4-2-16 4-4 2 0 8 16 0 10 14 18 6 11 8 6 3-3 2-6-17-38-16-16-4-1-4-8-6-1-8 7-6-5-8-1-2 5 5 10-1 4-8 0-5 8-27 9-6-2-6-13-8 0-11-18-10-6-5-8-2 2 0 6-2 2-14-4-4 2-6-4-5 6-5 2-1 6 7 32 14 12 4 9 12 10 21 3 9 13 0 9-4 4-14 2-10 3-12-2-4 5-12 6-6 5-8-2-4 1-14-13-9-3 12 20-1 4-4 1-13-15-16-14-4-6-2-10 1-2 13 10 7 3-2-19 3-8-3-14 0-11 4 1 7 8 6 18 5 7 8 3 2-2-10-24 0-4 3-4-1-8-3-10-7-9-8-17-2-10 6 0 3-12 1-2 4 1 1-3-7-19 2 0 10 6 16 1 1-2-3-13 19 5 0-6-7-12 0-4 4-2 4 6 4 1 4-9 0-10 2-4-4-8 4-10-1-16 3-8 2-3 3 1 1-4-8-32 2-8 1-22 3-9 5-7 0-14 2-6-1-28-3-16-5-11-6-3-6-14 10-12 9-18 9-1 7-7 5-12-2-4-2-1-8 5-10-3-6 1 1-10-3-3-6 1 0-2 14-20 1-4-3-6 2-4 22-23 2 1 2 5 0 10 10-3 2 0 2 5 4 2 6-5 8-12 2-6-2-3-10 2 1-5 11-16 8 1 7-9-1-6-4-3-6 2-6 8-4-1-3-4 0-10-6-2 3-16-2-2-6 2 5-14-1-12 5-8 1-18 9-10 6-14-1-8-5-4 5-16-5-4-3-8-4 4-8 30 4 18 0 12-14 13-8-4-20 10-2-1-2-6 1-8 3-4 6-3 4-5 7-18 1-16 12-30 6-9 78-33zM795 939l0 4 4 8 8 9 1-1-5-15zM808 871l-5-2 6 6zM847 799l0 6 4 3 2-3-2-4-2-3zM851 555l0 2 0 1 2-1zM943 306l-4 7 2 4 4-4 0-4zM1119 187l6-1 2 1-6 6-6 1-2-1zM1100 191l5 0 0 3-6 7-6 0 2-6zM1129 197l6-1 2 1-6 6-6 1-2-1zM1111 201l8 0-2 4-6 4-8 1-10 4-14 9-3 0 3-4-7-2 0-6 5-4 6-2 2 4 4 1zM1115 211l10-5 1 1-1 10-17 12-4 0 1-8 9-6zM1155 219l2 2-3 4-9 4-2-1 3-5zM629 229l4 1 1 5-5 9-2-2-2-11zM1134 233l3-1 2 1-3 4-4 0zM1139 239l4 0 0 2-3 4-7 4-4 0 0-3 3-3zM1166 247l6 0-6 6-6 0zM1191 257l4 0-6 6-4 0zM1122 261l4 2-7 4-4 0 1-4zM1149 267l10-2 1 2-6 6-7 2-5-2zM1166 267l4 0 1 4-8 4-2-4zM630 277l-1-9 1 7 5 10 0 8-2 1-5-9zM1133 277l6-4 3 2-3 4-6 2zM621 282l0-4 2 1 0 2zM1151 281l8-3 2 1-3 2zM1203 283l4 0-3 4 2 2 0 2-5 4-7 2 0-4zM1126 285l4 2 1 3 2 0 0 4 20-4 2 3 6-1 2 1-6 6-6 1-2-4-5 3-15 4-2-2 2-5-11-3 0-4zM1205 305l2 2-8 8-10 4-4-2 14-10zM1131 313l4-1 2 1-4 4-6 1zM1153 315l6-2-4 6-6 3-2-1zM1175 315l2 2-3 4-9 4-2-1 3-5zM1139 317l6-1 0 3-8 4-1-2zM1184 325l3-5 4 1-3 4zM1138 327l5 0 0 4-4 7 6-2 0 3-8 8-8 1 0-4 8-5-2-1-2 2-6-1 4-6zM1162 333l5 0-5 6-7 0zM1190 333l5-1 4 3 0 2-6 4-9-2zM1249 345l2 2-3 4-9 4-2-1 3-5zM1221 353l10-4 0 2-4 4-8 2zM1137 351l2 0-1 2 3 3 14-5 12 0 0 2-3 4-7 4-4 0 0-5-18 8-2 0 0-4-6 1zM1185 357l6 0 1 2-4 4-9 2 0-4zM1163 365l6 0 0 3-6 5-4 0 0-4zM1148 369l7 0-1 8-5 6-6 1 0-4 3-3-1-5zM1169 383l16-12 0 2-5 8-9 3zM1219 373l3 0 0 2-7 4-1-2zM833 387l0 4-2 1 0-2zM1145 389l4 0-6 6-4 0zM1189 389l6-2 0 6-4 4-6 2 0-6zM1165 395l2 2-3 4-9 4-2-1 0-3 4-4zM1231 399l4 0-6 6-4 0zM1137 405l6-1 2 1 0 3-6 5-4 0-2-4zM1180 407l1 3-6 4 0-3zM1191 409l2 2-3 4-9 4-2-1 3-5zM1155 415l4 0 0 2-4 4-10 2 2-4zM1151 427l8 0 2 6-6 4-10 2 2-4-2-3zM1177 433l4-2 4 2-7 10-7 2 0-6zM1131 439l3 0-1 4-5 4-5 0zM1125 457l4-2 2 2-2 4-6 3-2-1zM1181 459l2 2-3 4-9 4-2-1 3-5zM1104 463l12-2-4 4-11 2zM1133 467l9-2 1 2-4 4-10 1zM1117 469l4 0 0 5-2 2-8 4-4-1 4-6zM1097 471l5 0-5 4-8 2zM1217 485l2 2-3 4-9 4-2-1 3-5zM837 493l2 2 0 7 9 1 2 10-11 15-6 5-7-6 12-20 0-4-3-2 0-2zM817 495l3 0-3 4-1-2zM1205 537l4 0-6 6-4 0zM1229 543l2 2-3 4-9 4-2-1 3-5zM1201 559l4 0-6 6-4 0zM1207 573l2 2-3 4-9 4-2-1 3-5zM1257 577l4 0-6 6-4 0zM1179 585l4 0-6 3zM1184 611l5-1 3 1-4 4-7 0zM1197 633l9 0-3 4-4 2-9 0 3-4zM1229 637l8-4 2 2-8 4zM1205 651l6-2 2 2-6 2-3 0zM1237 665l4 0 1 0-1 2-4 0zM1190 683l11 0 2 3-5 3-11 0-2-3zM1251 683l9 0 1 2-2 2-9 0-1-2zM1224 687l5 0 4 0-1 2-9 0zM1197 693l5 2 0 2-5 2-4-2 0-2zM1239 695l4-2 0 2zM1217 701l4-1 5 1-1 2-4 0-3 0zM849 715l2 4-2 3-1-5zM1211 715l10 0 0 2-10 0zM1266 741l7 0 7 4-2 2-7 0-6-2-1-2zM1185 749l8 0 2 2-8 0zM1200 775l6 0 4 4-3 2-6-2-2-2zM1239 809l5 0 3 4-4 0zM753 843l2-2 2 2 10 13 16 13 2 6-2 4-4 0-6-10-16-14-4-6zM746 855l3 0 9 32 10 18-1 5-6-4-13-23-4-20zM842 869l13 2-2 6-10-2-2-2zM1205 903l5 0 6 6-6 0-3-2zM946 939l4 0 3 6-4-1zM1123 963l6 2 2 4-4 0zM1188 969l1-2 6 2 4 4 0 4-6-2zM1214 973l7 0 4 4 0 3-6-1zM1119 975l2-2 5 2 4 6-6 0zM1176 989l5 0 2 2-2 0zM1206 995l7 0 4 4 0 3-6-1zM1110 999l7 4 0 4-6-3zM836 1007l3-7 2 3 4 13-4 0-6 3-16-2 0-4 4-3 6 0zM1123 1003l2 0 2 2-2 0zM1131 1011l4 0 3 4-1 1-4-1zM1162 1015l1-2 6 2 4 4 0 4-6-2zM864 1027l5-2 3 6 9 6 10 16-12-1-5-13-5-8-5-2zM1097 1031l2-2 2 2 4 7-4-1zM1187 1039l5 0 5 6-5 0zM1143 1043l6 2 3 4-3 1zM784 1047l3-1 2 6-4-1zM1015 1049l7 2 2 2-1 2zM845 1055l6-1 5 5-7 3zM1113 1057l2 0 2 4-4-2zM905 1081l-6-16 20 15 8-5 4 1 6 8 3 13-6 6-3 20-7-4 3-12-2-4-6-4-10 2-3-6zM1154 1067l1-2 6 2 4 4 0 4-6-2zM783 1075l2 1 3 11 17 20 2 7-12-5-6 1-8 6-10-10-1-5 1-8-2-8 6-6zM1018 1087l9 2 3 4-5 0zM1181 1091l8 2 4 3 2 5-8-2-4-3zM1117 1105l4 0 2 5-4-1zM1002 1107l3-1 2 2 4 9-8-5zM839 1109l4 1 6 5 12 4 12 22 0 3-2 1 3 6-3 3-4 0-4-6-10-8-12-15-7-12zM703 1117l2-2 6 6 1 8-4 6-11 24-8-18 4-6 0-11 4-2 4 6zM699 1140l-1 3 1 5 2-3zM1186 1117l5 2 6 6 6 10 0 8-6-2-6-6-6-10zM769 1121l4-3 8 8-6 7zM899 1123l6 8 8 6 0 2-8 4-6 8-2 0-7-16 1-2 6-4zM1154 1127l7 0 4 4-6 0zM1135 1139l5 0 7 6-2 1-5-1zM675 1149l4-1 8 11 8 1-6 15-13-18zM854 1151l3 2-7 6-2 8 3 10 2 18-7-10-6-16 4-4-2-6zM647 1157l6-6 2 2 2 8 4 6 4-6 4 0 6 9 4-1 8 8-11 42-1 26-127 0 7-12 6 4 2-3 3-7 0-8 1-3 4 2 6-1 3-8 3-2 4 10 4 2 2-6-1-16 1-2 6 0 2-7 6-4 0-14 2 0 4 3 1 8 3 3 4-4 6 0 4 3 4-18 10 1 2-3zM611 1167l0-13 2 5 0 6zM1197 1155l11 0 4 6-1 4-11 0-4-6zM891 1157l6-1 5 9-3 7-4 0-4-5-3-6zM1223 1159l5 0 5 4-2 1-6-1zM830 1165l6-2 1 2-6 2zM798 1165l5 1 3 5 6 20-3 4-12-18zM929 1169l8-6 6 7 11 5 13 22-8-2-6 1-4-1-8 5-4-3-2-4 0-9 8 5 2-2zM1148 1167l1-2 5 2 5 6-7-2zM924 1177l3-5 3 7 0 2-3 1zM1098 1187l1-1 7 3 5 7-2 1-4-2zM905 1199l13 6 3 4 2 8-6-3-8 0-5-9zM755 1207l2-6 5 8-3 2zM831 1225l0-10 2 1 8 6 9 3 2 2 0 8-1 2-6 2zM1105 1219l6 0 6 9-6-1zM1193 1219l4 2 1 4-7-4zM817 1221l4 7 11 5-9 7-1 5-5 0-4-6-2-1 0 7-8 0-3-18 9 0zM1065 1225l6-1 4 3-2 4-2-1zM895 1235l4 1 8 9-20 0 0-6zM1212 1237l6 2 4 6-7-2zM907 1245l4-2 2 2z"/>
<path fill="#ffc500" d="M602 169l1 0 11 0-3 5-6 0zM617 169l13 0-2 8-7 0zM632 169l203 0 0 8-6 20 6 4 4 13-1 17 3 8-3 34 5 8 2 12 4 7 2 9-22 36-2 1 1-9-3-10 6-12-2-2-8 8 0 6-7 4-3 6 1 4 7 6 0 4 6-2 0 2-5 20-5 7-6 2-2-3-2 0-3 4-3 1-5-1-5-7-4 4-3-1-9-12-1-10-3-4-8-3-4 7-8-10-4 2-4-2-12-18-2 0-2 6-10-5-12-22-4 3-2-1-1-13-6-8 1-8-3-6-5-4-2-4-6 1-6-2-4-5-8 1-8-12-2-7 3-10-1-3-4 2 0-3 6-7 2-9 5-2 2-12 3-4-4-4-4-10-4 1-6-3-4 4-6-5zM807 289l-2 2 0 2 2-2zM809 296l-2 3 1 14 3 5 4 0 5-5 1-12-4-4zM904 177l3 0-2 5-4 1zM1072 177l5 0-7 6-5 0zM1103 179l6 0-3 4-7 2-1-2zM1020 187l15-1 24 23 42 50 12 22 12 94-1 54-6 18-3 4-16 7-32 1-4 4 16 18 11 24 27 38 33 60 10 36 7 54-2 56-8 50-2 30-15 62-13 31-16 25-20 15-22 9-14-4-15-14-13-18-4 1-5 5 0 4 2 6-3 8-10 6-6-6-12-5-8-9-10-1-4-3-3-6 8-6 6-10 0-6-7-18-8 0-4 8-2 0-3-10 1-2 6 1 5-5-2-14 3-4 9 14-1 10 28 36 5-2 3-8-6-16-11-22-16-16-5-2-4-9-6 0-8 7-6-5-8-1-2 6 5 10-1 3-8 0-6 9-28 8-4-2-5-12-9-2-10-16-9-6-15-36 1-4 7-2 0-2-7-18 1-2 7 10 5 1 4 5 6 2 1-4-4-8-7-8-6 4 0-6 8-2 6 7 4 2 3-3 3-8-2-7-10-10-4-13 1-8 1-1 4 3 2-4-10-12 0-22-2-8 4-12 6-8-4-14 3-6-2-12 5-22-6-20 2-16-2-12-8-16 4-6 2-9 4 2 2-2 1-3-2-4 3-4 3-12-1-2-2 2-16 23-6 1-2-4 9-22 9-2 6-6 6-14-2-5-4 0-6 4-14-3-1-8-7-6 13-18 5-16 16-18 2 0 1 4-1 13 2 0 10-6 6 7 6-2 9-12 4-10-1-4-10 1 0-3 10-13 8 0 7-9 1-8-5-4-5 1-8 8-4-1-2-2 1-12-5-6 3-12 5-6 1-6-3 0-10 10-1-2 3-10-1-10 5-8 2-16 8-12 6-14-1-8-5-6 2-6 6-10-6-4-4-10-4 0-3 6-9 32 5 18-1 12-12 11-8-4-18 10-2 0-2-4 0-9 10-8 5-10 5-12 1-16 11-29 6-9 10-6 14-3 12-7 42-17zM975 931l0 2 2 4 1-2zM869 690l-3 13 3 3 6 1 3-6-1-8-2-3zM887 462l-4 3 0 3 4-3zM943 301l-5 4-4 10 3 16 10-14 4-9-2-6zM935 335l-4 2-9 16-1 4 2 1 11-15zM1120 187l6 0-6 6-6 0zM1100 191l4 0 1 2-7 8-4 0 1-6zM1130 197l6 0-6 6-6 0zM1112 201l7 0-2 4-7 4-7 1-20 9-11-2 1-6 4-4 6-1 2 4 4 0zM1121 207l5 0-1 10-7 6-11 3-2-1 1-4 9-6 0-3zM1149 221l6-1 2 1-6 6-6 1-2-1zM1135 233l3 0-1 2-4 2zM1141 239l2 2-3 4-9 4-2-1 3-5zM1167 247l4 0-6 6-4 0zM1115 265l8-3 2 1-8 3zM1146 269l13-4 0 2-5 6-7 2-4-2zM1167 267l4 2 0 2-8 3-1-3zM667 269l2-1 2 9-3-4zM1135 275l5 0-1 4-6 0zM1154 279l5 0 1 0-8 2zM1121 287l6-2 4 6 2 0-4 4-10-1-1-3zM1197 290l8-2 0 3-4 4-6 2-2-2zM1133 294l21-3 1 3 7-1-6 6-5 1-2-4-5 3-13 3-3-1zM1199 307l6-1 2 1-12 10-9 0zM1131 313l5 0-4 4-5 0zM1154 315l5 0-7 6-4 0zM1140 317l5 0-2 4-6 1 0-3zM1169 317l6-1 2 1-6 6-6 1-2-1zM1187 321l3 0-1 2-4 2zM1138 327l5 0 0 4-6 8-9 0 3-6zM1159 335l6-2-2 4-2 2-4 0zM1191 333l4 0-6 6-4 0zM1141 337l4 0-2 4-7 6-7 1 1-5zM1243 347l6-1 2 1-6 6-6 1-2-1zM1165 351l2 1-1 3-11 6-2-1 0-4-10 3-6 4-3 0 1-2-2-1-5 1 3-4 6-3 4 3 8-4zM1224 351l5-2 1 2-6 6-5 0zM1186 357l5 0 0 2-4 4-8 1 1-3zM1164 365l4 0 0 4-5 3-4 0 0-3zM1149 369l5 0-2 6 2 2-1 2-4 4-6 0 4-8 3 0-5-2zM1170 383l13-12 1 2-5 8-4 2zM1216 375l5-2 1 2-7 3zM1189 389l6-1 0 5-4 4-6 1 0-5zM833 401l16-8 1 4-17 24-3 22-13 16-6 4-6-1-3-5 6-24-6-4-1-4 2-6 6-7 14-3 4-8zM1158 397l7-1 2 1-6 6-6 1-1-3zM1138 405l5-1 2 1 0 2-3 4-7 2-1-4zM1185 411l6-1 2 1-6 6-6 1-2-1zM1157 415l2 2-2 2-7 4-5 0 3-4zM1154 427l5 0-2 4 3 2-1 2-12 4 0-8zM1173 437l8-5 3 1-6 10-6 2-1-2zM832 443l11-8 4 2 1 18-4 8-9 6 1-10-5-8 0-4zM1126 459l2 2-6 2 1-3zM1175 461l6-1 2 1-6 6-6 1-2-1zM1104 463l5-1 2 3-4 2-6 0zM1129 471l10-6 3 2-5 4-6 1zM1118 469l3 2-3 6-7 3-3-1 3-6zM1098 471l3 0-4 4-6 1zM1211 487l6-1 2 1-6 6-6 1-2-1zM842 505l3-1 2 3-8 18-4 3-2-3 0-6zM1223 545l6-1 2 1-6 6-6 1-2-1zM1201 575l6-1 2 1-6 6-6 1-2-1zM1184 611l5-1 2 1-4 4-6 0zM1198 633l7 0 0 2-7 4-7 0 3-4zM1205 651l6-1 1 1-5 2zM855 673l2-2 1 2-3 5zM1191 683l10 0 2 2-6 4-10 0-2-2zM1252 683l8 0 0 2-2 2-7 0-1-2zM1193 695l4-1 5 1 0 2-5 1-4-1zM1218 701l3-1 4 1-4 2zM1268 741l10 2 2 2-5 2-9-2-2-2zM1201 775l4 0 5 4-3 1-6-1-2-2zM824 807l15 4 13 28-1 14-4 0-10-7-10-2-8 2-6-3 5 28 4 8 0 12 5 8 11 8 3 8 4 5 10 7 20 2 9 12 1 6-1 6-3 2-14 1-12 3-10-3-4 6-6 1 0 2-12 8-6-2-5-6-4-14-7-14 4-1 14 4 2-1-2-9-6-4-8-15 0-4 4-3 1-3-3-12-11-18 1-3 18 23 3-6-4-12-5-6-6-4-8 0-4-2-5-10 5-2 4-12 4-4 0-6-4-12 8 3 8 8 4-5 6 1 2-2zM827 906l-2 5 2 6 2 4 4 1 1-3-1-5-4-7zM747 865l5 6 5 16 7 12 1 7-4-3-11-18zM778 869l3 2 0 4-2 0-1-2zM843 871l9 0 1 4-4 1-6-3zM781 901l4 1 4 5 10 26-2 2-6-3-1 1 3 10 16 24-12-9-10-5-4-6-1-14 7-4-8-20zM1206 903l7 2 2 4-4 0-4-3zM763 939l19 14 17 24 0 3-4 0-28-27-5-8zM1123 963l5 2 2 4-5-2zM1188 969l7 0 4 4 0 3-6-1zM1215 973l5 0 5 6-5 0zM1119 975l2-1 5 1 4 6-5 0zM1207 995l5 0 5 6-5 0zM1111 999l6 4 0 4-6-3-2-3zM824 1011l5 1 6-3 4 6-4 3-6-2-6 1-3-2zM1131 1011l4 0 2 4-3 0zM1162 1015l7 0 4 4 0 3-6-1zM1098 1031l5 2 1 4-3-1zM878 1041l7 4 2 4-2 2-5 0zM1145 1045l0-1 5 3-1 1zM1017 1051l4 0 2 2-3 0zM848 1055l3 0 3 4-5 1-2-3zM1154 1067l7 0 4 4 0 3-6-1zM902 1071l3 0 14 12 8-7 4 1 5 8 3 12-8 7-10-19 0 4 5 10-1 1-8-2-8 1-2-4-1-14zM782 1077l3 4 0 6-6-8zM1020 1087l6 2 3 4-7-2zM775 1091l8 0 12 14 2-5 2 1 5 10-7-4-8 1-6 4-1-1-9-8zM1182 1091l4 0 6 4 3 4-1 2-4 0-6-4-3-4zM1118 1105l3 1 1 3-3-1zM1003 1109l2-1 2 5-2-1zM839 1111l4 1-1 5 11 13 2-1-5-10 3-1 8 3 7 16-5 2 0 4-2 0-10-8-8-10-4-8-1-4zM929 1111l1 2-1 8-3-2zM1185 1119l2-2 4 2 6 6 6 11 0 6-6-1-6-6-6-11zM892 1135l9-6 6 6 1 4-9 8-4-3zM1136 1139l7 2 3 4-5 0zM867 1149l2 0 3 2-3 2zM1198 1155l9 0 4 3 0 6-4 2-6-1-5-6zM890 1159l5-2 6 10-2 4-4 0-6-10zM1224 1159l3 0 5 4-6 0-2-2zM936 1165l7 7 6 1 5 4-1 6-4 2-14-12-4-4zM1149 1167l5 0 4 4-1 2-4-2zM799 1171l2-1 4 2 3 17-3-1-4-7zM847 1185l-2-12 4 1 2 16zM626 1187l3 2 1 6 7 7 4-9 6 0 6-6 2 2 2 8 8 4 2-2 2-10 2 0 4 5 6-4 0 5-6 24-1 26-98 0-1-6 2-8 8 3 4-6 6 3 2-2 2-20 12-4 6 4 1-12 10 0zM1098 1187l5 0 8 8-2 2-4-2zM939 1193l14-2 4 2-12 1-4 3-4-2zM911 1207l6-1 3 3 0 4-11-2zM833 1223l0-5 14 7 4 10-2 2-4 0zM1106 1219l7 2 4 6-6 0-4-4zM815 1225l12 10-8 10-4-8-8-7-1 3 3 12-5 0-2-16 7 0zM1066 1225l7 0 2 2-4 3-5-3zM889 1240l9-3 4 8-13 0zM1213 1237l7 4 1 4-7-4z"/>
<path fill="#ffa900" d="M664 169l169 0 2 4-2 11-11 19 5 2 6-2 5 12-1 16 3 8-1 24-3 14 6 4 2 14 4 4 3 10-20 30-4-10 6-19-2-1-9 4-1-14-11-6 1-10-6 2-4 4-3 10 0 6 1 2 6-5 3 15-1 10 4 4-1 10 7 6-2 8 6 4-2 8-4 6-2 0-4-7-6 4-4 6-2-1-3-12-5-11-6-3-4-5-2 7-2-3-11-19-3-16-3 10-3 4-2-2-2-13-4-4 2 9-2 8-4 3-3-3-2-4 0-8-4-16 0-8-5-6-3 4 2 10-1 3-5-5-8-20-4-6 3-3 6 12 10-4 1-5-1-4-6-6-8 5-10-14-2-1-6 3-2-2-1-5 3-8-12-40-11-18-7-5zM739 285l-1 2 1 4 2-2zM801 352l-2 5 2 1 1-3zM1066 181l10-4 0 2-10 4zM1104 179l4 0-3 4-6 0zM1023 187l12 1 22 21 44 51 11 21 4 24 4 50 4 20 0 54-6 18-3 3-16 7-32 1-3 1-2 4 16 18 11 24 27 38 33 59 11 37 6 54-2 56-6 34-4 46-15 62-12 29-16 26-20 15-22 8-14-3-14-13-14-19-5 1-6 8 1 10-5-12-5-4 0 3 5 7-2 8 4 4-7 4-4-7-10-2-8-7-10-20 5-8-4-20 7 4 20 28 2 0 6-6 1-6-6-18-12-22-15-15-4-2-6-10-6 1-8 7-6-4-8-2-3 7 5 12-8 0-4 8-3 2-27 7-4-3-4-10-9-4-10-14-9-6-14-34 2-4 6 1 4-5 2 0 4 1 8 10 2-1-2-10 2-10 2-3 10-1-4-32-7-14 1-4 6 0 1-12 3-4 0-16 3-8-2-12-4-6-5-14 2-12-4-18 7-2 0-16 3-8-6-16 2-6-2-10-9-20 1-8-2-10 6-32-6 1-18 22-3 1-1-2 6-18 9-2 7-6 5-16-3-4-12 4-10-3-8-15 13-16 11-24 8-7 0 18 2 1 8-8 4-2 6 8 6-3 9-11 5-10-2-8-8 1 0-3 8-7 10-4 7-9 0-8-5-5-6 1-9 8-3-2 0-14-4-4 0-4 2-7 7-7 0-10-1-1-10 6-1-13 4-6 2-18 8-12 5-14 0-10-4-6 4-7 8-3 4-8-2-2-12 0-6-14-6 6-4 10-7 30 5 14 0 10-6 9-6 4-8-3-18 9-3-3 1-8 9-8 8-16 3-8-1-14 11-28 6-9 12-6 4 0 2 3 18-13 42-18 12-1 12-4zM983 919l0 4 2 6 14 16 2-2-4-8-8-11zM887 458l-4 3-3 6-1 4 2 2 8-6 1-8zM893 659l-1 6 3 3 1-5zM899 838l2 10 6 7-2-8zM941 299l-4 4-7 14 2 14-13 22 0 9 6-3 10-14 17-34 1-6-2-5-4-2zM895 675l-4 2 2 5 3-3zM1121 187l4 0-6 6-4 0zM1101 191l4 2-5 6-6 2 1-6zM1131 197l4 0-6 6-4 0zM1089 210l28-9 1 2-9 6-4 0-20 9-4-2-2 2-6-1 0-6 5-4 5-1 2 4zM679 207l2 5 4 1 2 4 0 19-4-4-4-8-4-5 0-6zM1121 207l4 0 0 2 0 8-2 2-6 4-10 2-2-1 1-3 9-6 1-4zM1150 221l6 0-6 6-6 0zM670 225l1-2 2 8-2 1zM1135 241l6-1 2 1-6 6-6 1-2-1zM1118 263l5 0 1 0-2 2-6 0zM1150 267l7-2 2 2-6 6-6 1-3-1zM1164 269l3-1 4 1-2 4-4 1-3-1zM1122 287l7 0-1 4-5 3-4-1 0-4zM1197 291l8-2 0 2-5 4-6 0zM1149 293l4-2 0 3-10 5-15 2 5-6 4-2zM1157 293l4 0-6 6-4 0zM728 301l2 4-1 1-1-3zM1200 307l6 0-3 4-9 6-7 0zM1132 313l4 0-5 4-3 0zM1155 315l2 0-6 5-1-1zM1140 317l4 0 0 2-3 2-4 0zM1170 317l6 0-6 6-6 0zM1138 327l5 0 0 4-4 5-2 2-9 1 3-6zM1131 343l12-5 0 3-7 6-7 0zM1244 347l6 0-6 6-6 0zM1225 351l5 0-3 4-7 2zM1150 353l9 0 6-1 2 1-6 6-6 1-2-1 2-4-8 3-3-1zM1137 355l1 2-1 1-8 1zM1187 357l3 0-1 4-3 2-6 0zM1165 365l4 2-1 2-3 2-6 1 0-3zM1150 369l3 2-2 3-5-1zM1181 373l2 0-2 5-6 5-4 0zM1217 375l4 0-5 2zM1147 377l4-1 2 0 0 3-4 4-6 0zM1190 389l5-1 0 4-5 5-5 1 0-4zM1155 399l11-2-3 4-8 3zM838 401l4 0 2 2-3 6-6 2-8 10 0 6 2 6-2 8-10 14-8 3-3-3 0-8 9-26-8 3 2-9 14-4 6-8 6 0zM1138 405l5-1 2 3-4 4-6 1-1-3zM1186 411l6 0-6 6-6 0zM1151 417l6-1 1 1-4 4-7 2-1-2zM1148 431l10-4-2 4 3 3-12 4 2-3zM1178 433l5 0-5 6 1 2-2 2-6 0 2-6zM841 439l3 0 1 4-4 16-7-10 1-4zM1176 461l6 0-6 6-6 0zM1105 463l4-1 1 3-3 2-5 0zM1134 467l5-1 2 1-5 4-6 0zM1109 475l10-6 2 1 0 3-6 6-7 0zM1212 487l6 0-6 6-6 0zM1224 545l6 0-6 6-6 0zM1202 575l6 0-6 6-6 0zM1185 611l5 0-4 4-3 0zM1194 635l10-2 0 2-7 4-5 0zM1192 683l8 0 3 2-7 4-8 0-3-2zM1253 683l6 0 1 2-3 2-5 0-2-2zM1194 695l3-1 4 1 0 2-4 1-3-1zM1219 701l2 0 3 0-3 2zM1265 743l6-1 6 1 2 2-6 1-6-1zM1201 775l4 0 5 4-8 0-2-2zM827 811l4 0 8 4 2 3 8 19 0 12-4 0-10-8-18-1-5-5-1-2 4-2 2-4 6 0 3-8zM798 819l3 0 4 3 5 9-1 10 6 22 0 5-14-9-5-6-1-8 6-10zM967 871l7 12-1 6-6-8zM751 875l3 8-1 4-3-6zM956 893l5 2-4 5-2-3zM1207 905l5 0 2 4-2 0zM785 916l-2-11 4 2 5 14-1 3zM839 918l-6-12 5 3zM848 925l27 5 9 13-1 10-28 5-12-5-4 7-6-3-2 2 2 6-10 7-4-1-6-8-6-22 16 7 4-16 6-1 8 5 4-3 4 0zM966 935l6-2 5 10-4 1-5-3zM783 937l2-2 4 3 8 15-1 2-5-1-5-5-3-6zM763 943l4-1 14 11 17 26-5-2-23-22-5-6zM1124 965l1-1 3 1 1 4zM1189 969l5 0 5 6-5 0zM1120 975l5 0 4 4 0 2-7-2zM1110 1001l1-1 4 1 2 5-4-1zM831 1013l2-1 3 3-3 0zM1163 1015l5 0 5 6-5 0zM1155 1067l5 0 5 6-5 0zM905 1075l2 0 8 6 6 14-10 3-2-1 0-12zM925 1079l6 0 4 6 2 10-2 4-3 0-10-16zM1021 1089l4 0 3 2-5 0zM1182 1091l10 4 3 4-1 2-10-4-3-4zM1185 1119l2-1 4 1 6 6 6 11 0 6-6-1-6-6-6-11zM854 1121l3-2 3 2 3 8 0 4-4-3zM894 1135l5-4 6 8-4 5-2 0-4-6zM1142 1145l-5-5 5 1 3 4zM1198 1155l9 0 4 4 0 5-4 2-6-1-5-6zM892 1159l2 0 4 10-2 0-5-7zM1225 1161l4 0 2 2-4 0zM935 1167l2 0 6 7 7 1 1 3-4 1-12-9zM1150 1167l3 0 4 4-3 0zM803 1177l2 1 0 6-2-3zM847 1179l2 0 0 6-2-3zM1099 1187l7 2 4 6-5 0zM669 1209l4-6 4 1 0 1-3 14-1 26-80 0 0-6 8 0 4-11 8 4 6-3 1-8 3-3 4 2 6-3 6 0 4-7 8-1 4-3 8 6zM621 1232l-1 1 1 5 1-3zM915 1207l3 2 0 2-4 0zM1107 1219l5 2 4 6-7-2zM838 1225l5 0 6 10-2 2zM1067 1225l6 0 1 2-3 2-4-2zM819 1237l2-2 1 2-1 1zM1213 1239l4 0 4 4-4 0z"/>
<path fill="#ff8100" d="M687 169l142 0 4 3 1 5-3 10-10 12-5 10 7-1 4 3 6-4 5 10-3 18 3 6 0 22-4 18 1 2 4-2 2 1 2 15 4 2 3 10-15 24-4 1-3-5 10-26-12 4-5-10-9-4 1-15-6 2-1-3 3-10 8-10 3 0 3 5 2-2 5-9 0-8-3 0-12 12-18 22-6 32 5 20-5 1-1-7-6-2-1-10-6-3 1 9 3 8-2 2-8-12-13-28-2-10 3-8-5-14-9-4-2-6-2-1-2 5-4-2-8-8-4-8-4 0-4 4-7-14 5-9 4 2 6-4-6-11-2-12-8-6-2 2-8 1-3-7-6-4zM1067 181l6-2 2 0zM1001 192l34-3 22 21 43 51 11 21 4 23 5 50 3 20 0 53-6 18-3 3-17 8-32 1-4 5 2 4 14 14 11 24 26 38 35 60 10 38 6 52-2 56-6 34-4 46-15 62-13 31-15 23-19 14-22 9-10-2-6-4-12-10-6-11-8-9-4 1-8 7-9-7 7-10-5-20-9-15-3-9-19-19-6-9-4-1-12 9-16-7-2 9 5 10 0 2-9-1-2 8-2 2-28 7-3-2-4-10-7-4-8-14-12-6-13-32 1-2 8 2 2-4 2 0 10 16 2 0 6-8-4-12 2-2 5 6 2 12 9 22 12 12 2 2 2-2-7-16 0-4 2-2-3-10 2-5 4-1 2-4-2-18-3-6-2-42 4-8-2-8 3-2 2-12-4-18-5-4 3-12-3-20 1-6-2-10-1-14-5-10-6-32 1-10 4-4-3-6-6-2-3-22-6-10 4-24 3-10-10 2 3-14-1-7-4 0-8 4-5-1-7-4-6-12 10-14 16-27 2 1-2 10 4 6 2 0 10-12 2 0 4 7 4 0 4-2 14-19 2-18 9-8 6-8 0-10-7-5-6 2-8 7-3 0-1-6 2-12-4-1 0-5 4-6 4 7 2-1 6-5 11-13 16-30 3-14-6-7-10 1-10 17-6 7-7 16-9 8-1-8 4-8 1-16 13-28 0-14-2-4 5-1 5-5 6-12-2-4-11 2-4-2-3-12 2-4 7-8 9-6 37-16 18-3zM873 832l0 5 8 15 20 13 1-2-3-7-8-5-14-18zM891 455l-10 5-5 11 1 4 5 4-1 6 2 2 9-10 3-8-2-12zM901 486l-5 7-7 17 14-19 2-6zM907 518l-7 11-5 17 6-2 7-9 3-14-1-2zM1095 195l8-4 2 2-6 6-4 1zM1115 201l2 2-4 4-8 1-17 9-5 1-2-3-2 2-5 0 0-6 5-4 3 0 1 3 4 1 8-2 5-4 7 0zM701 207l2 0 0 8-3-2zM1117 211l6-4 2 2-2 2 2 5-2 3-6 4-10 1-2-1 3-4 9-4zM1151 221l4 0-6 6-4 0zM911 225l2 2 0 4-9 18-7 32 5 16-1 10-8 9-8-3-12 7-8 1 0-10 8-6 10-20 2-8-2-10 11-28 5-8zM1136 241l6 0-6 6-6 0zM1151 267l6 0 0 2-5 4-7 0zM1165 269l4 0 0 2-2 2-4 0zM1122 287l5-1 1 3-5 4-4 0 0-3zM1203 289l-1 4-7 2 3-4zM1131 297l17-4 0 2-7 4-2-1-6 3-3 0zM1201 307l4 0-9 8-8 2 1-2zM1141 317l2 0 0 2-5 2zM1171 317l4 0-6 6-4 0zM1139 327l4 1-2 5-4 4-8 2 4-8zM923 337l1 2-3 5-1-3zM1132 343l5-1 1 1-3 4-5 0zM809 345l2-1 4 3-6 11-2 0 0-3zM1245 347l4 0-6 6-4 0zM1226 351l3 0-4 4-4 1zM1151 353l5 0-6 4-6 0zM1160 353l6 0-6 6-6 0zM1162 367l5-1 0 3-2 2-5 0zM1147 377l6 0-2 4-7 2zM1190 389l5-1 0 4-5 5-5 0 0-3zM1161 397l4 0-6 6-4 0zM1139 405l5 0-1 4-2 2-6 1 0-3zM829 407l3 0-1 4-6 4zM1187 411l4 0-6 6-4 0zM812 415l3 0 1 0-3 2zM1152 417l6 0-5 4-6 1zM816 427l5-6 1 2-4 24-7 5-2-2 1-5zM1152 429l5-1 0 1-2 3-6 0zM1175 436l6-3 0 2-6 5zM1177 461l4 0-6 6-4 0zM1103 465l6-2 0 2-6 2zM1135 467l6 0-6 4-5 0zM1114 471l5-1 2 1 0 2-7 6-5 0 1-4zM1213 487l4 0-6 6-4 0zM861 521l9 0-7 11-6 5-2-2 0-2zM1225 545l4 0-6 6-4 0zM1203 575l4 0-6 6-4 0zM1193 637l8-4 2 2-8 4zM1193 683l6 0 3 2-7 4-6 0-3-2zM1251 685l6-2 2 2-6 2zM1195 695l2 0 3 0 0 2-3 0-2 0zM1267 743l8 0 2 2-8 0zM1202 775l7 2 0 2-7 0-2-2zM832 817l5 0 2 2 7 20 1 6-4-1-6-6-8-5 0-6 3-4zM801 823l2-1 3 5-1 9zM797 845l8-8 6 18 1 6-1 2-10-7-4-5zM978 903l3 0 6 8 15 22-1 3-20-24zM978 923l2 0 4 8 12 14 2 4-1 4-6-2-5-6-9-18zM851 929l2-1 21 3 9 12 0 8-2 2-16 1-12 3-11-10 3-4 7 2 2-8zM968 935l3-1 4 7-2 1-4-2zM785 941l2-2 2 3 4 10-6-3zM829 943l6 0 2 11-8-4zM766 945l3 0 11 8 14 20-1 2-22-20zM810 947l1-1 4 1 8 9 4 1 2 8-6 6-4-1-4-5zM1125 965l2 0 2 3-3-1zM1121 975l3 0 4 4-1 2-4-2zM1111 1001l3 0 3 4-4 0zM924 1083l3-3 2 1 5 8 2 6-1 2-3 0zM1182 1093l1-2 6 2 4 4 0 4-6-2zM911 1096l0-3 5 2zM1185 1119l5 0 5 4 6 9 2 9-5 0-5-4-6-9zM1199 1155l7 0 3 2 2 6-6 2-6-2-2-4zM1100 1187l5 2 5 6-7-2zM1107 1221l4 0 4 6-2 0zM651 1237l6-13 4 2 2-2 8 4 2-1-1 18-44 0 9-11 4 1 4-6 2 6z"/>
<path fill="#ff2d00" d="M730 169l94 0-9 10-3 6 1 2 6-2 10-11 3 1-1 10-13 14-14 26 1 1 9-11 6-2-1 6-8 14 0 3 2 0 6-5 10-15 4-3 4 6-2 10-3 6-17 16-16 18-4 0-1-2-1-18-5 0-2-2-2-14-4-8-3-12-6-2-6-12-2-1-4 12-2 2-2-2-5-17-3-3-6 1-2-2zM1001 193l28-4 6 2 21 20 43 50 11 22 5 22 4 50 4 20-1 52-6 18-3 4-16 7-32 0-4 3-1 4 1 4 14 14 12 26 39 56 20 36 10 32 6 36 0 20 2 6-2 56-6 34-4 46-15 62-13 30-15 24-20 13-20 8-10-1-8-6-9-8-13-19-4-2-10 5-1-18-4-14-10-16-4-10-17-18-8-11-4-2-12 12-9-5-14-12-2-8 3-12-1-26-5-6-2-8-2-78-3-10-1-10 2-12-7-44 3-6-5-18 3-14-1-8 5-20-2-16 2-12-4-8 2-17-2-1-6 4-4-5-2 1-6 8-4 10 3 6-2 6-7 7-4-5 4-19 25-41-13 6-12 20-4 3-4 1 2-16 12-14 5-12-3-14-8 0 0-4 4-4 2 1 2 7 6-1 15-13 5-8 2-20 10-7 5-7 1-10-4-6-4-3-4 1-14 9-1-5 2-8 3-6 21-22 15-26 3-8 1-10-3-6-5-3-10-1-7 8-5 10-6 7-4 8-4 0-2-3 1-10 13-26 2-18 8-8 5-14-1-5-12 2-4-1-2-12 6-8 10-7 40-18 12 0zM1096 195l7-3 1 1-7 5zM1101 205l4 0-6 6-4 0-8 6-4 0 2-5 10-1zM1078 209l3-1 1 3-3 3-4 0zM1109 219l14-6 2 2-3 4-6 4-10 0zM897 235l12-8 2 2-8 20-7 32 4 16 0 10-7 7-8-2-16 6-2-1-1-6 9-8 11-20 1-8-3-6 2-10zM769 231l2-1 1 1-1 5zM1137 241l4 0-6 6-4 0zM830 255l5-12 2 3 0 19-7 24 9-4 2 6-2 5-8 6-6-7-11-2 4-20zM815 265l0 4-4 5-1-3zM1123 287l4 0 0 2-6 4-2-2zM842 301l5-1 2 9-14 21-4 1 0-8zM1141 327l2 2-2 4-5 4-5 2-2-2 4-6zM908 337l6-4-1 4-4 4zM1146 357l8-4-1 2zM1161 353l4 0-6 6-4 0zM1149 377l2 0 0 2-6 4 0-3zM1191 389l4 0 0 2-6 6-4 0 1-4zM1140 405l3 0 0 3-4 3-4 0 0-2zM1153 417l3 0-4 4-4 0zM850 479l21-27 2 1 3 6-2 16 4 6 0 4-3 6-10 4-10-6zM1133 469l6-2-7 4zM1114 471l5-1 1 3-6 6-5 0 1-4zM860 523l3-1 4 1-8 10-2-2zM1195 683l7 2-2 2-7 2-7-2 2-2zM1201 777l4-1 4 3-6 0zM858 825l1-1 4 2 9 13 4 10-1 6-6-2-4-6zM887 837l4 2 2 6-2-1zM800 847l3 0 4 4 1 4-1 2-6-4-2-4zM927 847l4-2 2 2 8 25-5-1-5-8-4-10zM917 869l-4-20 2 1 11 11 5 11 0 7-4 3-14 2-12 4-2-1-4-10-8-9-2-7 9 4 11 10 2-2 0-8 8 4zM1012 929l3 2-2 3-4-3zM854 931l3-2 18 5 6 9 1 8-11 2-5-8-7-3zM867 940l0 2 2 3 0-4zM985 937l7 6 3 6-2 1-4-3zM768 949l1-2 8 5 7 11-1 1-7-5zM813 951l4 2 4 6 3 6-1 4-4-1-4-4zM1182 1093l7 0 4 4 0 3-6-1zM1186 1119l3 0 8 7 4 6 1 9-3 0-8-7-4-6zM1200 1155l9 2 2 5-4 3-8-2-2-5zM1100 1189l7 2 1 4-4-2z"/>
<path fill="#f90000" d="M773 169l49 0-15 20 0 4 10-1 1 1-7 14-10 13-4-1-4-6-8-24-10-14zM828 179l3-1-2 7-7 4zM1022 191l11 0 21 20 45 52 10 20 5 22 4 50 4 20-1 52-6 18-4 4-14 6-34 1-4 3-1 4 3 6 14 14 11 24 39 56 17 30 13 38 7 64-2 52-5 36-5 44-13 62-11 26-19 29-19 13-21 7-8-1-13-10-15-22-14-11-4-15-12-18-1-12-11-8-9-10-19-28-3-8-6-4-2-4-5-36 1-8-6-16 0-22-3-12 2-16 7-16 1-2 4 1 2-2 3-13 0-14-4-12 0-16-5-14-2-28-12-34 0-30-6-14 7-22-1-2-6 2-2-2 2-10-4 0-1-2 8-18 0-6-3 2-5 10-9 12-16 10-10 19-4 3-2 0 2-12 11-12 4-8 2-18 11-9 12-5 4-28 20-19 5-9 0-14-1-2-12 9-10-1-14 8-2-2 4-12 29-32 10-16 5-12-4-12-4-6-14-3-10 7-7 10-5 13-2 1-2-2 1-6 4-6 8-20 3-16 11-8 5-8-3-16-3-1-14 3-2-6 1-6 13-12 16-5 20-11 6-1 6 2 16-8zM985 390l-14 19-7 22 9-10 12-20 3-10-1-2zM1096 195l7-3 1 1-7 4zM1088 211l6 0-4 4-6 2 0-2zM1113 217l11-2-5 6-4 2-8 0zM832 217l3 0 1 4-5 12-14 11-12 15-4 3-2-1 3-10 5-6 10-6zM897 237l10-7 2 3-8 18-7 32 5 14 0 9-4 5-6-2-16 7-4 0 0-5 8-8 10-18 3-10-5-7 2-9zM834 253l1 12-6 16-5 8-8 4 0-8 4-12zM844 301l3 0 1 8-5 10-10 10-1-4 3-10zM1136 329l5-1 0 4-5 5-5 1 0-3zM1191 389l3 0-1 4-7 4 1-4zM890 447l2 2-1 1-2-1zM868 457l3-1 1 3-1 16 5 10-3 6-8 3-3-1-1-6-4 1-2-1-4-8zM1115 471l5 0-1 4-8 4-1-4zM916 481l0 6-4 8-13 13-1-1 1-3zM1189 685l6-1 6 1-2 2-6 1-6-1zM1201 777l6 0 1 2-5 0zM865 844l-2-14 2 2 7 9 2 6-1 4-4-1zM950 833l3 0 10 14-8 9-6-3-8-10zM917 857l4 1 7 11 2 6-1 5-12 2-5-5-1-7 6 3 3 0zM932 857l1-2 2 3 1 7 3 6-5-6zM856 931l4 0 1 4-2 1zM874 939l7 8-1 4-3 0zM771 951l6 2 4 7-6-3zM815 955l7 8-1 5-5-5zM1183 1093l5 0 5 6-5 0zM1187 1119l5 2 7 8 3 8-1 4-5-2-7-8-3-8z"/>
<path fill="#e60000" d="M805 181l2-12 14 0-14 13zM1011 193l16-2 6 2 19 18 45 52 12 22 4 22 0 12 4 24 0 12 4 22 0 46-2 8-5 14-7 5-12 4-14-1-18 1-5 3-2 6 2 6 15 15 11 23 41 58 16 28 13 38 7 64-2 52-10 80-14 62-10 25-19 29-19 12-18 5-16-5-8-6-5-12-10-10-14-26-11-15 0-1 6 4 3-2-2-12-7-18 4-14-2-12 1-4 6-6 3-14 3-16 2-42-1-30-4-20 2-18-3-24 2-28-3-40-2-12-6-14-3-14 3-40-3-12-6-10-13 2-2-5-6-5 0-12-6-5-10 2-4-7 3-8 31-52 5-26 14-24 9-10 0-5-2-3-2 1-6 11-14 14-14 4-2 4-1 14 9-6 3 2-1 4-36 50-6-4-1-6 2-10 17-30-5-6 1-12-2-2-4 1-36 24-2 1-2-2 4-11 26-25 8-2 14-11 3 1 3 8 10-8 7-10-7-1-2-10-12-3-2-4-6-3-8-13-5-2-3-4-6-1-13 13 5-22 16-10 7-14-5-4-4-10-2-1-12 4-4 0-1-9 11-10 16-5 19-11 5-1 6 3 18-9zM965 268l-5 5-1 4 2 1 4-5zM993 270l-4 7 0 6 2 1 6-11-2-3zM1097 195l4-2 2 0-2 2zM805 203l2-2 2 2-4 3zM1089 211l4 0-4 4-4 1zM1119 215l4 0 0 2-4 4-6 0zM831 221l2-2 2 1-1 7-5 6-4 1zM902 233l3 0 1 2-6 14-7 34 5 14-1 8-2 2-22 5-1-1 3-2 4-6 13-26 0-8-4-4 0-4 9-22zM831 261l2 4-4 12-10 11-1-3 3-10zM844 303l3 0 0 6-5 10-7 7-2-3 2-7zM1137 329l4 0 0 2-7 6-3 0zM1189 391l4-1 0 3-6 3zM912 449l4 0 5 4-2 6-8 13-6 3-4 1 3-21zM866 461l4 0-1 8-6 12-6 5-5-7zM1111 475l8-4 0 2-4 4-4 1zM865 485l2-2 4 2 0 4-5 2zM883 496l7-5-1 4-6 6zM1190 685l5 0 4 0-1 2-9 0zM1202 777l5 0 0 2-2 0zM865 835l5 6 1 6-5-4zM949 847l6-3 4 3-1 4-3 4-6-6zM921 861l8 12 1 4-3 3-4-1-3-14zM1187 1121l4 0 6 6 4 7 0 6-4-1-6-6-4-7z"/>
<path fill="#d80000" d="M809 175l2-6 8 0-8 7zM1023 193l10 1 19 19 45 52 10 19 5 23 0 12 4 24-1 14 6 30-1 38-5 16-4 6-14 6-8 0-6-2-24 2-5 2-2 6 4 10 15 14 13 24 32 48 8 8 16 28 13 38 5 38 1 50-2 28-10 80-11 54-12 32-9 15-13 15-17 10-22-4-5-4-3-10-2-28 1-10-1-20 3-14-2-14 3-8-2-18-13-34-3-32 2-20-2-10 1-26-6-34 0-20-4-18 5-44-6-22-1-16 3-18 4-10 1-14-6-22-5-3-10 1-3-6 2-6 9-14 1-6-6 4-8 14-3 3-4 1-2-4-10 5-4-5 4-12 6-4 11-14 7-30 0-5-6-2-11 11-17 36-8 3-4-1 1-6 12-24 14-12 19-38 1-4-1-2-12 15-2 1-1-4 1-6 18-26 3-10-5-9-2 0-14 19-6 4-3-2 2-10 14-34-1-7-2-2-12 18-2 1-1-2 0-8 8-16 2-12-6-26-1-1-2 3-9 22-6 22-13 6-2-10 7-12 6-18-1-3-10 5-2 0-2-2 0-8 4-16-10 5-6-10-4-1-12 6-2-4 1-4 7-6 12-3 18-11 10-2 3 4-1 3 11-9 9-5zM1017 433l-8 8-4 10 0 6 8-12 4-8zM832 223l1 2-2 3-1-3zM903 235l0 4-8 21-4 2 2-11 6-12zM826 269l3-1-1 5-5 7-2-1 1-4zM934 275l3 0 0 2-6 9 0-7zM890 289l5 5 1 7-7 5-8 1 2-7zM843 305l4 0-2 8-6 8-4 1 2-8zM978 345l3 0-1 2-4 10-9 9-1-3 2-8zM936 359l4 0-13 16-10 6 0-6 4-6zM910 453l4 2 1 6-4 7-6 3-1-2 1-7zM866 463l2 4-5 10-6 7-2-1-1-2 1-4zM927 878l-4-11 4 5 2 5z"/>
<path fill="#d00000" d="M813 172l0-3 5 0zM1001 199l30-5 12 11 53 60 4 8 5 10 6 24 0 22 4 14-1 16 6 32-2 34-5 18-2 3-16 6-6-1-4-3-10 2-10 0-8-3-4 2-4 0-12 17-14 3-1-4 11-24-12 1 0-4 8-19 8-12 2-6 0-3-2-1-10 17-6 3 0-9 13-23-1-5-4-3 3-8 0-8-11-14 4-22-4 0-8-5-6 9-4 3-1-1 3-10 5-8-1-20-5-10-9-43-2-1-8 9-6-3-12 9-2 0-2-3 6-18 21-28zM1029 256l-10 9-6 16 0 5 10-9 9-12 2-8zM989 222l-3 9 1 3 5-7-1-4zM969 209l6-1 0 3-10 15-8 6-3-5 0-8zM934 227l3-3 3 1-5 3zM888 295l5-1 1 5-7 5-2-1 0-2zM837 316l6-9 2 1-4 9-4 3zM923 369l4-1 0 3-3 4-5 3-1-3zM864 467l1 2-2 5-6 7 0-4zM1054 475l15 11 19 33 41 57 12 23 7 18 4 14 3 26 3 64-12 104-4 24-9 36-12 30-8 12-18 16-2 0-1-4 1-14 5-10 0-54 4-26 0-94-6-60-5-24-15-28-5-22-8-8-4-15-7-13-3-18-1-8 4-8-1-10 4-22-4-18 3-6z"/>
<path fill="#cc3c3c" d="M1009 202l18-7 6 2 26 26 9 14 27 29 6 13 7 28 1 26 4 10-1 28 6 18 0 24-6 30-15 7-7-1-1-4 0-5-10 7-12-1 1-9-1-2-8 3-8 6-4-18-3-5-2-8 1-6-1-10-4-10-4-22 12-22 4-24-3 0-3 4-13 30-5-8-1-10 14-24 2-6-4 0-12 6-8 7-3-3-3-16 10-13 1 1-1 11 4-3 19-32-5 0-2-2 0-10-5-4-1-7-15 17-9 20-2 0 0-15-4-2-1-5 3-22-6 4-3-2 0-16-4-10 1-4 8-4zM1063 415l-6 8 0 5 6-7 2-4zM1055 485l8-3 5 5 18 34 13 16 12 20 10 10 18 32 11 32 5 36 1 54-12 106-14 60-13 30-10 12-4-8-2-12 0-48 4-26 0-94-10-86-1-14-6-44-10-44-14-42-10-22z"/>
<path fill="#cc9c9c" d="M1031 201l6 2 6 7 1 3-19 16-14 16-4 2 2-12 6-15 8-7zM1049 217l10 7 5 7 1 6-20 16-2-1-5-13zM1066 241l5 0 4 3 10 15 12 14 2 10-7 10-2 10 3 0 8-6 2 2 4 24-1 12 5 10-2 18-18 18-12 9-2-11-16 14 4-30-18 19-4 2 0-5 5-10 11-15 4-4 4 2 2-1 4-5 6-10 2-9-2-2-8 4-4-2-2-6-8 2 4-16-2-10 8-21-8 2-10 7-4-1-1-3 4-12zM1110 387l3 0 3 6-2 32-5 17-14 6-2-3 6-17-16 9-6-2 0-4 17-34zM1054 399l3 0-8 22-4-10 2-6zM1073 417l5-4-3 4zM1112 563l2 0 5 6 20 36 8 28 6 36 2 50-2 24-10 78-2 10-2 1-2-1-3-14-4-70-8-62 0-60z"/>
</g>
</g>
<defs><linearGradient id="cbg" x1="0" y1="1" x2="0" y2="0"><stop offset="0.000%" stop-color="#1c0020"/><stop offset="2.564%" stop-color="#1c0020"/><stop offset="2.564%" stop-color="#540060"/><stop offset="5.128%" stop-color="#540060"/><stop offset="5.128%" stop-color="#7b008c"/><stop offset="7.692%" stop-color="#7b008c"/><stop offset="7.692%" stop-color="#830094"/><stop offset="10.256%" stop-color="#830094"/><stop offset="10.256%" stop-color="#63009e"/><stop offset="12.821%" stop-color="#63009e"/><stop offset="12.821%" stop-color="#1800a7"/><stop offset="15.385%" stop-color="#1800a7"/><stop offset="15.385%" stop-color="#0000b9"/><stop offset="17.949%" stop-color="#0000b9"/><stop offset="17.949%" stop-color="#0000d5"/><stop offset="20.513%" stop-color="#0000d5"/><stop offset="20.513%" stop-color="#0025dd"/><stop offset="23.077%" stop-color="#0025dd"/><stop offset="23.077%" stop-color="#0067dd"/><stop offset="25.641%" stop-color="#0067dd"/><stop offset="25.641%" stop-color="#0082dd"/><stop offset="28.205%" stop-color="#0082dd"/><stop offset="28.205%" stop-color="#0095dd"/><stop offset="30.769%" stop-color="#0095dd"/><stop offset="30.769%" stop-color="#00a0c7"/><stop offset="33.333%" stop-color="#00a0c7"/><stop offset="33.333%" stop-color="#00a8af"/><stop offset="35.897%" stop-color="#00a8af"/><stop offset="35.897%" stop-color="#00aa9b"/><stop offset="38.462%" stop-color="#00aa9b"/><stop offset="38.462%" stop-color="#00aa8b"/><stop offset="41.026%" stop-color="#00aa8b"/><stop offset="41.026%" stop-color="#00a248"/><stop offset="43.590%" stop-color="#00a248"/><stop offset="43.590%" stop-color="#009a08"/><stop offset="46.154%" stop-color="#009a08"/><stop offset="46.154%" stop-color="#00aa00"/><stop offset="48.718%" stop-color="#00aa00"/><stop offset="48.718%" stop-color="#00bc00"/><stop offset="51.282%" stop-color="#00bc00"/><stop offset="51.282%" stop-color="#00cc00"/><stop offset="53.846%" stop-color="#00cc00"/><stop offset="53.846%" stop-color="#00df00"/><stop offset="56.410%" stop-color="#00df00"/><stop offset="56.410%" stop-color="#00ef00"/><stop offset="58.974%" stop-color="#00ef00"/><stop offset="58.974%" stop-color="#0fff00"/><stop offset="61.538%" stop-color="#0fff00"/><stop offset="61.538%" stop-color="#67ff00"/><stop offset="64.103%" stop-color="#67ff00"/><stop offset="64.103%" stop-color="#c0fd00"/><stop offset="66.667%" stop-color="#c0fd00"/><stop offset="66.667%" stop-color="#d8f500"/><stop offset="69.231%" stop-color="#d8f500"/><stop offset="69.231%" stop-color="#f0ea00"/><stop offset="71.795%" stop-color="#f0ea00"/><stop offset="71.795%" stop-color="#f9d700"/><stop offset="74.359%" stop-color="#f9d700"/><stop offset="74.359%" stop-color="#ffc500"/><stop offset="76.923%" stop-color="#ffc500"/><stop offset="76.923%" stop-color="#ffa900"/><stop offset="79.487%" stop-color="#ffa900"/><stop offset="79.487%" stop-color="#ff8100"/><stop offset="82.051%" stop-color="#ff8100"/><stop offset="82.051%" stop-color="#ff2d00"/><stop offset="84.615%" stop-color="#ff2d00"/><stop offset="84.615%" stop-color="#f90000"/><stop offset="87.179%" stop-color="#f90000"/><stop offset="87.179%" stop-color="#e60000"/><stop offset="89.744%" stop-color="#e60000"/><stop offset="89.744%" stop-color="#d80000"/><stop offset="92.308%" stop-color="#d80000"/><stop offset="92.308%" stop-color="#d00000"/><stop offset="94.872%" stop-color="#d00000"/><stop offset="94.872%" stop-color="#cc3c3c"/><stop offset="97.436%" stop-color="#cc3c3c"/><stop offset="97.436%" stop-color="#cc9c9c"/><stop offset="100.000%" stop-color="#cc9c9c"/></linearGradient></defs>
<rect x="941.0" y="84.0" width="27.0" height="540.0" fill="url(#cbg)"/>
<rect x="941.5" y="84.5" width="26.0" height="539.0" fill="none" stroke="#000" stroke-width="1.1"/>
<line x1="967.5" x2="972.5" y1="623.5" y2="623.5" stroke="#000" stroke-width="1.1"/>
<text x="979.3" y="631.8" class="tl2">10<tspan dy="-8.6" font-size="15.8">−1</tspan></text>
<line x1="967.5" x2="972.5" y1="476.5" y2="476.5" stroke="#000" stroke-width="1.1"/>
<text x="979.3" y="484.8" class="tl2">10<tspan dy="-8.6" font-size="15.8">0</tspan></text>
<line x1="967.5" x2="972.5" y1="328.5" y2="328.5" stroke="#000" stroke-width="1.1"/>
<text x="979.3" y="336.8" class="tl2">10<tspan dy="-8.6" font-size="15.8">1</tspan></text>
<line x1="967.5" x2="972.5" y1="181.5" y2="181.5" stroke="#000" stroke-width="1.1"/>
<text x="979.3" y="189.8" class="tl2">10<tspan dy="-8.6" font-size="15.8">2</tspan></text>
<rect x="150.5" y="84.5" width="744.0" height="539.0" fill="none" stroke="#000" stroke-width="1.1"/>
<line x1="212.5" x2="212.5" y1="623.5" y2="628.4" stroke="#000" stroke-width="1.1"/>
<text x="212.9" y="655.0" class="tl" text-anchor="middle">0</text>
<line x1="336.5" x2="336.5" y1="623.5" y2="628.4" stroke="#000" stroke-width="1.1"/>
<text x="336.9" y="655.0" class="tl" text-anchor="middle">10</text>
<line x1="460.5" x2="460.5" y1="623.5" y2="628.4" stroke="#000" stroke-width="1.1"/>
<text x="460.9" y="655.0" class="tl" text-anchor="middle">20</text>
<line x1="584.5" x2="584.5" y1="623.5" y2="628.4" stroke="#000" stroke-width="1.1"/>
<text x="584.9" y="655.0" class="tl" text-anchor="middle">30</text>
<line x1="708.5" x2="708.5" y1="623.5" y2="628.4" stroke="#000" stroke-width="1.1"/>
<text x="708.9" y="655.0" class="tl" text-anchor="middle">40</text>
<line x1="832.5" x2="832.5" y1="623.5" y2="628.4" stroke="#000" stroke-width="1.1"/>
<text x="832.9" y="655.0" class="tl" text-anchor="middle">50</text>
<line x1="145.6" x2="150.5" y1="128.5" y2="128.5" stroke="#000" stroke-width="1.1"/>
<text x="140.0" y="139.1" class="tl" text-anchor="end">10</text>
<line x1="145.6" x2="150.5" y1="241.5" y2="241.5" stroke="#000" stroke-width="1.1"/>
<text x="140.0" y="252.1" class="tl" text-anchor="end">5</text>
<line x1="145.6" x2="150.5" y1="354.5" y2="354.5" stroke="#000" stroke-width="1.1"/>
<text x="140.0" y="365.1" class="tl" text-anchor="end">0</text>
<line x1="145.6" x2="150.5" y1="466.5" y2="466.5" stroke="#000" stroke-width="1.1"/>
<text x="140.0" y="477.1" class="tl" text-anchor="end">−5</text>
<line x1="145.6" x2="150.5" y1="579.5" y2="579.5" stroke="#000" stroke-width="1.1"/>
<text x="140.0" y="590.1" class="tl" text-anchor="end">−10</text>
<text transform="translate(522,76.8) scale(1,1.17)" class="mono" text-anchor="middle">Ion<tspan dy="1.6">_</tspan><tspan dy="-1.6">ekbar at 280.096614 fs</tspan></text>
<text transform="translate(469,689.6) scale(1,1.17)" class="mono">X [<tspan class="it" letter-spacing="2.4">μm</tspan>]</text>
<text transform="translate(67,408) rotate(-90) scale(1,1.17)" class="mono">Z [<tspan class="it" letter-spacing="2.4">μm</tspan>]</text>
<text transform="translate(1056.5,474) rotate(-90) scale(1,1.17)" class="mono">Ion_ekbar[MeV]</text>
</svg>
</body></html>
